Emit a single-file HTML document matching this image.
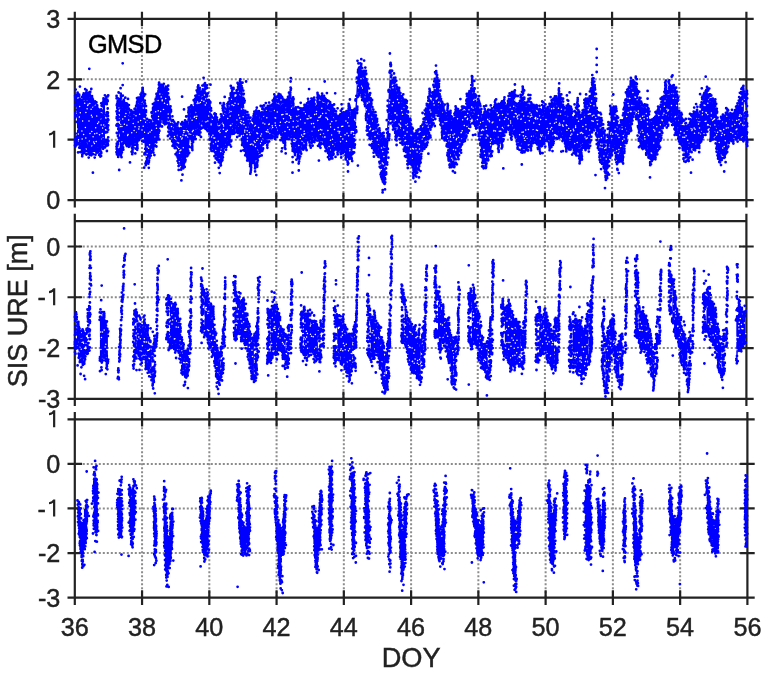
<!DOCTYPE html>
<html><head><meta charset="utf-8"><style>
html,body{margin:0;padding:0;background:#fff;width:768px;height:675px;overflow:hidden}
svg{display:block;font-family:"Liberation Sans",sans-serif;will-change:transform}
</style></head><body>
<svg width="768" height="675" viewBox="0 0 768 675">
<defs><clipPath id="pc"><rect x="73.60" y="17.75" width="674.00" height="183.55"/><rect x="73.60" y="219.90" width="674.00" height="180.10"/><rect x="73.60" y="418.10" width="675.00" height="180.70"/></clipPath></defs>
<rect width="768" height="675" fill="#fff"/>
<path d="M141.96 18.95V200.10M209.12 18.95V200.10M276.28 18.95V200.10M343.44 18.95V200.10M410.60 18.95V200.10M477.76 18.95V200.10M544.92 18.95V200.10M612.08 18.95V200.10M679.24 18.95V200.10M74.80 139.72H746.40M74.80 79.33H746.40M141.96 221.10V398.80M209.12 221.10V398.80M276.28 221.10V398.80M343.44 221.10V398.80M410.60 221.10V398.80M477.76 221.10V398.80M544.92 221.10V398.80M612.08 221.10V398.80M679.24 221.10V398.80M74.80 348.03H746.40M74.80 297.26H746.40M74.80 246.49H746.40M142.06 419.30V597.60M209.32 419.30V597.60M276.58 419.30V597.60M343.84 419.30V597.60M411.10 419.30V597.60M478.36 419.30V597.60M545.62 419.30V597.60M612.88 419.30V597.60M680.14 419.30V597.60M74.80 553.03H747.40M74.80 508.45H747.40M74.80 463.88H747.40" stroke="#8c8c8c" stroke-width="2" stroke-dasharray="2 2" fill="none"/>
<path d="M74.80 18.95H746.40V200.10H74.80ZM74.80 11.65V26.25M74.80 192.80V207.40M141.96 11.65V26.25M141.96 192.80V207.40M209.12 11.65V26.25M209.12 192.80V207.40M276.28 11.65V26.25M276.28 192.80V207.40M343.44 11.65V26.25M343.44 192.80V207.40M410.60 11.65V26.25M410.60 192.80V207.40M477.76 11.65V26.25M477.76 192.80V207.40M544.92 11.65V26.25M544.92 192.80V207.40M612.08 11.65V26.25M612.08 192.80V207.40M679.24 11.65V26.25M679.24 192.80V207.40M746.40 11.65V26.25M746.40 192.80V207.40M67.50 200.10H82.10M739.10 200.10H753.70M67.50 139.72H82.10M739.10 139.72H753.70M67.50 79.33H82.10M739.10 79.33H753.70M67.50 18.95H82.10M739.10 18.95H753.70M74.80 221.10H746.40V398.80H74.80ZM74.80 213.80V228.40M74.80 391.50V406.10M141.96 213.80V228.40M141.96 391.50V406.10M209.12 213.80V228.40M209.12 391.50V406.10M276.28 213.80V228.40M276.28 391.50V406.10M343.44 213.80V228.40M343.44 391.50V406.10M410.60 213.80V228.40M410.60 391.50V406.10M477.76 213.80V228.40M477.76 391.50V406.10M544.92 213.80V228.40M544.92 391.50V406.10M612.08 213.80V228.40M612.08 391.50V406.10M679.24 213.80V228.40M679.24 391.50V406.10M746.40 213.80V228.40M746.40 391.50V406.10M67.50 398.80H82.10M739.10 398.80H753.70M67.50 348.03H82.10M739.10 348.03H753.70M67.50 297.26H82.10M739.10 297.26H753.70M67.50 246.49H82.10M739.10 246.49H753.70M74.80 419.30H747.40V597.60H74.80ZM74.80 412.00V426.60M74.80 590.30V604.90M142.06 412.00V426.60M142.06 590.30V604.90M209.32 412.00V426.60M209.32 590.30V604.90M276.58 412.00V426.60M276.58 590.30V604.90M343.84 412.00V426.60M343.84 590.30V604.90M411.10 412.00V426.60M411.10 590.30V604.90M478.36 412.00V426.60M478.36 590.30V604.90M545.62 412.00V426.60M545.62 590.30V604.90M612.88 412.00V426.60M612.88 590.30V604.90M680.14 412.00V426.60M680.14 590.30V604.90M747.40 412.00V426.60M747.40 590.30V604.90M67.50 597.60H82.10M740.10 597.60H754.70M67.50 553.03H82.10M740.10 553.03H754.70M67.50 508.45H82.10M740.10 508.45H754.70M67.50 463.88H82.10M740.10 463.88H754.70M67.50 419.30H82.10M740.10 419.30H754.70" stroke="#222222" stroke-width="2.2" fill="none"/>
<g clip-path="url(#pc)"><path d="M77 98.9 78 99.8 79 100.7 80 101.8 81 104.9 82 104 83 101.5 84 97.7 85 97.7 86 98.1 87 98.4 88 99.8 89 97.4 90 97.2 91 98.1 92 101.1 93 103.5 94 104.8 95 106.9 96 106.9 97 112.7 98 115.1 99 117 100 116.8 101 113.1 102 115.2 103 107.1 104 106.7 105 104.4 105 142.7 104 140.2 103 139.8 102 142.7 101 151.6 100 150.5 99 151 98 147.5 97 148.5 96 148.1 95 145.9 94 146.8 93 147.5 92 148.1 91 150.7 90 150.1 89 151.7 88 147.3 87 141.9 86 143.3 85 144.9 84 147.5 83 145.9 82 143.8 81 147 80 143.8 79 144.3 78 138.7 77 138.1ZM119.9 103.9 120.9 107.3 121.9 108.2 122.9 105.1 123.9 103.7 124.9 105.2 125.9 109.4 126.9 108.2 127.9 111.1 128.9 109.7 129.9 114.3 130.9 114.7 131.9 117.8 132.9 116.6 133.9 116.6 134.9 113.3 135.9 111 136.9 104.3 137.9 104.2 138.9 102.5 139.9 105.2 140.9 100 141.9 97.6 142.9 94.1 143.9 96.1 144.9 104.8 145.9 114.1 146.9 123.2 147.9 128.2 148.9 127.7 149.9 126.9 150.9 122.5 151.9 117.5 152.9 111.2 153.9 109 154.9 106.2 155.9 102.2 156.9 96 157.9 92.5 158.9 88.7 159.9 90.6 160.9 89.7 161.9 90.3 162.9 90.8 163.9 91.4 164.9 92.5 165.9 89.3 166.9 91.9 167.9 92.9 168.9 100.2 169.9 107.4 170.9 114.9 171.9 120.8 172.9 125 173.9 129.5 174.9 129.1 175.9 129.4 176.9 129 177.9 132.3 178.9 132.9 179.9 132.1 180.9 128.2 181.9 127.1 182.9 127 183.9 124.6 184.9 124.8 185.9 124.7 186.9 129.1 187.9 126.4 188.9 121.3 189.9 116 190.9 111.7 191.9 110.1 192.9 111.4 193.9 111.3 194.9 108.3 195.9 100.8 196.9 98.1 197.9 97.5 198.9 98.9 199.9 98.1 200.9 93.9 201.9 92.5 202.9 88.5 203.9 90.6 204.9 87.8 205.9 92.2 206.9 98.9 207.9 103.8 208.9 107.7 209.9 106.2 210.9 113.8 211.9 120.5 212.9 123.7 213.9 120.7 214.9 117.7 215.9 118.5 216.9 121.8 217.9 126.7 218.9 127.3 219.9 126.7 220.9 120.4 221.9 118.1 222.9 108.8 223.9 107.8 224.9 111.1 225.9 115.3 226.9 114 227.9 115.8 228.9 108.2 229.9 102.8 230.9 97.4 231.9 92.7 232.9 94.2 233.9 91.8 234.9 99.2 235.9 96.8 236.9 94.7 237.9 87.8 238.9 87.5 239.9 90.7 240.9 92.9 241.9 92.7 242.9 97.8 243.9 101.9 244.9 114.9 245.9 117.7 246.9 120.6 247.9 119.5 248.9 121 249.9 125.8 250.9 127.5 251.9 129.1 252.9 124.7 253.9 120.5 254.9 118.9 255.9 116.6 256.9 115.2 257.9 114.5 258.9 114.9 259.9 118.7 260.9 116.9 261.9 113.9 262.9 113 263.9 113.7 264.9 113.7 265.9 112.5 266.9 112.9 267.9 109.7 268.9 107.7 269.9 107.1 270.9 112.5 271.9 109.4 272.9 104 273.9 98.8 274.9 100 275.9 101.3 276.9 104.3 277.9 100.2 278.9 101.5 279.9 101.8 280.9 106.2 281.9 108.7 282.9 103.5 283.9 104.2 284.9 104 285.9 108.7 286.9 103.7 287.9 103.8 288.9 99.8 289.9 95.7 290.9 89.5 291.9 101.6 292.9 109.5 293.9 111.6 294.9 115.5 295.9 116.2 296.9 118.4 297.9 117.2 298.9 117.1 299.9 112.1 300.9 111.8 301.9 112.8 302.9 112.9 303.9 112.8 304.9 110.6 305.9 108.1 306.9 108.3 307.9 108.5 308.9 108.5 309.9 107.9 310.9 107.7 311.9 106.3 312.9 103.7 313.9 104.7 314.9 106.6 315.9 106.6 316.9 107.9 317.9 106.5 318.9 105.9 319.9 102.5 320.9 100.8 321.9 98.4 322.9 98.2 323.9 99 324.9 103.1 325.9 105.7 326.9 105.7 327.9 110.5 328.9 106.8 329.9 112.6 330.9 111.5 331.9 115.7 332.9 111.9 333.9 113.5 334.9 118.5 335.9 123.2 336.9 121.7 337.9 119.1 338.9 115.7 339.9 118.7 340.9 117.3 341.9 117.4 342.9 118.2 343.9 117.3 344.9 116.7 345.9 116.6 346.9 116 347.9 114 348.9 111.1 349.9 111.7 350.9 116.4 351.9 117.3 352.9 116.1 353.9 114.9 354.9 113.4 355.9 100.8 356.9 82.5 357.9 72.7 358.9 69.5 359.9 67.8 360.9 66.5 361.9 71.9 362.9 73.9 363.9 75.2 364.9 75.5 365.9 78 366.9 85 367.9 88 368.9 96.7 369.9 98.4 370.9 103 371.9 111 372.9 114.1 373.9 121.8 374.9 120 375.9 119.7 376.9 123.8 377.9 129.1 378.9 135.2 379.9 135.7 380.9 140.3 381.9 137.6 382.9 140.9 383.9 140.7 384.9 144.5 385.9 141.2 386.9 132.2 387.9 109.9 388.9 90.1 389.9 70.7 390.9 69.9 391.9 75.2 392.9 80.6 393.9 81.9 394.9 84.7 395.9 89.2 396.9 93.3 397.9 94.9 398.9 92.1 399.9 96 400.9 98.2 401.9 103.2 402.9 101.7 403.9 105.2 404.9 105 405.9 104.5 406.9 107.6 407.9 116.5 408.9 123.1 409.9 127.1 410.9 128.8 411.9 130.4 412.9 132.6 413.9 137.6 414.9 139.8 415.9 139.1 416.9 136.5 417.9 137.7 418.9 133.6 419.9 134.6 420.9 132.1 421.9 132.2 422.9 128.4 423.9 122.9 424.9 117.3 425.9 112.2 426.9 108.7 427.9 105 428.9 100.8 429.9 99.3 430.9 101.2 431.9 98.3 432.9 94.7 433.9 86.2 434.9 80.9 435.9 76.7 436.9 79.8 437.9 82.4 438.9 88.5 439.9 95.5 440.9 100.5 441.9 106.5 442.9 105.5 443.9 113 444.9 113.2 445.9 118.7 446.9 115.9 447.9 117.4 448.9 114.9 449.9 115.4 450.9 115.4 451.9 120.9 452.9 125.9 453.9 122.8 454.9 119.2 455.9 113.7 456.9 114.8 457.9 115.7 458.9 114.9 459.9 116 460.9 114.9 461.9 111.2 462.9 111.4 463.9 111.4 464.9 114.1 465.9 107.7 466.9 100.1 467.9 99.4 468.9 97.4 469.9 94.5 470.9 88.2 471.9 89.8 472.9 93.7 473.9 90.5 474.9 93.9 475.9 95.9 476.9 105.2 477.9 103.5 478.9 106.2 479.9 108.7 480.9 114 481.9 120.2 482.9 116.2 483.9 116 484.9 114.4 485.9 117.1 486.9 115.9 487.9 116.7 488.9 118.2 489.9 118.3 490.9 115 491.9 113.8 492.9 111.7 493.9 110.5 494.9 107.6 495.9 107.3 496.9 107.7 497.9 107.8 498.9 108.3 499.9 107.7 500.9 110.2 501.9 110.3 502.9 109.7 503.9 104.7 504.9 105 505.9 108.2 506.9 111.6 507.9 109.8 508.9 103.1 509.9 101.4 510.9 98.5 511.9 102.6 512.9 95.3 513.9 95.6 514.9 96.4 515.9 108 516.9 111.3 517.9 109.6 518.9 105.9 519.9 105 520.9 101.1 521.9 98.2 522.9 98.6 523.9 102.7 524.9 105.2 525.9 108.1 526.9 107.1 527.9 106.3 528.9 103.3 529.9 107.6 530.9 108.5 531.9 110 532.9 109.3 533.9 109.2 534.9 110.2 535.9 109.7 536.9 112 537.9 112.9 538.9 114.5 539.9 112 540.9 112.7 541.9 109.6 542.9 113.7 543.9 110.1 544.9 112.7 545.9 110.4 546.9 113.8 547.9 111.9 548.9 111.9 549.9 106.7 550.9 107.7 551.9 104.8 552.9 107.2 553.9 101.8 554.9 100.5 555.9 99.6 556.9 102.4 557.9 104.3 558.9 102.1 559.9 98.2 560.9 98.6 561.9 100.9 562.9 105.6 563.9 110.5 564.9 116.1 565.9 115.5 566.9 110.7 567.9 105 568.9 107.8 569.9 106.7 570.9 111.2 571.9 112.7 572.9 120.8 573.9 121.9 574.9 118.6 575.9 112.6 576.9 110 577.9 111.7 578.9 115.9 579.9 119.9 580.9 119.6 581.9 119.9 582.9 116.2 583.9 112.4 584.9 107.1 585.9 101.8 586.9 103.3 587.9 104.8 588.9 106.1 589.9 99 590.9 91.8 591.9 85.9 592.9 89.8 593.9 85.1 594.9 91.6 595.9 99.4 596.9 112.8 597.9 116.6 598.9 121.4 599.9 121.4 600.9 121.7 601.9 129.3 602.9 130.9 603.9 143.5 604.9 144.3 605.9 154.9 606.9 143.5 607.9 138.9 608.9 128.8 609.9 124.7 610.9 118 611.9 116.7 612.9 115 613.9 109.9 614.9 111.4 615.9 111.4 616.9 115.6 617.9 122.2 618.9 127.5 619.9 129.7 620.9 124.9 621.9 123.3 622.9 119.4 623.9 112.6 624.9 104.7 625.9 98.1 626.9 94.6 627.9 94.7 628.9 91.2 629.9 89.9 630.9 85.2 631.9 85 632.9 85.3 633.9 86.9 634.9 88.2 635.9 86.7 636.9 88.9 637.9 93.5 638.9 101.7 639.9 101.8 640.9 106.4 641.9 108 642.9 113.2 643.9 113.1 644.9 110.3 645.9 110.2 646.9 108.4 647.9 111.3 648.9 116.2 649.9 123.4 650.9 124.8 651.9 124.3 652.9 123 653.9 122.4 654.9 121 655.9 118.3 656.9 116.5 657.9 114.2 658.9 113.8 659.9 111.7 660.9 109 661.9 102.8 662.9 100.7 663.9 96.7 664.9 94.6 665.9 94.3 666.9 96.2 667.9 98.9 668.9 94 669.9 92.5 670.9 90.7 671.9 90.1 672.9 90 673.9 89.1 674.9 94.5 675.9 94.7 676.9 98.3 677.9 101.4 678.9 115 679.9 121.2 680.9 127.6 681.9 123.2 682.9 129.9 683.9 127.8 684.9 127.1 685.9 126.8 686.9 128.5 687.9 129.3 688.9 129 689.9 122.9 690.9 123.3 691.9 118.8 692.9 122.1 693.9 116.3 694.9 116.9 695.9 112.7 696.9 115 697.9 116.1 698.9 119.8 699.9 115.6 700.9 109.8 701.9 102.5 702.9 101.2 703.9 99.5 704.9 93.7 705.9 94.5 706.9 91.3 707.9 95.2 708.9 95.5 709.9 99.3 710.9 99.6 711.9 99.8 712.9 103.3 713.9 105.3 714.9 106.6 715.9 108.1 716.9 115.4 717.9 122.3 718.9 126.7 719.9 125 720.9 122.4 721.9 123.6 722.9 121 723.9 120.3 724.9 116.6 725.9 113.2 726.9 110.9 727.9 113.6 728.9 116.6 729.9 116.8 730.9 118.3 731.9 118.9 732.9 121.1 733.9 117.7 734.9 115.1 735.9 114.3 736.9 111.7 737.9 106.9 738.9 102.9 739.9 99.8 740.9 97.7 741.9 91.7 742.9 90.4 743.9 91.7 743.9 127.7 742.9 129.9 741.9 131.4 740.9 134.1 739.9 133.7 738.9 135 737.9 137.2 736.9 138.4 735.9 135.1 734.9 131.7 733.9 136.3 732.9 138.6 731.9 137.3 730.9 134.6 729.9 135.7 728.9 140.4 727.9 142.5 726.9 148.2 725.9 149.7 724.9 156 723.9 154 722.9 153.7 721.9 153.1 720.9 154.2 719.9 156.1 718.9 157.3 717.9 153.1 716.9 144.3 715.9 138 714.9 129 713.9 131.6 712.9 125.8 711.9 127.2 710.9 127.3 709.9 121.7 708.9 118.3 707.9 118.1 706.9 125.7 705.9 127.2 704.9 125.6 703.9 126.6 702.9 131.4 701.9 134.2 700.9 137.7 699.9 139.3 698.9 143.2 697.9 141.4 696.9 141.3 695.9 142.1 694.9 146 693.9 146.8 692.9 145.9 691.9 146 690.9 144.5 689.9 146.5 688.9 150.5 687.9 156.2 686.9 154 685.9 152.4 684.9 150.2 683.9 153.5 682.9 148.2 681.9 142.3 680.9 136.9 679.9 139 678.9 137.4 677.9 130.9 676.9 128.8 675.9 128.3 674.9 127 673.9 120.2 672.9 116.3 671.9 115.7 670.9 115.4 669.9 112.2 668.9 114 667.9 119.7 666.9 121.7 665.9 117.9 664.9 117.3 663.9 118.9 662.9 125.1 661.9 127.4 660.9 135.5 659.9 137.7 658.9 141.6 657.9 145.8 656.9 148.3 655.9 150.3 654.9 152.1 653.9 154.6 652.9 155.4 651.9 156.7 650.9 158.2 649.9 159.6 648.9 152.7 647.9 149.7 646.9 142.8 645.9 145.3 644.9 146.2 643.9 145.5 642.9 142.1 641.9 139 640.9 141.9 639.9 136.7 638.9 130.4 637.9 123.4 636.9 118.5 635.9 113.8 634.9 108.7 633.9 110.1 632.9 115.6 631.9 120.4 630.9 123.4 629.9 123 628.9 126.6 627.9 124.8 626.9 129.3 625.9 130.9 624.9 141.3 623.9 149 622.9 153.1 621.9 152 620.9 152.9 619.9 156 618.9 160 617.9 160.2 616.9 159.5 615.9 157.9 614.9 148.3 613.9 144.7 612.9 141.1 611.9 144.5 610.9 145 609.9 152.2 608.9 161.7 607.9 167.7 606.9 173.6 605.9 173.5 604.9 167.5 603.9 163.9 602.9 159 601.9 159.5 600.9 158.1 599.9 156.1 598.9 150.8 597.9 143.2 596.9 137.1 595.9 130.3 594.9 126 593.9 125.3 592.9 126.3 591.9 126.5 590.9 136.2 589.9 141.4 588.9 143.4 587.9 142.2 586.9 144.6 585.9 145.2 584.9 143.2 583.9 142.2 582.9 141.9 581.9 145.9 580.9 147 579.9 149.8 578.9 146.8 577.9 146.1 576.9 147.1 575.9 148.9 574.9 147.7 573.9 145.9 572.9 142.9 571.9 142.4 570.9 144.2 569.9 143.9 568.9 144.8 567.9 142.8 566.9 141.6 565.9 139.4 564.9 138 563.9 137.3 562.9 137.5 561.9 133.5 560.9 134.2 559.9 127.9 558.9 130.8 557.9 131.5 556.9 133.2 555.9 132.8 554.9 131.5 553.9 134.5 552.9 138.9 551.9 141.6 550.9 142.2 549.9 139.8 548.9 138.2 547.9 135.2 546.9 136.6 545.9 132.6 544.9 136.7 543.9 135.8 542.9 139.3 541.9 140.2 540.9 144.4 539.9 149 538.9 146.8 537.9 144.6 536.9 142.4 535.9 140 534.9 136.7 533.9 131.4 532.9 137 531.9 140 530.9 141.5 529.9 135.7 528.9 137.9 527.9 141.6 526.9 145.9 525.9 144 524.9 144.1 523.9 146.6 522.9 147.6 521.9 146.6 520.9 141.4 519.9 140.4 518.9 140.8 517.9 143.7 516.9 140.7 515.9 134.1 514.9 129.9 513.9 128.1 512.9 128.9 511.9 127.1 510.9 127.6 509.9 127.7 508.9 124.3 507.9 123.4 506.9 122.4 505.9 125.1 504.9 125.3 503.9 131.2 502.9 135.3 501.9 134.8 500.9 134.3 499.9 135.9 498.9 141.5 497.9 139.4 496.9 138.7 495.9 137.1 494.9 137 493.9 134.8 492.9 140.4 491.9 147.1 490.9 151.5 489.9 148.7 488.9 148.6 487.9 155.2 486.9 158.8 485.9 164.1 484.9 164.2 483.9 161.8 482.9 158.8 481.9 155.5 480.9 149.6 479.9 140.3 478.9 132.3 477.9 123.9 476.9 123.1 475.9 122.6 474.9 122.2 473.9 117.9 472.9 113.5 471.9 111.8 470.9 111.6 469.9 119.6 468.9 123.3 467.9 129.6 466.9 130.9 465.9 134.1 464.9 133.9 463.9 134.3 462.9 137.9 461.9 141 460.9 148 459.9 148.1 458.9 152.2 457.9 152.4 456.9 153.6 455.9 154.8 454.9 159.7 453.9 164.3 452.9 164.8 451.9 164.6 450.9 161.9 449.9 164.3 448.9 156.5 447.9 151.5 446.9 141.2 445.9 136.4 444.9 133.5 443.9 134.7 442.9 131.1 441.9 127.3 440.9 121.2 439.9 117.4 438.9 111.1 437.9 107.3 436.9 108.5 435.9 108.9 434.9 111.7 433.9 113.3 432.9 116.8 431.9 120.9 430.9 123.4 429.9 125.7 428.9 132.4 427.9 133.6 426.9 140.9 425.9 139.2 424.9 143.5 423.9 139.4 422.9 143 421.9 146 420.9 155 419.9 158.9 418.9 161.8 417.9 164.1 416.9 168.5 415.9 169 414.9 170.5 413.9 164.4 412.9 165 411.9 160.7 410.9 159.9 409.9 154.7 408.9 158.9 407.9 160.8 406.9 157.2 405.9 149 404.9 145.8 403.9 144.6 402.9 140.3 401.9 136.8 400.9 134.5 399.9 132.4 398.9 129.5 397.9 130.1 396.9 133.3 395.9 132.3 394.9 130.8 393.9 125.8 392.9 122.6 391.9 115.1 390.9 113 389.9 115.1 388.9 136.1 387.9 148.8 386.9 161.9 385.9 169.6 384.9 176.7 383.9 179.7 382.9 177.9 381.9 176.7 380.9 172 379.9 162.3 378.9 152.4 377.9 147.2 376.9 147.8 375.9 147.7 374.9 146.1 373.9 148.9 372.9 143 371.9 141.8 370.9 135.1 369.9 136 368.9 134.5 367.9 130.6 366.9 128.1 365.9 114.4 364.9 100.6 363.9 94 362.9 94.8 361.9 93.1 360.9 91 359.9 88.6 358.9 89 357.9 92.2 356.9 105.4 355.9 128.6 354.9 141.7 353.9 145 352.9 147.8 351.9 153.9 350.9 154.6 349.9 154.6 348.9 154.8 347.9 159 346.9 154 345.9 154 344.9 146.5 343.9 145.4 342.9 144.4 341.9 148.4 340.9 150.1 339.9 147.1 338.9 144.7 337.9 144 336.9 143.7 335.9 144.3 334.9 145.6 333.9 148.4 332.9 151.5 331.9 153.6 330.9 154.1 329.9 152 328.9 150.4 327.9 149.5 326.9 145.2 325.9 144.1 324.9 142.5 323.9 141 322.9 136.2 321.9 135.3 320.9 138.4 319.9 139 318.9 138.4 317.9 138.2 316.9 135.8 315.9 132.2 314.9 128.4 313.9 131.7 312.9 134.4 311.9 138.8 310.9 139.1 309.9 138.2 308.9 134.6 307.9 132.2 306.9 138.1 305.9 138.2 304.9 143.6 303.9 141.4 302.9 145.2 301.9 144.9 300.9 148.3 299.9 150.9 298.9 157.4 297.9 153.8 296.9 153.4 295.9 146.7 294.9 149.4 293.9 149.3 292.9 148.5 291.9 141.9 290.9 133.3 289.9 133.1 288.9 134.8 287.9 131.2 286.9 133.1 285.9 135.3 284.9 136.9 283.9 138.4 282.9 135.7 281.9 135.3 280.9 132 279.9 128.9 278.9 128.1 277.9 128.8 276.9 132.8 275.9 133.9 274.9 135.4 273.9 131.2 272.9 134.5 271.9 133 270.9 133.6 269.9 131 268.9 135.3 267.9 137.9 266.9 140.4 265.9 136.9 264.9 138.7 263.9 141.3 262.9 144.6 261.9 151 260.9 148.1 259.9 148.4 258.9 145.2 257.9 145 256.9 153.2 255.9 157.5 254.9 164.2 253.9 160.5 252.9 158.5 251.9 157.9 250.9 160.1 249.9 162.2 248.9 157.9 247.9 155.2 246.9 149.6 245.9 148.5 244.9 147.2 243.9 145.3 242.9 144.4 241.9 135.5 240.9 132.1 239.9 127.7 238.9 126.1 237.9 126.5 236.9 126.8 235.9 123.8 234.9 120.4 233.9 121.7 232.9 126.8 231.9 132.4 230.9 138.2 229.9 140.7 228.9 139.6 227.9 140.1 226.9 141.3 225.9 143.8 224.9 142.2 223.9 144.3 222.9 151.2 221.9 156.4 220.9 159.7 219.9 157.3 218.9 158.7 217.9 154.6 216.9 155.6 215.9 153.6 214.9 153.1 213.9 149.3 212.9 147.2 211.9 146.3 210.9 143.7 209.9 137.3 208.9 130.6 207.9 128.9 206.9 125.8 205.9 124.7 204.9 121.1 203.9 122.6 202.9 122.8 201.9 122.6 200.9 125 199.9 127.3 198.9 130.7 197.9 127.3 196.9 126.3 195.9 129 194.9 132.7 193.9 135.1 192.9 136.1 191.9 136.5 190.9 137.4 189.9 137.9 188.9 148.1 187.9 151.2 186.9 154.6 185.9 155.5 184.9 159.3 183.9 163.2 182.9 163.6 181.9 159.3 180.9 158.3 179.9 157.3 178.9 161.5 177.9 157.1 176.9 151 175.9 143.9 174.9 142.4 173.9 141.3 172.9 141 171.9 137.4 170.9 132.8 169.9 132.4 168.9 127.9 167.9 125 166.9 116.1 165.9 115.2 164.9 112.3 163.9 112.4 162.9 113 161.9 115.7 160.9 119.4 159.9 125.1 158.9 130.5 157.9 134.6 156.9 135.5 155.9 139.1 154.9 142 153.9 142.6 152.9 144.9 151.9 147.5 150.9 151.7 149.9 152.4 148.9 157.2 147.9 158.8 146.9 160.5 145.9 160.7 144.9 149.6 143.9 137 142.9 131 141.9 132.9 140.9 133.4 139.9 133.6 138.9 135.2 137.9 133.7 136.9 136.2 135.9 138.5 134.9 140.7 133.9 138.9 132.9 140.6 131.9 140.3 130.9 140.3 129.9 138.8 128.9 140.8 127.9 141.5 126.9 142 125.9 139.8 124.9 138.3 123.9 138.7 122.9 142.8 121.9 145.8 120.9 148.4 119.9 150.5ZM77 320.8 78 326.2 79 333.3 80 338.1 81 339.6 82 339.2 83 334.5 84 335.1 85 337.9 85 357.8 84 359.4 83 357.7 82 356.6 81 358.1 80 357.5 79 354.2 78 347.4 77 342.6ZM99.9 318 100.9 317.3 101.9 319.2 102.9 322.7 103.9 325.7 104.9 323.8 105.9 327.4 106.9 331 107.9 336.3 107.9 360.9 106.9 357.8 105.9 356.4 104.9 352.5 103.9 355.4 102.9 353.5 101.9 359.6 100.9 356.2 99.9 357.4ZM136.6 321.3 137.6 324.5 138.6 325.7 139.6 323.8 140.6 331.5 141.6 330.1 142.6 329.9 143.6 323.1 144.6 325 145.6 328.9 146.6 331.3 147.6 338.9 148.6 341.9 149.6 344.8 150.6 345.2 151.6 352.6 151.6 372.5 150.6 366.7 149.6 367.3 148.6 364.9 147.6 366 146.6 355.1 145.6 355.4 144.6 349.4 143.6 351.9 142.6 351.4 141.6 355.5 140.6 355.6 139.6 355.2 138.6 350.9 137.6 348.9 136.6 348.6ZM169.9 304.2 170.9 304.2 171.9 310.2 172.9 310 173.9 312.9 174.9 310.2 175.9 311.7 176.9 315.4 177.9 322.6 178.9 325 179.9 327.3 180.9 331.4 181.9 340 182.9 346.4 183.9 355.3 184.9 360.2 185.9 361.3 185.9 372.5 184.9 372.4 183.9 373.1 182.9 369.1 181.9 366 180.9 356 179.9 351.6 178.9 346.5 177.9 347.4 176.9 345 175.9 345.7 174.9 346.5 173.9 343.6 172.9 343.9 171.9 344.2 170.9 344 169.9 341.3ZM204.4 297.1 205.4 298.5 206.4 298.1 207.4 300 208.4 306.3 209.4 311.3 210.4 318.3 211.4 317.3 212.4 322.9 213.4 320.2 214.4 329.4 215.4 334.7 216.4 344.6 217.4 350.7 218.4 353.5 219.4 360.8 220.4 355 220.4 376.2 219.4 380.5 218.4 377.9 217.4 376.2 216.4 375.9 215.4 366.5 214.4 362.1 213.4 352.4 212.4 350 211.4 346.4 210.4 346.2 209.4 345.8 208.4 340.4 207.4 337 206.4 334.8 205.4 330.9 204.4 328.6ZM236.9 303.1 237.9 300.4 238.9 300.2 239.9 300.9 240.9 306.5 241.9 308.4 242.9 308.5 243.9 308.8 244.9 314.1 245.9 318.6 246.9 318.9 247.9 325.7 248.9 329 249.9 335.4 250.9 336.9 251.9 343.3 252.9 342.9 253.9 343.5 253.9 374.7 252.9 374.5 251.9 374.1 250.9 368.3 249.9 363.5 248.9 356.3 247.9 350.8 246.9 341.7 245.9 339.4 244.9 337.4 243.9 337.1 242.9 336.4 241.9 336.7 240.9 336 239.9 330.6 238.9 327.7 237.9 328.3 236.9 329.9ZM270.7 315.5 271.7 313.9 272.7 309.7 273.7 306.3 274.7 306.5 275.7 309.3 276.7 311.5 277.7 313.4 278.7 315.5 279.7 321.5 280.7 328.9 281.7 333.8 282.7 335.4 283.7 336.2 284.7 339.8 285.7 339.1 285.7 359.5 284.7 356.5 283.7 353.3 282.7 350 281.7 349.1 280.7 349.6 279.7 344.6 278.7 343.7 277.7 345.5 276.7 349.8 275.7 350.4 274.7 348.5 273.7 348.7 272.7 349 271.7 353.6 270.7 355.5ZM303.9 312 304.9 315 305.9 318.5 306.9 320.1 307.9 315.7 308.9 318.4 309.9 319.2 310.9 328.7 311.9 324.4 312.9 325.8 313.9 324.7 314.9 326.7 315.9 330.7 316.9 328 317.9 333 317.9 351.7 316.9 350.8 315.9 356.7 314.9 355.9 313.9 354.9 312.9 347.8 311.9 348 310.9 346.4 309.9 347.4 308.9 351.5 307.9 351.5 306.9 353.6 305.9 350.9 304.9 351.1 303.9 350.9ZM337.2 323.7 338.2 326.1 339.2 323.9 340.2 324.5 341.2 323.7 342.2 325.2 343.2 320.1 344.2 326.9 345.2 330.3 346.2 337 347.2 338 348.2 339.1 349.2 340.7 350.2 339.2 351.2 340.2 352.2 334.4 352.2 363 351.2 366.4 350.2 369 349.2 367.9 348.2 367 347.2 365.8 346.2 365.5 345.2 361.6 344.2 355.7 343.2 356.3 342.2 358.2 341.2 359.8 340.2 356.1 339.2 355.1 338.2 351.4 337.2 353.5ZM370.7 319.6 371.7 324.5 372.7 323.8 373.7 322.9 374.7 323 375.7 325.4 376.7 329.3 377.7 331.3 378.7 328.4 379.7 330.6 380.7 339.4 381.7 344.6 382.7 347.5 383.7 351.4 384.7 360.6 385.7 361 385.7 379.8 384.7 384.5 383.7 379.9 382.7 378.8 381.7 371.5 380.7 362.6 379.7 354.9 378.7 351.4 377.7 350.1 376.7 349.3 375.7 351.2 374.7 353.6 373.7 353.7 372.7 354 371.7 352.1 370.7 355ZM404.7 303.6 405.7 311 406.7 320.4 407.7 322.2 408.7 325.7 409.7 326 410.7 325.8 411.7 328.7 412.7 329.7 413.7 330.5 414.7 327.6 415.7 334.5 416.7 338.7 417.7 344.3 418.7 339.3 419.7 347.1 420.7 349.4 420.7 377.3 419.7 375.2 418.7 373.4 417.7 370.9 416.7 370.9 415.7 369.6 414.7 369.9 413.7 371.5 412.7 372.2 411.7 369.4 410.7 364.5 409.7 358.5 408.7 357.7 407.7 350.4 406.7 347.4 405.7 343 404.7 342.6ZM438 295.2 439 295.7 440 301.1 441 306.6 442 315.8 443 318.3 444 322 445 324.3 446 324.4 447 326.9 448 323.8 449 327 450 332.5 451 339.5 452 344.8 453 345.9 453 376.6 452 372.4 451 367.3 450 361.5 449 356.4 448 351.9 447 349.1 446 348.6 445 341.7 444 338.5 443 335.3 442 340 441 345.5 440 344.6 439 342.6 438 334.3ZM471.8 300.6 472.8 298.5 473.8 298.1 474.8 306 475.8 310.3 476.8 313.4 477.8 316.1 478.8 318.7 479.8 327.1 480.8 330.3 481.8 340.5 482.8 342.6 483.8 349 484.8 349.9 485.8 349.4 486.8 345.6 487.8 346 487.8 372.8 486.8 367.9 485.8 368.7 484.8 368.9 483.8 363.9 482.8 364 481.8 359.4 480.8 363.4 479.8 356.7 478.8 351.5 477.8 343.9 476.8 342.7 475.8 339.8 474.8 335.5 473.8 335.5 472.8 338.6 471.8 344.5ZM504.8 313.4 505.8 317.2 506.8 310.7 507.8 309.9 508.8 306.1 509.8 308.4 510.8 310.8 511.8 315.6 512.8 320.5 513.8 323.9 514.8 324.9 515.8 325.9 516.8 329.8 517.8 330.9 518.8 329.4 519.8 329.5 520.8 335.2 520.8 363.6 519.8 361.6 518.8 362.3 517.8 361.7 516.8 360.2 515.8 359.5 514.8 363.3 513.8 361.7 512.8 363.1 511.8 360.9 510.8 364.3 509.8 359.6 508.8 358.2 507.8 355.1 506.8 352.4 505.8 353.4 504.8 350.9ZM539.1 314.4 540.1 316.2 541.1 319.8 542.1 326.4 543.1 321.2 544.1 316.9 545.1 312.8 546.1 315.9 547.1 322.8 548.1 323.1 549.1 327.7 550.1 329.2 551.1 335.2 552.1 336.9 553.1 335.7 554.1 332.1 554.1 361.4 553.1 361.8 552.1 364.1 551.1 360.5 550.1 358.1 549.1 357.4 548.1 356.8 547.1 356.5 546.1 347.4 545.1 344.9 544.1 344 543.1 348.9 542.1 347.5 541.1 350.9 540.1 351.3 539.1 355.2ZM572.6 328.9 573.6 325.8 574.6 325.8 575.6 323.4 576.6 323.5 577.6 324.3 578.6 324.6 579.6 325.4 580.6 324.3 581.6 331 582.6 330 583.6 335.4 584.6 330.2 585.6 329.3 586.6 322.3 587.6 319.5 588.6 319.1 588.6 359.5 587.6 359.8 586.6 365.1 585.6 368.5 584.6 369.5 583.6 368.6 582.6 372.5 581.6 375.8 580.6 371.6 579.6 367.6 578.6 368.8 577.6 369.5 576.6 366.7 575.6 362.6 574.6 362.1 573.6 364.4 572.6 361.8ZM605.3 343.1 606.3 345.3 607.3 343.2 608.3 336.5 609.3 333.8 610.3 325.9 611.3 324.6 612.3 323.4 613.3 319 614.3 325.1 615.3 338 616.3 351 617.3 349.1 618.3 348.6 619.3 346 619.3 377 618.3 376.1 617.3 370.3 616.3 372.6 615.3 362.7 614.3 355.2 613.3 345.1 612.3 350 611.3 353.2 610.3 357.3 609.3 365.8 608.3 375.9 607.3 385.5 606.3 389.2 605.3 385.9ZM638.5 302 639.5 313.7 640.5 316.4 641.5 316.9 642.5 315.6 643.5 318.8 644.5 321.2 645.5 325.4 646.5 325.9 647.5 328.7 648.5 330.5 649.5 335.5 650.5 337.6 651.5 343.8 652.5 351.7 653.5 360 654.5 357.8 654.5 373 653.5 376.8 652.5 374.4 651.5 370.1 650.5 364.3 649.5 360.6 648.5 358.5 647.5 359.3 646.5 354.5 645.5 349.4 644.5 344.4 643.5 342.7 642.5 344.8 641.5 346.9 640.5 344.5 639.5 338.8 638.5 334.6ZM672.3 283.6 673.3 285.2 674.3 291.8 675.3 297.4 676.3 300.4 677.3 311.3 678.3 317 679.3 323.1 680.3 324 681.3 328.8 682.3 333.4 683.3 336.2 684.3 335.4 685.3 341.4 686.3 344.6 687.3 346.7 687.3 378.3 686.3 371.7 685.3 364.1 684.3 365.4 683.3 360.2 682.3 357 681.3 348.9 680.3 349.4 679.3 342.8 678.3 339.8 677.3 335.7 676.3 335.6 675.3 329.5 674.3 327.6 673.3 318.6 672.3 317.1ZM706.4 303.4 707.4 296.9 708.4 292.8 709.4 293.5 710.4 299.2 711.4 303.9 712.4 306.3 713.4 307.6 714.4 310.3 715.4 312.4 716.4 319.2 717.4 326.9 718.4 334.5 719.4 341 720.4 343.4 721.4 348.2 721.4 372.3 720.4 370.7 719.4 366.2 718.4 355.5 717.4 351.4 716.4 344.8 715.4 344.9 714.4 341.4 713.4 339 712.4 339.1 711.4 336.5 710.4 333.6 709.4 331.6 708.4 327.8 707.4 326.6 706.4 326.3ZM736.3 318.8 737.3 316.6 738.3 313.3 739.3 313.4 740.3 312.2 741.3 315 742.3 316.4 743.3 319.5 744.3 314.7 745.3 314.3 745.3 337.5 744.3 337.3 743.3 340.5 742.3 342.6 741.3 347.4 740.3 343.2 739.3 346.6 738.3 347.5 737.3 357.8 736.3 360.1Z" fill="#0000ff"/><path d="M77.1 129h0m-0.4-13.7h0m1.7 18.7h0m0.1 5.7h0m0.9-22.7h0m0.4-10.5h0m0.5 6.3h0m0.9 32h0m0-2.2h0m0.7-11.5h0m0.2 7.9h0m0.7-35.6h0m-0.2 17.7h0m1 13.4h0m0.6-34.8h0m0.5 3.6h0m0.7 24.3h0m0.5-15.1h0m-0.1 25.4h0m1.5-38h0m-0.2 8.8h0m1-4.4h0m-0.4 1.3h0m1.5 35.3h0m-0.2-19.8h0m1 12.4h0m-0.2-30.1h0m1.4 45.9h0m-0.1-40h0m0.3 5.9h0m0.8 1.7h0m-0.3 29.1h0m-0.1-14.5h0m0.9-24.4h0m0.4 29.7h0m1.3 6.8h0m-0.7-1.6h0m1-8.2h0m0.8-25.6h0m0.2 19.6h0m0.5 13.6h0m0.7-8.2h0m-0.1-17.2h0m0.8 7.4h0m1.1-1.5h0m0.8 12.8h0m1.7-9.7h0m-0.4-6.3h0m1.5 14.7h0m-0.3 5.7h0m1.2-1h0m-0.6-10.1h0m1.1-2.9h0m1.4 1.6h0m-0.2-20.9h0m0.6 9.7h0m0.8 11.4h0m0.6-9.4h0m0.6 21.2h0m0.1-8.2h0m0.5-0.2h0m8.5-15.3h0m0.4 19.4h0m1.4-23.9h0m-0.5 10.4h0m1.3-13.9h0m0 9.9h0m1.1 9.6h0m-0.7-6.3h0m1.1-11.3h0m-0.2 15.5h0m1.4 2h0m0.1 15.4h0m0.7-22.7h0m0.5 12.6h0m1.2-7.5h0m0.3 12.3h0m0.3-20.1h0m0.9-2.8h0m1 11.6h0m0.7 10.3h0m0.4-1h0m1.2-19h0m-0.5 4.5h0m1.2-4.4h0m0.9 0.2h0m0.9 17h0m1.5-9.4h0m-0.2-4.9h0m1.1 12.1h0m0.6 7.4h0m0.3-11.3h0m1-11h0m0.6 16.9h0m1-27.1h0m0.6 16.5h0m0.6 7.1h0m0.3-2.4h0m0.5-12.4h0m1 6.2h0m-0.1-16.1h0m1.4-2.4h0m0.1 28.1h0m1.2-3.8h0m0.1-18.2h0m0.7 10.4h0m0.1-14.7h0m0.4 28.4h0m0.7-13.2h0m0.5 3.2h0m0.5 34h0m0.8-2.6h0m0.3-6.6h0m1-13.7h0m0.3 14.9h0m1-3.4h0m0.4-12.9h0m1.3-8.4h0m0.5-3.2h0m-0.2 9.9h0m1-8.6h0m0.8-9.2h0m1.7 24.6h0m0.6-25.2h0m0.4 13.4h0m0.6-27.7h0m-0.2 30.8h0m1.7-17.6h0m-0.1-10.1h0m0.5 15.8h0m-0.2 3h0m1.4-25.3h0m0.1 26.5h0m1.3-23.7h0m-0.4 14.5h0m1.4-11.4h0m0 0.7h0m0.4-7.1h0m0.9 15.8h0m1-6.2h0m1.2-4.8h0m1.7 6.2h0m0.7 13.2h0m0.1-3.9h0m0.3 8.1h0m1.4-0.9h0m0.9 1.1h0m0.7 4.4h0m1.6 4.5h0m1.3 5.5h0m0.5 2h0m0.8 1.2h0m1.4 2.7h0m0.2 4.8h0m0.2-11.9h0m0.2-0.4h0m1 13.5h0m-0.1-5.4h0m0.9 10.1h0m0.4-2.5h0m1-0.8h0m-0.3-13.2h0m1.1 2.4h0m0.5-1.2h0m0.8-2.8h0m0.3 12.7h0m0.5-15.2h0m-0.3-2h0m1.3 0.1h0m1.4 4.8h0m-0.8 0.1h0m1.9-4.8h0m0.6 6.3h0m0.4-5.4h0m0.8 2.4h0m0.8-16.2h0m0.9 16.6h0m1.3-14.3h0m0.3 11.5h0m0.8-1.3h0m-0.1 0.1h0m1.2-13.2h0m0.6-0.7h0m1.5 1.9h0m-0.8-5.9h0m1.5-9h0m-0.3 12.7h0m0.8-14.2h0m1.3 1.1h0m0.9 20.4h0m0.6-21.2h0m1.3-2.1h0m0-3.8h0m0.7 24.9h0m0 0h0m1.5-20.1h0m1.4 3.6h0m-0.8-9.9h0m1.6 26.7h0m-0.5-22.8h0m0.9 4h0m1.3 18h0m0.9-4.9h0m1-4.3h0m0.5-4h0m0.9 17h0m0.2-1.5h0m0.3 13.8h0m1.3-1.7h0m0.4 8.8h0m0.6-6.1h0m0.8 0h0m0.9 4h0m0 8.6h0m1 2.5h0m1.1-7.1h0m0.5-4.7h0m0.7-10h0m0.3-1.1h0m0.8 2.3h0m0.2-3.8h0m0.5 22.7h0m0.7-2.4h0m0.8-26h0m1.1 1.4h0m0.1 4.8h0m0.3-13.6h0m-0.1 10.4h0m1.5 10.7h0m-0.5-23.6h0m1.2 18.5h0m0.5-0.1h0m1-1.2h0m0.4-11.7h0m1.5-6.7h0m-0.1-1.7h0m1.2 15.2h0m-0.2-9.4h0m0.9-4.6h0m-0.2 14.2h0m1.3-20.8h0m-0.7-5.6h0m1.1 24.8h0m1.3-18.6h0m1.2-2.1h0m0.7-3.5h0m1.1 20.3h0m1.5-16h0m0-13h0m0.3 23.9h0m1.6-20.3h0m-0.5 23.2h0m1.4 2.9h0m-0.6 1.9h0m1.3 1h0m-0.3-14.8h0m1.7 7.8h0m0 18.5h0m0.3-13.8h0m0.5 3h0m0-15.9h0m0.7 23.5h0m0.1-1.8h0m1.1-2.9h0m1.3 3.4h0m-0.2 3.8h0m0.5 3.4h0m-0.1 3h0m1.5-13.7h0m0.4 5.3h0m0.7 2.3h0m-0.3 26.4h0m0.7-16.8h0m1.2-13h0m0.3 12.6h0m1.4 1.1h0m-0.6-15.2h0m1.5 11.4h0m-0.1-15h0m0.9 16.3h0m0.4-17.1h0m0.1 21.1h0m1.3-13.7h0m-0.1 7.6h0m1.3-2h0m-0.4-5h0m1-6h0m1.8 16h0m0.9-25.1h0m-0.6 17.6h0m1 5.3h0m-0.2-7.3h0m1.7 4.8h0m-0.2-15.7h0m0.6-7h0m1.2 7.8h0m1.5 7.7h0m0.5-13.9h0m0 14.1h0m1.4 0.2h0m-0.4-2.3h0m1.5-5.7h0m-0.5 0.6h0m1.3 4h0m-0.7-18h0m1.5 18.4h0m1.3-3.3h0m0.4 1.8h0m1.6-17.1h0m0.9 7.4h0m0.1 5.1h0m0.4-5h0m-0.1 7.7h0m1.5 1.8h0m0.3-15.5h0m0.2-9h0m1.3 0.3h0m0.4 1h0m0.4 21.6h0m0.8-3.5h0m1.3-7.6h0m0.6 18.2h0m0.6-18.3h0m0.6 4.2h0m1.8 3.7h0m-0.3 8.9h0m0.6-20.7h0m0.5 3.3h0m0.7 7.4h0m0.5-7.5h0m0.4 13.3h0m1.7 2.6h0m-0.3-7.5h0m0.4-6.7h0m0.3-15.9h0m1 18.5h0m-0.1-1.4h0m0.9-8.5h0m0.3-4.1h0m1.4 17.1h0m-0.2 5.6h0m0.6 14.4h0m0.4-2.5h0m0.3-8h0m0.5 10.7h0m0.9-1.6h0m0.6-12.9h0m0.4-6.7h0m1.2 5.8h0m-0.2-5.1h0m1 24.6h0m1.6-26.2h0m-0.1 19.2h0m0.5-9.6h0m0.5-15.5h0m0.3 21.5h0m0.5 6.3h0m0.8-4.7h0m1-2.6h0m0.3-2.7h0m0.5 2.5h0m0.3-10.9h0m0.4-9.2h0m1.7 5.1h0m1 0h0m0.9-2.9h0m1.1 2.1h0m1-0.2h0m0.4 6h0m0.7 7.4h0m0.8-26.3h0m1.2 22.1h0m-0.7-3.5h0m1.1-8.9h0m1.8-0.5h0m0.1-2.9h0m1.3 9.3h0m1.1-3h0m-0.3 13.1h0m1.8-1h0m-0.3-12.5h0m0.7-1.4h0m-0.3 18.7h0m1.3-26.2h0m0 21.9h0m1.3-28h0m-0.5 11.4h0m1.1-11.4h0m-0.2 31.8h0m1.2 3.2h0m0.3-0.1h0m1-23.8h0m0 4.3h0m1.2 1h0m-0.7-11.5h0m1.4 23.5h0m-0.2-11.1h0m1.4 27h0m-0.2-35.8h0m1.3 39.4h0m0.1-25.9h0m0.2 16.2h0m0.1-13.2h0m1.2-5.6h0m-0.2 13.6h0m0.9 4.2h0m0.4 5.3h0m1.1-27h0m0.5 11.9h0m1.9 13.2h0m-0.9 0h0m1.9-0.6h0m0.7-10.8h0m0-3.9h0m1.1 5.5h0m0.5-1.4h0m0.8 10.2h0m0.3-5.3h0m0.8-9.8h0m1.2-0.3h0m0 12.7h0m1.2 5.1h0m1-9.3h0m0.9-13.9h0m0.6 20.4h0m0.5-8.1h0m0.7-10.5h0m0.5-5.1h0m0.8 8.3h0m-0.4 9.8h0m1.3 13h0m-0.1 2.1h0m1.5-19.3h0m-0.2 1.5h0m0.7 18.7h0m1.6-20h0m-0.7-0.1h0m1.1 2.9h0m0.5 3.1h0m0.3-18.2h0m0.3 0.6h0m1.2 1.2h0m0.6-24.4h0m0.7-12.4h0m1.3 3.3h0m1.7-18.2h0m0.6 9.2h0m0.5 7.6h0m0.9 1.7h0m1.1-10.3h0m1.3 16.5h0m0 2.7h0m0.9 7.9h0m0.6 5h0m0.9-6.9h0m-0.2 16.2h0m0.5 5.5h0m0-21.4h0m1.6-1.2h0m-0.3 11.7h0m0.8 16h0m-0.1-4.3h0m1 3.4h0m0-0.6h0m1.3 12.3h0m0.1-23.4h0m0.7 4h0m-0.1 10.2h0m1.2-0.5h0m1.3 5.8h0m1.2-6.5h0m1.1 9.9h0m0.5-6.4h0m0.7 11.3h0m1 14.7h0m0.9-19.1h0m0.1 23.7h0m0.8 5.3h0m1-6.6h0m-0.8-15h0m1.8 16h0m-0.5-12.3h0m1.1 4.8h0m-0.2-9.6h0m1.3 20.5h0m-0.3-20.4h0m1.5 19h0m0.4-26.5h0m0.2-5.8h0m1.4-13.4h0m-0.4 9.7h0m1-3.7h0m0.6-23.1h0m-0.5 9.4h0m0.9-23.5h0m-0.1 11.1h0m1.2-25.1h0m-0.1 3.9h0m1.6 6.3h0m-0.2 20.6h0m1.1-3.2h0m-0.3-14.9h0m0.5-3.9h0m0.2 37.7h0m1.1-8.6h0m0.6 7.4h0m0.7 7.6h0m-0.6-15h0m1.4 2h0m-0.2 14.7h0m0.8-30.1h0m0.4 28.5h0m1.1-4h0m-0.2-21.3h0m1.5 25.6h0m-0.3-3h0m0.6-4.3h0m0.1 5.2h0m1-15.8h0m0.8 3.8h0m0.2 23.2h0m1.4-29.9h0m-0.5 22.4h0m1.5 5.7h0m-0.2 5.1h0m0.7-0.3h0m0.4-15.6h0m1.1 7.3h0m-0.1-18.9h0m-0.3 32.5h0m0.9-21.6h0m0 2.5h0m0.8 19.1h0m1.8 7.4h0m0.4-4.2h0m0.5-13.7h0m0.7 0.4h0m0.2 22.8h0m0.6-9.9h0m0.9 0.5h0m1.7 20.5h0m-0.4-26.9h0m1.2 6.2h0m1.1 3.2h0m0.7-8.3h0m0.3-3.7h0m1.3 4.5h0m0.9 9.1h0m-0.8-4.6h0m1.4 3.6h0m1.4-13.3h0m1-2.6h0m1.1-0.5h0m0.5-12.8h0m1.4-2.2h0m0.7 2.9h0m-0.4 15.4h0m1.7-12.2h0m0.3-25.1h0m0.8 23h0m0.6-15.2h0m0.8 2h0m0.6-11.4h0m0.8 16.7h0m1.2-15.3h0m0.7 2.9h0m1-16.5h0m1.1 10.6h0m0.9-1h0m1 7.8h0m0.5-3.5h0m1.7-0.6h0m0.5 1.5h0m1.1 22.9h0m0.9-13.5h0m0 11.3h0m1.3 7.7h0m1-10.2h0m0.5 9.6h0m1.1-9.8h0m0.7 17.3h0m0.7 10.6h0m0.3-14h0m0.2 6h0m1.5-6.4h0m0.3 2.3h0m0 18.1h0m0.4-13.5h0m0.6-11.5h0m0.4 28.2h0m0.9 1.7h0m0.3-24.9h0m0.6 2.5h0m-0.1 12h0m1.5 3.8h0m-0.5-19.4h0m1.2 16.1h0m0.6-10.3h0m0.4-1.4h0m0.8 8.1h0m0-27.8h0m1.7 27h0m-0.7-8.5h0m1.5 5.3h0m1.3-9.9h0m-0.2 0.1h0m0.8 6h0m0.3-7.9h0m0.4-11.1h0m1.7 5.9h0m0.6-8.8h0m0.9-0.3h0m0.3 16.4h0m0.9-6.3h0m0.3-7h0m0.3-1.1h0m0.1-5h0m1.3-3.8h0m1.3 5.2h0m0.4-24.8h0m1 16.8h0m1.3 1.3h0m0.7-8h0m0.1 11.9h0m1.3-12.8h0m-0.4 21.5h0m1.5-13.6h0m1.2 12.2h0m1-3.8h0m0.6 9.6h0m1 9.7h0m0.2 2.8h0m0.2-15.1h0m1.2 7.9h0m0.3 4.2h0m1-13.4h0m-0.5 8.1h0m1.2 0.7h0m0.3 19.5h0m0.6 3.7h0m0.8 4h0m0.8-19.3h0m-0.1-11.7h0m1 8.6h0m-0.6-5.7h0m0.9-11.4h0m0.6 18.1h0m-0.2-16.3h0m1.4 1.2h0m0.4 1h0m0.8 20.5h0m0.3 2.6h0m0.1-6.4h0m1.5-15.7h0m-0.5 17.6h0m1.2-18.4h0m1 8.4h0m-0.2 0.8h0m0.8-19.8h0m1 19.7h0m0.6-22.6h0m1.1 4.2h0m0.2 14.3h0m0.7-11.6h0m0.2 21.8h0m1-6h0m-0.7-16.4h0m1 5.3h0m1.2 11.1h0m-0.2 0.1h0m1.8-3.9h0m0.1-13h0m1 14.3h0m1-9.3h0m1.5-1.9h0m1-4.9h0m0.8 1.4h0m0.6 5.1h0m1.6-11.8h0m0.5 13.6h0m0.1 2.1h0m1.4-12.6h0m0.9 15.8h0m0.8-20h0m0.3 10.5h0m0.8-16.6h0m0.5 13.3h0m0.3-4h0m1.4 7.5h0m-0.6-2.9h0m1.3 4.7h0m-0.2-2.7h0m1.5-1h0m0.6 19.7h0m1.7-15.6h0m-0.5 0.1h0m1.4-7h0m-0.2 20h0m1.4 3.5h0m-0.1-3.7h0m0.3-16h0m0.7 22.3h0m0.9-15.9h0m-0.2 18.2h0m0.7-4.1h0m0-6.4h0m1.6 8.3h0m1.1-8.8h0m-0.4-13.4h0m1 20h0m0.3-15.5h0m0.6-8.2h0m0.4 4.6h0m0.9-2.9h0m0.1 22.1h0m0.4-20.1h0m1.4 13.5h0m0.6-6.7h0m1.3-4.7h0m-0.3 15.7h0m1-16.5h0m0.1 1.4h0m0.6 11.2h0m0 7.9h0m1.1-7.4h0m0.1-11.9h0m1.8 5.9h0m0.1-8.9h0m0.8 23.2h0m0.3-19.4h0m0 15.5h0m0.9 1.2h0m1.4-20.5h0m-0.5 19.1h0m1.9-0.2h0m-0.1-23.2h0m0.6 22.6h0m1.6-21.7h0m-0.4 7.1h0m1.2 9h0m-0.2 6.3h0m1.3-1.2h0m0.3-1.8h0m1.5-8.2h0m0.2-10.3h0m0.2 15.7h0m1.1-20.2h0m0.1 18.8h0m1.1 3.5h0m0.3 5.1h0m0.7-27.7h0m-0.3-1.7h0m1.2-4.7h0m-0.2 21.2h0m1.7-1h0m-0.1-2.9h0m0.8-13.7h0m1.2 8.3h0m0.9 11.2h0m-0.5-16.9h0m1 15h0m0.6 1.7h0m1.1 7h0m-0.7-17.9h0m1-4.7h0m1 15.8h0m0.6 1.1h0m0.6-5.3h0m1.6 15.6h0m1-11.5h0m0.6 5.2h0m-0.1-4.8h0m1.1-16.3h0m-0.4 7.5h0m1.2 12h0m-0.2-19.7h0m1.4 32.2h0m0-3.1h0m0.8-2.8h0m0-4.5h0m1.1 3.2h0m1.5-4.7h0m0.4 1.5h0m0.9 12.9h0m1-16.2h0m0-1.4h0m1.6 16.6h0m-0.2-24.3h0m0.6 16.2h0m0.4-18.9h0m0.5 5.7h0m1.9 11.6h0m0.6 12.4h0m0.6-12.9h0m1.2 1.2h0m0.1-7.1h0m1-12.8h0m1.2 23.4h0m-0.6-20.1h0m1.3 7.7h0m0.4 4.2h0m-0.1 9.8h0m1.3-33.2h0m-0.2 32.5h0m1.1-28.3h0m0 4.6h0m0.9 21.2h0m-0.1-27.8h0m0.6 22.2h0m-0.2-16.1h0m1.1-9.2h0m-0.1 9.1h0m1.1-12.8h0m0.3 19.9h0m0.5-4.9h0m0.8 5.3h0m0.8-15.4h0m-0.1 9.5h0m0.9-19.1h0m1 21.3h0m1.4 15.4h0m-0.1-12.5h0m0.4 3.7h0m0.2 16h0m1.2-1.6h0m0.4 7.9h0m0.7 0.6h0m0.3-18.9h0m0.9-4.8h0m-0.4 20.6h0m1.3 3.6h0m-0.7-9.8h0m1.1 6.7h0m0.7-0.1h0m0.7 11.6h0m0.9-7.3h0m1.4 10.4h0m1.1 13.5h0m0.2-17.1h0m1.3-1.3h0m0.6-6.8h0m0.4-2.3h0m0.8-11.1h0m0.5-1.5h0m1 7.7h0m-0.3-1.7h0m0.9-4.3h0m1.4-12.9h0m-0.4 0h0m1.4 8.1h0m-0.1-13.2h0m1 17.4h0m0.2-19.7h0m1.2 13h0m-0.9 23.7h0m1.7 3h0m-0.4-18.7h0m1.1 14.6h0m0.1-11.9h0m0.6 14.3h0m1.1-5.2h0m1.1-20.4h0m0.4 3.1h0m1.1 6.3h0m-0.7 5.2h0m1.5-1.9h0m0.2 7.8h0m1-12.8h0m0.6-5.8h0m0.8-11.7h0m0.3-18.2h0m1.1 14.2h0m0-9h0m1.2-5.1h0m-0.4 7.6h0m1.5 5.7h0m-0.6-13.1h0m1.3 12.9h0m-0.2 0.2h0m1-6h0m-0.4-17.6h0m1.4 4.6h0m1.2 13.5h0m0.9-9h0m0.5 0.2h0m0.8 15.2h0m1-12.7h0m1 11.1h0m0.1 2.5h0m1.7 5.2h0m0.2 13.3h0m0.9-11.6h0m-0.8-2.1h0m1.7 12.1h0m0.5-14.1h0m0.4 16.2h0m1.2-17h0m-0.1 3.3h0m0.5 17.8h0m0.3 2.4h0m1.3-25.3h0m-0.3 30.4h0m1.5-22.3h0m0-3.9h0m0.3 8.5h0m-0.3 7.6h0m1.1 1.7h0m1.7 22.8h0m1-5.4h0m0.1 3h0m0.8-2.5h0m1.1-28.2h0m0.6 4.1h0m-0.1 13.5h0m1.5 7.7h0m-0.4-19.7h0m0.8-11.3h0m0.5 17.5h0m0.7-10.4h0m1.6 17.5h0m0.4-28.6h0m0.5 16.6h0m1.1-7.5h0m0.1 7.2h0m1.4-12h0m1.2-4.6h0m-0.5 5.3h0m1.8-14.4h0m-0.5 7.1h0m1.1-12.3h0m1 13.7h0m1-5.5h0m0.3-11.1h0m0.3 13h0m0.9-1.2h0m0.9-14.7h0m1.4 17.8h0m0.7-7.5h0m0.2-12.6h0m1.6 5.4h0m1-5.7h0m-0.5 0.9h0m0.7 23.8h0m0.3 3.4h0m0.7-4.3h0m0.7-17.8h0m1.2 29.1h0m-0.8-22.3h0m1.7 10.5h0m0.6 4.7h0m0.7 14.3h0m1.1-3.3h0m1.4 5.7h0m1-0.1h0m1.1-4.1h0m0.5 4.2h0m1.4-1.6h0m1.1 15.1h0m-0.2-20.6h0m0.7 10.1h0m-0.1 11.6h0m1.8-5.3h0m0-3.4h0m1.4-14.8h0m1.1 2.2h0m0.2-1.3h0m0.8 13.2h0m1.3-14.6h0m0.3 5.3h0m0.6-3.9h0m1.1-14.4h0m0.3 3.1h0m1.8 2.9h0m0.5 12.1h0m-0.3-9.1h0m1.1-2.4h0m-0.1 6.6h0m1.3 5.9h0m-0.3-19.1h0m1.8-0.1h0m-0.7 16.2h0m0.9-19.3h0m1.5-6.6h0m1.2 16.5h0m-0.2-16.1h0m1.2 15.7h0m-0.2-8.6h0m0.5-19.2h0m0 19.5h0m1.3-9.6h0m-0.1 11.5h0m1.3-15.4h0m1.3 1.7h0m0.9 16.9h0m0.2-4.9h0m1.2 7.4h0m1-1.1h0m1-0.7h0m0.2 6.4h0m1.2 3.3h0m0.6 6.3h0m1-2.5h0m1.6 10.2h0m-0.7 10.4h0m1.5-22.4h0m1 0.5h0m1.2 2.4h0m-0.7 2.3h0m1.2 12.3h0m1-18.4h0m0.5 16.9h0m1.1-5.7h0m-0.8-5.9h0m1.8-6.9h0m0.1-5h0m0.2-10.9h0m0.3 4.2h0m1.2 11.6h0m0.6 11.1h0m1.3-19.6h0m0.9 13.1h0m1.3-6.4h0m0.7 7.4h0m1.5-0.6h0m0.4-8.4h0m1.3 5.3h0m0.8-0.6h0m-0.2-8.5h0m0.7 12.9h0m2-17.2h0m-0.5 3.4h0m1.1-4.9h0m-0.5 8.9h0m1.7-7.7h0m-0.5 6.3h0m1.5-16.4h0m-0.4 24.1h0m0.6-29.1h0m0.3 24.1h0m1.4-13h0m-0.2 14.2h0m1.1-7.8h0m0.7-7.7h0m-669.3 226h0m0.2-8.6h0m1.2 14h0m1.2 10.1h0m0.8-4.9h0m1.4 2h0m0.7-7h0m1.1-0.4h0m0.6 1.4h0m0.9 4.9h0m2 1.2h0m0-8.4h0m1.5-3.2h0m11.4 0h0m0.2 1.5h0m1.1-7.2h0m0.2 17.3h0m1.3-27.9h0m-0.7 15.9h0m1-5.4h0m1.7-2.1h0m0.9 17h0m0.7-2.6h0m1.2 5.1h0m1.1 0.3h0m0.2 5.7h0m25.1 2h0m0.3-16.9h0m0.5 5.2h0m0.8 9.2h0m0.6-36.3h0m0.4 22.6h0m1-1.4h0m0.9-6.1h0m0.9 3.3h0m1.2 13.8h0m-0.7-23.8h0m1.8 6.7h0m-0.8 5.1h0m1.4 12.2h0m0.7-5.3h0m1.6-3.9h0m0.4-3h0m0.4 3.2h0m0.4-11.1h0m-0.1 17h0m1.9-12.8h0m-0.4 7h0m1.3 15.8h0m-0.3-7.4h0m1-7.4h0m0.1 7.2h0m0.7 8.3h0m0.2-9.3h0m1.5-1.1h0m0.9 9.5h0m1 7.1h0m-0.7 7.9h0m1.5-22.1h0m0.6 6.1h0m0 7.6h0m12.6-48.9h0m-0.1-0.7h0m1.1-7.7h0m0.2 7h0m0.9-6.4h0m0.1 18.8h0m0.4 2h0m0.3-11.5h0m0.6 3.9h0m-0.1 15.8h0m1.6-12.6h0m-0.2-9.3h0m0.8 5.4h0m1.7 18.8h0m1-20.9h0m-0.4 20.8h0m1.3-11.9h0m0.1 17.2h0m0.3-23h0m1.7 6.2h0m0.8 17.6h0m1.1-4.1h0m1-7.4h0m0.1 12.6h0m0.5 4.8h0m1 2.2h0m0.9 9.6h0m1.4 0.1h0m1 5.5h0m1 0.1h0m1-6.6h0m0.9-19h0m12.6-40.2h0m-0.1 20.3h0m0.7-27.6h0m0.4 26.6h0m1.3-4.8h0m-0.9-9.3h0m1.1 10.4h0m0.6-8.7h0m0.5-0.4h0m0.5-1.6h0m0.4 2.8h0m0.3-2.6h0m1.1 22.1h0m0.3-16.1h0m0.4-2.3h0m0.5 19.1h0m0.8 13.7h0m0.1-1.9h0m0.9 2.5h0m-0.4-10.7h0m1.3-13.4h0m0.1 19.9h0m1.1 6h0m0.2-17.6h0m0.2 6.3h0m0.1-12.8h0m1.4 17.8h0m0.3 11.4h0m0.7-11.2h0m1.3 26.2h0m1 6.5h0m0.8-12.7h0m1 14.3h0m0.9-2.8h0m1.3-12.6h0m0.9 3.2h0m0.6-11h0m0.4-0.4h0m10-43.4h0m0.2 20.8h0m0.1-11.9h0m0.6-10.3h0m0.4 10.6h0m1-3.1h0m0 18.8h0m0.4-25.5h0m0.6 16.5h0m1-4.6h0m-0.5-5h0m0.9-5h0m1.5 19.9h0m1.1-9.8h0m0.8 4.2h0m-0.4-13.5h0m1.5 3.6h0m0.7 8.3h0m1.2 8.5h0m1 0.1h0m0.5-1.8h0m0.1 10.3h0m1.3 3.9h0m1.7 0.4h0m-0.9-12.4h0m0.9 16.5h0m0.5-4.8h0m0.8 23.4h0m0.2 0.6h0m0.6 4.2h0m0.5-20.4h0m0.5 6.4h0m1.9-7.3h0m0.5 2.5h0m1.4 13.6h0m-0.5-22.7h0m0.7 17h0m0.6-8.3h0m10.6-36h0m-0.1 5.6h0m0.7 3.3h0m0.5 16.2h0m1.1-5.1h0m-0.2-8.3h0m0.9 4.4h0m0 10.6h0m1 1.3h0m0.5-11.7h0m0.1-14.2h0m0 29.2h0m1.5-18.4h0m0.5-6.3h0m0.7 4.6h0m-0.2 1.7h0m1.2-14.7h0m-0.6 17h0m1.5 12.8h0m-0.2 3.7h0m1.3-10.4h0m0.2-0.1h0m0.3-2.9h0m0.4-4.7h0m1.3 8.9h0m-0.5-10.7h0m0.7 21.4h0m1.2-1.2h0m1-5h0m0.9 1.6h0m1.4 1.6h0m0.6 7.3h0m1.4 2.2h0m0.8 3.8h0m0.8-25.4h0m12.7-11.4h0m1.3 15.2h0m-0.7 5.7h0m1.3-1.8h0m1.3 4.5h0m-0.2-8.3h0m0.8-14.5h0m0.4 16.2h0m0.7 4.8h0m0.4-12.6h0m0.2 5.8h0m0.8-3.5h0m0.5 8.5h0m-0.3 6.2h0m0.9-28.7h0m1.8 6.3h0m0.2 8.4h0m1 1.9h0m1.7 0.6h0m1 11.8h0m1.1-14.1h0m1-1.4h0m-0.3 13.9h0m1.4-17.8h0m0.8 11.9h0m0.2-4h0m1.4 6.4h0m1-9.4h0m12.9 9.4h0m0.4 5.3h0m1.5-20h0m-0.2-12h0m1 20.4h0m-0.6 8.5h0m1.4-1.1h0m0.4 4.4h0m1-21.6h0m-0.1 1.2h0m0.6 25.2h0m0.2-26.5h0m1.4 23h0m0.4-13.2h0m0.1 11.7h0m1.2-13.5h0m-0.1-3.5h0m0.5 18.9h0m0.6-7.4h0m1 2.5h0m-0.3-15.9h0m1.1 3.6h0m0 16.2h0m1.1-5.4h0m0.8 17.8h0m1.4-11.4h0m1.1-1.9h0m0.4 11.8h0m1.3-7h0m0.8-15.7h0m1.3 14.5h0m-0.7 4h0m1.3-7.9h0m1.4 5.2h0m-0.2-14h0m12.7-18.2h0m0 17.7h0m0.4 6.4h0m-0.1-3.1h0m0.2-19.5h0m1.5-1.2h0m-0.5 22.7h0m1.1-11.5h0m1.6-0.3h0m1-2.3h0m1 4.5h0m0.5 14.2h0m-0.2-6.9h0m1.4 7.8h0m0.5-12h0m1.4 9.9h0m1.2-10.4h0m0.4 1.4h0m1.7 6.5h0m0.9 16.4h0m1 14.6h0m1.3-1h0m0.7-2.3h0m1.3-7.6h0m-0.3 0.6h0m0.3 1.8h0m1.5-4.2h0m-0.2-3.3h0m0.7-23.4h0m0.5 20.4h0m13.3-24.1h0m-0.7-19.8h0m0-5.7h0m1.2 9.9h0m0 13.3h0m0.9-23h0m0 8.9h0m1.7 17.8h0m-0.7 0.9h0m1.1-10.4h0m0.5 16h0m1.2-4.3h0m1 8.7h0m0.3 2.3h0m1.1-0.9h0m0.1-15.3h0m0.5 15.9h0m0.7-15h0m1.2 15.4h0m0.1 13.8h0m0.4-0.5h0m-0.2-27.3h0m1.5 19.2h0m0.3 10h0m0.9-4.2h0m-0.5-8.9h0m1.2-12.6h0m1.2 2.4h0m-0.3 0.3h0m0.6 23.1h0m0.3-2.7h0m0.8 11.4h0m0.4-7.6h0m0.8-5h0m1.2 3.9h0m0.2 8.3h0m0.8-1.6h0m1.4-16.8h0m0.8-6.4h0m-0.1-13.2h0m10.7-18.3h0m0.1 3.8h0m1.5-16.8h0m-0.5 16.5h0m1.2 6.7h0m-0.1-29.9h0m1.3 5.6h0m1.2 5h0m-0.8 30.5h0m1.3-31.5h0m0.1 32.2h0m1.4-23.1h0m-0.7 9.7h0m1.8 1h0m0.2 0.1h0m1 9.9h0m1.1-7.8h0m1.7 5.7h0m0.6 12.1h0m0.6-8.7h0m1.2-7.8h0m-0.2 20.8h0m1.8-9.7h0m0.6 2.9h0m1 3.9h0m1.4 1.5h0m-0.7 2.8h0m1.3 24h0m-0.1-11.4h0m0.8-6.9h0m0.3 14.8h0m1-6.7h0m0.2-5.4h0m13-35.3h0m-0.4-6.2h0m0.8-11.8h0m0.1 27.9h0m1.4-21h0m-0.4 3.2h0m0.9 23.4h0m0.2-29.2h0m1.4 7h0m-0.7 4.7h0m1.1-5h0m-0.1-3.4h0m1.2 14.3h0m0.7 10.6h0m1.6 0.5h0m-0.1-10.2h0m1.1 6.7h0m-0.1-12.9h0m1.2 21h0m-0.6 6.5h0m1.3-2.8h0m0.9 8.3h0m-0.3-17.1h0m1.3 11.1h0m1.3 10.6h0m0.2-12.7h0m0.3 14.1h0m1.2-2.1h0m0.9 1h0m1-11.5h0m1.1 7.8h0m0.5 13.4h0m0.9 1.4h0m-0.1-12h0m0.5-13.8h0m0.5-4.1h0m0.9 12.3h0m10.8-22.7h0m1.3 4.6h0m0.4-2.3h0m0.6-11.5h0m1.1 8.6h0m0 13.2h0m0.5 4.4h0m0.5-5.6h0m0.3-13.3h0m0.5-8.2h0m1.3 14h0m-0.1 7.5h0m0.6 6.7h0m-0.1-22.8h0m0.8-7.9h0m0.5 24h0m-0.1-24.2h0m1.2 28h0m-0.6 11.5h0m0.9-37.9h0m0.5 8.6h0m0.1 9.4h0m0.8 17.8h0m0-26.6h0m1.5 19.1h0m-0.9-7.9h0m1.1-5.5h0m0.5 20.5h0m0.4-27.6h0m0 15.3h0m1.7-2.7h0m-0.3 12.4h0m0.7 5.7h0m0.6-10.9h0m1.2 9.5h0m-0.1-0.4h0m1 0.8h0m0.1-2.6h0m0.9-18.2h0m0.8 21.6h0m0.1-13.6h0m0.8-7.3h0m0.8 12.7h0m0.6-8.8h0m11.9 14.4h0m0.3-11h0m0.6-22h0m-0.2 28.5h0m1.4-31.5h0m0 6.9h0m0.5 14.2h0m0.5-14h0m0.4-3.7h0m0.6 16.1h0m0.5 8.3h0m0.4-16.5h0m0.9-1.1h0m0.6 14h0m0.5-17.7h0m0.5 2.4h0m1.4 7.3h0m-0.4-21.7h0m1.2 19h0m0.4 8.2h0m1.2 2.6h0m-0.1 10h0m1-24.6h0m-0.4 8h0m0.8 19h0m0.4-14.5h0m1.4 14h0m1-15.5h0m0.5 4.5h0m0.6-2.5h0m1.9-6.9h0m-0.1 7.1h0m0.9-0.6h0m-0.5-10.7h0m1.1 1.2h0m1.4 14h0m-0.7-13.1h0m13 2.1h0m0.7 1.6h0m-0.2 23h0m1.2-5.5h0m0.2-20.8h0m1.6 19.3h0m0 8.5h0m0.4-33.3h0m1.3 28h0m-0.1-24.9h0m0.4 27.8h0m0.1-6.1h0m1.4 8.9h0m-0.2-4.7h0m0.8-4.4h0m0.1-0.4h0m1.3-25.4h0m0.4 15.8h0m0.6 14.9h0m0.4 3.4h0m1-4h0m-0.9 12.6h0m1.3-7.5h0m-0.2-3.8h0m1.1-21.2h0m0 9.7h0m1.2 4.6h0m1.4-4.8h0m-0.2 19.1h0m1.3-30.6h0m-0.5 26.3h0m0.9-3.7h0m0.2-1.7h0m0.6-27.1h0m-0.1 15.6h0m1.7 12.9h0m-0.1-20.7h0m1.2-5.2h0m-0.1-10.5h0m-0.2 14.6h0m0.7 6.8h0m0-33h0m1.7-8h0m-0.2 11h0m10.1 34.4h0m0 8.1h0m1.2-15.5h0m0.4-4.9h0m1.1 29h0m-0.2-7.7h0m0.9 4.3h0m-0.3 7.1h0m1.4-19.5h0m-0.1 12.7h0m-0.4 14.4h0m1.5-24.4h0m-0.3 18.2h0m1.5-8.4h0m-0.5-15.6h0m1.5-7.7h0m-0.2 2.6h0m1 5.8h0m1.3-19.1h0m-0.8 14.8h0m1.3 7h0m1.4-5.9h0m0.8-1.4h0m0.9 3.7h0m0.3-0.5h0m0.3 15.5h0m1.8-7.6h0m0.9 4.7h0m-0.8 3.7h0m1.7-11.7h0m0.2 11.5h0m0.9 0.3h0m-0.5-8.7h0m1.7 5.4h0m0.3-16.9h0m-0.1 20h0m13.8-46.4h0m0.2-43.2h0m-0.6 43.1h0m0.8-0.6h0m0.4 2.2h0m1.1 12.2h0m-0.2-29h0m1.5 19.4h0m-0.1-12.8h0m0.3 25.1h0m1-8.2h0m-0.1 8.3h0m1.1 11.3h0m0.4-16.2h0m0.5 5h0m1.1 9.2h0m1 2h0m0.4-17.2h0m1 18.6h0m0.1 4.8h0m0.8 3.4h0m-0.2-19.6h0m1.1-0.3h0m-0.3 23.5h0m1.1-12.1h0m1.8-3h0m0.3 16.5h0m1 8.5h0m-0.2-17.6h0m1.3 10.7h0m-0.3 13h0m1.4-8h0m0.7-0.5h0m1 1.6h0m0.8 3.6h0m1-9.1h0m0.9-24.5h0m-0.3 13.4h0m12.2-68.5h0m-0.3 22.9h0m1.2-11h0m0.1 5.2h0m0.5 6.2h0m0.2-17.5h0m1.2 11.8h0m0.5 7.5h0m0.9 15.4h0m-0.2-7.8h0m1.5 1.6h0m0.1-2.8h0m0.5-0.4h0m-0.1 6.2h0m1.8 10.3h0m0.2-0.3h0m1.1 11.4h0m1.6-2.7h0m-0.4-6.4h0m1.3 4.2h0m-0.6 2.7h0m1.4 1.4h0m0.5 4.6h0m1.1 0.8h0m1.7 19.9h0m0.9-1.6h0m0.4 7.8h0m0.8 4.6h0m0.5-7h0m0.3 16h0m1.2-31h0m0.2-1.9h0m13.7-25.4h0m0.3-11h0m1.4-8.1h0m-0.1 1.6h0m0.8 3.6h0m0.9-2.8h0m1.4 17.5h0m0.8-7.2h0m0.5-18.6h0m0.5 27.6h0m0 0.9h0m0.8-5.4h0m0.2 2.1h0m1.4 14.1h0m-0.6-13.3h0m1.2 10.6h0m1.3 2.9h0m1.1-19.9h0m0.1 15.5h0m0.9-7.8h0m0.7 18.5h0m0.1-9.1h0m0.9 19.1h0m0.8 8h0m1.3 1.3h0m0.8-3h0m1-0.9h0m1.6-12h0m0.8 4.7h0m-0.4 1.4h0m12-12.6h0m0.5-3.9h0m0.3 18.1h0m0-5.6h0m1.8-24.1h0m-0.6 11.7h0m1.2-15.2h0m-0.3 6.9h0m1.3-10.6h0m-0.3 15.9h0m1.4-9.9h0m0.5 3.9h0m1 0.3h0m1.6-5.8h0m1.2 10.8h0m-0.7 2.7h0" stroke="#fff" stroke-width="1.5" stroke-linecap="round" fill="none"/></g><path d="M75.2 97h0m0-1.3h0m-0.1 46.4h0m-0.1 3.4h0m1.2-47.7h0m-0.3-1.6h0m-0.1 2h0m0.2-3.3h0m-0.2 48.9h0m0.4-2h0m0.2-4.2h0m-0.3 1.1h0m-0.4-49.1h0m1.1 53.8h0m-0.3 1.6h0m0.3-48.9h0m-0.3-1.5h0m0.1 0.7h0m0.3 47.7h0m-0.1-0.9h0m-0.2-2.3h0m1.6-38.9h0m-0.3-0.4h0m0.3-5.6h0m-0.2 0.2h0m0.3 42.4h0m-0.2-0.4h0m-0.5 6.2h0m0-5.4h0m0.1 5.3h0m-0.1-47.4h0m0.2-1.6h0m-0.2-1.6h0m1.8 7.6h0m-0.7 0.7h0m0.6-5.1h0m0 51.9h0m-0.2-4.5h0m-0.3 0.8h0m0.7-0.1h0m-0.3-49.3h0m1 5.1h0m-0.6-1.2h0m0.2 2.2h0m-0.1 1.2h0m0.2 43.9h0m0.2 1.6h0m0-2h0m0.3 6.7h0m-0.5-65.5h0m0.6 17.2h0m0.8 1.6h0m-0.5-4.6h0m0 46.2h0m-0.1 0.7h0m0.5 0.1h0m0.7-43.9h0m0.3 0.9h0m-0.4-3.6h0m0.1 0.5h0m0 44.6h0m0.3-2.9h0m-0.1 3.7h0m-0.4-5.2h0m0.5-44.9h0m-0.1 52.6h0m-0.3-1.8h0m0.4 1.6h0m0.4-49.8h0m-0.1 2.2h0m0.2 1.5h0m0.3 44h0m0.3 0.7h0m0.1-1.9h0m-0.8-0.9h0m0.6-50h0m-1.2 54.7h0m0.3 1.6h0m0.5 1.6h0m-0.5 1.6h0m-0.1 1.6h0m1.5-62.9h0m0.5 4h0m-0.2-3.7h0m-0.2 57.8h0m0.6-5.6h0m0 6h0m-0.1-4.7h0m0.5 4.3h0m-0.6 1.6h0m0.7-53.9h0m-0.1-5h0m-0.1 0.8h0m0 51.2h0m0.4 0.6h0m-0.5-3.7h0m0 6.1h0m0.6-60h0m1.1 5.2h0m-0.1 2.8h0m0.1-1.2h0m0.2 2.1h0m-0.9 45h0m0 1.8h0m0.7 1.6h0m-0.2-2.3h0m0.2-51.7h0m0.8 4h0m-0.1-2.4h0m0 3.4h0m0 49.4h0m0.4-6.4h0m0 5h0m-0.1 0.1h0m-0.7-55.3h0m-0.1 60.8h0m1-51.7h0m0.1-1.5h0m0-0.4h0m0.2 51.1h0m0.4 1.2h0m-0.2 1.5h0m-0.1-5h0m0.5 5.5h0m0.4-55.5h0m0.3-2.2h0m-0.3-1.5h0m-0.2 2.5h0m0.1 57.5h0m-0.2 1.2h0m0.4-1.8h0m-0.1-58.9h0m-0.1 64.5h0m0.6-88.8h0m0.2 24.6h0m0.2 5.4h0m0.4-6.4h0m-0.3 2.7h0m0.1 56.9h0m-0.1-1.6h0m-0.2 3.2h0m0.6-61.8h0m-0.4 63h0m1.2-55h0m0.2-2.7h0m-0.3 0.8h0m0 53h0m0.4 4.4h0m-0.7-6.4h0m0.3 4.6h0m0.4-64.5h0m1 12.7h0m0.1 0.6h0m-0.9-4.6h0m0.6 0.1h0m0.1 53.6h0m0.2-0.4h0m0.1-1.7h0m-0.5-53.2h0m0.9 5.4h0m0-2.2h0m0.2 3.1h0m-0.5 2.9h0m0.2 42.6h0m0.5 1.1h0m-0.2 1.8h0m-0.1 3.4h0m-0.1 18.5h0m1.3-69.8h0m-0.7 1.6h0m0.9-1.1h0m-0.8 43.7h0m0.5 3.4h0m-0.3 0.2h0m0.9-42.5h0m0.8 0.5h0m-0.6-5.2h0m0.5 3.4h0m-0.2 43.9h0m0-1.2h0m0.2-2.7h0m0.1 7.8h0m-0.8-51.8h0m0.3-1.6h0m0.6 1.9h0m0.2 5.1h0m0.6-5.8h0m-0.8 46.1h0m0.9 3.7h0m-0.9-2.2h0m0.6-47.5h0m1 9.3h0m0-1.4h0m0 3h0m0 37.7h0m-0.6-2.4h0m0.4-0.2h0m-0.1-41.3h0m0.1 1.4h0m0.2-1.6h0m0-1.6h0m0.1 47h0m0.9-42.4h0m-0.2 0.2h0m0.4 1.2h0m-0.4-0.7h0m0.3 41.1h0m0-0.2h0m-0.8-0.6h0m0.9-42h0m0.8 5.6h0m-0.3 0.8h0m0.4 2.4h0m0-3.9h0m-0.7 35.8h0m0.6-0.2h0m0.1-0.6h0m-0.1 1.7h0m0 4.3h0m0.7-40.1h0m-0.1-1.4h0m0.6 3.9h0m-0.2 37.5h0m-0.3 0.5h0m-0.3-1h0m0.8-4.1h0m-0.6-39.6h0m0.5 45.8h0m0.5-46.1h0m0.3-1.1h0m-0.4 4.7h0m0.6-3.4h0m-0.2 45.5h0m0.2-3.4h0m-0.2-0.6h0m0.1 1.1h0m0-49.9h0m1.3 12.2h0m-0.1-4.8h0m0 5.9h0m-0.1-5.5h0m0.2 34.8h0m-0.5-2.8h0m0.4 1.8h0m-0.8-39.1h0m0 41.5h0m1.3-44.8h0m0.3 4h0m0.2-4.3h0m-0.5 3h0m-0.4 38.3h0m0-1.2h0m0.3-1.5h0m0.5-1.6h0m-0.2 9.6h0m-0.1-45.7h0m0.9-1.6h0m-0.4-1.6h0m0-1.6h0m0.1 7.3h0m0.8-2.1h0m-0.7 3.2h0m0.7 36.1h0m-0.8 1.1h0m0.2-1.8h0m1.7-42.6h0m-0.5 1.1h0m-0.2 1.6h0m0-1h0m0.2 46.2h0m-0.3-5.5h0m-0.2 5.2h0m0.8-0.5h0m-0.4-51.3h0m1.1 3.2h0m0.1 0.7h0m0.1 1.5h0m0-1h0m0 45.9h0m-0.5-5.6h0m0.7 5.1h0m-0.1 0.2h0m0.2-48.5h0m0.8 3.8h0m-0.1-1h0m0.2 1.8h0m-0.9 43.3h0m0.1 0.8h0m0.7-2.4h0m-0.4 7.9h0m1-55.2h0m-0.2 5.4h0m0.2-4.9h0m-0.2 47.4h0m0.2-3h0m0 4.6h0m-0.2-49.1h0m-32.2 1.7h0m-0.2 47.4h0m0-27.8h0m0.1 29h0m0-42h0m-0.1 34.2h0m0.2-22.4h0m-0.2-2.3h0m1.1 1.2h0m-0.4-11.3h0m0 2.6h0m0.4 30.2h0m-0.2-14.8h0m0-23.7h0m-0.3 39.3h0m0.4-27.9h0m-0.4-8.7h0m-0.4 40h0m0.2-7.3h0m0-17.1h0m0.3-13.4h0m-0.2-2.2h0m-0.3 11.3h0m0.8-7.3h0m29.6 18.1h0m-0.2-21.9h0m0.1 43.7h0m0.3-24.7h0m-0.3 12.4h0m-0.2-4.8h0m0.4-25.6h0m0 12.7h0m-0.5 5.2h0m0.2-16.1h0m0.5 20.9h0m-0.3 7.1h0m0.5-15.9h0m-0.4 24.7h0m-0.2-20.6h0m1.1 5.5h0m0.4 14.1h0m-0.4-26.6h0m0.4 19h0m-0.5-11.8h0m-0.1 3.7h0m0-20.5h0m0.1 0.7h0m0 10.9h0m0 27.2h0m0.5-30.2h0m0.1 10h0m-0.9-0.6h0m0.1-8.8h0m1.4 32.3h0m-0.1-32.3h0m-0.2-4.2h0m0.6 17h0m0.1-5.5h0m0 20.8h0m-0.8-11.5h0m0-15.6h0m0 13.8h0m0-26.9h0m0.6 29.2h0m0.1 11.4h0m-0.1-3.9h0m-0.4-18.4h0m0.2-3h0m8.8-10.7h0m-0.2-6.9h0m0.6 5.3h0m-0.5 45.5h0m0.3 3.2h0m0 2.1h0m0.3-3.4h0m-0.7-55h0m1.2 5h0m0-2.7h0m0.3 4.4h0m-0.4-1.2h0m0.5 48.1h0m-0.5 1.4h0m0.6 3.4h0m-0.1 2.5h0m0.3-52.1h0m0-6h0m-0.1 5.2h0m0.9-3.3h0m-0.6 50.2h0m0.3-1.2h0m0.2 3.3h0m0.1 1.4h0m-0.7-61.9h0m1.2 12.2h0m0.3 1.1h0m-0.7-3.8h0m0.6 0h0m0.3 50h0m-0.7-0.8h0m0.2-0.7h0m-0.3 3.8h0m1.3-49.3h0m-0.2 2.7h0m-0.2 0.6h0m0.2 40h0m0.2 2.2h0m0.4-0.8h0m-0.1-3h0m-0.3-43.4h0m0.2-1.6h0m-0.6-1.6h0m0.5-1.6h0m0.1-1.6h0m-0.1-1.6h0m-0.2-1.6h0m1.2 58.7h0m-0.8 1.6h0m-0.2 1.6h0m0.6 1.6h0m0.5-51.8h0m0.2 4.3h0m0.1 0.1h0m-0.5-3.4h0m-0.2 43.7h0m0.6-4.1h0m-0.8 1.5h0m0.2-43.9h0m0.2 46.4h0m1.2-48.5h0m0 2.7h0m0.1-0.9h0m-0.6-0.7h0m0.1 44.7h0m0.5 0.1h0m0.3-4.7h0m-0.7 1.6h0m0.1-48.6h0m0.5 54h0m0.4-47.4h0m-0.1 1.6h0m0.4-2.6h0m-0.3-1.3h0m0.3 40.6h0m0.3 1.8h0m-0.2-1.6h0m-0.5-1h0m1.6-33.9h0m0.1-2.4h0m0-0.2h0m-0.4 37.2h0m-0.5-2.6h0m0.9-1.4h0m0 6.3h0m0-45.1h0m1 13.2h0m0.1-6.2h0m-0.2 1.8h0m-0.6 1.3h0m0.7 31h0m-0.5 0.1h0m0.3 2.3h0m-0.2 2.9h0m1.4-35.6h0m0.1-3.5h0m-0.1-0.6h0m-0.9 37h0m0.2 4.1h0m0.3 0.6h0m-0.1-5.1h0m-0.2-37.7h0m1 3.3h0m0.6 2.6h0m-0.6-2.8h0m-0.2 2.7h0m0.9 35.7h0m-0.5-1.2h0m-0.4-2.9h0m0.6-41.8h0m0.9 10.4h0m-0.3-0.8h0m-0.1 0.7h0m0.5 0h0m0 32.1h0m-0.4 4.4h0m0.3-2h0m0 1.3h0m0-39.9h0m0 41.7h0m1.2-36.4h0m-0.3 4.9h0m0.3 0h0m-0.2 23.4h0m-0.2 1.8h0m0.6-1.8h0m-0.7 7.4h0m1.6-35.7h0m0 3.8h0m-0.6-3.2h0m0.5 2.7h0m0.1 28.4h0m0.1-1.4h0m-0.4 3.4h0m-0.2-0.4h0m1.6-26.4h0m0.1-3.4h0m-0.7 1.7h0m-0.1 28.7h0m0.3-3.1h0m-0.1 2h0m0.3-2.1h0m-0.4-28.5h0m-0.1 39.2h0m0.4-7.5h0m1-27.8h0m-0.6 1.1h0m0.6-5.7h0m0.1 28.1h0m0.1 2.9h0m-0.1 2h0m0.2-4.1h0m-0.2-28.3h0m0.2 34.9h0m-0.9-2.8h0m0.1 1.6h0m-0.5 1.6h0m0.6 1.6h0m-0.2 1.6h0m0.2 1.6h0m-0.4 1.6h0m1.4-37.9h0m0.8-3.1h0m-0.3-1.1h0m0 29.8h0m-0.6-2.3h0m0.5-0.9h0m1.1-30h0m-0.5 0.2h0m0.5 4.4h0m0-0.6h0m-0.2 29h0m-0.3 2.7h0m-0.1-3.7h0m0.7 4h0m0-35.5h0m0.1 44.2h0m0.2-43.5h0m0.6-3.9h0m-0.5 6.5h0m0.1 28.2h0m0.1-3.9h0m0.6 2.1h0m-0.5 0.1h0m-0.2 9.7h0m1.4-42.8h0m0.1-4.2h0m-0.3 3h0m0.1-1.6h0m-0.4 32.1h0m0 3.9h0m0.4-1.5h0m0-2.2h0m0-37.3h0m0.2 42.1h0m0.1 1.6h0m-0.5 1.6h0m0.6 1.6h0m-0.1 1.6h0m0.2 1.6h0m-0.3 1.6h0m0.5-50.3h0m0 2.7h0m0-0.3h0m-0.1 36h0m0.5 0.4h0m-0.1-5.3h0m-0.5 0.7h0m1-36.1h0m0.4 1.6h0m0.4-1.3h0m-0.4 2.8h0m-0.3 36.6h0m0.1-1.3h0m-0.1 3h0m0.3 1.2h0m0.9-34.2h0m-0.3 0.1h0m0.7-2.6h0m-0.1 28.3h0m-0.5 5.5h0m0.1-2.8h0m-0.2-33.3h0m-0.1-1.6h0m1.6-1.6h0m0.2-0.4h0m-0.6-0.4h0m0.3 3.8h0m-0.3 37.1h0m0.7-2.2h0m-0.4 1.6h0m0.5-41.5h0m-0.8-1.6h0m1-1.6h0m0.3 0.6h0m-0.1-0.7h0m0.5 5.9h0m-0.5 34h0m0.3 1.9h0m-0.1 2.4h0m0-2h0m0.2 6.3h0m0.5-52h0m0.1 2.3h0m-0.4-1.4h0m0.6 2.4h0m-0.2 41.5h0m0.3 0.4h0m-0.4-2h0m0-44.4h0m1.5 6.6h0m0.1-0.5h0m-0.7-0.3h0m0.4 2.3h0m0.4 39.9h0m-0.6 0.4h0m-0.2 4.6h0m0.7 0.6h0m-0.9-0.1h0m0.8 26.2h0m0.6-67h0m0.2 2.9h0m-0.4 2.3h0m-0.1-3.5h0m0.7 46.5h0m-0.7 4.4h0m0.3-0.5h0m0.3 0.8h0m0.1-59.3h0m-0.7 60.1h0m1.3-42.4h0m0.2-1.7h0m-0.5 5h0m0.5-3.2h0m-0.5 51.4h0m0.7-2h0m-0.4 3.7h0m0.2-59.2h0m1.2 18.9h0m0.2-2.9h0m-0.3-3.2h0m-0.6 44h0m0.9-1h0m-0.1-2h0m-0.2 3.1h0m-0.4-43.8h0m1.3 10.2h0m-0.1-0.4h0m-0.1-2.8h0m0.5 36.7h0m0-1.5h0m0 2.4h0m-0.6-41.3h0m1.5 5.9h0m-0.1 1.3h0m0-3.8h0m-0.2 36.2h0m0.1-1.4h0m0.1-5.2h0m0.2-35.3h0m-0.5 47.7h0m1.6-43h0m-0.6-0.8h0m-0.2 2.3h0m0-2.2h0m0.7 27.8h0m-0.7 4.9h0m0.5-3.8h0m-0.4-32.1h0m-0.2 37.1h0m1.3-37.1h0m0.4 2.5h0m0-2.4h0m0 3.4h0m-0.3 31.2h0m-0.3-2.5h0m0.3-0.2h0m1.3-36.8h0m-0.4-2.9h0m0.3 3.5h0m-0.6-4.2h0m0.5 38.3h0m0-5.1h0m0.1 2h0m0.9-39h0m0.1-1h0m-0.1 2.6h0m0.4 1.2h0m-0.5 35.2h0m-0.5-0.4h0m0.5-3h0m0-39.2h0m0.5 48.5h0m0.7-44.4h0m-0.4 0.5h0m0.2-1.5h0m-0.2 39.4h0m0.4-1.2h0m-0.3-2.6h0m0.5-37.8h0m-0.9 41.6h0m-0.1 1.6h0m0 1.6h0m1.1 5.3h0m0.9-51.4h0m-0.9 3.1h0m0.2-3.9h0m0.6 2.4h0m0 34.9h0m-0.2 5.3h0m0 0h0m0.6-45.8h0m0.4-1h0m-0.5 3.6h0m0.4-3.7h0m-0.5 43.3h0m0.9 0.4h0m-0.4-3.6h0m0.5 7.8h0m0.5-49.8h0m-0.4-2.7h0m0.3 2.4h0m0.5 0.3h0m0 42.1h0m-0.4 1h0m-0.4-4h0m0.7 2.3h0m0.6-44h0m-0.1-0.5h0m0.1-0.2h0m0.6-2.2h0m-0.7 43.3h0m0.5 3.3h0m0.1-2h0m0.1 3.5h0m0.8-51.9h0m0-3.3h0m-0.6 4.7h0m0.3-4.1h0m0.1 45.5h0m-0.3 2.7h0m0.7-2h0m-0.3-48.2h0m0.1 56.6h0m1.1-53.4h0m0 2.7h0m-0.6 1.1h0m0.7 1.9h0m-0.5 32.4h0m0.1 0.5h0m-0.5 1.9h0m0-0.7h0m1.5-37.2h0m0-3.5h0m-0.6 1.7h0m0.9-1.8h0m-0.7 32.5h0m0 4.7h0m-0.2-1.5h0m1.4-33.9h0m-0.4 1.6h0m0.6 2.4h0m-0.2 24h0m0.5 1.8h0m-0.4 2.4h0m0.1-5.2h0m0 12.8h0m0.9-34.3h0m0.4-2.3h0m-0.7 2.9h0m0.2-4.6h0m-0.1 23.1h0m0.1 2.5h0m0.5 2.2h0m-0.3 1.7h0m-0.1-32.3h0m-0.2 1.4h0m1.5 3.9h0m-0.5-0.7h0m0.6-1.4h0m-0.3 23.5h0m-0.4 2.6h0m0.4-0.2h0m-0.2-30.7h0m0 32.6h0m-0.4 1.6h0m-0.3 1.6h0m0.4 1.6h0m0 1.6h0m1.2-28.8h0m-0.1-1.6h0m0.1-3.4h0m0.3 26.6h0m-0.3 1.2h0m0.3-3.1h0m0 0.4h0m-0.5 2.2h0m0.1 1.6h0m-0.1 1.6h0m0.2 1.6h0m0.2 1.6h0m-0.1 1.6h0m0.9-37.1h0m0.5 2.2h0m-0.3 0.3h0m-0.1-3.1h0m0.5 31.9h0m-0.4-2.6h0m-0.1-0.6h0m0.1-2h0m-0.2 10.6h0m0-4.7h0m0.1 1.6h0m-0.1 1.6h0m1.1-29.8h0m-0.1-0.3h0m0.2-5.3h0m-0.1 3h0m-0.1 26.2h0m-0.1 3.3h0m-0.1 0.3h0m1.1-30.8h0m0.3 0.3h0m0.2 4.1h0m0-3.8h0m0.3 38h0m-0.6-4.4h0m0.4 4.3h0m0-41.8h0m-0.3 50.3h0m0.6-39.1h0m0.8 2.4h0m-0.6-1.5h0m0.1 28.6h0m0.1 2.1h0m-0.4 3.2h0m0.1-5.3h0m1.1-17.5h0m0.1-2.2h0m0 1.8h0m0.4 0.2h0m0 24.9h0m0.2 1h0m-0.8-0.4h0m0.6 4.4h0m0.4-26.3h0m0.4-0.9h0m0-1.3h0m-0.4 1.6h0m-0.2 22.5h0m0.6 1.2h0m0.3-1.8h0m-0.3-1.9h0m-0.5-25.4h0m1.7 14.2h0m-0.4 0.1h0m0.6-4.3h0m-0.7 20.3h0m0.5 4.6h0m-0.6-5.3h0m0.3 0.8h0m1-16.6h0m-0.2 4.5h0m0-4.3h0m-0.2 20.1h0m0.1 5.5h0m0.4-3.7h0m0.9-16.8h0m0.3 4.2h0m-0.1-3.7h0m-0.2-0.1h0m-0.5 19.2h0m1 0.1h0m-0.3-1.5h0m-0.1-21.9h0m1.1 7.8h0m-0.2-1.1h0m-0.5-3.6h0m0.4 15.8h0m-0.2 0.5h0m0.7 1.3h0m-0.7 3.6h0m0.1 2.1h0m0.3-23h0m0.1-1.6h0m0.4 1.9h0m0 3.8h0m-0.1-3.2h0m1 4.3h0m-0.9 14.3h0m0.1-0.9h0m0.3 4.4h0m0.1-24.1h0m-0.4 30.2h0m1.5-25.5h0m-0.1-1.2h0m0.4-2.7h0m-0.5 30.6h0m-0.1 0h0m0-2.7h0m0.3 2.8h0m0.3 0.2h0m0.6-23.1h0m-0.4-5.1h0m0.5 2.6h0m-0.5 26.3h0m0.4 1.5h0m0.4 1h0m-0.7-1.5h0m0.5-34.9h0m-0.6 38.6h0m1.4-27.3h0m-0.6-1.4h0m0.1 2.4h0m0.1 31.3h0m0.7-0.8h0m-0.9-5.6h0m0 3.4h0m0.3 6.8h0m0.8-41.3h0m0.5 0.5h0m-0.1 2.9h0m-0.3 24.9h0m0.5 2.7h0m0.3-1.9h0m-0.5-1.1h0m1.3-32.2h0m-0.6 3.8h0m0.4 1.1h0m-0.3 31.3h0m0.3 2.4h0m0.4-3.1h0m-0.3-36h0m0.6 0.7h0m0.6-2.4h0m-0.5 1.1h0m0.5 40.3h0m-0.4-2.3h0m0.1 1.1h0m-0.7 0.9h0m0.5 1.6h0m0.4 1.6h0m-0.6 1.6h0m-0.5 1.6h0m1-73h0m0.9 31.7h0m0-2.1h0m0 2.1h0m-0.5 34.7h0m0.8 5.2h0m-0.7-4.7h0m0.3-0.4h0m-0.3-40.8h0m-0.1 52.3h0m1.4-51h0m0.2 0.4h0m-0.1-0.2h0m0.1 42.5h0m-0.1-2.8h0m-0.2-0.5h0m-0.3 1.9h0m0.5-55.6h0m1.3 12.8h0m0 4.1h0m0.1-4.3h0m-0.2 2.5h0m0 37.1h0m-0.7-1.4h0m0.2 0.4h0m-0.1-2h0m0.5-38.3h0m-0.4 46.6h0m0.8-41.1h0m0.2-0.8h0m0.1-1.5h0m0.5 32.5h0m-0.8 4h0m0.7-4.3h0m-0.4 0.7h0m0.4-39.9h0m0.6 9.8h0m-0.3 0.5h0m0-2.6h0m0.7 31.2h0m0.1 0.7h0m-0.4-0.1h0m0.6-32h0m0.8 4.2h0m-0.6-2.4h0m-0.1-4.1h0m0.4 31.5h0m0.2 1.3h0m-0.6-4.8h0m0.6 1.2h0m0.4-31.4h0m0.2-1.9h0m0.4 1.8h0m0.1 27.5h0m0 5.9h0m-0.4-6.5h0m-0.4-30.3h0m0.6 1.3h0m-0.2-1.6h0m0-1.6h0m-0.5-1.6h0m0.2-1.6h0m0.5-1.6h0m-0.5-1.6h0m0.2 1.4h0m1.4 7h0m-0.3-5h0m-0.1 1.7h0m-0.3 1.9h0m0.9 23.3h0m-0.1-1h0m-0.3 1.4h0m-0.6-1.8h0m0.8-24.6h0m0.2-5h0m0.5 0.3h0m-0.2 4.7h0m0.4 25.2h0m0.3-1.3h0m-0.4 1h0m-0.2 0.6h0m0.6-32h0m-0.3 41.8h0m0.5-37h0m-0.2-3.2h0m0 2.7h0m0.5 26.8h0m-0.3 3.2h0m0-0.9h0m0.4 2h0m-0.5-35h0m0.4 34.6h0m1.2 1.6h0m-1.1 1.6h0m0.2 1.6h0m0.1 1.6h0m-0.1 1.6h0m0.2 1.6h0m0.6-42.6h0m0.3 5.6h0m-0.2-1.3h0m-0.5-2.8h0m0.2 30.7h0m0.1 0.4h0m0.5-0.1h0m-0.9 0.7h0m1.7-30.3h0m0.1 2.5h0m-0.8-2.3h0m0.3 22.6h0m0 4h0m-0.1 2.2h0m0-39.2h0m1.6 5.9h0m-0.5 3.3h0m-0.1-1.4h0m0.3 24.5h0m0 2.2h0m-0.1-2.5h0m0.3-33.3h0m-0.5 37.9h0m0.1-32.5h0m0.1-1.6h0m-0.5-1.6h0m0.4-1.6h0m1.3-2.3h0m-0.5 2.7h0m0.3-3.7h0m-0.5-0.4h0m0.8 36.9h0m-0.5 0.9h0m0.1-2.5h0m0.4-3.3h0m0.1-31.4h0m-0.6 42.4h0m0.7-42h0m0.4-1.3h0m0.4 3h0m0.1-0.7h0m0 29.4h0m-0.2-1.4h0m-0.6-1.5h0m0.2-33.9h0m0.4 43.9h0m0.3-4h0m0.2 1.6h0m-0.3 1.6h0m0.2-35.7h0m0.6-3.8h0m-0.3-0.1h0m0.1 4.6h0m0.3 31.3h0m-0.4-2.7h0m-0.3 3.1h0m-0.1-38.2h0m0.9 41.7h0m-0.6-40.2h0m0.5-1.6h0m0.1-1.6h0m-0.3-1.6h0m-0.2-1.6h0m0.5-1.6h0m1 15.1h0m-0.9-3.6h0m0.6 0.8h0m0 0.7h0m-0.6 35.2h0m1 1.3h0m0-4.3h0m-0.2 2.7h0m-0.3-40.2h0m0.2 41.7h0m0.7-37.5h0m-0.1-3.5h0m0.5-0.2h0m0.2 33.2h0m-0.9 0.8h0m0 4.5h0m0.1-42.6h0m0.8 42.8h0m-0.8-38.3h0m0.4-1.6h0m-0.8-1.6h0m0.5-3h0m1.2 4.3h0m0 3.5h0m-0.1-3.8h0m0.5 36.7h0m-0.2-0.1h0m-0.3 0.3h0m-0.2-5.8h0m0.4 13.9h0m0.8-44.7h0m-0.2-0.5h0m0.3 1.2h0m0.2 29.7h0m0.2 0.5h0m-0.3-0.2h0m0.8-33.4h0m-0.4-3.9h0m1 4h0m0 37.5h0m-0.3 0.5h0m-0.5-3.5h0m1.3-34h0m0 2h0m0.3-6.4h0m-0.5 40.4h0m0-3h0m0.7 1.4h0m-0.7-2.2h0m-0.1-37.5h0m1.3 41.8h0m0-42.4h0m-0.1 5.2h0m0.1-3h0m0 0h0m0.2 37.9h0m0.2 0.1h0m-0.2 0.6h0m-0.1-41.8h0m0.8 4.4h0m0.3 0.8h0m-0.7-0.8h0m0 5.4h0m0.4 35.6h0m0.4-3.9h0m-0.8 4h0m0.7 0.4h0m0.9-29h0m-0.4 0.5h0m0.3-6.3h0m0 2.1h0m0.4 27.6h0m-0.6 3.6h0m0.1-0.3h0m0.3-0.3h0m-0.1-39.1h0m-0.2 41.9h0m0.2-44.5h0m1 15.5h0m-0.4 3.9h0m0.4-2.6h0m-0.3 29.1h0m-0.1-0.4h0m0.7-1h0m-0.4 0h0m0.1-36.5h0m0.5 9.7h0m0.8 6h0m-0.2-2.7h0m0.2 27.6h0m-0.2-5h0m-0.4 2h0m0-30.9h0m1.2 3.4h0m0.4-1.3h0m0 0.6h0m-0.7 3.3h0m0 33.5h0m0.2 0.1h0m0-0.9h0m-0.3-37.6h0m1.7 9.5h0m-0.6 4h0m0.2-4.2h0m0.5 37.3h0m-0.3-2.2h0m0.1-1.5h0m-0.2-35.7h0m-0.2 41h0m0.1-39.5h0m0.2-1.6h0m-0.5-23.5h0m1.5 32.6h0m-0.3 4.9h0m0.6-0.8h0m-0.3 25.2h0m-0.5 4.3h0m0.7-4.8h0m-0.5-29.6h0m-0.6-1.6h0m2.2 9.6h0m-0.5-2.4h0m0.2 0.4h0m0.1 28.6h0m-0.1-5.5h0m-0.5 1.3h0m1.7-27h0m-0.2-1.1h0m0.3 2.3h0m-0.7-3h0m0 30.6h0m0.5 1.2h0m-0.4-0.3h0m0.6-1.3h0m0.1-34.2h0m0.3-0.6h0m0.5 3.1h0m0.1 2.3h0m-0.2 33.7h0m-0.6 3.6h0m0.8-3.6h0m-0.3 10.1h0m0.6-42.7h0m0-3.7h0m0-1.2h0m0.2-1h0m-0.2 38.6h0m0.3 2.2h0m-0.1 3.5h0m1.2-40.8h0m-0.4 2.3h0m0.5 0.2h0m-0.1 35.3h0m-0.4-1.3h0m0.6 5.7h0m0.3-37.9h0m0.1 5.9h0m0.1-0.5h0m-0.1 27.7h0m0.1-1.6h0m0 4.1h0m1.4-29.5h0m-0.1 0.5h0m-0.3-4.4h0m0.3 36.5h0m-0.3 1.4h0m0.4-2.1h0m-0.3 7.9h0m1-44.9h0m0.5 4.6h0m-0.9-5.5h0m0.1 1.4h0m0.4 32.8h0m-0.4 6.1h0m0.8-6.4h0m-0.5 0.8h0m0.2-36.8h0m-0.1 42.6h0m-0.2-39.8h0m0.6-19.5h0m-0.6 69.9h0m1-52.1h0m0.6 0.8h0m-0.5 0h0m0-2.8h0m0.2 40.5h0m0.3 0.4h0m0 1.6h0m-0.5 0.7h0m0.1-47.9h0m-0.2 51.2h0m-0.1-1.8h0m0.3 1.6h0m0.7-47h0m-0.1-1.8h0m0.4 2.2h0m0.1-0.4h0m-0.4 40.2h0m0.3 2.3h0m0.5-0.6h0m-0.2-3.9h0m0.4-48h0m-0.1-2.6h0m0.5 4.7h0m-0.4 39.1h0m0.6 1.5h0m-0.3 3.2h0m0 3.3h0m0.8-54.3h0m0.5 1.4h0m0 2.7h0m-0.4 37.4h0m0.3 1.2h0m0.2-0.7h0m-0.6 6.9h0m-0.1-3.8h0m1.8-35.9h0m-0.7-4.1h0m0 3.8h0m0.7 29.1h0m-1 1.8h0m0.1 0.5h0m1.1-27.9h0m0.2 1.3h0m0.3-4.3h0m-0.6 29.8h0m0.3 4.4h0m0.6 0.2h0m-0.5-1.1h0m0.1 3.8h0m0.4-37.1h0m0.1-1.3h0m0-1.9h0m0.7 3.4h0m-0.1 32.4h0m-0.7 0.6h0m0.8-2.2h0m-0.2 1.6h0m1.1-30.2h0m0-3.3h0m-0.4 3.1h0m0 23.6h0m-0.3 6.6h0m0.1-6.1h0m0.6 3.1h0m-0.1-31.1h0m0 0.9h0m-0.1-1.6h0m-0.4-1.6h0m0.2-1.6h0m-0.2-1.6h0m-0.1-1.6h0m1.3 5.4h0m0.7-5.5h0m-0.9-0.3h0m-0.1 41h0m0.3-1.5h0m0.3-0.3h0m-0.3-2.7h0m-0.3-37.6h0m1.3-2h0m0.5-2.3h0m-0.4 2.5h0m-0.1-1.6h0m0.3 45.8h0m0.3-3.4h0m-0.8-0.6h0m0.6 0.5h0m-0.5-43h0m1.5-2.4h0m-0.4-2.4h0m0 1.6h0m0.3-1.5h0m-0.4 46.9h0m0.5 0.9h0m0.1-0.3h0m-0.4-55.1h0m0.2 60.7h0m1.1-55.3h0m-0.3-3h0m0.3-0.3h0m-0.5 6.6h0m0.7 39.3h0m-0.5-2.4h0m0.5 0.3h0m-0.2 2h0m-0.6-45.6h0m1 1.6h0m0.3 3.7h0m-0.2 0.1h0m0.5 0.7h0m0.3 32.8h0m-0.4 4.3h0m0.2-1.3h0m-0.4 1.9h0m1.1-38.4h0m-0.3-4.7h0m-0.1-1h0m0 36.8h0m0.4-2.1h0m-0.1-0.7h0m0.4-1h0m-0.1 6.1h0m-0.2-1.3h0m-0.1 1.6h0m0.1 1.6h0m-0.1 1.6h0m-0.1 1.6h0m0.2 1.6h0m1.1-34.6h0m-0.3 1.2h0m0.7-2.1h0m-0.3 2h0m0.1 18.4h0m-0.3 6.1h0m0.1-1.1h0m-0.5-30.5h0m0.2 34.2h0m1.4-28.7h0m0.1-5.6h0m0 5.2h0m-0.6 0.1h0m0.6 23.7h0m0.1 6.2h0m-0.8 0h0m0.1 4.2h0m1-41.9h0m0.2 2.8h0m0.6 0h0m-0.3-3.1h0m-0.3 36.3h0m0.4 0.7h0m-0.6 3h0m0.6 6.8h0m1-52.7h0m-0.2 2.6h0m-0.4-4h0m0.3 6.4h0m0.4 40.3h0m-0.5 1.2h0m0.3-2.8h0m-0.1 5h0m1.1-43.7h0m-0.4-4.5h0m0.3-0.3h0m0.2 43.7h0m-0.6 0.9h0m0.7 0.8h0m-0.8 2h0m0.2-48.4h0m0.8 2.6h0m0.2 0.5h0m0.4 1.7h0m-0.1-1.8h0m0 39.3h0m-0.2 2h0m0.5 0.2h0m0 4.6h0m-0.7-47.3h0m0 50.4h0m-0.5-4h0m2.1-37.9h0m-0.1-2.5h0m-0.2-0.3h0m-0.4 0h0m0.5 41.8h0m-0.4-2.4h0m0.3 1.4h0m-0.5 2.2h0m0.3-45.1h0m-0.7-1.6h0m0.9-1.6h0m-0.4-1.6h0m0.3-1.6h0m-0.8-1.6h0m0.4-1.6h0m0.6 71.6h0m1.2-62.7h0m-0.5 1.5h0m0.5 4h0m-0.2 46.7h0m-0.2-1.5h0m0.5-0.2h0m-0.2-5.1h0m-0.5-47.6h0m0.5 59h0m0.5-45.6h0m0.5 0.4h0m0.2-5.4h0m0 3.5h0m-0.8 45.1h0m0.6 0.2h0m-0.4 0.5h0m-0.2 0.5h0m0.8-53.6h0m0.7 8.6h0m0.1 1.2h0m-0.3 2.4h0m0.5-0.2h0m-0.7 43h0m0.7 1.5h0m-0.8 3h0m0.3-56.3h0m1.5 22.3h0m-0.3-3.3h0m0.1 3h0m-0.6 30.2h0m0 4.1h0m-0.1 0.7h0m0.6-1.4h0m-0.3-48.6h0m0.5 54.5h0m0.1-44.4h0m0.3 6.7h0m0.1-1.6h0m0.5-1.2h0m-0.4 36.2h0m0.5 1.7h0m-0.9-4.8h0m0.4 6.5h0m1-36h0m0.3 2.6h0m-0.6 1.4h0m0-1.7h0m0.4 30.4h0m-0.1-0.7h0m0.5 4.1h0m0.1-42.4h0m-0.2 48.5h0m0.3-7h0m-0.5 1.6h0m0.1 1.6h0m0.5 1.6h0m0.7-40.8h0m0.1-1.7h0m-0.8 2.3h0m0.3 38.9h0m-0.3-2.4h0m0.1 4.2h0m0.6-5.5h0m0.1-38.4h0m0.4 6.1h0m0.5-2.5h0m-0.8-0.6h0m0.8 39.3h0m0.1-1.2h0m-0.1 3.9h0m0.4-38.4h0m-0.1 5.9h0m0.1-6h0m-0.1 4.4h0m0.7 37.3h0m-0.6-2.4h0m0.4 3.8h0m-0.4-3.2h0m-0.1-40.3h0m0.5 45.2h0m1-41.6h0m0.1 2h0m-0.6-2.5h0m0.8 5.1h0m-0.4 31.7h0m-0.3 2.8h0m-0.2-0.9h0m0-3.7h0m0-41.6h0m0.2 46.5h0m0.3 1.6h0m0.2 1.6h0m-0.2 1.6h0m-0.1 1.6h0m-0.2 1.6h0m-0.4 1.6h0m1.7-45.2h0m-0.2 1.6h0m-0.2-4.7h0m0.4 5.4h0m0.1 30.4h0m-0.3 0.8h0m0.2-2.4h0m-0.4-0.2h0m0.8-39.4h0m1 0.6h0m-0.7 0.3h0m0.1 5.1h0m0.5-5.4h0m-0.9 40.3h0m0.6 0.7h0m-0.1-4h0m-0.2 5.5h0m0.5-44.4h0m0.5-1.7h0m-0.2-0.9h0m0.8 6.2h0m-0.2-4.6h0m0.1 43.7h0m0.1 0.4h0m-0.4-2.2h0m0.2 1.9h0m-0.2-47.4h0m0.8 1.1h0m-0.2 1.1h0m0.6-2.2h0m-0.1 4.8h0m0.2 48h0m-0.1 1.5h0m-0.1-5.1h0m0 1.7h0m0.2-50.2h0m-0.1 56.6h0m-0.4-56.5h0m-0.2-1.6h0m-0.1-1.6h0m1.9 5.9h0m-0.8-1.4h0m0 1.9h0m0.3 39.8h0m-0.3 0.9h0m0.5-2.3h0m-0.5-0.7h0m0.8-45.3h0m0.7 3.3h0m-0.2-1.9h0m0.2 0.9h0m0.2 42.7h0m-0.2-3.8h0m-0.1 2.5h0m-0.1-46.5h0m0.2 51.3h0m-0.3-1.8h0m0.6 1.6h0m0.5 1.6h0m-0.5 1.6h0m-0.3 1.6h0m0.3 1.6h0m-0.1 1.6h0m0.8-54.3h0m-0.1 0.7h0m0-1.5h0m0 33.5h0m0 2.8h0m0.2-1.8h0m-0.2 7.6h0m1.3-39h0m-0.4-0.7h0m0.2-0.4h0m-0.1-2.5h0m0.3 35.8h0m-0.6-3.1h0m0.7 5.9h0m-0.5 7h0m0.7-41.3h0m0 5h0m0.2-6.1h0m0.1 38.3h0m-0.2-3.9h0m0 2.2h0m0-1h0m0.7-36.3h0m-0.2 42.2h0m1-43.3h0m-0.3 5.2h0m-0.2-1.1h0m0.3 32.3h0m-0.4 2.6h0m0.2-4.7h0m0-40.9h0m1.5 7.8h0m-0.4 1.7h0m0.2-3.2h0m-0.3 37.9h0m0.5 0.7h0m0.1-1.5h0m-0.1-43.2h0m-0.5 49.2h0m0.7-46.4h0m0.5-0.6h0m0.5 6.1h0m-0.8-6h0m0.7 35.3h0m-0.3 0.8h0m-0.2 4.9h0m0.3-1h0m0.6-34.7h0m0.3-1.3h0m-0.1-3h0m-0.4 32.4h0m0.3 1.5h0m0.4-2.3h0m-0.2-35.6h0m1.2 6.7h0m-0.4-0.7h0m-0.2-1.9h0m-0.1 28.8h0m0.2 3.7h0m0.5 0.6h0m0.9-28.9h0m-0.3-0.9h0m0.4 0.1h0m-0.4-5.2h0m0.2 32.5h0m-0.5 0.4h0m-0.1-2.8h0m0.4-34.8h0m0.8 5.5h0m0.7 4.9h0m-0.5-1.1h0m0.4 29.1h0m0.1 3.4h0m-0.2-3.2h0m0.1 3.5h0m-0.4-37.6h0m0.4 37.9h0m0.6-39.7h0m-0.2 5.8h0m0.7-1.7h0m-0.7-1h0m0.4 33.6h0m-0.5-4.6h0m0.4-0.8h0m-0.5 10.7h0m1.6-38.5h0m0-1.7h0m-0.1 0.1h0m-0.3 27.7h0m0.2 1.3h0m0.6 0.8h0m-0.2 0.5h0m-0.1-35.4h0m0.1 38.8h0m0.6-35.7h0m0.2 2.8h0m0.3-0.1h0m-0.6-0.2h0m-0.2 27.5h0m0.4-5.9h0m0.4-0.4h0m-0.1 2.3h0m-0.1 5.9h0m0.7-27.3h0m0 3.4h0m0.4-4.3h0m-0.7 25.5h0m0.7 0.3h0m-0.3-0.4h0m-0.4 3.5h0m1.6-31.7h0m0.3 3.5h0m-0.5-0.9h0m-0.2-4.2h0m0.5 32.7h0m-0.5-4.6h0m0.7 4.7h0m-0.3-5.6h0m0.6-31.6h0m0.1 3.3h0m0.6-2.3h0m-0.6 3.3h0m-0.3 30.4h0m0.2 1.5h0m0.6-0.2h0m1-38.3h0m-0.8 1.6h0m0.7-0.1h0m-0.2 33.1h0m0.4 0.9h0m-0.5-4.1h0m-0.3 1.4h0m0.7-36.7h0m0.6 2.3h0m-0.4 4.4h0m0.3 0.1h0m0.3-3.2h0m0.1 41.1h0m0-2.6h0m-0.2 2.4h0m0.7-39.7h0m-0.3-2.6h0m0.2 2.7h0m0.7-2.3h0m-0.5 38.6h0m-0.3 0.1h0m0.4-2.5h0m-0.3 1.9h0m1.8-30.1h0m-0.3-3.4h0m-0.4 4.5h0m0.7 26.3h0m-0.2 4.7h0m-0.7-2h0m1.6-35.3h0m-0.3 1.7h0m-0.3-0.3h0m0.9-5.6h0m-0.1 36.5h0m-0.1 1.1h0m0-6.1h0m-0.4 7.3h0m1-36.6h0m0.1-0.8h0m-0.1 4.2h0m0 30.6h0m0.6 0.1h0m-0.6-2.6h0m0.5 0.9h0m-0.6-36.3h0m0.8 4.9h0m0.9 3h0m-0.3 0.6h0m-0.5-4.2h0m0.6 33.2h0m-0.4-3.6h0m0.2 3.5h0m0.4-34.5h0m-0.1 1h0m0.4-1.6h0m-0.3-1.6h0m0.2 8.3h0m0.8-0.4h0m-0.9 1.5h0m0.7 26h0m-0.6 3.3h0m0.4 1.3h0m0-32.8h0m-0.4 38.4h0m1.3-33.8h0m-0.3 2h0m0.5 0.6h0m-0.1 0h0m-0.4 24.5h0m0.7 6.5h0m-0.5-5.7h0m0 3.3h0m0.2-40.6h0m0.1 51.3h0m1-46.7h0m-0.1-1.6h0m0.3 4.6h0m-0.3 32.3h0m0.3-1.4h0m-0.8-0.6h0m0.8 3.3h0m-0.8-39.7h0m0.6 43.2h0m0.7-36.8h0m0.6 0.8h0m-0.7-3.8h0m0.6-0.4h0m-0.6 35.3h0m-0.1 5.9h0m0.7-6.3h0m0.8-32.5h0m-0.2-3.6h0m-0.4-0.4h0m0.1 40h0m0.1-1h0m-0.1-3.9h0m0.2 2.1h0m-0.1 3.8h0m0.4 1.6h0m0 1.6h0m0 1.6h0m-0.3 1.6h0m0.6 1.6h0m0.9-42.7h0m-0.5-0.3h0m-0.1 4.2h0m0.3-5.6h0m-0.4 34.1h0m0 0.6h0m0.4-3.5h0m0.2 3.4h0m-0.3-35.4h0m0.1 1h0m-0.3 48.7h0m1.5-54h0m0.1 5.7h0m-0.8-3.1h0m0.5 2.6h0m-0.5 30h0m0.1-0.2h0m0.6 2.7h0m-0.4-3.9h0m1.2-32h0m-0.5 1.1h0m0.6 0.7h0m-0.5 32.9h0m0.8-4.4h0m-0.4 2.2h0m-0.3-2.5h0m0.3-34.2h0m-0.4 41.6h0m1.3-39.1h0m0.2 1.6h0m-0.6-2.6h0m0.6-1.2h0m0.2 41.9h0m-0.5-0.1h0m0.3-3.8h0m-0.1-42.6h0m0.6 3.5h0m0.4-1.1h0m0.2-2.6h0m-0.5 2.1h0m0.2 39.5h0m0.3 2.7h0m-0.5-1.8h0m0.5 0.9h0m0.8-47.1h0m-0.4-1.2h0m0.1 2.3h0m0.2 47.2h0m0.2-4.7h0m-0.3 0.9h0m0.2 0.8h0m-0.2-56h0m0.9 23.2h0m0.5 2.2h0m-0.3-4.7h0m0.3 45.7h0m-0.3-4h0m0.3 3.4h0m-0.5-0.3h0m0.7 2.8h0m0.9-37.5h0m0.1-0.3h0m-0.7-3.4h0m0.1 44.5h0m-0.1 1.2h0m0.2-2.7h0m-0.1 1.1h0m0.2-46.6h0m-0.4 54.4h0m0.7-51.6h0m0.1-1.6h0m-0.4-1.6h0m0.1-1.6h0m0.5-1.6h0m-0.5-1.6h0m-0.4 64.7h0m1.1-49.7h0m-0.1-1.6h0m0.4 1.9h0m-0.2-4.2h0m-0.5 39h0m0.1 1.7h0m0.8-0.3h0m0.6-36.3h0m-0.4 3.1h0m0.2-4.5h0m0.3 2.5h0m0.1 39h0m0.2-1.1h0m-0.2-0.7h0m-0.5 1.6h0m0.4 2.4h0m0.8-43.1h0m0.5 0.2h0m-0.8 1.2h0m0.9 32.3h0m-0.2 3.2h0m0-2.8h0m0.2 0.3h0m0.3-34.1h0m-1-1.6h0m0.2-1.6h0m-0.1-1.6h0m1.6 10.5h0m-0.6-4.1h0m-0.1 0.1h0m0.5 5.6h0m0.2 32.4h0m-0.5 0h0m0.2-0.5h0m-0.2-38.5h0m-0.5 46.8h0m0.3-45.3h0m0.2-1.6h0m-0.3-1.6h0m1.3 2.1h0m-0.3 1.2h0m0.1-1.5h0m0 43.6h0m-0.1 1.7h0m0.5-3.7h0m-0.1-47.4h0m0.6 5.1h0m0.5 0.5h0m-0.6 6.3h0m0.5-1.8h0m0.4 41.5h0m-0.4-2.3h0m0.2-0.3h0m0.1-44.8h0m-0.6 52.1h0m0.4-2.1h0m-0.3 9.1h0m1.1-57.6h0m0.4-4.5h0m-0.3 5.5h0m-0.1 37.7h0m-0.1 0.5h0m-0.2-1.7h0m0.1-42.3h0m0.5 48.3h0m0.6-45.5h0m0.6 1.1h0m-0.5 1.5h0m-0.3 38.3h0m-0.1 0.9h0m0.1 0.3h0m0.1-50.2h0m0.5 50.9h0m1-45.1h0m-0.3 0.1h0m-0.2 4.3h0m0.4-3.2h0m-0.5 33.5h0m0.7 6.1h0m0.1-4.8h0m-0.9 3.9h0m1.2-38.4h0m-0.1-0.8h0m0 4.8h0m0.7-1.3h0m0.1 36.7h0m-0.8-3.6h0m0.1 1.1h0m0.2 0.9h0m1.1-38.3h0m-0.3 5h0m-0.2 0.2h0m-0.1 25.3h0m0.8 1h0m-0.1-1.1h0m0.3 5.6h0m-0.2-37.7h0m0.4-0.8h0m0.1 2.4h0m0.3-1.4h0m0.3 0.1h0m-0.6 37.5h0m0.5 1.7h0m-0.2-5.5h0m0.3 5.5h0m-0.8-42.5h0m1 4h0m0.9-2.2h0m-0.1-1.5h0m-0.5 35h0m0 2.9h0m0.5-6.7h0m-0.2 8.5h0m-0.2-2.7h0m0.2 1.6h0m-0.1 1.6h0m-0.3 1.6h0m0.2 1.6h0m0.7 1.6h0m0.4-46.8h0m0.4 6.8h0m-0.9-2.7h0m0.9 28.7h0m-0.6 1.3h0m0.2 2.8h0m0.5-33h0m0.7-1.3h0m0.1 2h0m-0.8 26h0m0.3 3h0m0.5-0.8h0m-0.3-37.4h0m0.2 37.4h0m0.1 1.6h0m0.4-31.1h0m0.7-2.8h0m-1 5.3h0m0 28.3h0m0-3.7h0m0.1 4.7h0m-0.1-37.2h0m0.3 37.3h0m0.2 1.6h0m0.9-36.4h0m0.4 3.3h0m-0.8-1.8h0m0.8 32.5h0m-0.5 1.2h0m-0.2 3.5h0m0.2-5.5h0m0.3-33.6h0m-0.1 42.1h0m1.4-36.3h0m0-3.8h0m-0.1 1.9h0m0 1.3h0m0.1 29.3h0m-0.9-0.3h0m0.3 1.4h0m0.1-36.9h0m0 45.6h0m0.3-46.6h0m0.3 4.7h0m0.1-2.8h0m0.2 4h0m0.3-0.8h0m-0.2 35.3h0m-0.4-3.4h0m0.2 5h0m0.4-3.9h0m-0.6-40.6h0m0.3 3.7h0m1.1-2.8h0m0 3.5h0m0.3 1h0m-0.2-2.8h0m0.4 34.3h0m-0.6-1.5h0m-0.1 3.8h0m0-38.6h0m0 46.5h0m0.3-4.2h0m0.6-35.2h0m0.2-4.4h0m-0.2-1.7h0m0 3.4h0m0.6 32.5h0m-0.6-3.6h0m0.2-2.5h0m0 6.4h0m0.5-38.7h0m0.7 9.1h0m-0.4 1.7h0m0.1-4.5h0m0.3 28.4h0m0-2.4h0m0.1 0.8h0m0.3-1.6h0m-0.8-29.1h0m0.4 32.3h0m0 1.6h0m-0.5 1.6h0m0.4 1.6h0m0.3 1.6h0m-0.6 1.6h0m-0.1 1.6h0m0.9-2.8h0m0.4-31.7h0m0.1-0.6h0m-0.4 0.6h0m0.7 26.4h0m-0.2-0.3h0m-0.3-1.7h0m1.5-25.3h0m0-0.1h0m0.3 3.2h0m-0.1 26.5h0m-0.1-1.3h0m-0.3 1.6h0m0.2 4.1h0m1.1-36.9h0m-0.2 2.1h0m-0.3-0.6h0m0.2 0.7h0m0 32h0m0-0.3h0m0 0.2h0m0.1-39.3h0m0 47.3h0m-0.4-43.3h0m-0.2-1.6h0m0.4-1.6h0m-0.4-1.6h0m0.4-1.6h0m-0.1-1.6h0m-0.2-1.6h0m1.4 9.3h0m0.2 2.1h0m0.2 0.5h0m-0.9 1.5h0m0.7 31.4h0m0.2 2.2h0m-0.3 0.6h0m0.1 0.1h0m-0.1-45h0m-0.1 65h0m0.6-63h0m0.6 0h0m0.1 4.3h0m-0.1 1.5h0m-0.2 36.3h0m-0.2-0.6h0m0.6-0.6h0m-0.9 5.7h0m0.5-1.2h0m0.5 1.6h0m-0.8 1.6h0m0.9 1.6h0m0.2-48.9h0m-0.1 3.8h0m0.5-4.2h0m0-1.5h0m-0.1 41.4h0m-0.3 0.8h0m0.7 4h0m-0.2-3h0m0.1 3.9h0m0.8-50.5h0m-0.6 4.1h0m0.5 1.8h0m-0.4 36.3h0m0.8 4h0m-0.9-1.7h0m0.5 2.1h0m0.9-43h0m-0.4-1.4h0m0.6 0.2h0m0.3 3.6h0m-0.8 35.5h0m0 4.9h0m-0.2-1.3h0m1.5-37.9h0m-0.1-2.7h0m0.2-2.3h0m-0.5 48h0m0.6-4.1h0m0.2 3h0m-0.2-1.2h0m1.2-36.6h0m-0.9-6.3h0m0-0.3h0m0.8 47.6h0m-0.2-0.4h0m0.3 1.1h0m-0.8-1.6h0m0.2-47.1h0m0 1.2h0m1.5 6.3h0m0.2-2.5h0m-1-1.7h0m0.1 46.3h0m0.9 1h0m-1-5.1h0m0.2-44.6h0m-0.1 52.3h0m1.1-43.5h0m0.2-0.1h0m0.5-6.7h0m-0.1 49.1h0m-0.2-6h0m-0.2 2h0m0.5-45.3h0m-0.4 1.1h0m-0.1-1.6h0m0.1-7h0m0.6 14.2h0m0.3 0.2h0m0.3 4.4h0m0.1-4.8h0m0.1 45.6h0m-0.2 0.3h0m-0.6-2.6h0m0.4 2.2h0m0.1 4.6h0m1.4-49.1h0m0-0.3h0m-0.3-3h0m-0.2 1h0m0.1 44.4h0m0.1 3.1h0m0.2 1.6h0m-0.8-53.9h0m0.8 58.4h0m1-50.1h0m0 4.4h0m-0.6-5.2h0m-0.2-0.5h0m0.2 47.5h0m0.4-1.9h0m-0.2 1.3h0m0.4-2.5h0m-0.2-47.2h0m-0.3 3.4h0m0.3-1.6h0m0-1.6h0m0-1.6h0m0-1.6h0m1.3 7.2h0m-0.5-2.8h0m0.1 5.4h0m-0.3 42.5h0m0.2 2.5h0m0.2-2h0m0-50h0m-0.1 53.3h0m1.3-43.8h0m-0.2-2.1h0m-0.2 1.6h0m0.3-3.3h0m0.1 44.5h0m-0.6 3.2h0m0.6 0h0m-0.7-1.7h0m-0.1 1.6h0m1-47.4h0m-0.1-3.2h0m0.6 5.9h0m0.1 38.5h0m-0.2 0.5h0m0.2 2.3h0m0.1-3.2h0m-0.7-46.2h0m1 8h0m0.7-4.3h0m0.2 1.7h0m-0.8-0.6h0m0 38.3h0m0.1-0.7h0m0.6 2h0m-0.2-45.4h0m-0.5 49.4h0m1.6-36.9h0m-0.5-1.3h0m0.4-0.1h0m0.1 0.8h0m-0.4 32.6h0m0.5-0.6h0m-0.6-4.3h0m0.2 0h0m0.4-29.8h0m0.7 4.6h0m0 4.1h0m-0.1 2.2h0m-0.4-0.7h0m0 19.7h0m0.9-0.8h0m-0.2 3.3h0m-0.5-27.7h0m-0.2 37.9h0m0.8-37.7h0m0-1.6h0m0.4-1.6h0m-0.7-1.6h0m0-2.9h0m0.8 7.7h0m0.1 4.1h0m0.5-1h0m-0.3-5.5h0m0.1 25.7h0m-0.3 2.8h0m-0.4 2.8h0m0.2 1.4h0m0.8-29.9h0m0.3-1.6h0m0.5-1.7h0m-0.8 28.9h0m0.3 2.4h0m-0.2-4.1h0m0 4.5h0m0.1 1.6h0m0.3 1.6h0m-0.5 1.6h0m0.2 1.6h0m-0.1-46.1h0m1.7 9h0m-0.2-1h0m-0.1 1h0m-0.3 31.7h0m0.1-3.8h0m-0.2 1.4h0m-0.1-2.4h0m-0.1 5.5h0m1.9-35.3h0m-0.9 1.3h0m0.1 4.4h0m0.2 29.5h0m0.1-3.7h0m-0.2 2h0m0.1-2.8h0m1-27.9h0m0 1h0m0.7 0.1h0m-0.7-2.1h0m-0.2 36.3h0m0.2-3.6h0m0.2 5.3h0m-0.1-43.5h0m0.4 46.8h0m0.7-42.6h0m0.5-0.8h0m-1 4.6h0m0.6-5.8h0m-0.1 33.5h0m-0.4 5.1h0m0.3 1.4h0m0.3-44h0m-0.5-4.6h0m1.3 14.1h0m0.4 0.9h0m-0.7-0.3h0m-0.1-2.9h0m0.6 26.4h0m-0.5 5.5h0m0.7-3.1h0m-0.7 0h0m0.5 4.4h0m0-0.9h0m-0.3 1.6h0m0.4 1.6h0m-0.2 1.6h0m1.2-40.5h0m-0.5 3h0m0.1-3.2h0m-0.1 31.4h0m0.2 2h0m0.4 0.9h0m-0.5 0.9h0m1.5-32.4h0m-0.6 1.9h0m-0.2-2h0m0.1 34.3h0m0.4-1.3h0m0.3-2.2h0m-0.6 0.3h0m0.1 5.4h0m1.5-33.2h0m-0.8-5.7h0m-0.1-0.4h0m0.8 44.7h0m-0.5 1.1h0m-0.2-3h0m0.6-0.6h0m-0.3 4.8h0m1.5-45h0m-0.1-0.8h0m-0.3 0.6h0m-0.1 3.5h0m-0.3 34.9h0m-0.1 0.6h0m0.2 0.4h0m0.5 2.3h0m-0.6-44.7h0m1.4 3.6h0m-0.2 1h0m0.1-2.3h0m0.3-2.2h0m-0.5 50.1h0m0.1 1.1h0m0.6 0.8h0m-0.5 1.3h0m0.8-55.5h0m0.3 1.4h0m0.5-0.6h0m-0.8 47.7h0m-0.1-1.8h0m0.7 3.1h0m-0.4-1.6h0m-0.1-51.3h0m0.1 1.1h0m0.5-1.6h0m-0.6-1.6h0m1.2 5.4h0m-0.4 0.4h0m0.3-2.2h0m0.5 49.5h0m-0.8-3.2h0m0.7 0.3h0m-0.3-54.6h0m1.3 17.6h0m-0.7 0.6h0m0.9-5h0m0 44.9h0m-0.3-4.1h0m-0.5 3.3h0m0.8-42.6h0m0.2-1.7h0m0 3.3h0m0.4 1h0m-0.4 37.7h0m0.2-2.1h0m-0.4 1.1h0m0.2-43h0m0.1 48.4h0m0.5 2.2h0m0.8-47.8h0m0.2 0.6h0m-0.6 1.3h0m0.2 32h0m0.4 0h0m-0.6 5h0m-0.1 1.7h0m1.4-42.3h0m0.3-0.7h0m-0.5 5.1h0m0-0.1h0m0.4 31h0m0-0.6h0m-0.3 1.3h0m-0.1-37.5h0m0.4 42.4h0m0.6-43.6h0m0 5.6h0m0-1.9h0m0.2 31.9h0m-0.2 1h0m0-0.5h0m-0.1-4.7h0m-0.1 7.4h0m1.1-48.3h0m-0.1 0.5h0m0 0.6h0m0.9 31.3h0m-0.6-4.8h0m-0.2 5.5h0m0.6-2h0m0.2-34.6h0m1-12.6h0m-0.6-1.2h0m0.1-4.4h0m0.3 0.5h0m0 29.5h0m-0.1 2.5h0m0.2-1h0m0-2.5h0m-0.2 6.3h0m0.9-41.1h0m0.1-1.8h0m-0.1 2.3h0m0.3 23.9h0m-0.1-0.4h0m-0.6 1.2h0m-0.1-36.3h0m1.6 6.9h0m0.3 2.3h0m-1-0.6h0m0.2 0.1h0m0 20.8h0m0.2 3.5h0m0.2-3.2h0m0.1 0.9h0m-0.6-28.1h0m0.5 31.7h0m0.9-25.9h0m-0.4 0h0m0.8-5.9h0m-0.1 24.2h0m-0.4 2.8h0m0.6-1h0m0.8-23.4h0m-0.8 1h0m0.9-3h0m-0.7 25.1h0m0.3 4h0m0.5-1.9h0m-0.1-31.9h0m0.4 12.5h0m-0.1-0.5h0m0.6-3.1h0m-0.2 5.5h0m0.1 21.5h0m-0.4 0.7h0m0 1.2h0m0.5 3h0m0.9-27.5h0m0.1 2h0m0.1-2.3h0m-0.6 21.5h0m0.6 4.7h0m-0.9-4.9h0m0.7 3.6h0m1.3-20.1h0m-0.6-4.5h0m0.3-1.6h0m0 24.4h0m-0.3-3.2h0m0.5 0.1h0m-0.1 3h0m-0.1-34.6h0m0 40.8h0m0.3-29.5h0m0 3.6h0m0.2 1.7h0m0.7-5.2h0m-0.8 26.9h0m0.1 3.4h0m0-0.5h0m0.7-34.2h0m-0.6 37h0m0.5 1.6h0m1-32.5h0m-0.1 0.5h0m0.3 4.9h0m-1-4.7h0m0.6 41.2h0m0.2-1.6h0m-0.2 2.3h0m-0.2-45.5h0m0.3 48.1h0m-0.1-0.5h0m0.2 1.6h0m1.2-34h0m-0.9-5.2h0m0.6 3.1h0m0.1-1.1h0m-0.5 47.8h0m0.5-4.1h0m-0.1 1.2h0m0.4-42h0m0.3 0.3h0m0 0.7h0m0.4-2.4h0m-0.4 46.2h0m-0.2 4.1h0m0-5h0m-0.1 5.2h0m1.9-40h0m-0.3 0.4h0m-0.6 3.2h0m0.3-1.6h0m0.2 37h0m-0.1 1.7h0m0.4 0.3h0m-0.3-47.4h0m0.5 50.1h0m0.7-38.8h0m-0.5-4.6h0m-0.1-1.3h0m0.7 4.3h0m0 39.5h0m0-0.1h0m-0.3-1.9h0m0.3 3.7h0m-0.1-46.1h0m-0.6 51.6h0m1.8-41.3h0m-0.1 1.5h0m-0.1-3.2h0m-0.7 32.2h0m0.1 4.7h0m0.6-3.1h0m-0.3-2.4h0m-0.2-34.7h0m0.3 46.3h0m1.4-37.7h0m-0.7 5.7h0m-0.1-0.7h0m-0.1 34h0m0.5-0.6h0m0.3-1.7h0m-0.2-43.8h0m0.1 48.1h0m0.2-33.4h0m0.6-2.5h0m0.3-2.5h0m-0.6 6h0m0.7 31.6h0m-0.8-1.6h0m0.3-0.1h0m0 0.8h0m1.2-29.5h0m0 3.4h0m-0.3 2.2h0m0.5 0h0m-0.1 25.8h0m-0.6 4.4h0m0.4-2.7h0m-0.1-35.3h0m0 42h0m0.1-38.9h0m-0.3-1.6h0m0-1.6h0m1.7 2.2h0m-0.9 2.1h0m0.7-1.4h0m-0.4 3h0m-0.2 26.2h0m0.1-0.4h0m0.6-0.9h0m-0.3 5.4h0m0.4-38.6h0m0.1 4.3h0m0.4-1h0m-0.4 1.2h0m0.3 29.9h0m-0.4-0.3h0m0.8 4.4h0m-0.5-1.7h0m0.6 4h0m1.1-27.5h0m-0.3-4.2h0m0-2.3h0m-0.3 3h0m0.3 24h0m-0.3 0.8h0m0.1 5.9h0m0.4-3.8h0m-0.6 6h0m1.2-24.6h0m-0.3-0.2h0m0.5-5.2h0m-0.3 26h0m0.1 0h0m0-4.7h0m-0.5 3.6h0m0.1 5.5h0m1-24.8h0m0.9 1.4h0m0 1.4h0m-0.1-2.1h0m-0.8 25.7h0m0.7-3.9h0m-0.2 0h0m-0.4 2.5h0m0.8-27.2h0m0.8 7.9h0m-0.6-3.1h0m0 3.7h0m0.4-3.6h0m-0.6 28.7h0m0.3 4.9h0m0.1-3.4h0m-0.2-33h0m0.8 37.3h0m0.3-27.2h0m-0.2-4.1h0m0.5 5.1h0m-0.4 33.1h0m0.7-1.9h0m-0.3 0.4h0m-0.2-38.1h0m0.4 41.8h0m0.4-41.9h0m0.7 4.1h0m-0.8-0.1h0m0.6 40.5h0m0-2.3h0m0.1-1.1h0m-0.6 1.7h0m0.7-44.1h0m0.4 5.4h0m0.2-1.7h0m0.1 0h0m-0.1 44.4h0m0.3-5.2h0m-0.8 1.4h0m0.3 12.2h0m0.9-47.5h0m0.1-6.7h0m0.6 6.7h0m-0.5-1.4h0m0.2 42.1h0m0.1-4.1h0m-0.4 1h0m0.5 1h0m-0.6-48.3h0m1.1 8.7h0m-0.2 2.2h0m0.5-4.3h0m-0.3 6.4h0m0.2 32.2h0m0.3 1.2h0m-0.8-3.8h0m0.8-0.6h0m-0.6-36.2h0m0.4 50.7h0m-0.9-8.7h0m1.2 1.6h0m-0.7 1.6h0m1-44.6h0m0.6 3.2h0m-0.5-2.9h0m-0.2 1.7h0m0.6 31.1h0m0.1 1.7h0m-0.2-5.7h0m0.5-39h0m0.6 3.5h0m-0.3-3.5h0m0.4 35.2h0m0-2.3h0m-0.7 1.5h0m0.3-43.6h0m0.9-9.9h0m0-4h0m-0.1-0.3h0m0.4 5.7h0m-0.4 40.7h0m0.3-3.3h0m-0.1-0.4h0m0-48h0m0.6 57h0m0.1-67.3h0m0.4-0.4h0m-0.2 1.7h0m0.6 44.2h0m0.1-1.6h0m-0.4 5.8h0m0.2-1.6h0m1.2-66.3h0m-0.6-0.8h0m0.5-0.8h0m-0.7 2h0m-0.1 43.7h0m0.6 2.6h0m-0.5-3.8h0m0.1 1.9h0m0.6 6.2h0m0.5-57.2h0m-0.1-0.4h0m0.3-0.6h0m0.3 6h0m-0.4 41.9h0m0.3 3.2h0m-0.6-2.2h0m0.2-49.6h0m-0.2 59.1h0m0-57.5h0m-0.3-1.6h0m1.8 6.5h0m-0.6 4.5h0m0.3-4.7h0m0.5 48.6h0m-0.7-3h0m0.1-0.1h0m0.7 1.9h0m1-35.6h0m-0.3-1h0m0.1-1.3h0m-0.6 41.9h0m0.3 3.3h0m0.4 1.4h0m-0.3 2.9h0m1.3-48.2h0m-0.5-3.6h0m0 4.4h0m0.4 0.7h0m-0.5 42h0m0.1 4h0m0.1-3.4h0m-0.3-0.8h0m0.4-51.2h0m1.1 6.9h0m-0.3 0.1h0m-0.1 1.2h0m0.3 0.4h0m0.4 47h0m-0.2 2.5h0m0 1.5h0m0.1-55.4h0m1 8.3h0m0.1-1.1h0m-0.8 0.7h0m0.7 49.7h0m-0.6 1.6h0m-0.1-0.2h0m0.7-55.9h0m-0.8 58.6h0m1.4-3.1h0m-0.6 1.6h0m0.2-49.1h0m0.7 4.4h0m-0.5 0.2h0m0.7 42.4h0m-0.7-2.9h0m-0.2 3.5h0m0.5-1h0m-0.5-48.3h0m0.1 53.3h0m0 4.6h0m0.8-53.1h0m0.2-1.5h0m0.1 0.2h0m0.5 40.2h0m-0.4 1.7h0m0.2 2.4h0m-0.5-46.3h0m0.4 2.3h0m0.3-1.6h0m-0.4-1.6h0m1.4 3.8h0m0-3.6h0m-0.2 2.2h0m-0.1 39.7h0m-0.5 3.6h0m0.9-5.3h0m-0.6 3.8h0m0.8-39.1h0m-0.1-0.5h0m0.1 4.8h0m0.1-2.3h0m0.1 41h0m-0.1-0.4h0m-0.1-2.5h0m0 6.3h0m1-42.1h0m0 0.7h0m0-0.2h0m0.2-0.7h0m0.5 41.4h0m0.1-2.3h0m-0.4-2.3h0m0.3-0.6h0m-0.8-40h0m0 49.7h0m1.1-41.7h0m0.5 3.9h0m0.4-6h0m-0.7 38.6h0m0-1.4h0m0.1-0.2h0m-0.2 3.2h0m0.4-43.4h0m0.1 46.9h0m0.9-42.8h0m-0.3 1.8h0m-0.2-3.9h0m0.4 2.5h0m-0.3 40.6h0m-0.1 3.7h0m0.6-4.9h0m-0.6 1.9h0m0.8-47.3h0m-0.6 50h0m1.3-43.5h0m0.3 3.9h0m-0.6-2.8h0m0.4 2.2h0m-0.2 39.8h0m-0.1 5.4h0m0-4.9h0m-0.2-44.9h0m0.4 51.4h0m0.5-46.4h0m0.1-1.6h0m0.6-0.9h0m-0.7 4.2h0m0.2 41.3h0m0.5 0.9h0m-0.1-0.9h0m0.3-0.4h0m-0.1-46.5h0m-0.3 55.6h0m0.6-56.4h0m0.5 6.4h0m-0.3-6h0m-0.2-0.2h0m0.1 47.7h0m0.4 4.3h0m0.2-0.9h0m-0.5-0.8h0m0 6.5h0m0.7-48.4h0m0.4-1.3h0m0.1 0.4h0m-0.4-4.6h0m0.2 52.7h0m-0.1 1.5h0m0.5-0.8h0m-0.3-55.3h0m1 17.2h0m-0.2-6.1h0m0.2-0.6h0m-0.1 4.7h0m-0.4 48h0m0.8-2.8h0m-0.7-0.5h0m0.3 3.7h0m0.3-52.3h0m-0.3 55.7h0m0.9-43h0m0.4-2.1h0m-0.5-2.5h0m0.4 39.8h0m0.4 3.4h0m-0.7 0.3h0m-0.1-5.5h0m1.5-29.9h0m0.1-2.8h0m0.2 0.7h0m-0.1-3.1h0m-0.7 31.5h0m-0.1 1.4h0m0.3 1h0m0-1.6h0m0.4-36.9h0m0.9 5.8h0m-0.6 4.3h0m0 1.4h0m0.3 31.7h0m-0.2-3.7h0m0.3 5.6h0m0.3-0.1h0m-0.7-43.3h0m1 10.2h0m0.1 0.4h0m0.5-3.4h0m0 3.7h0m-0.5 33.7h0m0.1-4.6h0m0.2 1h0m0.1 2.7h0m0.8-30.6h0m0-4.8h0m-0.2 5.8h0m0.3-0.5h0m-0.1 32.8h0m-0.1 0.4h0m0.3-2.9h0m0.4 1.3h0m0.1-28.2h0m0.3 0.5h0m-0.1-3.8h0m-0.1 29.2h0m0 0.8h0m0.3 5h0m-0.2 1.3h0m0.6-36.8h0m-0.8 34.8h0m0 1.6h0m0.2 1.6h0m-0.7 1.6h0m0.4 1.6h0m0.1 1.6h0m-0.1 1.6h0m1.1-42h0m0.8 5.2h0m-0.3-6.3h0m0.1 39.7h0m0.2-2.8h0m-0.3-1.1h0m1.4-33.9h0m-0.6 1.1h0m-0.3-0.8h0m0.3-1.7h0m-0.1 31.8h0m-0.2 0.9h0m0.1 3h0m0.8 0.7h0m-0.1 4.7h0m0.1-43.9h0m0.9-0.9h0m-0.7 0.2h0m0.7 40.4h0m0.1-3h0m-0.6 3.6h0m-0.3-42.3h0m1.9 7h0m-0.7 1.6h0m0.1-5.1h0m0.2 28.2h0m0.4 5.6h0m-0.2-4h0m-1.3-30.2h0m1.6-4.4h0m-0.1 1h0m0 3.5h0m0.9 28.3h0m-0.1 4.1h0m-0.5-1.2h0m0.4-2.3h0m-0.4 6.8h0m1.3-35.4h0m-0.4 1.8h0m0.3-1.7h0m0.4 0.8h0m-0.6 24.9h0m0.5 1.1h0m-0.3 2.4h0m0.8-35.2h0m0.5 1.7h0m-0.5-0.8h0m0-0.9h0m0.4 30.3h0m0.1-1.9h0m0.1-2.6h0m-0.7 8.6h0m0.5-34.5h0m-0.2-1.6h0m-0.4 44.6h0m1.7-40.1h0m0.1 0.4h0m-0.9 1.5h0m0.7 16.3h0m-0.6-2.4h0m0-0.5h0m0.8 4.5h0m1-22.1h0m-0.6 0.7h0m-0.2-4.8h0m0.5 18.2h0m-0.6 2.4h0m0.2-3.2h0m0 1.4h0m0-30.4h0m0.2 34.3h0m0.8-22.9h0m-0.1-2.5h0m0.5 1.8h0m0.1-4.7h0m-0.6 24.9h0m0.8-4.3h0m-0.7 0.8h0m0-21.5h0m0.8 25.8h0m-0.7-25.8h0m1-0.8h0m0.5-3.7h0m0-0.3h0m-0.3 29.7h0m0.2 2.7h0m-0.1-1.3h0m-0.2 2.1h0m0-37h0m-0.4 38.5h0m1.6-40.1h0m0 4.1h0m0.2-0.8h0m0.2 27.4h0m-0.3-0.2h0m-0.1 4.8h0m-0.1 2.9h0m-0.3-1.5h0m1.4-35.1h0m-0.1-4.8h0m-0.1-1.6h0m0 5.1h0m-0.2 30.5h0m0.4 5.7h0m0-2.3h0m1.3-42.1h0m-0.3 5.4h0m-0.4 0.1h0m0.4 30.9h0m-0.2-5.1h0m-0.4 1.3h0m0.3-1h0m-0.1 10.1h0m0.8-45.6h0m0.1 3.4h0m0.5-0.8h0m-0.4 0.8h0m-0.2-2.4h0m0.9 36.7h0m-0.4-1.9h0m0.4 3.8h0m-0.9 2.5h0m0 14.7h0m1.1-57.8h0m0 4.5h0m0.3 0.4h0m0.3 27.1h0m0-2h0m0.3 3.8h0m-0.8-38h0m0.7 44h0m-0.5-40.4h0m-0.2-1.6h0m0.3-1.6h0m-0.1-1.6h0m-0.3-1.6h0m1.9 12.7h0m-0.3 1.3h0m-0.3-1.1h0m0.6 25.2h0m0-0.4h0m-0.3-5h0m0 5.1h0m-0.6 10.7h0m1.1-41.5h0m0.1 0.5h0m-0.1 0.3h0m0.8 27.8h0m-0.7-1.5h0m0.2 2.5h0m0.1-5.7h0m0.4-26.9h0m0.1-0.5h0m0.5 2.8h0m-0.5-2.4h0m0.5-0.4h0m0.4 24.7h0m-0.5 3.1h0m0.3-3.4h0m-0.1-1.7h0m0.8-28.3h0m-0.5-1.8h0m0.9-3.6h0m-0.5 32.4h0m0.2 2.8h0m0-3.9h0m-0.4 10.7h0m1.1-44.4h0m0.1 2.3h0m-0.1-1.6h0m-0.3 33.8h0m0.1 2.2h0m0.1-6h0m0.4 0.7h0m0.1-38.2h0m-0.3 53.8h0m0.5-7h0m0.3-46.8h0m0.3 1.8h0m-0.2-0.3h0m0.2 39h0m-0.4-2.2h0m-0.1-2.6h0m0.9-35.2h0m-0.1-1.6h0m1.1 10.5h0m-0.4-4.5h0m-0.2 4.7h0m0.4-6.9h0m0 32.5h0m-0.1 5.4h0m-0.5-4.3h0m0.3 2.2h0m0.4 1.9h0m0.8-31h0m-0.5-2.1h0m0.5 4.8h0m-0.2 22.1h0m0 4h0m0-2.5h0m0.2-0.2h0m-0.6-29.6h0m0.1 37.4h0m1.5-31.7h0m-0.1 2.4h0m-0.1 1h0m0.1 25.2h0m0.3 1.3h0m-0.7-1.1h0m0-0.8h0m0.7-30.9h0m-0.7 34.8h0m1.1-21.5h0m0.7-3.6h0m-0.3 6h0m0.2-0.1h0m-0.3 22.1h0m0-2.5h0m0 4.4h0m0.5 4.1h0m0.4-24.5h0m0 0.5h0m0.2-1.8h0m0.2 2.1h0m-0.2 18.7h0m0 2.5h0m-0.3-2.9h0m0.6 6.4h0m0.2-20.4h0m0 2.7h0m0.7-1.9h0m-0.4-3.2h0m0.3 28.7h0m-0.1-3.1h0m0.3 0.2h0m0.1-2h0m-0.3-24.7h0m-0.2 30.8h0m0.7-29.1h0m0.1 3.7h0m-0.2-4h0m0.5 27.2h0m-0.5 2.6h0m0.4-2.9h0m0.5-0.9h0m-1.3 5.8h0m0.2 1.6h0m-0.1 1.6h0m1.2-29.9h0m0.3 5.1h0m0.4-3h0m-0.7-2.1h0m0.6 25.2h0m0.1 4.9h0m0.2-0.5h0m-0.8-31.2h0m1 4.7h0m0.6 2.6h0m0 0.7h0m-0.1-0.6h0m-0.4 19.6h0m-0.1-2.2h0m0.7 5.6h0m-0.4-32.6h0m-0.1 35.8h0m1.4-20.9h0m-0.1-2.6h0m0.2 0.9h0m-0.4 2h0m0.1 16.6h0m-0.2 1.7h0m0.2 0.1h0m-0.3 1.8h0m1.2-26.9h0m0.4 0.1h0m0.2 2.9h0m-0.1 25.1h0m-0.2-1h0m-0.5 5.9h0m0.3-1.8h0m0.3 2.2h0m0.7-31.2h0m0-1.1h0m-0.3-0.8h0m0 39.6h0m-0.2 2.2h0m1-4.7h0m-0.4 5.4h0m-0.3-42.5h0m0.2-1.6h0m-0.5-1.6h0m0.2-1.6h0m0.1-1.6h0m0.2-1.6h0m-0.4-1.6h0m1.2 9.4h0m0.4 1.2h0m-0.2-0.3h0m-0.3 0.1h0m-0.1 43.8h0m0.1 1.4h0m0.3-4.7h0m0.1 1.7h0m-0.3 4.1h0m1.5-48.7h0m0.2 0.3h0m-0.5 4.2h0m-0.4 0.1h0m0.4 48.2h0m-0.4 0.4h0m0.4-0.6h0m-0.1 2.9h0m1-51h0m-0.3-3.3h0m0.3 2.8h0m-0.3-5h0m0.8 50.7h0m-0.1 4.6h0m-0.5 0.6h0m-0.2-6.2h0m0.8 6.7h0m0.4-48.4h0m0-2.2h0m0.5 6.3h0m0.2 42.4h0m-1-0.8h0m0.4 0.8h0m1.2-43.5h0m0 0.9h0m-0.2 2.4h0m0.4-3.6h0m-0.8 41.8h0m0.7 1.9h0m0.1 1.2h0m0.2-46.7h0m-0.5 51.5h0m0.8-46.4h0m0.4-5.3h0m-0.4-0.8h0m0.1 0.7h0m0.1 45h0m0.5 1.8h0m-0.2 1h0m-0.5-3.9h0m1.3-45.2h0m0.4-2.8h0m-0.8 3.4h0m-0.2 2.3h0m0.3 42.5h0m0 0.3h0m0.4-1h0m-0.3-4.3h0m-0.4-44.8h0m0.3 1.5h0m0.5-1.6h0m0.6-2.3h0m0.4-1.5h0m-0.4 2.6h0m-0.4-0.2h0m0.7 41h0m-0.2 6.1h0m-0.2-6.4h0m0.2 10.1h0m-0.3-53.3h0m0.5-1.6h0m-0.5-1.6h0m1.4 8.3h0m0.1-1.9h0m-0.2-3.1h0m0.5 44.1h0m-0.5 1.1h0m0.5-1.8h0m-0.5 11.1h0m1.1-50.8h0m0-2.1h0m-0.5 0.6h0m0.2 0.8h0m0.1 41.3h0m0.2 2.9h0m0-0.9h0m0.2-4.4h0m-0.2-42.6h0m0.4 6.3h0m0-4.4h0m1 5.1h0m-0.4-3h0m0.1 42.1h0m-0.6-4.7h0m-0.1 0.9h0m0.1 7.8h0m1.3-47h0m0.2 1.1h0m0.2 2.5h0m-0.6-1.7h0m0.1 32.3h0m0.2 1.2h0m-0.1 3.2h0m0.8-39.9h0m-0.1 4.3h0m0.7-4.9h0m-0.7 3.8h0m0.4 35.9h0m0.2 2.7h0m-0.5-5.9h0m-0.2-47.7h0m1.6 14h0m0-6.4h0m0.1 2.6h0m-0.1 34.9h0m-0.5-2.5h0m0.1 3.2h0m1.3-37.9h0m0.1-0.4h0m0.3 5.5h0m-0.4 27.7h0m0.1-3.8h0m0.4 3h0m-0.3 2.9h0m0.7-34.5h0m0.4-0.6h0m-0.2 1h0m-0.3 30.7h0m0.3 0h0m0.3 0.1h0m0-3.4h0m0.3-21.6h0m-0.1-2h0m-0.1 0.8h0m0.9-0.6h0m-0.4 20.8h0m-0.1-0.6h0m0 3.7h0m0 4.5h0m0.6-2.3h0m-0.4 1.6h0m-0.1 1.6h0m1.5-37.5h0m-0.9 4h0m0.7 1.1h0m-0.1 28.7h0m-0.3-5.1h0m0.5 3.5h0m-0.1-0.4h0m0.2-35.1h0m0.2-0.4h0m0.4-3.7h0m-0.5 4.7h0m0.5-1.5h0m0 31.3h0m-0.5 1.2h0m0 4h0m0.3-41.9h0m0.8 5.1h0m-0.1 0h0m0.5 1.6h0m0.2 29.8h0m0 0.2h0m-0.5 2.2h0m0.9-33.9h0m0.6-3.5h0m-0.1 1.3h0m-0.1-3.9h0m-0.1 29.3h0m0.3 1.5h0m-0.1 2.7h0m-0.1 4.3h0m1.4-39.6h0m-0.5 2.4h0m-0.4-2.3h0m0.1 4.4h0m0.5 23.4h0m-0.7 2.8h0m0.8 2.7h0m0 2.4h0m1.2-38.5h0m-0.1-3.3h0m0.1 4.8h0m-0.1 24h0m-0.8-0.6h0m0.7 2.4h0m-0.4-1.1h0m1.3-29.6h0m-0.6 5.2h0m0.3 0.1h0m0.4 25.5h0m0.1-5.9h0m0 3.1h0m0 4.4h0m0.1-31.6h0m0-1.6h0m-0.3-1.6h0m0.1-1.6h0m0-1.6h0m-0.1-1.6h0m-0.2-1.6h0m1.2 14.1h0m-0.5 0.6h0m0.8 0h0m-0.1 25.3h0m-0.6 0.9h0m0-0.3h0m-0.1-4.4h0m-0.2 10.8h0m0.6 11.9h0m0.5-46.4h0m0.3 2.4h0m-0.1 0.3h0m-0.1 26.9h0m0.2 0.6h0m0.2 1.7h0m0.2-2.1h0m0.1-37.6h0m-0.3 41h0m-0.4 1.6h0m1.1-29.3h0m0.2 0.4h0m-0.4-5.7h0m0.9 5.8h0m-0.3 30.9h0m0.3 0.5h0m-0.2-1.5h0m-0.6-36.2h0m0.7 46.3h0m0.3-38h0m0.5-1.1h0m-0.5 1.7h0m0.3 26.6h0m-0.3-1.2h0m0.6 2.8h0m0 1.3h0m-0.1 1.8h0m0.6-21.7h0m0-3.6h0m0 2.4h0m0.5-3h0m0.1 25h0m-0.3-3.9h0m-0.2 0.1h0m0.2 3.5h0m1-23.1h0m-0.6 0.5h0m0.4-0.6h0m-0.2 20.3h0m0.6 0.1h0m0.2-2.1h0m-0.2 1.7h0m0.7-22.8h0m-0.5 3.5h0m1-2.2h0m-0.3 30.6h0m-0.4 0.8h0m0.4 2.3h0m0-40.3h0m0.1 43.3h0m-1-37.2h0m0.6-1.6h0m-0.6-1.6h0m1.8 5.2h0m0.4 1.9h0m-0.1 4.4h0m-0.4 29.5h0m0.4 3.3h0m0.1 1.7h0m0.3-30.9h0m0.7-5h0m-0.5 2.8h0m0.3 38.3h0m-0.1 1.3h0m-0.5 3.1h0m0 2.2h0m0.9-37h0m0.7-1.3h0m-0.2 1.4h0m-0.2 36.9h0m0.5-1h0m-0.3-1.7h0m-0.3 3h0m0.6 5.6h0m-0.2 3.9h0m0.4-50.4h0m0.8 0h0m-0.8-0.8h0m0.6 43.3h0m-0.1 2h0m-0.2-2h0m0.4 1.8h0m-0.5 5.4h0m1.1-51.5h0m-0.2 3.1h0m0.4-2.7h0m-0.4 47.8h0m0.7-2.7h0m-0.4 1.4h0m0.1-55h0m-0.4 62h0m0.9-55.7h0m0.6 3.3h0m0.3-5h0m-0.8 0.9h0m0.8 51.2h0m-0.2-0.7h0m-0.3 5.3h0m-0.2-58.7h0m1.2 9.5h0m-0.5 0.4h0m0.5-2.5h0m0.3 48.4h0m-0.7 1.1h0m0.3 2.2h0m0.3-1.1h0m0-61.2h0m1.2 10.2h0m-0.6-3.2h0m-0.2 1.7h0m0.8-1.7h0m-0.1 47.5h0m-0.7 3.3h0m0.8-3.6h0m0.8-42.9h0m-0.5-5.2h0m0.7 1h0m-0.1-0.1h0m0.1 47.4h0m-0.8-5.8h0m0.4 4.6h0m0.3-49.1h0m-0.2 50.6h0m0.7-46.5h0m-0.3 1.2h0m0.2 0.1h0m0.7 34.5h0m-0.8-2.7h0m0.6 4.5h0m-0.6-41.9h0m-0.1 46.7h0m0-42.1h0m1.1 2.6h0m0-2h0m0.7 2h0m-0.6 32.4h0m0.4 0.6h0m-0.3 1h0m-0.2-0.7h0m1.9-36.9h0m-0.4 0.1h0m-0.5-2.8h0m0 44.6h0m0.6-1.3h0m-0.2 1.6h0m-0.1-50h0m-0.1 50.9h0m1.3-40.9h0m-0.4-4h0m0.4 3.1h0m0.3 37h0m-0.6 0h0m-0.1 0.2h0m0.2-43.4h0m-0.1 47.6h0m1.2-44.3h0m0.4 0.6h0m-0.6-1.2h0m0 28.5h0m0.4 1.7h0m-0.4 2.2h0m0.1 0.4h0m1.4-32.7h0m0-3.9h0m-0.3 5.1h0m-0.3-2h0m0.4 26.2h0m-0.4-3.6h0m-0.2 1.3h0m0.5 2.7h0m-0.3 5.7h0m1.4-35.9h0m-0.5 1.2h0m0.3-2.7h0m0.3 32.1h0m0.2 0.8h0m-0.6-0.7h0m-0.2-1.1h0m0.5 6.7h0m0.4-39.4h0m-0.5-1.6h0m0.4-1.6h0m-0.8 40.6h0m1-35.7h0m0.7 2.2h0m0.1-1.7h0m-0.7 32.4h0m-0.2 3h0m0.8-2h0m-0.3 1.4h0m0.2-41.1h0m0.2 43.1h0m0.2-38h0m0.3 0.9h0m-0.2 2.5h0m0.3 31.4h0m-0.2 0.4h0m0.3-0.3h0m0.7-33.9h0m0.3 2.5h0m-0.4-3.2h0m0 0.7h0m0.2 33.4h0m0.5 0.2h0m-0.6 2.9h0m0.5 1.4h0m-0.5 0.8h0m1.5-37h0m-0.2-2h0m-0.5-1.3h0m-0.1 4.7h0m0.6 32.2h0m-0.3-1h0m0.2 3h0m0-38.7h0m0 41.3h0m-0.3 1.6h0m-0.5 1.6h0m0.6 1.6h0m0 1.6h0m1.5-46.1h0m0 2.2h0m-0.2-1.4h0m-0.2-0.9h0m0.3 31.6h0m0 3.3h0m0-4.5h0m0.2 0h0m-0.1 3.8h0m-0.3 1.6h0m1.2-29.3h0m0-4.8h0m-0.5 0.4h0m0.5-0.7h0m-0.1 31.7h0m0.4-3.3h0m0-0.1h0m-0.8 3.9h0m1.4-33.1h0m-0.6-1.6h0m-0.2-1.6h0m0.5 3.5h0m-0.1 0.7h0m0.5 1h0m-0.1-0.9h0m0.2 32.2h0m-0.6-0.9h0m0.2-2.6h0m0.5-33.6h0m0 3.9h0m0.8-1.6h0m-0.8-1.6h0m-0.3-1.6h0m0.3 37.3h0m-0.2 1.6h0m0 1.6h0m-0.5 1.6h0m0.7 1.6h0m0 1.6h0m-0.7 1.6h0m1.3-37.6h0m0-2.9h0m-0.2-0.8h0m-0.2 32.4h0m0.3-5.3h0m0.4 5.3h0m0.1-5.6h0m-0.2 7h0m0.7-37.8h0m0 1h0m0.4-0.2h0m-0.5-2.7h0m0.2 34.6h0m-0.5-2.7h0m0.1-1.6h0m0.9 3.9h0m-0.2-35.8h0m-0.6 39.7h0m1.1-32.5h0m0-3.8h0m0 3.5h0m-0.1 23.4h0m0.1-2.3h0m0 2.2h0m0.1-5.6h0m-0.3-26.9h0m0.7 34.8h0m-0.4-2.8h0m1.2-23.3h0m-0.5 1.3h0m0.6 1.7h0m0.3 1h0m-0.2 19.5h0m-0.3-1.5h0m0.3-1.7h0m-0.5-0.7h0m0.3 6.4h0m1.3-19.9h0m-0.3-0.4h0m0-2.5h0m0.3 11.3h0m-0.8 0.6h0m0.9 2.4h0m-0.4-16.9h0m1.3-1.6h0m0 2h0m0-1.2h0m-0.7 21.9h0m0.5-5.3h0m-0.6 1.5h0m0.1-18.1h0m0.2-1.6h0m0.6-1.6h0m-0.4-1.6h0m0.9-1.8h0m0 3.8h0m0.5-1.1h0m-0.1 27.4h0m-0.6-6.9h0m0 6.8h0m-0.1-33.2h0m0 33.8h0m1.6-30.1h0m-0.4 0.7h0m0.3 2.2h0m-0.5-3.1h0m0 28h0m0.4 5h0m-0.3-3.2h0m-0.1 0h0m0-35.8h0m0.5 41h0m0.6-38.7h0m0.2 3.9h0m0.5-4.3h0m-0.9 33.9h0m0.9-0.4h0m-0.7-1.7h0m0.2-0.6h0m0.4 5h0m0 1.6h0m-0.5 1.6h0m0.9 1.6h0m-0.6 1.6h0m0.4 1.6h0m0-38.7h0m-0.1 3.5h0m0.1-4.5h0m0.3 29.5h0m-0.2 0.3h0m0.6-1.1h0m-0.3 1.6h0m-0.5-31.6h0m0.3 34.3h0m0.6-34.3h0m-0.1-1.6h0m-0.2-1.6h0m-0.2-1.6h0m0.1-1.6h0m0 38.9h0m-0.5 1.6h0m1.2-35.7h0m0.2-0.8h0m0.4-2.6h0m-0.5 0.4h0m0.1 34.5h0m-0.1-0.9h0m0.1 0.5h0m0.6 5.6h0m0.4-42h0m0.5 1.5h0m-0.1 1.7h0m0.1-0.7h0m0 37.4h0m-0.1-0.2h0m-0.7-3.7h0m0.6-1.5h0m0.2 6.2h0m-0.4-40.8h0m1.5 3.4h0m0 1.4h0m-0.4-1.5h0m-0.6-2.5h0m0.9 41.3h0m-0.3-2.6h0m0-0.3h0m-0.1-40.3h0m-0.1 45h0m1.5-29.9h0m-0.8-2.5h0m0.8 0.5h0m0 5.8h0m-0.7 28.2h0m0.6-4.4h0m-0.6 2.8h0m1.6-27.5h0m0.2-0.3h0m-0.2 2.5h0m-0.5 30.8h0m0.5-1.4h0m-0.1 4.2h0m0.7-37.4h0m-0.1 2.7h0m0.3-1.4h0m-0.3 36.2h0m-0.1 3.2h0m0.3-1.9h0m-0.4-1.4h0m0.4-48.3h0m-0.3 52.7h0m1.6-43.6h0m0 2.6h0m-0.8-4h0m1 35.3h0m-0.4 6.3h0m0.3-1.4h0m0.9-40.3h0m-0.2-2.7h0m-0.1 2.2h0m-0.3 0h0m-0.2 38.3h0m0.5-2.2h0m-0.4 5h0m0.8-1.4h0m-0.9 7h0m1.8-52.2h0m-0.3-1.2h0m-0.2 1h0m0.4 48.3h0m-0.3-3.8h0m0.4-0.1h0m-0.2-1.6h0m-0.4-45.2h0m0.2 50.5h0m1.2-47.5h0m0.2-0.1h0m-0.1 2.1h0m-0.4-0.6h0m0.5 51.6h0m0.1 0.1h0m-0.2-2.7h0m-0.1-56.6h0m-0.6 60.5h0m0.2-1.7h0m0.2 13.9h0m1.3-64.6h0m0-2h0m-0.5 1.1h0m0.5-0.2h0m-0.1 47.2h0m0.4 2.2h0m-0.7-0.2h0m0-61.3h0m-0.2 65.8h0m0.1-57.9h0m0.6-1.6h0m-0.4-1.6h0m0.1-1.6h0m0-1.6h0m1.4 9.5h0m-0.3 6h0m0.2-4.8h0m0.1 46.3h0m-0.4 2.5h0m-0.3-1.2h0m0.6-56h0m-0.7 61h0m1.3-46h0m0.3-1.1h0m-0.6-1.9h0m0.8 0.6h0m-0.9 39.3h0m0.9 5h0m-0.6-1.1h0m-0.2 5.9h0m1.8-44h0m-0.9-0.1h0m0.5-3.2h0m0 43.8h0m0.5-4.8h0m-0.4 4.8h0m0.4-4.4h0m-0.7 6h0m0.8-45.1h0m0-2.5h0m0.2 2.6h0m-0.2 40.1h0m0.9 2.1h0m-1-0.3h0m1.5-45.7h0m0.3 5.8h0m-0.5-5.5h0m0.3 39.7h0m0.2-1.3h0m0.1 2.8h0m-0.3 7.5h0m-0.1 0h0m1-49.1h0m-0.4-2.5h0m0.7 0.8h0m-0.7 5.3h0m0 31h0m0.3 2.2h0m0.2 1.6h0m0.3-3.1h0m-0.8-41.8h0m0 52.1h0m1.5-38.1h0m0.4-2.8h0m-1 0.1h0m0.3 28.8h0m0.5-0.2h0m-0.6 2.1h0m0.1 1.5h0m0.5-39.9h0m-0.7 44h0m0.9-47.4h0m0.5 14.6h0m0.5-5.2h0m-0.1 3.9h0m-0.5 33.8h0m0.2 1.3h0m0.4 1.8h0m-0.5-3.6h0m0.1-39.3h0m0.4 43.9h0m-0.9-0.8h0m0.3 1.6h0m0 1.6h0m0.2 1.6h0m0.9-38.6h0m0.1-5.7h0m-0.4 2.8h0m0.1-0.9h0m0.5 34.8h0m0.1-3.7h0m-0.1 2.2h0m-0.7-37.9h0m1.3 7.4h0m-0.4-4.7h0m0.6 1.6h0m0 30.4h0m-0.3 3h0m0.5-1.4h0m-0.1 3.5h0m1.2-33h0m0 0.2h0m0.1-2.5h0m-0.1 26.1h0m-0.7-2.6h0m-0.1 2.7h0m0.1-29.2h0m1.2 1.2h0m-0.3 2.2h0m0 1h0m0.4 28.9h0m0.4 2.2h0m0-4.6h0m-0.4 0h0m0.1 6.9h0m1.4-35.9h0m0-1.5h0m-0.3 0.6h0m0.1 2h0m-0.6 30.4h0m0.5 1.8h0m-0.7 2.7h0m0.2-1.1h0m0.9-33h0m0.1-1.6h0m0.4 1h0m0 36.3h0m-0.5-2.4h0m0.7 0.9h0m-0.3-37.1h0m1.1 7.7h0m0.3 0.3h0m-0.1 1h0m0.1-5.2h0m-0.3 39.5h0m-0.2-1.2h0m0.5 0.2h0m-0.5-5.3h0m0.9-30.3h0m0.1-2.4h0m0.3 0.5h0m-0.1 3.2h0m-0.2 33.7h0m-0.1 0.2h0m0.1-2.1h0m0.3 2h0m0.6-37.8h0m0.2-0.5h0m-0.3 0.3h0m0.3 0h0m0.4 44.1h0m-0.7-4.5h0m0.3 2.2h0m0.4 1.5h0m-0.8-46.8h0m1.7 6.8h0m-0.5-2.7h0m0.4 0.7h0m-0.5 1.5h0m0.8 34h0m-0.4-0.2h0m-0.3-1.2h0m1.5-39.8h0m-0.4 6.2h0m0-1.1h0m0.4 32.4h0m-0.3-0.2h0m0.2-0.5h0m0-0.9h0m0.1-39.5h0m0.5 42.7h0m-0.5 1.6h0m0.4-30.7h0m0.1-3.5h0m0.6 0.2h0m-0.4-2.4h0m-0.1 34h0m0.3-1h0m-0.5 1.9h0m-0.2-3.4h0m0.9-33.4h0m-0.7 45.6h0m1.7-46.9h0m0 0.4h0m-0.6 4.4h0m0 22.8h0m-0.3 6.1h0m0.6-0.7h0m-0.1-1.3h0m-0.4-35.5h0m0.5 41.4h0m0.6-35.8h0m0.3 3h0m-0.5-2.8h0m0.4 6.1h0m-0.1 27.3h0m0.1-0.5h0m0.3-0.8h0m-0.3-5h0m0.1 5.7h0m0.4 5.6h0m1-37.9h0m-0.1 3.2h0m-0.2-3.1h0m0.1 25.4h0m-0.7-1.8h0m0.3 1.1h0m-0.2-29.1h0m0 35.8h0m1.5-31.3h0m-0.5 3.9h0m0.5 0.5h0m-0.5 2.2h0m0.7 22.1h0m-0.2-2.1h0m-0.3 2.2h0m0.7 3.5h0m0.1-31.7h0m0.2-2.3h0m0.7 5.8h0m-1-0.6h0m0.4 26.4h0m0.6-0.6h0m-0.5-0.6h0m-0.3-30h0m1 1.5h0m0 2.2h0m0.2-0.8h0m0.3 3.2h0m-0.2 23.6h0m-0.2 1.4h0m0.5 4.2h0m0 1h0m0.4-37.9h0m-0.1-2.1h0m0.9 2.9h0m-0.1 36.2h0m-0.5-4.7h0m0 4.2h0m0.6-2.5h0m-0.5 3.8h0m-0.5 1.6h0m0.1 1.6h0m0.2 1.6h0m-0.1 1.6h0m0.9-44.6h0m0.9-1.6h0m-0.4 2.6h0m0.3-2h0m0.1 42.4h0m-0.1-5.9h0m0-0.6h0m-0.7-43.4h0m1.3 9h0m0.3-6.1h0m-0.6 4.2h0m0.3-1.2h0m-0.1 42.2h0m-0.1-1.4h0m0.4 0.9h0m-0.2-5h0m-0.3-39.2h0m1.6 4.6h0m-0.5 0.8h0m0.6 0.1h0m-0.1 35.8h0m-0.6-1.1h0m0-0.8h0m0.7-1.4h0m-0.8 12.6h0m0.6-8.2h0m0.7-42.5h0m-0.1-1.9h0m0.1 4.8h0m-0.2 33.7h0m-0.1-0.1h0m0.1 2h0m0.2-1.7h0m-0.1 1.3h0m-0.7 1.6h0m0.7 1.6h0m-0.2 1.6h0m-0.7 1.6h0m2.6-45.6h0m-0.5 2.3h0m0.4-1.1h0m-0.3 31.3h0m-0.1 1h0m0.2-3.2h0m-0.6 1.6h0m0.4-34.7h0m1.2-0.2h0m0 4.8h0m-0.6-2.8h0m0.5-0.4h0m0 32.9h0m0.4 1.8h0m-0.8 0.2h0m0.5-1.2h0m0 6.6h0m0.7-37.3h0m-0.4 3.5h0m0.1-3.3h0m0.9 30.3h0m-0.6 1.5h0m0.5 1.2h0m-0.8 3.9h0m0.8 0.8h0m-0.7-40.4h0m1.2 4.3h0m-0.3 1.3h0m0.5-0.8h0m0.3 1.8h0m0 25.2h0m-0.6-0.2h0m0 2.9h0m1.2-31.2h0m-0.5-1.8h0m0.2 2.9h0m0.2 31.4h0m0.3-0.7h0m-0.2-4h0m0.1-32.9h0m0.1 39.3h0m-0.4-37.8h0m0.2-1.6h0m0.1-1.6h0m-0.2-1.6h0m0.3-1.6h0m-0.3-1.6h0m0.2-1.6h0m0.2 46.3h0m0.3 1.6h0m-0.5 1.6h0m1-41.8h0m-0.4 3.6h0m-0.1-1.4h0m0.8 33.2h0m-0.2-3h0m-0.5 0.9h0m0.6 6.1h0m-0.8-41.4h0m1.4 3.7h0m-0.1 0.1h0m-0.2 0.8h0m0.4 0.3h0m0.3 36.4h0m-0.3-1.5h0m-0.1 1h0m0.5-40.6h0m0 57.2h0m0.6-52.5h0m-0.1-0.7h0m0.6 0.8h0m-0.5 34.7h0m-0.4-0.4h0m0.1 3.5h0m1.4-32h0m-0.2 1.5h0m0.3-4.9h0m-0.6 39.5h0m0.6-1.6h0m0.3-2.5h0m-0.3-38.3h0m-0.1 52.4h0m0.9-44.2h0m-0.4 3.1h0m0.5-2h0m-0.4 29.7h0m0.8 0.7h0m0-1.9h0m-0.9 1h0m1.9-19.4h0m-0.6-5.3h0m-0.3 0.1h0m0.3 1h0m0.5 22.4h0m-0.2 4.2h0m-0.6-0.6h0m0.7 2.3h0m-0.2 1.3h0m0.4-31.4h0m1 4.8h0m-0.1-3.5h0m-0.5 0.7h0m-0.3-1.4h0m0.3 31.6h0m0.3-4.2h0m-0.2 4h0m0.4-35.9h0m-0.2 35.2h0m-0.3 1.6h0m-0.2 1.6h0m0.7 1.6h0m0.1 1.6h0m-0.1 1.6h0m0.7-42.2h0m-0.5 1.8h0m0-1.9h0m0.2-3.2h0m-0.2 35.3h0m0.1 1.5h0m0.6 1.8h0m-0.6 1.1h0m0.3-50.2h0m1.3 9h0m0 0.3h0m-0.7-4.6h0m0.7 0.7h0m0.2 40.9h0m-0.7 4.1h0m0.6-3.9h0m-0.7 1.9h0m-0.1 3.9h0m1.4-38.2h0m0.3-2.3h0m-0.7-1.2h0m0 2.6h0m0.9 35.2h0m-0.2 5.7h0m-0.6-6.1h0m1.5-35.4h0m0-0.1h0m-0.3-1.5h0m0.4 39.6h0m-0.1-3.8h0m0 5.8h0m-0.3 0.3h0m-0.2-55.9h0m0.1 56.6h0m0-1.1h0m1.2-40.8h0m0.3 1.5h0m-0.5 1.3h0m0.3 37.1h0m-0.4-3h0m0.2 1.4h0m0.5-0.2h0m-0.6-38.5h0m-0.1 42.8h0m1-40.1h0m0.1 3.8h0m0.6-1.5h0m-0.5 35.4h0m-0.3-3.9h0m0.1 0h0m0.5 11.4h0m1-31.8h0m0.1-2.8h0m-0.5-2.7h0m0.2 4h0m0.1 23.6h0m-0.3-2.4h0m0.6-0.5h0m-0.5 1.4h0m0.3 4.2h0m0.9-29.2h0m-0.3 1.7h0m0 2.4h0m0.2 27.5h0m0.4-3.6h0m0.1 1.6h0m-0.9 0.3h0m0.1 4.3h0m1.7-32.5h0m-0.3-1.3h0m0.2-2.8h0m-0.1 1.2h0m0.2 34.2h0m-0.3-1h0m-0.4-0.9h0m-0.2-1.5h0m0.3-36.8h0m0.7 42.7h0m-0.8-49.5h0m1.4 3.2h0m-0.5 4.7h0m0.9 1.9h0m-1 33h0m0.6 3.8h0m0.1 2.4h0m0.1-4.4h0m0.2 6.4h0m0.3-46.7h0m0.1-0.9h0m0.5-2.2h0m-0.1 45.4h0m-0.6-1.6h0m0.7 0h0m0.1-2.3h0m0.7-33.7h0m0.3-2.9h0m-0.9-3.7h0m0.1 42.5h0m0.5-3.8h0m0.3 1.6h0m-0.6-42.8h0m-0.5 3.4h0m0.6-1.6h0m-0.4-1.6h0m-0.2-1.6h0m0.3-1.6h0m0.1-1.6h0m0-1.6h0m1.1 15.4h0m0 2.8h0m-0.3-0.8h0m0.1 36h0m0.7-4.9h0m-0.8-1.8h0m0.8 0.6h0m-0.6-39.5h0m0 49.9h0m0.6-43.9h0m0.5 6.5h0m-0.1-1.3h0m0.6-1.9h0m0 38.5h0m-0.3 0.6h0m-0.3-4.3h0m0.2 3.8h0m-0.4 1.6h0m0 1.6h0m-0.2 1.6h0m0.7 1.6h0m-0.2 1.6h0m-0.2 1.6h0m1-47.9h0m0.6 0h0m-0.7 1.6h0m0.3-2.2h0m0.2 37h0m0.2-2.5h0m0 0.4h0m-0.1 6.5h0m1.1-39.6h0m-0.5-1.7h0m-0.2 6.8h0m0.5 26.4h0m0.1-2.6h0m-0.4 3.4h0m-0.1 1.1h0m0-0.2h0m-0.7 1.6h0m0.5 1.6h0m0.1 1.6h0m0.4 1.6h0m-0.2 1.6h0m0.3 1.6h0m0.5-44.8h0m0.5 2.1h0m-0.5-4h0m0.7 28.4h0m0.2 3.8h0m-0.7-4.2h0m-0.1 0.8h0m0.1-31.2h0m0.2 37.3h0m0.7-34.2h0m0.1-3.5h0m0.1 2.4h0m0.4-0.3h0m-0.2 35.1h0m-0.4-1.4h0m0.3-3.2h0m1.4-36.5h0m-0.4-1h0m0 1.6h0m0.4 0.6h0m0.1 34.9h0m-0.7 5.4h0m0-3.6h0m0.6 1.8h0m-0.9-42.9h0m0.7 45.6h0m0.1-45.4h0m0.3-1.6h0m-1.1-1.6h0m1.5 2.9h0m0-4.1h0m0 0.2h0m-0.4 51.1h0m0.8-5.9h0m-0.4 4.1h0m-0.3 1h0m0.5-54.8h0m1.2 7.4h0m-0.3-2.4h0m0 4.5h0m-0.5 40.6h0m0.3-1.2h0m0.5 4.6h0m-0.2-3.7h0m1-40.8h0m-0.1 0.8h0m0.1 0h0m-0.4 41.5h0m0 1.1h0m0.4-1.8h0m-0.3-46.3h0m0.1 47.7h0m1.2-40.6h0m-0.3 0.4h0m0.5-4.8h0m-0.5 47h0m-0.1-2.8h0m0.2-3.3h0m0.1 5.9h0m0-48.7h0m-0.2 52.1h0m0.9-55.2h0m0.1 2.4h0m-0.3 0.6h0m0.7-2.9h0m-0.2 49.6h0m0.2-0.3h0m-0.2-3.2h0m-0.1-51.2h0m0.9-2.2h0m0.6 2.2h0m0-3.2h0m-0.2 1.2h0m0.1 47.3h0m-0.4 3.8h0m-0.5-4.2h0m1.9-54h0m-0.1 2.5h0m-0.2-2.2h0m0.3 48.2h0m-0.5-0.6h0m0 0.4h0m-0.2-2.8h0m0.7-52.7h0m-0.3 57.3h0m0.4-50.5h0m0-1.6h0m0.1-1.6h0m0.3 11.6h0m0.2-4h0m0.2 2.8h0m0.1 36.6h0m-0.7 3.6h0m0.6-2h0m0.1 0.7h0m-0.4-44.2h0m1 2.5h0m0.4-4.7h0m-0.9 4.2h0m0 44.4h0m0.1-6.3h0m0.7 6.4h0m0-4.5h0m-0.6-47.4h0m1.2 9.1h0m0.3 2h0m0.3 4.1h0m-0.6 31.5h0m0.4-1.1h0m0.1 3.6h0m-0.6-42.4h0m1.2 15.7h0m-0.2 0h0m-0.1-1.5h0m0.6-0.7h0m-0.2 35.3h0m0.3 0.7h0m-0.1-1.5h0m-0.3-39.3h0m0.1 40.5h0m0.7-26.2h0m0.2 5h0m-0.1-2.1h0m-0.3 24.5h0m0.5 0.9h0m-0.1 3.7h0m0.3-3.9h0m-0.7-28.2h0m0.3 36.1h0m1.2-26h0m0.2-5.7h0m-0.1 5.2h0m0.2 0.3h0m-0.4 30h0m0.3-5.1h0m-0.6 0.7h0m0.8 2.6h0m0.1-27.8h0m0.7 4.1h0m0.1-4.8h0m0 35.6h0m-0.2-3.9h0m-0.1 0.5h0m1.1-28.1h0m-0.4-2.5h0m0.2 1.4h0m0 1.3h0m-0.4 35.2h0m0.3 2.7h0m-0.1-3.8h0m0.5-1.1h0m0.1-42h0m1 9.7h0m0.1-4.6h0m-0.9 1.4h0m0.6 40.4h0m0.2 0.9h0m-0.2 1.9h0m-0.1-48.4h0m-0.7 47.8h0m0.8 7h0m0.6-44.3h0m0.2 4h0m-0.5-3.8h0m0.1 36.3h0m0 0.8h0m0.9-2.4h0m-0.5-39.3h0m0.3 43.5h0m0.9-35.7h0m-0.2 3.9h0m-0.3-2.5h0m0.7 33.3h0m-0.2-3.1h0m0.3 0.1h0m-0.6 4h0m0.4-39.5h0m0.6 17.6h0m-0.1 2.9h0m-0.2-3.2h0m0.1 25.3h0m0.5 1.3h0m0.2-2.7h0m0.4-25.2h0m-0.1 4.9h0m0.5-2.9h0m0.3 3.2h0m-0.6 22.4h0m0.6 3.9h0m-0.5-3h0m-0.1 2.6h0m-0.3-33h0m0.9 34.1h0m-1.2-32.3h0m-0.2-1.6h0m0.6-1.6h0m0.3-1.6h0m-0.5-1.6h0m-0.3-1.6h0m0.7-1.6h0m0.6 22.6h0m0.8 2.4h0m0-5.7h0m0.2 2.9h0m-0.8 20.3h0m0-1.4h0m-0.1 4.3h0m0.4 3.8h0m-0.3-2.4h0m1.1-35.1h0m0.7-1.9h0m-0.4 0.5h0m0.4 1.5h0m-0.8 30h0m0.6 5.7h0m-0.1-2.4h0m0-2.6h0m0.3-38.2h0m0.2 1.8h0m0.6-0.4h0m-0.4 4.4h0m-0.4 27h0m0.7-2h0m-0.4 6.8h0m0.1-43.7h0m0 44.2h0m0.7-48.2h0m0.7 3.6h0m-0.2-4h0m0.1 36.9h0m-0.5 0.4h0m0.5 4.2h0m-0.7-43.8h0m0.7 52.3h0m1-51.5h0m-0.1 2.2h0m-0.5-0.2h0m0.4 29h0m-0.5 0.5h0m0-3.2h0m1 4.9h0m-0.1 1.6h0m0.8-44.4h0m0 0.7h0m0.2 0.3h0m-0.4 32.4h0m-0.2-1.5h0m0.4 2.4h0m-0.4-2.2h0m0.5-32.2h0m-0.3 35.8h0m-0.8-35.1h0m0.8-1.6h0m-0.2-1.6h0m0.1-1.6h0m0.1-1.6h0m-0.7-1.6h0m1.7 9.5h0m-0.3 1.9h0m0.3-5.6h0m0.5 4.2h0m-1 26.8h0m0.8 0.6h0m-0.6 2.6h0m-0.1 0.9h0m0.3-37.4h0m-0.6 39h0m0.8 1.6h0m-0.3 1.6h0m-0.3 1.6h0m0.6 1.6h0m0.6-44.4h0m0.6 3.1h0m-0.1 3h0m-0.3 23.2h0m0.1 1h0m-0.3 4.2h0m-0.1-4.1h0m-0.1-32.9h0m1.8 1.6h0m-0.5-3h0m0.5 3.1h0m-0.7 33.4h0m0.6 3.7h0m-0.2 0.4h0m-0.1-3.3h0m-0.1 6.5h0m1.3-42.8h0m-0.1-0.4h0m-0.4 1.7h0m-0.1 2.8h0m0.1 38.1h0m0.7 3.2h0m-0.5-4.1h0m0.6 0.5h0m0.9-40.8h0m-0.1 2.6h0m0.1-2.1h0m-0.8 0h0m0.6 46.8h0m-0.5 3.6h0m0.5-2.6h0m-0.1-50.2h0m0.5 55.6h0m0.8-45.9h0m-0.6-5.3h0m0.3 6.3h0m-0.1 45.1h0m-0.3-4.3h0m0.5 6h0m0.3 4.7h0m0.5-51h0m-0.3 3.7h0m0.6-4h0m-0.3 41h0m0.1 4h0m-0.1-4h0m0.4 2.5h0m-0.6 8.8h0m1-43.4h0m0.5-0.7h0m-0.1-0.4h0m-0.5 33.9h0m0.1 2.7h0m0.1-3.8h0m-0.2 2.7h0m0.3 12.2h0m0.8-45.7h0m0.5-1.4h0m-0.4-0.9h0m0 33.7h0m-0.2-1.4h0m0.2 3.3h0m0.4 0.7h0m1.2-40.3h0m-0.2 1.5h0m-0.4-2.3h0m0 33.2h0m-0.2-1.9h0m0.3 4.6h0m0.6 0.8h0m-0.2 2.3h0m0-2.4h0m0.3 1.6h0m0.3-34.2h0m0.3-0.1h0m-0.2 0.9h0m0.2-4.7h0m-0.4 34.8h0m0.2-2.3h0m0.3-0.7h0m-0.4 3.7h0m0.2 4.3h0m0.9-44.9h0m-0.3 6h0m0.3-0.6h0m-0.2 34.6h0m-0.1 1.7h0m0.2-0.2h0m-0.4-2.6h0m0.8 2.9h0m-0.4 1.6h0m-0.1 1.6h0m-0.2 1.6h0m0.6 1.6h0m0.5-54.1h0m-0.1 3.8h0m0.6-5h0m0.3 6h0m0 37h0m-0.1 1.7h0m0.1-4.1h0m0.9-43.3h0m-0.7-2.7h0m0.1 3.9h0m0.3-1.9h0m-0.3 36.8h0m-0.2 1.4h0m-0.1 3.1h0m1-45.9h0m0.9-0.9h0m-0.8 0.7h0m0.9-0.2h0m-0.7-0.1h0m0.2 34.6h0m-0.4-2h0m0.6-3h0m-0.2-36.8h0m0.7 0.3h0m0.4 1.9h0m0.4 1.1h0m0-3.9h0m-0.5 42.3h0m-0.2-1.6h0m-0.2 0.2h0m0.8-5.1h0m-0.1-37.9h0m0.2 43.8h0m-1-0.3h0m-0.5 1.6h0m0.5 1.6h0m-0.4 1.6h0m0.3 1.6h0m0.5 1.6h0m-0.4 1.6h0m1.4-47.3h0m0.3-3.2h0m-0.3-0.8h0m-0.2 0.8h0m0.2 37.3h0m-0.1-4.1h0m0.3 2.9h0m-0.3-0.2h0m0.1-39h0m0.2 43.1h0m1.4-44.6h0m-0.5-0.9h0m0 6.1h0m0.2-5.9h0m0.2 39.2h0m-0.1 1.2h0m-0.5 0.1h0m0 5.9h0m1.3-42.5h0m0.1-4.2h0m0.3 1.2h0m-0.4-1.1h0m-0.1 40.6h0m0.2-2.4h0m-0.3 1.6h0m0.1-0.9h0m0.4 5.4h0m-0.3-0.8h0m0.8-49.4h0m-0.1 1.1h0m-0.1 2.1h0m0 37.4h0m0 2.1h0m0.6 0.7h0m-0.3-46.4h0m-0.3 49.4h0m0.2 1.6h0m0.4 1.6h0m0.4-48.8h0m-0.2 2.5h0m0.9 1.2h0m0.1 0.8h0m-0.6 37h0m0 0.6h0m-0.1-5h0m0.7-35h0m0.4-1.2h0m0-1.4h0m0.4 3h0m0.2 29.5h0m-0.4 3.3h0m-0.3-1.8h0m-0.2 5.3h0m0.7-40.2h0m0.7 2.8h0m0.3 3.4h0m0-3.1h0m0.1 1.8h0m0 28.9h0m-0.3-1.4h0m0-3.3h0m0.2 3.2h0m0.1-31.1h0m0.5 6.6h0m-0.1-4.5h0m0 3h0m0.1 20.3h0m-0.4-0.1h0m0.9 2.4h0m0-25.4h0m0.8-0.7h0m0.2 3.6h0m-0.2 0.5h0m-0.1-3.7h0m-0.2 33.4h0m0.3-0.9h0m-0.4 1h0m0.6-1.3h0m-0.6-38.1h0m0.6 41.5h0m0.3-30.1h0m0.3-5.1h0m0.1 6.7h0m-0.4 27.1h0m0-0.4h0m0.4 0.4h0m-0.1 1.3h0m0-39.9h0m1.4 12h0m-0.7 0.2h0m0.1 2.6h0m0.4 33.3h0m-0.2-1.2h0m0.2 0.5h0m-0.5 9h0m0.8-32.1h0m1-4h0m-0.6 0.9h0m0.4-0.1h0m0 31.7h0m-0.2 0.5h0m0-2.8h0m-0.2-0.9h0m0.4-37h0m-0.5 47.1h0m0.3 8.3h0m0.8-49.3h0m0.2 5h0m-0.5-5.3h0m0.3 0.7h0m-0.2 41.5h0m0.4-2.7h0m0 3h0m0 5.9h0m-1.2-5.3h0m2.3-39h0m-0.3 6.6h0m-0.3-0.6h0m0.6-2h0m-0.6 35.3h0m0.5-0.3h0m-0.4 2h0m-0.2-44.8h0m1.3 5.4h0m0.4 1.9h0m-0.5 3h0m0.4 35.2h0m-0.2-5.9h0m-0.3-0.4h0m0.1 5.9h0m-0.2 1.6h0m0.6 1.6h0m-0.1 1.6h0m0.6-36.6h0m0.1 2.1h0m0.6-0.7h0m-0.6 29.4h0m-0.1 2.9h0m0.4-0.1h0m-0.2-0.9h0m-0.2-35.1h0m0.2 40.3h0m1.2-40h0m0.2 5.2h0m-0.2-2.5h0m-0.3-1.7h0m-0.1 35.2h0m0.8 1.7h0m0.1 1.2h0m-0.2-4.6h0m-0.7-37.4h0m1.2 1.8h0m0.1 4h0m-0.3 0h0m0.7-1.1h0m-0.7 37.2h0m0.5-0.3h0m0.2-2.1h0m-0.6-41.3h0m1.1 5.3h0m0.2 0.2h0m0.3 0.7h0m-0.2-5.1h0m0.1 41.4h0m0.1-0.8h0m-0.1-2h0m-0.5 1.1h0m0.6-40.4h0m0.9 1.1h0m-0.2 4h0m0.4-4.8h0m-0.3 0.7h0m-0.4 36.7h0m0 4h0m0.2-4.9h0m0 8.1h0m0-2.9h0m-0.4 1.6h0m0.1 1.6h0m0.6 1.6h0m-0.9 1.6h0m0 1.6h0m1.5-46.9h0m0.2 0.4h0m0.4 0.1h0m-0.5 0.5h0m0.3 42.9h0m-0.5-1.4h0m0.2 2.6h0m-0.2-54.3h0m1.1 15.9h0m0.7-3.1h0m-0.4 2.9h0m-0.2 0.1h0m-0.3 41.8h0m0.5-2.2h0m-0.4-2.8h0m0.1 2.5h0m-0.2 3.8h0m0-45.4h0m-0.3-1.6h0m0.4-1.6h0m1.2 15.8h0m-0.2-4.6h0m0 0.3h0m0.6 41.7h0m-0.3-4h0m0.3 5h0m0 2h0m0.9-38.4h0m-0.4-1.4h0m0.1-2.8h0m-0.4 3.6h0m0.3 30.2h0m0.3 2.5h0m-0.1-1.8h0m-0.4-37h0m0.5 44.2h0m0.5-38.9h0m0.7-0.8h0m-0.7-4.7h0m0.4-0.3h0m0.3 36.2h0m-0.4 5.3h0m0.1-1.5h0m-0.2-3.2h0m1.3-34.3h0m0.4-2.9h0m-0.1 3.5h0m-0.5 1.3h0m0 33.5h0m-0.2 2.2h0m0.8-1h0m-0.5-1.2h0m1-35.6h0m-0.1-3h0m0.1 1.6h0m-0.4 2.5h0m0 30.1h0m0.8 0.2h0m-0.5-0.3h0m0.5 1.9h0m-0.3-36.7h0m1 1.7h0m-0.5 0.4h0m0.1 1.6h0m0.8-4.9h0m-0.9 39.3h0m0.1-4.8h0m0.5 0.8h0m0 3.8h0m0.4 1.6h0m-0.1 1.6h0m0.1-41.9h0m0.6 2.1h0m-0.2-2.4h0m-0.1-0.8h0m0.1 33.9h0m-0.1-1.4h0m0.5 3.9h0m-0.2 1.8h0m-0.6-42.3h0m1.6-0.3h0m-0.4 3.6h0m0-3.8h0m-0.3 1.9h0m0.9 32.8h0m-0.5 0.7h0m-0.1 3.8h0m0.3 0.6h0m0.3 2.8h0m0.7-41.8h0m-0.2-2.3h0m-0.4 2.2h0m0.1 31.6h0m0 6.5h0m0.3-0.1h0m0.3-40.8h0m1 0.3h0m-0.2 2.1h0m0.5 1.1h0m-0.5-3h0m-0.3 35.6h0m0.7-5.3h0m-0.7 2.6h0m-0.1-33.2h0m0.1-1.6h0m-0.5-1.6h0m1.1 39h0m-0.5 1.6h0m0.5 1.6h0m0.9-36.2h0m-0.7-0.5h0m0.4-0.2h0m-0.1-0.5h0m0.2 24.4h0m0.2 5h0m-0.7-4.3h0m0.7 10.8h0m1.1-40.5h0m-0.5-0.4h0m0 0.7h0m0.1-2.3h0m-0.2 35.2h0m0.7-4.6h0m0 2.7h0m-0.2 0.2h0m-0.5-39.6h0m1-0.8h0m0.2 3.6h0m-0.3 0.7h0m0.1 29.3h0m0.4-3.4h0m-0.5 3.3h0m0.7-32.7h0m0.1 34.2h0m0.8-33.2h0m-0.7-2.4h0m0-0.1h0m0.3 30.8h0m-0.2-3.6h0m0.7 1.5h0m1-27.2h0m-0.8-1.6h0m0.1-0.2h0m0.9-0.9h0m-0.6 21.1h0m0.5 1.4h0m0.1 0.9h0m-0.4 2.1h0m0.4-29.7h0m0.3 0.7h0m0.4-1.3h0m-0.5 26.4h0m-0.1 4.6h0m0.6-6.6h0m-0.6 0.7h0m0.4 9h0m0.6-34.7h0m-0.3-1.6h0m0.4-1.6h0m-0.3-1.6h0m0.1-1.6h0m-0.3-1.6h0m-0.9 38.7h0m0.7 1.6h0m1.4-31h0m0 1.7h0m0 1.3h0m-0.2 24h0m-0.1 0.7h0m-0.4-1.2h0m0.7 5.3h0m-0.4-33.4h0m-0.2-1.6h0m0.2-1.6h0m0.3-1.6h0m-0.6-1.6h0m-0.2-1.6h0m0.6-1.6h0m1.1 10.5h0m-0.4 4.6h0m-0.3-4.2h0m0.2 4.9h0m0.6 25.5h0m0-1.1h0m-0.7-0.1h0m0.2-29.1h0m0.1 35.8h0m0-35.3h0m1.3 4.3h0m0 4.3h0m-0.1-2.7h0m0.3 21.6h0m-0.1 4.9h0m0.1-6.4h0m-0.4-25.1h0m0.2 32.6h0m0.4-34.7h0m0.6 4.8h0m-0.1-4.7h0m0.3 0.6h0m-0.7 25.8h0m0.5-3h0m-0.6-0.7h0m0.9 6.5h0m0.4-30.3h0m-0.9-1.6h0m0.4-1.6h0m0.6-1.6h0m-0.8-1.6h0m-0.5-1.6h0m0.7-1.6h0m0.4 9.2h0m0.2-1.1h0m0 3.7h0m0.4 19.8h0m-0.6 4.8h0m0.5 0.3h0m-0.1-4.1h0m0-24.5h0m0.1 29h0m-0.4-29h0m0.5-1.6h0m0.6 0.7h0m0.5 2.4h0m0 0.6h0m0 27.7h0m-0.2-4.5h0m-0.7 1.9h0m0.9 6h0m-0.7-2.3h0m0.7-31.9h0m0.4 3.5h0m0.2-3.8h0m-0.4 4.7h0m0.5 23.6h0m0.2-0.5h0m-0.3 3.5h0m0.2 6.5h0m-0.5-48.3h0m0.8 13.7h0m0.1-2.6h0m0-0.6h0m0.4 33.3h0m-0.6-0.8h0m0.7-2.8h0m-0.6-31h0m0.8 37.4h0m0.2-32.3h0m0.3-5.8h0m-0.2 0.6h0m0.7 2.1h0m-0.3 36.9h0m0.4-2.1h0m-0.9-4h0m0.6 2.3h0m0 3.6h0m0.8-34.9h0m0.2 5.6h0m-0.6-2.7h0m-0.1-0.1h0m0.3 37.1h0m-0.2-0.6h0m0.8-2h0m-0.2-39.4h0m-0.4 47.3h0m1-43.3h0m0 0.3h0m0.7 0.4h0m-0.6 2.9h0m0.3 36h0m-0.5-1.9h0m0.5 3.6h0m0.1-45.2h0m-0.6 45.2h0m1.6-37.7h0m-0.6-0.9h0m0.4 1.5h0m0.4 3.9h0m-0.8 29.4h0m-0.2 4h0m0.1-5.5h0m0.5 3.9h0m-0.2-39.8h0m0.4 43.2h0m0.8-36.8h0m-0.3 3h0m0.6-3.8h0m-0.9 0.4h0m0 35.7h0m0.7 1.5h0m0-1.3h0m0.2 4.9h0m0.9-27.7h0m-0.4 5.3h0m-0.2-4h0m0 27.3h0m0-2.4h0m-0.1 0.9h0m0.6 3.7h0m0.5-22.7h0m0.2-0.8h0m0-1.3h0m-0.1 4.3h0m0.6 22.8h0m-0.7-4.1h0m0.3 0.6h0m0.3-0.8h0m-0.7-26.1h0m0 34.6h0m1.1-22.2h0m0.2 2.1h0m0-1.1h0m0.2-3.8h0m-0.5 18.2h0m0.5-3.9h0m-0.1 1.3h0m0.2-18.1h0m0.7 2.1h0m-0.2-2.6h0m0.2 0.2h0m0.5 1.1h0m-0.4 24.1h0m-0.3-2.8h0m0.5-1.6h0m-0.2-22.6h0m-0.1 0.7h0m-0.6-1.6h0m-0.1-1.6h0m0.7-1.6h0m-0.6-1.6h0m1.7 13.7h0m0.3 2.1h0m0.1-0.6h0m-0.4 19.5h0m0 2.6h0m-0.3-1.8h0m0.3-1.4h0m0.1-27.3h0m0.7 8.6h0m0 0.9h0m-0.1-0.1h0m-0.1 25.9h0m0.1-0.2h0m0.6 0.2h0m-0.6 3.4h0m0.5-37.8h0m-0.6 38.6h0m0.8 2.2h0m1.1-38h0m-0.3 3.6h0m0 1.4h0m0.2-0.3h0m0 26.4h0m-0.8-5.7h0m0.2 0.5h0m1.3-26h0m0.1 4.4h0m-0.6-1.6h0m0.3 27.4h0m0 4h0m-0.2-6.5h0m0 3.9h0m0.2-35.8h0m-0.1 42.8h0m1.1-32.6h0m-0.2-2.8h0m-0.2 0.7h0m0.9-0.5h0m-0.2 27.4h0m0 2.8h0m-0.1-1.7h0m-0.2 5.5h0m0.8-32.6h0m0.6-2.6h0m-0.2 0.7h0m-0.6 29.6h0m0.9 2h0m0.1 1.8h0m0.1-32.7h0m0.7 1.6h0m-0.6-2.3h0m0.7 0.7h0m-0.1 24.9h0m-0.7 2.7h0m0.3-2.9h0m0-32.7h0m0 39.2h0m-0.1 3.1h0m1.1-37.6h0m0.5-0.9h0m0-3.3h0m0 4h0m-0.2 26.9h0m-0.4-1.3h0m0.6-3.2h0m-0.2 1.5h0m-0.1-33.3h0m0.3 43.3h0m0.2-34.1h0m0.9-2.2h0m-0.8 1.8h0m0.1-1.2h0m-0.2 25.7h0m0-4.2h0m0.1 4.4h0m0.6-2.4h0m0.1-29.6h0m0.6-0.9h0m0 1.8h0m-0.4 3.5h0m0.2-4.4h0m0.7 29.6h0m-1 2.1h0m0.2-2.8h0m0 7.9h0m1.5-32.8h0m0-2.1h0m-0.5 4.3h0m0.8 22.8h0m-0.1 0.1h0m-0.5-0.4h0m0.1 2.9h0m-0.3 12.7h0m1.1-48.1h0m0.1 5.8h0m0-2.5h0m0.4-1.9h0m-0.7 36.7h0m0.3-3.2h0m0.4 2.3h0m-0.5-2.7h0m0.5-38.5h0m0.2 8.9h0m0.1-2.2h0m0.7 2h0m0.2 1.1h0m-0.3 32.9h0m-0.2-0.9h0m-0.2-2.1h0m1.4-34.8h0m-0.3-0.4h0m-0.2 1.1h0m0.3-0.5h0m0.4 27.6h0m-0.6 2.1h0m-0.3 3.3h0m0.7-41.6h0m1 5.9h0m-0.3 5.5h0m0.4-3.1h0m0 29.1h0m0 3.9h0m-0.6-5.3h0m0.4 7.7h0m0.6-34.6h0m0.2 3.5h0m-0.4-2.7h0m0.2 2.3h0m0.5 25.7h0m0.3-2.2h0m-0.8 3.5h0m0.7-1.5h0m-0.9-35h0m1.7 13.4h0m-0.6-5.2h0m0.8 2h0m0 31.1h0m0-2.2h0m-0.2-2.2h0m0.1 8.5h0m0.8-40.6h0m0.4 0.6h0m-0.2 2.5h0m-0.1 28h0m-0.1-2.5h0m0.1-1.4h0m-0.6 0.2h0m0.6-44.8h0m0.4 12.8h0m0.3-0.5h0m-0.1-1.4h0m0.5 31.4h0m0 5.1h0m-0.7-3.2h0m1.5-34.1h0m0.3-5h0m-0.2-1.5h0m-0.5 4.6h0m0.3 30.8h0m-0.5 6h0m0.8-2.6h0m-0.2-1h0m-0.2-47.3h0m0.5 51h0m1-36.4h0m-0.2-5.6h0m-0.1 5.8h0m-0.5-6.8h0m0.6 35.9h0m-0.7-2.1h0m0.3 5h0m0.4 0.3h0m-0.4 1.6h0m1.4-40.4h0m-0.6 0.6h0m0.3 2.2h0m-0.1-4.8h0m0.4 34.5h0m-0.2 2.3h0m-0.5-3.2h0m0.6 3h0m1-38.2h0m-0.6-0.1h0m0.9 2.2h0m-0.5-0.7h0m0.5 34h0m-0.6-4.8h0m-0.3 2.1h0m1.4-31.8h0m0.4 1.7h0m-0.5-4.4h0m0.7 3h0m-0.3 35h0m-0.5-1.6h0m0.1 2.1h0m-0.3 2.5h0m1-42.4h0m-0.9 45.1h0m1.6-45.3h0m-0.6 3.1h0m0.6-2h0m-0.1-3.8h0m0.4 40.8h0m-0.9-0.2h0m0.7 0.6h0m-0.3-1.3h0m0.4 4.8h0m0.3-35.5h0m0.5-5.6h0m-0.1 6.4h0m0.4-2.3h0m-0.4 28.1h0m-0.1-1.6h0m0.1-0.3h0m0.1-2.3h0m-0.6-30.5h0m1.3 7.7h0m0.5-1h0m0.1-0.2h0m-0.8 2.1h0m0.4 25.9h0m-0.5-6.1h0m0.8 6.6h0m0-34.4h0m-0.4 38.3h0m1-31.7h0m0.2 4.9h0m0.1 0.5h0m-0.2-6.2h0m-0.6 27.2h0m0.1 0h0m0.5-1.9h0m0 4.3h0m0.4-29.4h0m0.9 0.9h0m-0.3 3.7h0m-0.5-3.5h0m0.9 32.9h0m-0.9 1.6h0m0.5-2h0m0 3.1h0m-0.2 1.6h0m0 1.6h0m0 1.6h0m0 1.6h0m-0.4 1.6h0m0 1.6h0m1.1-40.7h0m0.2-0.2h0m0.6 1.5h0m-0.5 29.7h0m-0.4-3.3h0m0.3 3.2h0m0.4 0.9h0m-0.7 8h0m1.4-41.4h0m0.5 0.9h0m-0.8 1.4h0m0.3 4.1h0m0.6 21.8h0m-0.4 0.7h0m-0.3 0.2h0m-0.1 2.1h0m0.2 1.6h0m0.2 1.6h0m-0.1 1.6h0m-0.1 1.6h0m-0.2 1.6h0m0.9 1.6h0m0.7-37.4h0m-0.2 2.2h0m-0.2 0.7h0m0.3-3.3h0m-0.1 31.3h0m0.4-2.9h0m-0.4 4.8h0m1.2-28.9h0m0-3.8h0m-0.5 3.8h0m-0.2 24.1h0m0.9-0.4h0m-0.6 4.2h0m0-4.6h0m-0.1 6.1h0m0.4-32.7h0m-0.4-1.6h0m0.6-1.6h0m0.7 9.5h0m0.2-5.1h0m0.2 4.9h0m-0.6 29.4h0m0 1.1h0m0.1 0.2h0m-0.2 4h0m1.3-30.7h0m-0.4-2.1h0m0.5 1.2h0m-0.3 1.2h0m0.1 36.1h0m0.2-4.4h0m-0.7 3.8h0m0.5-1.7h0m-0.1-38h0m-0.2 42.9h0m1.3-29.4h0m-0.3 1h0m0.8-2.4h0m-0.3 33.7h0m-0.6 0.8h0m0.4-2.6h0m0.3 2h0m-0.7-37.1h0m0.8 39.4h0m-0.2 1.6h0m0.9-31.7h0m0-0.1h0m-0.5 0.2h0m0.8 34.9h0m-0.6-4.2h0m-0.3 0.8h0m1-33.9h0m0.3-0.6h0m0 2.2h0m0.2-4.1h0m-0.5 33.2h0m0.3 4.4h0m0.5-3.4h0m-0.2 5.9h0m0.9-41.2h0m-0.4 2.9h0m0.5-0.5h0m0.2-5.7h0m-0.5 39.8h0m0.7-4.5h0m-0.8 4.9h0m0.4-41h0m0 48.1h0m1.2-41h0m-0.2-0.5h0m-0.1 0.8h0m0-5h0m-0.1 32.4h0m-0.1 6h0m0-6.6h0m0 8.8h0m1.4-40.1h0m-0.5-2.9h0m0.6-0.6h0m-0.1 37.1h0m0.3-1.2h0m-0.7 2.3h0m0.2-39.9h0m-0.4 43.6h0m1.1-38.1h0m0.3-1.5h0m-0.1-0.5h0m-0.4 36.6h0m0.8 2.9h0m-0.1-3.5h0m0.2 3.6h0m0.3-41.8h0m0.4-0.4h0m-0.2 0h0m0 39.2h0m0 2.4h0m0.2-2.4h0m1-41.6h0m-0.1-0.3h0m0.3-4.7h0m-0.4 45.4h0m0.5-1.6h0m-0.3 0.1h0m-0.2-0.7h0m-0.2 10.8h0m0.9-53.8h0m0.4 0.8h0m-0.1 3.6h0m0.4-3.6h0m-0.5 39.8h0m0.5-0.7h0m0 3.7h0m-0.6-4.2h0m0.1 4.7h0m0.9-41.4h0m-0.1 1.9h0m0.6-2.8h0m-0.1 4.2h0m0.1 32.7h0m-0.1-5.8h0m-0.5 6.1h0m0.7-6.2h0m0.1 5.3h0m0.2-28.5h0m0.3-1.9h0m0.1 0h0m0 22.8h0m-0.2 0.3h0m0.2 3.6h0m-0.1 0.4h0m0.8-25.4h0m0.5-2.7h0m-0.6 0.7h0m0.5 21.5h0m0-0.8h0m0 2.6h0m0.2-4.8h0m-0.1 6h0m1.1-22h0m-0.1-3.9h0m0.1 4.5h0m-0.4 0.4h0m0.2 19.2h0m0-2.2h0m0.2-0.7h0m-0.5 0.9h0m-0.3-23.4h0m0.5 27.1h0m0.9-1.6h0m0.6-24.6h0m-0.7 1.9h0m-0.2 2.8h0m0.2 22.3h0m-0.1-4.8h0m-0.1 1.3h0m0.5-27.7h0m0.9 12.9h0m0.2-6.1h0m-0.7 6.2h0m0.5-6.6h0m-0.4 25.1h0m0.7-1.5h0m-0.1 0.8h0m0.3-27h0m0 29.9h0m-0.8-26.4h0m1.3-3.8h0m-0.1 5.6h0m0.3-2.5h0m0.1 20.7h0m0.1-2.5h0m-0.9 6.4h0m1.3-28.6h0m-0.1 2.6h0m0.5-4.8h0m0.3 1.4h0m-0.1 22.3h0m-0.7-1.6h0m0.2 1.9h0m1.6-22.3h0m-0.3 0.3h0m-0.4 0.3h0m0.4 1.2h0m-0.6 19.4h0m0.7 0.6h0m-0.2 3.7h0m0.1-30.7h0m-0.2 32.6h0m0.1-29h0m0.6 28.8h0m0.4-26.7h0m-0.5-2.9h0m0.2 0.4h0m-0.3 2.5h0m0.3 25.7h0m-0.1-0.4h0m0.3 0.4h0m0.1 0.6h0m0.5-35.3h0m0.5 3.2h0m0.1 1.7h0m-0.7-2.4h0m0.9 29.7h0m0 1.5h0m0.1-1.2h0m-0.8 5.6h0m1.2-40.9h0m0.4 0.5h0m0.1 1.9h0m-0.3 30.6h0m-0.2 0.3h0m0.2-0.3h0m0.2-36.4h0m0.5 3.6h0m0.6-1.8h0m-0.2-1.1h0m-0.4 39.9h0m0-3.7h0m0.3 1.8h0m-0.1-43.1h0m-0.2 45.8h0m1.1-39.6h0m0.5 0.4h0m-0.4-0.5h0m-0.1 35.5h0m0.5 0h0m-0.1 0.9h0m0.1-41.6h0m-0.2-1.6h0m1.1-4.2h0m-0.1 0.1h0m-0.7 0.9h0m0.7 46.1h0m-0.3-4.8h0m-0.3 1.6h0m0.4 7.6h0m0.7-51.1h0m0.7 0h0m-0.8-0.1h0m0.9-2.2h0m-0.4 48.7h0m-0.4-2h0m0.7-3.8h0m-0.6 9.4h0m1.3-46.7h0m-0.3 0.5h0m-0.3-2.1h0m0.7 37.4h0m-0.7 2.9h0m0.8-0.3h0m-0.2 1.7h0m-0.1 1.6h0m0.2 1.6h0m0 1.6h0m-0.2 1.6h0m0.3 1.6h0m-0.8 1.6h0m1.1-43.7h0m-0.1-3.6h0m0.4 2.1h0m0.5 1.1h0m0.1 32.2h0m-0.2-2.5h0m-0.1 3.5h0m0.3-0.8h0m-0.5 3.4h0m0.8-39.1h0m0.6 1.3h0m-0.2-0.8h0m-0.4 3.3h0m0.1 29.9h0m0.1 2.1h0m-0.3-1.6h0m0 2.4h0m-0.1 4.4h0m1.2-41.6h0m0.5 0.8h0m-0.3-3.3h0m-0.1 47.8h0m0.3-6.1h0m-0.5 4.5h0m0.1-2.8h0m0.6 6.9h0m-0.1 1.6h0m-0.3 1.6h0m0.4 1.6h0m-630.6-27.7h0m0.6-11h0m-0.6 17.6h0m0.5 21.7h0m-0.7 5.7h0m0.3-26.6h0m0.1 18.9h0m0.3-30.6h0m-0.7 11.6h0m0.9-21h0m-0.8 7h0m0.2 5.4h0m-0.3 29.8h0m0.8-22.5h0m-0.5 19.4h0m0-10.6h0m0.1 20.7h0m1.1-10.7h0m0 1.3h0m-0.2-20.3h0m0.5-18.1h0m-0.1 19.9h0m-0.2-13.4h0m-0.3 29.5h0m0.3-25.9h0m0.2 1.2h0m-0.3 18.8h0m0.4-7h0m-0.8-8.9h0m0.4 24.3h0m0.4-31.8h0m-0.9-4.3h0m0.5 1.3h0m0.4 16.8h0m0.4 24.1h0m0.7-9.8h0m-0.4-38h0m-0.2 14.4h0m0.4 15.1h0m-0.4-30.1h0m0.5 23.2h0m-0.4 4.8h0m0.1-1.7h0m-0.5 5.2h0m0.8-20.7h0m0.1-7.7h0m0 48.4h0m-0.6-23.9h0m-0.1 8.3h0m0.2-18.2h0m0.4 18h0m625.3-22.5h0m0.2-14.2h0m0 21.2h0m-0.4-26h0m0.2 19.6h0m0.6-3h0m-0.4-16.4h0m-0.2 27h0m0-28.3h0m0.1 37.2h0m0.1-13.7h0m0.5 8.2h0m0.7-14.9h0m-0.3 8.6h0m-0.3 6.6h0m0.5 2.6h0m-0.3-33.5h0m0.3 27.1h0m0.2-10h0m-0.4 17.3h0m0.7-17.5h0m-0.7-12.6h0m0.5-1.5h0m-0.2 4.4h0m1.2-5.2h0m-0.3-6.3h0m0 32.3h0m-0.4-25.7h0m0.7 27.7h0m-0.3-2h0m0.3-8.4h0m-0.4-24.1h0m0.4 23.1h0m-0.2-8.9h0m-0.6 20.6h0m0.7-3.1h0m-0.4-29.6h0m0.2 18.1h0m-0.4 14.7h0m-623.8-63.4h0m-3.5 106.7h0m10.8-7.6h0m51.4 18h0m-73.2-85h0m95.4-17.6h0m-117.2 76.7h0m8.3 3.1h0m-16.6-5.2h0m44.6-67.3h0m-2.1 3.1h0m135.7 86.9h0m36.2-2.4h0m16.6-83.6h0m26.1 4.2h0m12.8 78.2h0m9.9-5.9h0m24.7 26.8h0m7.3-138.9h0m0.7 9.5h0m-100 18.5h0m34.1 0h0m-78.6 0h0m-3.6 1.2h0m-17.8 14.2h0m56.9 54.5h0m154.4-85.8h0m67.3 102.8h0m-48.3 4.3h0m-39.6 9h0m143.8-98.3h0m-44.3 1.1h0m65.2 9.5h0m-107.8-17.3h0m-36.8-3.5h0m-16.5 104.2h0m177.7-128.4h0m0 8.8h0m0 7.1h0m0 7.1h0m8.3 116.1h0m45-10.7h0m41-4.7h0m14.7-96h0m-33.2-1.2h0m-24.9 15.4h0m-11.8-14.2h0m-22.5 17.8h0m110.9 77h0m-128.7 3.6h0m-520.6 141.9h0m0.4 22.7h0m-0.4 4.5h0m0.4 1.6h0m-0.4 1.6h0m0.7 1.6h0m-0.6 3.2h0m0.5 1.6h0m0.4-35.7h0m-0.2-4.3h0m0.2-0.2h0m0 31.2h0m-0.3-2.1h0m0.2 2.2h0m0.6-4.1h0m-0.5-28.3h0m-0.3 1.6h0m0.4-1.6h0m0.8 4.6h0m-0.1 2.2h0m0.6 3.1h0m-0.4 20.6h0m-0.1-1.1h0m0.3-0.1h0m-0.2 2.5h0m-0.2 2.8h0m1.6-22.7h0m-0.8-0.3h0m0.9-2.2h0m-0.2 1.3h0m0.2 24.3h0m-0.4 0h0m-0.4 0.3h0m0.5-0.2h0m-0.5 17.8h0m1.1-33.9h0m0.5-1.3h0m-0.2-1.9h0m0.2 3.8h0m-0.5 25.7h0m0.4-0.9h0m-0.5-3.2h0m0.6 1h0m-0.4-28.1h0m1.6 8.9h0m-0.5 1.5h0m-0.3-0.3h0m0.3-3.2h0m0.2 27.2h0m0.4-5h0m0 3.9h0m-0.3 1.9h0m-0.4 0.6h0m-0.3-33.6h0m1.8 11.6h0m-0.2 0.9h0m-0.3-3.7h0m0.1 24.1h0m0.5-1.3h0m0.1-0.3h0m-0.1-28.9h0m0 36.4h0m0.7-30.7h0m-0.1-0.9h0m-0.3-1.1h0m0.2 2.1h0m0.3 22.5h0m0.2-2.2h0m-0.2 4.3h0m-0.5-26.6h0m0.6 27.9h0m0.9-31.7h0m-0.6-1.4h0m-0.1 0.3h0m0.6 3.6h0m0.3 28.7h0m-0.8-4.2h0m0.5-0.6h0m0.3 4.4h0m0.2 1.6h0m-0.8 1.6h0m1.4-28.4h0m-0.7-4.2h0m0.1 0.3h0m0 29.2h0m0.7 2h0m0-2h0m-0.2 14h0m0.6-39.7h0m0.2-2.6h0m-0.2 0.9h0m0.7 22h0m-0.3 3.1h0m0.1-3.1h0m-0.6 2h0m0.5 20.8h0m0.4-39.3h0m0.5-0.7h0m-0.3-1h0m-0.1 1.3h0m0.1 11.5h0m0 2h0m0.6-2.5h0m-0.3 3.1h0m0.5-19.8h0m0.1-4.8h0m0.3 0.9h0m0.5 20.5h0m-0.5 1.3h0m0.5-0.7h0m-0.3 0.8h0m-0.6-21.9h0m0.9 23.9h0m0.5-40.6h0m0.3 1.4h0m-0.4 1.4h0m0.7 31.8h0m-0.9 1.9h0m0.6 1.2h0m-0.4 2.5h0m-0.3-43.9h0m-12.1 22.5h0m-0.5 10.1h0m0.4 1.7h0m-0.1-23.1h0m0.3 10h0m-0.3 10.5h0m-0.2-6.1h0m1-5.6h0m-0.4 2.5h0m0.1-5.9h0m0.7 6.6h0m-0.8 1.2h0m0.1 8.5h0m-0.2-15.7h0m0.2 12.8h0m0.7-25h0m-0.5 20h0m10 7.7h0m0.2 0h0m-0.4-0.6h0m0.3-0.1h0m-0.3-0.3h0m0.1 4h0m1.6 5.2h0m0-18.3h0m-0.3-1.3h0m-0.4 8.9h0m0 0.1h0m0.5-7.8h0m0.2-0.9h0m0.7 12.2h0m-0.3-26.3h0m-0.3 29h0m0.3 1.3h0m-0.2-18.9h0m0.3-7.1h0m0.6 9.8h0m-0.5-12.3h0m0.1-1.1h0m0.2 7.7h0m0.2 17.7h0m-0.4-21.6h0m12.1-4.7h0m-0.6 3h0m0.4-2.7h0m0 40h0m-0.1 3.3h0m0.4 0.4h0m-0.4-2.1h0m-0.1-46.3h0m0.2 58.8h0m1.3-52.7h0m-0.2-5.5h0m-0.7 3.6h0m0.1 42h0m0-0.7h0m0-0.6h0m0.5 2.7h0m-0.5-50.6h0m1 8.1h0m0.5 3.6h0m0.3-1.1h0m-0.5 42.6h0m-0.1-2.6h0m0 1.5h0m0.1-1.8h0m0.3-47.6h0m-0.7 55.4h0m1.7-48h0m0.1 3.8h0m-0.3-3.6h0m-0.4 31.9h0m0.2 4.8h0m0.4-3.6h0m-0.3-35.1h0m0 42.7h0m0.7-2.9h0m0.6-32h0m-0.3 0.5h0m0.1-1.5h0m-0.4 30h0m0.4 1.3h0m0.3-0.5h0m0.1 0.9h0m-0.8-41.2h0m0.4 6.7h0m0.2-1.6h0m-0.1-1.6h0m0.3-1.6h0m0-1.6h0m0-1.6h0m-0.3-1.6h0m0.7 12.9h0m-0.1-2.1h0m0.4-2h0m-0.5 34.3h0m0.2 0.8h0m-0.2 1.4h0m0.7-2.1h0m0.9-27.5h0m-0.1-2.4h0m0.2-2.9h0m-0.8 38h0m0.3-5.9h0m-0.1 4.4h0m0.3 0.4h0m-0.1 14.7h0m1.5-45.2h0m0 1.8h0m-0.7 0.1h0m0.6 30h0m-0.3 2h0m0.4-3.5h0m-0.5-3.3h0m0.1-34.5h0m-0.2 40.3h0m0.2 1.6h0m-0.1 1.6h0m0.1 1.6h0m-0.5 1.6h0m1.9-36.9h0m-0.4 4.7h0m0-0.1h0m-0.1-3.3h0m0.2 29.2h0m0.2-2.2h0m-0.5 3.6h0m-0.3 6.1h0m25.9-50.2h0m0.3 0.4h0m0.1-0.6h0m0.4 45.4h0m-1 0.8h0m0.6-3.9h0m-0.3 4.9h0m0.2 2.4h0m0.8-54.5h0m0.6-3.7h0m-0.6 0.5h0m0.2 1.4h0m-0.2 48.8h0m-0.2-3.6h0m0.1-1.6h0m0.7-52.3h0m-0.8 57.4h0m1-45.4h0m0.4-3.4h0m0.2 2.8h0m-0.3-0.7h0m0.3 38.3h0m0.3-1.2h0m-0.4 1.3h0m-0.2 4.1h0m0.5-47h0m-0.6 48.3h0m1.1-38.7h0m0.4-2.9h0m0.1 0h0m-0.3 4.6h0m0.2 26.8h0m-0.4 5.3h0m0-5.4h0m0.1 4.3h0m-0.1 6.4h0m-0.2-41.1h0m0.3-1.6h0m0.1-1.6h0m0.1-1.6h0m0.4 8.7h0m0.9 3.2h0m-0.2 0.3h0m0.2 25.7h0m-0.3 2.3h0m-0.4-1.8h0m0.6 2.6h0m0.3-27.4h0m0.6-2.5h0m0.1 1.5h0m-0.1 29.4h0m-0.2 0h0m-0.2-2.2h0m0.6-36.6h0m-0.4 40h0m1.3-31.5h0m-0.6-0.3h0m0.7 0.2h0m-0.7 34.5h0m0.2 0.1h0m0.5-3.8h0m-0.6 3.7h0m0.5-41.1h0m-0.5 52.4h0m0.7-36.6h0m0.2-1.3h0m0.4-2.1h0m0.2-2.7h0m0.1 31.2h0m-0.5 1.4h0m0.3 0.3h0m-0.7-3.3h0m0.4-37.2h0m0 44.7h0m1.5-35.8h0m-0.4-3h0m-0.3 1.9h0m0.1 27h0m0.1 5.4h0m-0.2-1.3h0m0-4.9h0m0.4 9.3h0m0.5-32.2h0m0.1 0.3h0m0.7 0.7h0m0 21.7h0m-0.7-4h0m0 3.6h0m0.4 6.1h0m1.3-37.5h0m0 3h0m0-1.9h0m-0.8 27.8h0m0.2 6.3h0m0.3-6.6h0m-0.2-33.3h0m0.9 6.7h0m0.6 1.1h0m-0.4-1.6h0m-0.2 29h0m0.2 1h0m0.1-5.4h0m0.1 4.7h0m-0.4-36.8h0m-0.1 38.1h0m-0.1-32.7h0m0.3-1.6h0m1.1 6.1h0m-0.1 5.3h0m0.2-2h0m0-3.6h0m0 33.6h0m-0.6 0.5h0m0.6-2.7h0m-0.5 0.5h0m0.8 2.3h0m0.1 1.6h0m-0.4 1.6h0m0.4 1.6h0m-0.3 1.6h0m0.2 1.6h0m-0.5 1.6h0m1-41h0m-0.3 2.2h0m0.2-0.7h0m0.1 29h0m0.2 1.5h0m0.1-1.8h0m0 10.5h0m0.7-30.8h0m0.2 0.4h0m0-3.1h0m-0.3 29.7h0m0.6 4.5h0m-0.6-0.9h0m0-36.7h0m0.2 41h0m-0.4-37.9h0m0.2-1.6h0m0-1.6h0m0.2-1.6h0m0.2-1.6h0m-0.5-1.6h0m0.7-1.6h0m0.4 14h0m-0.2 0.5h0m0.4-1.7h0m0.3-0.3h0m-0.9 25.8h0m0.6 0.8h0m-0.4 2.4h0m-0.1-2.2h0m0.4-26.7h0m0.6 8.7h0m0.2-6.7h0m0.4 0.7h0m-0.5 26.9h0m-0.1 4.2h0m0.7 0.6h0m-0.4-0.1h0m-0.3 4.1h0m1.7-29.1h0m-0.5-5.3h0m0.6 5.1h0m-0.6-6.1h0m0.4 29.1h0m0.3 1.2h0m-0.3-0.3h0m0-0.2h0m-0.2-42.4h0m0.5 25.3h0m1-3h0m-0.7 3.4h0m0.5 20.5h0m0.2 0.2h0m-0.4-2.9h0m-0.4 5.4h0m0.2 3h0m0.2 0.1h0m0.8-26.3h0m0.6 0.3h0m-0.3-3.2h0m0.1 27.9h0m-0.1 1.7h0m0 2.8h0m-0.1 0.9h0m-0.4-37.4h0m0.3 38.5h0m0.2-53.7h0m1.2 14.8h0m-0.6 2.7h0m0.3-5.2h0m-0.6 4.1h0m0.4 31.4h0m0.3-2.1h0m0.1 4.4h0m-0.2-1.3h0m-0.1 0.6h0m1-42.3h0m0.4 1.5h0m-0.4-0.3h0m0.3 35.9h0m0.2-4.7h0m-0.1 0.9h0m-0.3 1.2h0m0.1 19.9h0m-21.6-51.4h0m0.8 3.7h0m0.1 6.2h0m-0.4-18.3h0m-0.2-3.4h0m-0.2-7.1h0m0.8 37.6h0m-0.7-4.1h0m0.3-21.2h0m0.2 21.7h0m0.1-18.4h0m-0.2-15h0m-0.5 12.7h0m0.8-15.9h0m-0.8 4h0m0.1-2h0m1.1 32.5h0m-0.1-3.3h0m0.6-39.1h0m-0.5 46.4h0m0.2-37h0m0.4 15.8h0m-0.4 8.7h0m0-8.5h0m-0.2 12.5h0m0.2-19.4h0m-0.2-10.3h0m-0.3 14h0m-0.1 8.8h0m0.7 13.8h0m-0.3-42.6h0m1.3 35.3h0m-0.4-23h0m0.4-11.2h0m-0.5-2.2h0m0.8 19.7h0m-0.7 4.2h0m-0.2 7.9h0m0.5-16.3h0m0.3 11.6h0m-0.7-2.3h0m0.3 4.9h0m-0.2 0.7h0m0.1 7.1h0m16.9 16.8h0m-0.2 11.9h0m0.4-9.6h0m-0.1-12.6h0m0.5 13h0m-0.8-12h0m0.2 2.7h0m0.6 13.7h0m-0.7-17.6h0m0.4-5.9h0m1 24.2h0m-0.2-26h0m0-0.5h0m0.5 27.1h0m-0.3-0.9h0m-0.2 2h0m-0.3-7.3h0m0.2-2.9h0m0.4 3.4h0m-0.6-10.3h0m0.7-12.2h0m0.6 2.8h0m0.2-5.5h0m-0.4 28.8h0m-0.2-3.6h0m0.2-34.6h0m0.6 19.8h0m-0.7 13.1h0m0.1-26.5h0m0.8 22.2h0m-0.6-16.1h0m-0.1 17.8h0m0.4-4.2h0m-0.2 10.7h0m11.9-73.6h0m-0.1 0.1h0m0.2 4.4h0m-0.2 34.4h0m0.6-1.7h0m0.1 0.4h0m-0.2-38.6h0m1.2-2.8h0m-0.7 2.7h0m0.1 0.5h0m0.4 36.9h0m0 3.9h0m0.1-2.7h0m0.3 3.3h0m0.6-40h0m-0.4 1.6h0m0.6-0.4h0m-0.4 37.6h0m-0.3 3.1h0m0.4-2.4h0m0.5-43.4h0m0.8 8.1h0m-0.4-0.6h0m0.1 1.8h0m0.5-2.8h0m-0.3 40.7h0m0.1-1.8h0m0 4.6h0m0.1-0.8h0m-0.1 0h0m-0.4 1.6h0m-0.2 1.6h0m-0.9 1.6h0m2.1-47.7h0m0.4 0.9h0m0.2-0.9h0m-0.8 42.6h0m0.4 3h0m-0.5-1.6h0m0.8 1.4h0m-0.3-49h0m0.7 12.2h0m0.2-2.9h0m0.1 2.5h0m0.1 1.1h0m-0.6 35.9h0m0.3-4.3h0m0.1-0.6h0m1.3-34.5h0m-0.1 1.9h0m0-1.1h0m-0.1-1.8h0m0.3 36.1h0m-0.4 2.5h0m0.2 1.8h0m1-39.4h0m0 0.3h0m-0.5 0.1h0m0.1 4.2h0m-0.2 33.3h0m0.6-1.6h0m-0.4 3.2h0m0.3-0.7h0m0.3 2h0m-0.7-40.1h0m-0.3-1.6h0m0.2-1.6h0m-0.1-1.6h0m1.9 4.3h0m-0.5 1.4h0m-0.1-3.2h0m0.4 42.7h0m0.3-4h0m-0.2 4.3h0m0.2-45.4h0m-0.1 48.3h0m-0.3-46.3h0m0.1-1.6h0m0.2-1.6h0m0.8 8.3h0m0.2 2.2h0m-0.2-1.8h0m0.1 37.1h0m-0.1-1h0m0 2.7h0m-0.2-45.9h0m-0.2 45.4h0m0.5 8h0m0.9-40.9h0m0.3-3.9h0m-0.3 0h0m0.2 32.4h0m-0.8 2.3h0m0.2-3.6h0m-0.1-34.9h0m-0.2 2h0m1.2 7.1h0m0.7 2.4h0m-0.4-3.1h0m0.4 27.9h0m0.1 5.4h0m0-5.6h0m-0.4-31.8h0m0.1 4.9h0m-0.4-1.6h0m-0.2-1.6h0m0.4-1.6h0m0-1.6h0m-0.2-1.6h0m0.1-1.6h0m1.1 14.8h0m0.1-3.5h0m0.3 0.7h0m-0.7 25.5h0m0.2 2h0m0-2.4h0m0 1.8h0m0.3-28.1h0m-0.4 32.8h0m1.8-24.1h0m-0.1-1.6h0m-0.6-1.6h0m0.6-1.2h0m-0.2 27.3h0m-0.4 0.2h0m0.4 4.1h0m0-1h0m-0.7 3.9h0m0.8-39.6h0m0.3 11.4h0m0.1-2.2h0m-0.1 3.6h0m0.4 28.1h0m-0.1-0.1h0m0.1-4.8h0m-0.3 7.4h0m1.1-24.9h0m0.4 2.3h0m-0.4 1.8h0m-0.2 28.9h0m0.6-1.3h0m0.1-3.1h0m0.1 1.1h0m-0.8 5.9h0m1.5-24.8h0m0.3-2.2h0m0-2.6h0m-0.6 2.9h0m0.6 27h0m0-1.3h0m-0.4 2h0m-0.5-5.5h0m0.3 5.9h0m1.5-23.7h0m-0.2 5.5h0m0-2.5h0m-0.4-1.4h0m0.5 21.2h0m0.1 0.4h0m-0.5-1.4h0m0-28h0m0.2 40.9h0m1.2-28.5h0m-0.5-1.6h0m0.1 2.1h0m0.5 14.6h0m0 4.6h0m0.1-4.9h0m-0.7 2.1h0m0.5 8.1h0m1-24.4h0m-0.7 3.4h0m0.1-1.4h0m0.4 0.8h0m0.3 17.1h0m-0.4-6.9h0m0 4.2h0m0.3 2.1h0m-0.2 0.4h0m1-21.5h0m0.2-3.3h0m-0.6-0.3h0m-0.1 1.5h0m0.6 15h0m-0.5 5.5h0m0.9-1h0m-0.1 1.9h0m-1.5-22.6h0m0.1-1.6h0m1.5 2.1h0m0.4-3.8h0m-0.1 2.1h0m0.4 2.1h0m-0.6 22.5h0m0.2-0.4h0m0.6-5.8h0m-0.4 1h0m0 17.4h0m0.6-56.2h0m0.1-0.7h0m0.3 1h0m-0.4 33.5h0m0.7 0.2h0m-0.1-3.6h0m-0.2 2.4h0m0.3-39.2h0m-0.5 44.4h0m-21.7-47.4h0m0.3-17.3h0m-0.9 34h0m0.4-16.3h0m-0.2-11.3h0m0.6-3.6h0m-0.8-3h0m0.8 29.4h0m-0.7-8.5h0m0.6-17.3h0m-0.1 26h0m0.1-7.5h0m-0.2-23.2h0m1.1 16.4h0m-0.2 0.7h0m0.5-17.4h0m-0.4 11.3h0m0.2 7.6h0m-0.5 3.8h0m0.3 5.9h0m0.2-27.7h0m-0.3 22.4h0m0.2-22.7h0m-0.3-0.9h0m0.2 1h0m-0.1 9.8h0m1.1-16.7h0m0.4 4h0m-0.3 22.4h0m-0.5-25.5h0m0.2 34.5h0m-0.3-24.5h0m0.1 3.2h0m0.9 8.1h0m-0.1 16.5h0m-0.8-38.3h0m0.2 7h0m0.3-6.6h0m0.2 25.7h0m-0.2-19.4h0m17.6 68.2h0m0.1-5.3h0m0.6-8.9h0m-0.5 5.8h0m0.4-3.8h0m-0.8 7.2h0m0.5 2.5h0m0.7-3.7h0m0.8 4.3h0m-1-13.7h0m0 11.7h0m0.6 2.8h0m-0.6-2.1h0m0.6-18.1h0m-0.3 5.9h0m0.8-11.7h0m0.5-13.3h0m-0.4 21.4h0m0.6 8.1h0m0-2.4h0m-0.2-5.7h0m0.3-19.9h0m0 2.8h0m-0.2 29.4h0m-0.7 1.1h0m0.4-5.2h0m12.3-77.8h0m0.7-3.3h0m-0.1 4h0m-0.6 1.4h0m0.6 43.9h0m-0.4-2.3h0m0.3-0.8h0m-0.6 3.9h0m0.4-0.9h0m0.6-49.2h0m-0.6-1.6h0m-0.3-1.6h0m0.5 65.3h0m0.6-57.3h0m0.7 5.5h0m-0.1-3.1h0m-0.4-0.5h0m-0.4 42.4h0m0.5 0.7h0m0 1.3h0m-0.5-4.8h0m0.1 5.3h0m1.3-38.7h0m-0.1 0.4h0m-0.3-1.9h0m0.8-2.3h0m-0.4 39h0m0.3-2.4h0m-0.6 1.3h0m0.7-1.3h0m0-36.7h0m0.2 2.5h0m0.4 3.6h0m0.2-3h0m0.2 0.9h0m-0.6 34.6h0m0-0.8h0m0.6 1.3h0m0 4h0m-0.7 4.3h0m1.2-40.1h0m-0.4-0.1h0m0.4 0.4h0m0.4 35.3h0m-0.1 2.5h0m-0.1-2.9h0m-0.9 2.6h0m2.2-38.5h0m-0.4 2.5h0m0.2 0.2h0m0.3-5.6h0m-0.3 41.8h0m0-1.1h0m0.1 0.7h0m-0.6 0.4h0m0.5-46h0m1.1 11.9h0m-0.5-5.1h0m-0.2 0.5h0m0.7-1.4h0m-0.7 39.9h0m0.9 4.2h0m-0.5-2.5h0m0.3 2.9h0m0-47.4h0m0.7 14.6h0m-0.4-5.4h0m0.1 3.1h0m0.5-2.9h0m0.3 41.2h0m-0.9-0.3h0m0.7-3.2h0m-0.3 4.1h0m0.2-44.7h0m-0.1 49.8h0m1.1-39.5h0m-0.5-1.3h0m0.3-0.6h0m0 1.5h0m0.2 37.2h0m0.3-1.9h0m0 1.6h0m0.1-26.4h0m0.1-1.4h0m0.6-0.9h0m0 27.9h0m-0.3 2.7h0m-0.4-2.5h0m0.7-30.7h0m-0.2-1.6h0m0.3-1.6h0m0.2-1.6h0m-0.3-1.6h0m0.5-1.6h0m-0.1-1.6h0m0.1 11.6h0m0.5-3.3h0m0-0.1h0m-0.3 31.9h0m-0.2 0.7h0m0.4 4.8h0m0.2 6.5h0m-0.5-43.5h0m-0.2-1.6h0m0.2-1.6h0m-0.4-1.6h0m-0.5-1.6h0m0.3-1.6h0m0-1.6h0m2.1 20.6h0m-0.7-1.8h0m0.1 0.5h0m-0.1-2.5h0m0.7 31.2h0m0-2.1h0m-0.6 2.4h0m0.3-1.6h0m0.7 3.6h0m-0.5 1.6h0m1.2-36.7h0m-0.4-0.3h0m-0.2-1.9h0m0.3 0.1h0m0.1 37.5h0m-0.1-0.8h0m-0.1-1.4h0m-0.4-35.9h0m0.3-1.6h0m-0.1-1.6h0m0-1.6h0m-0.1-1.6h0m0-1.6h0m0.3-1.6h0m1 18.2h0m-0.5 6.3h0m0.3-1.9h0m0 32.3h0m0.3 1.4h0m-0.1-1.9h0m0.3 5h0m0.8-30.9h0m-0.4-3.5h0m0 1.7h0m0.7 38h0m-0.1-3.2h0m-0.2-3h0m1.1-19.7h0m-0.7 0.8h0m0.8-5.4h0m-0.1 34.5h0m-0.2 1.5h0m-0.3-2.6h0m-0.1 1.9h0m0.1-42.8h0m0.5 53.3h0m0.1-3.8h0m0.2-34.3h0m0.3 1.7h0m0.3 0.2h0m-0.2-2.5h0m-0.1 26.6h0m0.3 4.3h0m-0.2-1.8h0m1.2-24.7h0m0.1 2.8h0m-0.1-2.2h0m-0.3 2.3h0m-0.2 23h0m0.5-0.9h0m-0.5 4.9h0m-0.1 6.8h0m1.4-28.4h0m-0.2-4.2h0m0.2 1h0m-0.3 22.7h0m0.2-0.6h0m-0.1 3.7h0m0.5-3h0m0 4.7h0m-0.3-0.4h0m0.9-30.3h0m0.5-2.4h0m-0.7 2h0m0.7 22.2h0m-0.3-1h0m0.4 5h0m-0.5-2.2h0m1.5-30h0m-0.9-0.9h0m0.7 5.6h0m-0.1 0.7h0m-0.4 17.5h0m0.7 3.1h0m-0.6 3.1h0m0.3-30.3h0m0.5-3.6h0m0.6-3.4h0m0.1 4.3h0m0 25.2h0m-0.6 0.5h0m0.3 0h0m0.3-33.3h0m-0.7 44.2h0m0.9-49.5h0m0.8-3.5h0m-0.5 5.6h0m0.2 32.6h0m-0.1-0.4h0m0.2-1.9h0m-0.5 5.4h0m0.4 0.5h0m-21.9-56.3h0m0-20.1h0m-0.3 14.2h0m0.4-6.5h0m-0.1 22.4h0m-0.5-15.5h0m0.5-18.2h0m0.3 12.4h0m-0.1 8.5h0m-0.3 9.4h0m-0.5-22.9h0m0.7 3.9h0m-0.2 7.1h0m0.3-8.9h0m-0.1 13h0m0.2-6.9h0m0.3-10.1h0m-0.1 20h0m0.2 17.3h0m0.1-40.8h0m0.2 35.1h0m-0.5-21.7h0m0.6-14.2h0m-0.6 21.4h0m0.8-12h0m-0.5 12.1h0m-0.4-6.2h0m0-12.9h0m0.2 31.6h0m0.3-14h0m1.2-19.4h0m-0.6 18.2h0m0.3 2.9h0m-0.1 9.1h0m0.2-10.7h0m0.1-7.6h0m-0.5-1.3h0m0.1 12h0m-0.1 11.4h0m0.4-22.4h0m0.3 1.2h0m18 60.6h0m-0.1 0.4h0m0.2-4.2h0m-0.9 5.9h0m0.2 6.1h0m0-16.7h0m0.4-0.5h0m-0.6-3.7h0m0-2.7h0m1.9 23.9h0m-0.9-2.5h0m0-7.4h0m0.8 0h0m-0.1-24.4h0m-0.7 9.5h0m0.9 19.4h0m-0.6-20.7h0m0 1.3h0m0.5 21.8h0m0.2-40.7h0m0.9 8.2h0m-0.3-3.5h0m-0.2 5.4h0m0.3-10.5h0m-0.6 8.5h0m0.5 1.9h0m-0.6-9.7h0m0.6 6.1h0m-0.4 31.5h0m0.1-8.5h0m0.6-29.3h0m9.7-46.2h0m-0.2-0.8h0m0.9 0.6h0m-0.1 52.1h0m-0.3-2.4h0m0.4 1.5h0m-0.1-58h0m1 12.4h0m-0.3-2.5h0m0.3 4.3h0m-0.7-0.6h0m0.6 49.4h0m-0.3-4.2h0m-0.2 4.2h0m0.7-57.8h0m1 13.9h0m-0.6-1.2h0m0.5-1.9h0m-0.6 48.1h0m0.2-5.5h0m0.1-0.4h0m0 1h0m1.4-37.2h0m-0.4 4h0m0 0.8h0m0.1 30.8h0m-0.1-2.1h0m0.2 2.6h0m-0.7-4.4h0m0.3-33.8h0m0 43h0m1-39.4h0m0.6 0.7h0m-0.5-1.3h0m-0.4 33.6h0m0.3-0.1h0m0.3-0.9h0m0.1-4h0m1-30.5h0m-0.7 4h0m0.3-3.6h0m0.5 2.7h0m-0.7 29.6h0m0.1-2.8h0m0.2-0.5h0m0 2.4h0m0.2-36.6h0m0.4 4.3h0m0.9 6h0m-0.3-0.6h0m0 28h0m-0.6 3.7h0m1-1.1h0m0-39.3h0m0.9 13.6h0m-0.1-5.3h0m-0.6 5.4h0m0.5 30.4h0m0.2-3.3h0m0 5.4h0m-0.1 1.6h0m0.4-36.4h0m0.2 1.5h0m0 3.8h0m0.5 28h0m-0.2-2.8h0m-0.7 2.1h0m0.9-37.2h0m-0.6 48.5h0m1.2-44.3h0m0.1 4.4h0m-0.2-1.1h0m-0.2 28.3h0m0.1-1.3h0m0.3 5.2h0m-0.6-4.7h0m0.4 5.6h0m0.8-34.5h0m0.2-0.3h0m-0.1 1h0m0.3 28.9h0m-0.5 0.4h0m0.4-1h0m0.2 0.9h0m-0.6-33h0m0.4 1.6h0m-0.2-1.6h0m-0.2-1.6h0m0.5-1.6h0m-0.6-1.6h0m1.5 11.2h0m0.2-0.5h0m-0.5 4.6h0m0.3 27.1h0m0.4-3.3h0m-0.4 2.5h0m-0.1 2h0m0.1-34.2h0m-0.4 35.7h0m0.6 1.4h0m0.7-28.9h0m-0.3-2.3h0m0.7 0h0m0 1.5h0m-0.6 26.5h0m0.7 1.7h0m-0.3-0.9h0m-0.1-38.7h0m-0.1 44.5h0m1-29.1h0m0-0.3h0m0.1 1.2h0m0.5-4.9h0m-0.5 29.3h0m-0.3-2.3h0m0.5 0.7h0m0-2.7h0m0.2-26.3h0m0.9 9.4h0m-0.8 3.9h0m0-3h0m0.6 25.2h0m-0.5 1.7h0m0.7 3.4h0m-0.3-5.4h0m-0.2 7.7h0m0-35.1h0m1.4 9h0m0.1-4h0m-0.6 0.9h0m-0.1 1.4h0m-0.1 25.7h0m0.2 4.8h0m0.7-5.1h0m-0.1-30.3h0m-0.2 36.2h0m0.7-27.2h0m0.1-1.5h0m-0.1 4.3h0m0.4 28.1h0m-0.2-1.5h0m-0.1 1.5h0m-0.1-37.7h0m-0.1 41.7h0m1.5-33.9h0m0.1 4.1h0m0.1-0.3h0m-0.4-3.4h0m0.5 37.7h0m-0.2-5.6h0m-0.1 4.3h0m0-3h0m1.1-29h0m-0.3 4.4h0m0.3 0h0m0.1-4h0m-0.1 34.1h0m-0.6 2.7h0m0.2 1.8h0m-0.2-4.7h0m0 5.6h0m1.4-40.8h0m-0.1 0h0m0.3 3.4h0m0.2-0.3h0m-0.7 37.6h0m-0.2-0.3h0m0.8-1.4h0m0-1.1h0m-0.2 3.1h0m0.1-40.1h0m0.4 5.5h0m0.4-4.1h0m0.2 0.8h0m-0.3 3.9h0m0.3 31.4h0m-0.2 2.6h0m0-3.7h0m0.4-39.9h0m-0.4 46.5h0m0.7-40.3h0m0.5-1.1h0m-0.6-0.8h0m0.1-1.7h0m-0.1 38.3h0m0.4-5.6h0m0 0h0m-0.4-36.8h0m-0.1 44.5h0m1.3-39.9h0m0.6-0.3h0m-0.2-0.8h0m-0.3-1.1h0m0.1 36.8h0m-0.6 2.8h0m0.9-3h0m-0.5-40h0m0.3 45h0m1-52.5h0m0.3 4.9h0m0-2.3h0m-0.9 39.4h0m0-1.4h0m0.3 4h0m-0.1-1.6h0m0.6-45.2h0m0.1 51.1h0m-23.2-46.2h0m-0.5-34.9h0m0.5 15.4h0m-0.4-23.5h0m0.4 4.8h0m-0.3 11.2h0m-0.3 20.3h0m0.3-7.1h0m-0.2 0.3h0m0-5.6h0m0.1 6.6h0m0.5-15.9h0m-0.1 22.4h0m-0.8-14h0m0.4 14.2h0m0.5-21.7h0m0 35.9h0m0.7-23.4h0m-0.3-20.5h0m0.7 15.2h0m-1 20.8h0m0.9-16h0m-0.8-3.8h0m0.4 18.8h0m-0.4-5.9h0m0.3-34.2h0m0.4 11.4h0m-0.6 33.5h0m0.4 1.6h0m0.2-46.9h0m-0.7 46.4h0m0.7-38h0m-0.4 32.9h0m1.2-12.8h0m0.4-4.4h0m-0.4-16.9h0m-0.4 39.4h0m0.4 2.8h0m0.3-35.4h0m-0.3 7.6h0m-0.1 16.5h0m0.3-8h0m-0.5 2.6h0m-0.1-2.1h0m0.6 19.9h0m0.2-25.3h0m-1 18.7h0m0.3-9.6h0m19.3 46.3h0m0-0.3h0m0.1-22h0m0.3 21.1h0m-1-1.3h0m0.2-26.2h0m0.5 16.5h0m0.2 3.6h0m0-21.2h0m-0.3 25.9h0m-0.4-14.2h0m0.2 21.6h0m1-6.1h0m0.6-0.7h0m-0.9-5.3h0m0-14.3h0m0.1 19.2h0m0.3-2.4h0m-0.2-19.2h0m0.1 16.1h0m-0.1 7.6h0m0.2-11.6h0m0 18.8h0m-0.2-3.5h0m1.6-35h0m-0.7 23.1h0m-0.2-25.9h0m0.8 22.5h0m0.1-27h0m-0.9-1.1h0m0.2 9.4h0m0.6 19.7h0m0.1-10.7h0m-0.2-6.6h0m-0.3 10.7h0m-0.3-3h0m0.5-18.9h0m0 33.1h0m11-51h0m-0.3 3.7h0m-0.1-3.7h0m0.4 51.9h0m-0.5 0.9h0m-0.1-2.1h0m0.1-3.2h0m0-56.1h0m-0.3 63h0m1.3-48.6h0m0-2.1h0m0.7 0.4h0m-0.4 1.7h0m0.1 38.8h0m-0.3 1h0m-0.3-1.7h0m0.1 4h0m0.3 3.4h0m-0.2-1.6h0m0 1.6h0m-0.1 1.6h0m1.2-50.7h0m0.2 3.8h0m-0.6-2.1h0m0.4 47.2h0m-0.3-3.9h0m0.9 0.2h0m-0.8 4.5h0m0.9-46h0m0.7 1.3h0m-0.6-5.5h0m0.5 49.1h0m-0.4-1.4h0m0.1-4.8h0m-0.1 0.4h0m-0.1-43.8h0m0.6 52.6h0m0.4-51.4h0m-0.7-1.6h0m1-0.4h0m-0.5 4h0m0.3 0h0m0.6 41.3h0m-0.6-2.1h0m0.5 4.3h0m-0.4 1.5h0m0.4-52.3h0m-0.2-14.5h0m1.2 14.4h0m-0.1 1.3h0m0.2 1.2h0m0 39h0m-0.6 1.7h0m-0.2 3.6h0m0.4-51.1h0m-0.5 54.4h0m0.2-3.2h0m0.2 1.6h0m-0.2 1.6h0m0 1.6h0m1.6-52.1h0m-0.8 0.7h0m0.6-0.6h0m-0.1 2.3h0m0.1 39.7h0m0 5.8h0m-0.3-6.5h0m0.4-47.2h0m1.1 5h0m-0.2 2.8h0m-0.5 0.4h0m0.2-0.7h0m0.6 45.1h0m-0.7-4h0m-0.1 0.7h0m0.3-51.9h0m0.1 57h0m-0.3-61.6h0m1.2 14.2h0m0.3-0.8h0m0 0.2h0m0.3 1.5h0m-0.2 43.8h0m-0.6-2.3h0m0.6 4.8h0m-0.2 0.7h0m0.8-42.4h0m0.2-5.3h0m0.3 4.9h0m-0.5 1.1h0m0.5 40.4h0m-0.2-0.7h0m-0.1-0.5h0m-0.1-47.6h0m0.1 54.7h0m0.8-50.5h0m0.3 4.2h0m-0.7 0.8h0m0.7 29.8h0m0.2 5.6h0m-0.5-1.5h0m0.5-2.2h0m-0.3-36.5h0m0.2 45.1h0m1-38.7h0m0 0.4h0m0.1-2.6h0m-0.3 34h0m-0.5 1.3h0m0.7-2.5h0m-0.7 3.9h0m1.7-29.9h0m0-3h0m-0.7 2.5h0m0.7-1.7h0m-0.1 26.5h0m-0.1-1.3h0m-0.1 5.5h0m0.1-2.5h0m1.3-15.5h0m-0.6-2.3h0m0-1.8h0m0.1 3.5h0m0.5 17.7h0m-0.7 2.7h0m0.7 0.4h0m-0.6-1h0m1.3-19.9h0m-0.3 0.5h0m0-1.5h0m0.5 2.9h0m0 16.1h0m0.1 3.9h0m0-1.4h0m-0.1-1.9h0m-0.3-19.7h0m1.3 3.5h0m-0.3-0.1h0m0.4 0.4h0m0 1.5h0m-0.9 14.7h0m0.5 2.7h0m0.5-1.9h0m-0.5 16.3h0m0.2-11.9h0m-0.3 1.6h0m0.2 1.6h0m0.1 1.6h0m1.2-25.4h0m-0.6-0.9h0m0.2 3.3h0m0 17.6h0m0.4-0.7h0m-0.3 4.2h0m0.2 1.2h0m-0.4-28.4h0m0.2 36.3h0m1.3-29.8h0m0 0.5h0m-0.3-1.2h0m-0.4 5.4h0m-0.1 16.4h0m0-0.5h0m0.6 2.5h0m0-4.3h0m0.2 13.8h0m1-32.8h0m-0.5-1.5h0m0.3 1.1h0m-0.2 23.5h0m0.2 3h0m-0.4 1.7h0m-0.1 4.1h0m1.4-32.2h0m-0.2 3.7h0m0.5 0.3h0m-0.5-2.3h0m-0.3 24.4h0m0.6 2h0m0-3.8h0m-0.8 4.5h0m1.8-20.1h0m0 0.2h0m-0.3-1.5h0m-0.3-4.7h0m0.5 28.7h0m0 0.6h0m-0.3-0.1h0m0.3-40h0m0.9 0.2h0m0 3.1h0m0-1.7h0m-0.5-2.9h0m0.3 32.9h0m0.2 0.7h0m-0.5-2.2h0m0.8-32.6h0m-0.2 38.4h0m-21.3-2.1h0m-0.3-17.4h0m0.8-1.4h0m-0.2 4.1h0m-0.2-26.9h0m0.3 38.7h0m-0.7-2.8h0m0.4-10.7h0m-0.1-20.8h0m0.4 15.5h0m-0.1 20h0m-0.3-11h0m0.4-2.9h0m-0.2-35h0m0.4 48.2h0m-0.8-20.3h0m1-20.9h0m0.8 36.8h0m-0.8-41.2h0m0.4 39.3h0m0.3-12.1h0m-0.6-3.5h0m0.3-11.3h0m-0.4 1.9h0m0.4-10.5h0m0.3 36.1h0m-0.8 2.3h0m0.9-11.2h0m0-29.6h0m-0.2-3.1h0m0.2 20.3h0m0.8-13.7h0m-0.5-2.5h0m-0.1 19.6h0m0.2-14h0m0.1 2.6h0m-0.4 25.6h0m0.6-16.3h0m0.1-9.7h0m-0.6 21.1h0m0.8-2.9h0m0-14.6h0m-0.6 10.9h0m0 0.3h0m0.4-23.8h0m-0.5 38h0m17.2 6.4h0m0.1-3.1h0m0.1-18.2h0m-0.6 13.8h0m0.7-2.6h0m-0.6 2.8h0m0.2 6.1h0m0 0.2h0m0.3-1h0m0.4 3.2h0m0.6-21h0m-0.3 18.2h0m0.1-10.8h0m-0.2 17.9h0m0.2-8.5h0m0.2 5.9h0m0.2-13.1h0m-0.7-4.6h0m1.3-9.4h0m0.4 15h0m-0.2-12.2h0m-0.4 15.9h0m0.6-12.8h0m-0.6 5.4h0m0.3 12.7h0m-0.4-13.9h0m0.4-3.4h0m0 1.1h0m-0.4-13.9h0m12.3-14.3h0m0.3-0.2h0m0.4-1.9h0m-0.5 35.2h0m0.1-1.5h0m-0.2-2.5h0m0.4-38.1h0m-0.1 44.9h0m0.6-36.5h0m0.7-1.9h0m-0.3 0h0m0.1 40.2h0m-0.6-0.3h0m0-3.2h0m0.8-1.5h0m0.6-35h0m0.2 2.3h0m-0.1 0.3h0m-0.1 36.4h0m-0.2 0.6h0m0.7-1.3h0m-0.2 0.3h0m-0.2 10.4h0m1-53.4h0m0.3-0.7h0m-0.3 2.6h0m0.2 1.5h0m-0.7 42.6h0m0.2 0.9h0m-0.2-2.8h0m0-0.9h0m0.9-42.9h0m-0.2 46.9h0m0.9-40h0m0-0.9h0m-0.4-3.9h0m0.4 42h0m0.1 3.3h0m-0.2-2.7h0m0.3 0.5h0m-0.3 4.9h0m0.7-43h0m-0.2 4h0m0.3-2.6h0m0.1 33.6h0m0.2 4.7h0m0-0.7h0m0.2-1.4h0m-0.8-38.9h0m0.6 51h0m0.6-45.2h0m0 0.1h0m0.2-4.5h0m0.2 3.1h0m-0.6 35.3h0m0.4-0.4h0m-0.1 4.9h0m0.2 2.4h0m1.1-45.1h0m-0.5-2.1h0m0.4 3.2h0m-0.1-5.7h0m0.3 40.7h0m-0.7 1.7h0m0.5 0.1h0m0.1-1.4h0m1-31.5h0m-0.3-6.8h0m-0.3 6.3h0m0.6 30.6h0m0.1 5h0m0-4.7h0m0.2 4.5h0m-0.8 1h0m1.7-41.7h0m-0.2 0.8h0m-0.2 4.4h0m-0.2 1.2h0m0.2 24.7h0m0.5 5.5h0m-0.9-1.5h0m0.5 1.9h0m0-41.7h0m0.4 41.7h0m0.3-23.3h0m0.7 1.4h0m-0.2-1.7h0m-0.2 21.1h0m-0.5 1.9h0m0.5-3.1h0m0 7h0m0.7-32.1h0m0.1-1.9h0m0.5 5h0m-0.6 23.7h0m0.4-1.9h0m0.1-0.8h0m-0.3-34.2h0m1.4 8.7h0m-0.5 3.5h0m0.6-3.4h0m-0.8 5.6h0m0.5 24.1h0m-0.5 0.1h0m-0.1 0.5h0m0.3-2.8h0m0.6-27.8h0m0.9 0.7h0m-0.8 4.7h0m0.8-5.6h0m-0.1 3.9h0m0 29.4h0m-0.6-0.6h0m0 5.4h0m0.5-43.6h0m0.3 46.8h0m1-33.8h0m-0.6 0.2h0m0.3-4.9h0m0.1-0.7h0m-0.1 37.6h0m-0.2-6.1h0m-0.1 1.8h0m-0.3-35h0m1.9 11.2h0m-0.4-1.4h0m-0.3-4.6h0m-0.2 3.9h0m0.8 27.3h0m0.1 0.1h0m-0.5 3.3h0m0.4-5.1h0m-0.3-34.6h0m1.1 5.5h0m-0.4-2.7h0m-0.2 0.4h0m0.3 0.4h0m-0.1 25.1h0m-0.2 1.6h0m0-1.4h0m0.2 2.3h0m0.2 6.4h0m0.8-25.1h0m0-5.3h0m-0.1 3.2h0m0.4 23.6h0m-0.4-3.1h0m0.6 1.6h0m-0.7 5.4h0m1.9-27.4h0m-0.1 1.1h0m-0.5-1.1h0m0.1 0.7h0m0.3 20.7h0m-0.5 1.1h0m0.3 0.6h0m0.4 0.2h0m-0.2 3.9h0m0.9-27.4h0m-0.6 3.8h0m0.3-6.1h0m0.3 32.1h0m-0.5 0.3h0m0.6-2.9h0m-0.1-29.4h0m0.1 32.6h0m0.8-37.5h0m0.2 0.2h0m-0.1 4.9h0m-0.4 25.2h0m0.3 0.2h0m-0.2-0.3h0m-0.3-1.4h0m0.1-32.9h0m0.8 5.1h0m-0.1-1.6h0m-0.8-1.6h0m-19.5 1.5h0m0.3 19.8h0m0-3.8h0m-0.1-21.7h0m-0.2 1.7h0m-0.2 7.3h0m-0.3 17.2h0m0.7-21.8h0m-0.2 15h0m-0.4 1.8h0m0.8 5.6h0m0.4-5h0m0.4-26.1h0m-0.1 16.8h0m-0.3 17.5h0m0.2-24.1h0m-0.4-8.3h0m0.6 22.2h0m0.1-20.4h0m-0.3 24.5h0m0.4-0.4h0m-0.1-23.5h0m-0.6 7.4h0m1 5h0m0.2-6.7h0m-0.4 17.5h0m0.4-26.3h0m-0.4 12.3h0m0.7 19.4h0m-0.1-29.3h0m0.1 17.8h0m-0.3-3.6h0m-0.1-13.7h0m0.5 13.5h0m-0.1 3.9h0m-0.4-8.4h0m16.2 5.6h0m-0.5 5.7h0m0.4-10.6h0m0.3 21.7h0m-0.3-12.2h0m0.1 15.8h0m0.4-11.9h0m-0.9 14.7h0m0.7-23.3h0m0.5 20h0m-0.2 5.8h0m0.8-1.7h0m-0.8-19.5h0m0.3 21.6h0m0.5-1.8h0m-0.2-10.5h0m-0.3-14.3h0m-0.1 26.1h0m1.7-13.3h0m-0.4 1.3h0m-0.1-18h0m0 27.5h0m0-5.2h0m-0.2-5.8h0m0.3-19h0m-0.1 5.4h0m-0.2 7.5h0m0.7 18.6h0m12.8-47h0m-0.3-2.2h0m0.1 0h0m0.6 48.5h0m-0.6 1.4h0m-0.3-0.5h0m0.3-1.8h0m0.1-54.9h0m0.1 62.5h0m0.6-54.3h0m0.8 2.5h0m-0.6 4.1h0m0.4-5.8h0m0 48.5h0m-0.4 5h0m0-3.1h0m-0.2-51.2h0m0.8 57.3h0m-0.5-56.5h0m-0.6-1.6h0m0.7-1.6h0m0.9 16h0m-0.3-2.1h0m0-2h0m0.3 33.7h0m-0.3 1.6h0m0.2-0.5h0m0.6 1.4h0m-0.1 5.1h0m0.5-34.5h0m0.1 0.2h0m0.5 0.1h0m-0.1-5.1h0m-0.2 34h0m-0.4-1.5h0m0.1 2.1h0m-0.2-40.7h0m0.3 5.3h0m0.3-1.6h0m-0.1-1.6h0m-0.3-1.6h0m1.3 6.2h0m-0.1 3.2h0m-0.4 0.6h0m0.4-3.6h0m0.2 28.6h0m0 4.2h0m0-4.1h0m0 3.9h0m-0.3 4.8h0m-0.3-53.1h0m1.2 17.4h0m0.4-0.8h0m-0.3-0.6h0m0-1.8h0m-0.4 40.3h0m0.3-4.5h0m0 2.4h0m-0.1 0h0m0.2-42.5h0m0.9 8.7h0m0.5-0.6h0m-0.6 0.6h0m-0.1 30.6h0m0.8 5.8h0m-0.6-5.4h0m0.3-39h0m0.6 4.1h0m0.2 2.6h0m-0.2 1.2h0m0.2-0.2h0m0.5 38.5h0m-0.7 1.3h0m-0.2-1.6h0m0.8-42.5h0m-0.1 50.7h0m1-44.5h0m-0.5 1.3h0m0.3-1.3h0m-0.3 35h0m-0.1-1.9h0m0.6-1.7h0m0 5.6h0m-0.5 1.7h0m0.9-47.8h0m0.3 5.1h0m0.3-2.2h0m-0.3-0.8h0m0.1 39.8h0m0.4 0.8h0m-0.8 1h0m0.7-45.8h0m0.8 10h0m-0.5 3.5h0m0.8-2.4h0m-0.7 1.2h0m0.6 28h0m-0.3 0.8h0m0.3 3.2h0m-0.7 1.4h0m0.1 1.9h0m1.7-35h0m-0.1 2.1h0m-0.5 1.8h0m0.4-1.1h0m-0.3 32.1h0m0.4 3h0m-0.5-3.6h0m0-36.4h0m0.3 40.5h0m-0.6 1.6h0m0.2 1.6h0m1.8-33.8h0m-0.6-2.6h0m-0.3 5.8h0m-0.1-1.1h0m0.4 26.8h0m-0.3-0.4h0m0.6 3.2h0m-0.3 1.4h0m-0.3-35.8h0m0.6 39.7h0m0.5-35.1h0m0.6-2.2h0m0 4.9h0m-0.1 28.8h0m-0.4 1h0m0-5.1h0m-0.2 6h0m-0.1-41.3h0m0.4 43.6h0m0.1-43.3h0m-0.4 46.8h0m1.4-36.8h0m0.2 0.8h0m0.1-2.8h0m0.1-2.3h0m-0.3 35.7h0m0.2 1.3h0m-0.3-4.4h0m-0.2 5.3h0m1.2-34.5h0m-0.3 4h0m-0.1-3.1h0m0-0.9h0m0.2 31.7h0m-0.3-0.2h0m0.2-1.3h0m0.3-34.7h0m0.1 2.8h0m0.2 35.2h0m-0.2 1.6h0m0.4 1.6h0m-0.4 1.6h0m0.3 1.6h0m0.1 1.6h0m-0.8 1.6h0m1.2-44h0m0.1 3h0m0.2-6.1h0m-0.5 5.1h0m0.4 31.2h0m0.4 0.9h0m-0.9 0.5h0m0.8 3.3h0m0.3-36.4h0m0.4 1.7h0m0 0.6h0m-0.5 28.7h0m0.9 1.2h0m-0.3-0.8h0m0-36.6h0m-0.6 41.3h0m1.1-39.8h0m0.5-1.5h0m-0.2 1.7h0m-0.1 30.6h0m0 1.3h0m-0.2 0.1h0m1-31.3h0m0.7 2.3h0m-0.8-3.5h0m0.8 0.2h0m-0.2 31.2h0m-0.6-5.8h0m0.7 4.3h0m-0.4 1.2h0m0.2-36.6h0m-0.1 36.5h0m1.4-36.7h0m-0.4-1h0m-0.4 5.1h0m0.4-4.5h0m-0.4 34.6h0m0.9 2.9h0m-0.9-6.3h0m0.2-0.3h0m0-33.1h0m0.8-1.7h0m0.5 4.4h0m-0.2-3.6h0m0 1.6h0m0.4 36.3h0m-0.1 1.1h0m-0.6 0.4h0m0.3-43.1h0m0.5 48.7h0m-0.3-45h0m0.2-1.6h0m0-2.1h0m-21.2 17.8h0m0.1-3.8h0m0.1 11h0m0.1 0.9h0m-0.3-14.1h0m-0.3 17.1h0m-0.1 2.7h0m0.1 2.5h0m0.6-47h0m-0.5 38.6h0m0.3-10.4h0m-0.3-22.2h0m-0.2 31.3h0m0.6 4.3h0m-0.6-17h0m-0.1 7h0m1.3-5.6h0m-0.4 14.6h0m0.9 4.7h0m-0.1-44.5h0m-0.3 8h0m0.1-6.4h0m0.2 15.5h0m0.1 34.4h0m-0.8-7.9h0m0.1-17.9h0m-0.2-14.3h0m0.1 2.7h0m0.5 0.1h0m0.2 22h0m-0.8-11.5h0m0.1 14.4h0m1.7-26.3h0m-0.5 12.3h0m0.6 0.3h0m-0.3 12.1h0m0-28.4h0m-0.3 15.4h0m-0.3-0.4h0m0.6 13.5h0m0.3 10.2h0m-0.4-19.4h0m-0.5-17.4h0m0.2 2.6h0m17.7 11.5h0m-0.4 20.3h0m-0.3-8.8h0m-0.1 18.7h0m0.3-24.7h0m0.5-0.1h0m-0.6-4.7h0m-0.3 13.9h0m0.6 13.9h0m-0.4 0.6h0m1.7-24.9h0m-0.4 18.3h0m0.2 1.1h0m-0.7-1.8h0m0.5-8.2h0m-0.2-5.1h0m0.4 20.6h0m0.2-32.6h0m0 31.4h0m-0.7-31.9h0m0.7 15.3h0m0.4 12h0m-0.2-27.6h0m0.8 16.4h0m-0.1-7.9h0m-0.2 8.3h0m0.3 18.8h0m-0.2-19.6h0m0.2 20.9h0m-0.7-22.8h0m-0.1-10h0m0.6 7.2h0m0.1-12.6h0m-0.3 11.1h0m0.4 0.2h0m12.1-46.5h0m0.1-0.2h0m0.1 5.8h0m-0.4-6.1h0m0.5 59.4h0m-0.8-3.5h0m0.4 3.5h0m0.7-53.7h0m0.8 6.3h0m-0.9-3.8h0m0.3-0.7h0m-0.2 48.7h0m0.2 0.5h0m-0.2 4.5h0m0.8 1.4h0m-0.7-60.3h0m1.6 13h0m-0.7 0.5h0m0.1 5.3h0m0.1-5.3h0m-0.1 44h0m-0.1-3.5h0m0.1 5.5h0m-0.1-47.7h0m0.6 49.8h0m0.6-40.3h0m-0.1-0.9h0m0.4 4.2h0m0.4 34h0m-0.7-0.4h0m0.6 1.5h0m-0.8-41.2h0m0.4 45.4h0m0.6-37.3h0m0.1 1.3h0m0.1 2h0m0-2.9h0m-0.3 30.7h0m0.5-3.7h0m0.3 6.2h0m-0.3-36.5h0m-0.3 42.1h0m1.5-37.9h0m-0.6-1.1h0m0.7-0.2h0m-0.6-2.7h0m0.3 34.9h0m0.3-2.2h0m-0.2 6.1h0m-0.2-42h0m-0.4 49.3h0m1.2-45.7h0m0 3h0m0.4 1.2h0m-0.2-6.2h0m0.4 39.2h0m-0.1-2.1h0m0.1 0.4h0m0.1 2.8h0m0.3-34.3h0m0.7-3.1h0m-0.2-3.1h0m-0.4 40.1h0m0.3-3.6h0m0.1-0.1h0m-0.4-35.6h0m0.5-1.6h0m-0.1-1.6h0m-0.4-1.6h0m0.1-1.6h0m-0.6-1.6h0m1.5 14.3h0m0.6-4.3h0m-0.2 3.3h0m0.1 25.1h0m-0.1 1.3h0m-0.1 0.8h0m0 21h0m0.5-45.9h0m0.6 0.5h0m-0.4-0.7h0m0.3 22.8h0m0 1.6h0m-0.4-1.8h0m0.5 6.1h0m0.7-27.9h0m-0.2 3.2h0m0.7-2.5h0m-0.5 22h0m0.2 1.8h0m-0.4 0.8h0m0.6-4.2h0m-0.5-24.9h0m0.1 38.8h0m1-32.1h0m-0.1-3.6h0m0.4-0.9h0m0.3 30.7h0m-0.7-0.3h0m0.5-6.2h0m-0.1 0.8h0m0 7.6h0m0.7-27.5h0m0.5-3.7h0m-0.6 1.1h0m0.6-1.3h0m-0.4 27.2h0m-0.3 0.6h0m0.1 4.3h0m0.5 0.1h0m0.1-0.1h0m-0.1 1.6h0m-0.3 1.6h0m0.3 1.6h0m-0.3 1.6h0m0.3 1.6h0m0 1.6h0m0.3-28.4h0m0.7-2h0m-0.7-1h0m0.2 29h0m0.1-3.1h0m-0.1 1.8h0m0.5-37.3h0m0.7 15.1h0m-0.4-0.1h0m-0.1-2.3h0m0.9 0.4h0m-0.4 34.8h0m0.4-5.3h0m-0.5 4.7h0m0.2-37.3h0m0.1 41.2h0m0.4-32.4h0m0.6 0.9h0m-0.2-1.9h0m-0.5 1h0m0.6 31h0m-0.3 5.9h0m0.3-4.7h0m-0.4-37.8h0m0.1 51.2h0m0.9-39.3h0m0.5-4.4h0m-0.6 3.9h0m0.1 28.1h0m0.4 3.7h0m-0.4-2.4h0m0.5-35.1h0m-0.4 39.2h0m0.1-38.2h0m0-1.6h0m-0.6-1.6h0m0.3-1.6h0m1.5 19.3h0m0-3.2h0m-0.5-1.2h0m0.8 4.1h0m-0.8 26.4h0m0.6-0.4h0m-0.2-2.5h0m0.2 1.4h0m0.2-33.9h0m0.8 7.9h0m-0.1-4.1h0m-0.5 1.8h0m0.6 19.7h0m-0.1 5.2h0m0.1-2h0m0.2-25.1h0m-0.7 27.8h0m-0.2 1.6h0m-0.8 1.6h0m0.9 1.6h0m0.1 1.6h0m-0.1 1.6h0m-0.7 1.6h0m2.1-34.8h0m0.1-0.9h0m0-3.6h0m-0.3-0.1h0m0.5 28.3h0m0-2.7h0m0 1.2h0m-0.3-28.1h0m0.3 31.7h0m0.4-38.6h0m-0.2-2h0m0.4 0.7h0m-0.3 32.3h0m0.1 1.7h0m0.4 3.3h0m0.3-40.3h0m-1.1 40.1h0m0.1 1.6h0m0 1.6h0m0.3 1.6h0m-0.1 1.6h0m0.5 1.6h0m1-59.6h0m0.3 3.8h0m-0.9-0.2h0m0.3-4.3h0m0 42.1h0m0.7 4.5h0m-0.5-1.8h0m0 3.8h0m-21.4-63h0m-0.1-20h0m1 34.2h0m-1-23.3h0m0.6 17.3h0m0.4 26.9h0m-0.3-47.4h0m-0.3 29.5h0m0-7.6h0m0.3-12.6h0m-0.6-10.6h0m0 36.6h0m0.4-2.1h0m0.4 6.3h0m0-19.3h0m0 8.7h0m-0.8 9.6h0m0.2-9.5h0m0.8-22.2h0m0.4 21.3h0m-0.1 21.1h0m0.3-6.1h0m-0.1 8.2h0m0.2-39.6h0m-0.1 40.3h0m-0.1-28h0m-0.2-8.5h0m0.5 1h0m-0.7 17.8h0m-0.1-29.1h0m0.7-0.2h0m-0.8 12.8h0m0.8-5.5h0m-0.5-0.3h0m0.4 0.1h0m0.9 26.2h0m-0.5 11.6h0m0.9-11h0m-0.7 13.3h0m0.4-20.9h0m0-23.6h0m-0.6 45.1h0m0-6.4h0m0.1 6.4h0m0.1-3.6h0m-0.2-33.6h0m0.8-1.4h0m0-2.1h0m-0.2 23.5h0m17 44.6h0m-0.4-20.9h0m0.1-1h0m0.5 6.5h0m-0.5-6h0m0.5-0.5h0m-0.2 8.9h0m-0.5 5.5h0m0.3-19.6h0m1.5-7.6h0m-0.6 14h0m0.3-11.2h0m-0.6 30.6h0m0.4-19.3h0m0.3-20.1h0m-0.3 3.9h0m-0.4-1.8h0m0 17.3h0m0.7 0h0m0.1 11.6h0m-0.9-24h0m1.3 26h0m0-39.5h0m-0.1 37.3h0m0.8-31.4h0m-0.5 2.5h0m-0.4 14.5h0m0.2-20.2h0m0.5 35h0m0-36.9h0m-0.1 19.4h0m-0.3 12h0m-0.1 6h0m0.5-41.9h0m-0.6 10h0m0.3-3.1h0m12.9-54.1h0m-0.2 4.1h0m0.5 1.7h0m-0.3 46.2h0m0.5 2.3h0m0-4.5h0m-0.6 6.8h0m0.9-2.2h0m0 1.6h0m-0.5 1.6h0m1.3-52.4h0m-0.2 5h0m0.1 0.5h0m-0.7 41.7h0m0.3-2.2h0m-0.5 5.6h0m0.7-2h0m-0.6 4.3h0m1.3-45h0m0.4 1.3h0m-0.7-1.1h0m0.5 1.9h0m0.2 39.5h0m-0.4 3.2h0m-0.1-4.4h0m0-43.7h0m0-1.6h0m1 9.4h0m0.4-3h0m-0.4 4.8h0m0.2 0.3h0m0.5 39.9h0m-0.6-3.3h0m0.6 3.5h0m-0.8-47h0m1.7 12.8h0m-0.4-0.6h0m0-2.9h0m0.5 34.8h0m-0.3 4.5h0m-0.1 0.2h0m0.4 0.9h0m-0.5-46.8h0m1 15.5h0m0.3 4h0m-0.1-4.4h0m0.1 33.3h0m-0.2-2.3h0m0.3 5.5h0m0-39.7h0m0 39.4h0m0.9-33.6h0m-0.7 2h0m0.2-1.1h0m0.6 30.5h0m-0.3 3.3h0m-0.2-3.9h0m-0.4-0.1h0m0.7 10.5h0m0.7-38h0m0.4 6.1h0m-0.7-3h0m0.2 1.6h0m0.4 32.4h0m-0.7-2.6h0m0.3 5.9h0m0.2-40.1h0m0.8 0.6h0m0.2 3.9h0m0-4.5h0m0.4 0.1h0m-0.1 40.8h0m-0.8-0.6h0m0 0.5h0m0.2-42.8h0m0 44.9h0m1.8-38.7h0m-0.4 1.6h0m-0.1-0.3h0m0.5 40.2h0m-0.1-4.4h0m-0.3 0.9h0m0 4.9h0m0.7-38.6h0m0.3-5.7h0m-0.4-0.3h0m0.5 0.1h0m0.3 47.8h0m-0.2 0.4h0m-0.6-2.4h0m0.9-38.8h0m0.3-2.5h0m0.1 0.2h0m-0.4 0.3h0m0.9 41.8h0m-0.2 0.2h0m-0.2-0.6h0m0.9-41.8h0m-0.1-0.3h0m-0.3 4h0m0.4-5.3h0m-0.1 45.9h0m0.4-2.8h0m-0.6 0.2h0m0.1 2h0m1.4-46h0m-0.5 1.4h0m0.8-1.3h0m-0.5 2.7h0m0.3 43.6h0m0-1h0m0.1-3.7h0m0.1-32.4h0m0.7-3.1h0m-0.4 1h0m0.4 34.8h0m-0.2 5.1h0m0.5-5.5h0m-0.4-0.4h0m-0.2-42.2h0m1.4 14.5h0m0.1 0.3h0m0.1 0.2h0m-0.9-5.7h0m0.8 39.8h0m0-4.6h0m-0.1 1.5h0m-0.7-37.5h0m0.9 40.9h0m0 1.6h0m-0.3 1.6h0m0.6-32.5h0m0.5-3.8h0m0.1-0.3h0m-0.2 27.9h0m-0.3 2.2h0m0-1.2h0m0.6 1.4h0m-0.3 3.2h0m0.2-0.1h0m-0.2 1.6h0m-0.2 1.6h0m1.2-38.2h0m0-5.4h0m-0.1 6.6h0m-0.4-3h0m0.4 38.7h0m0.4-5.3h0m-0.5 5.5h0m0.1-4.1h0m0.3 5.6h0m-0.2-43.2h0m0.2-1.6h0m-0.3-1.6h0m0-1.6h0m0.6-1.6h0m0.2 14.2h0m0 5.2h0m0.2 0.8h0m-0.2-5.7h0m0.5 33.1h0m-0.4 0.7h0m-0.4 2.6h0m0.2 0.1h0m0.2-39.3h0m0.3 44.2h0m-0.4-59.9h0m1.1 22.6h0m0.3 1.9h0m-0.4-3.2h0m0.1 1.9h0m0.3 34h0m-0.4-4.6h0m0.2 2h0m0.4-39.8h0m-0.5 5.7h0m-0.2-1.6h0m0.5-1.6h0m0.7 4.7h0m0.3 3.7h0m0.2-1.2h0m-0.4-3h0m-0.3 32h0m0-5.9h0m0.2 5.1h0m-0.2-5.5h0m-0.3-30.5h0m1.1-5.2h0m0.2-1.8h0m-0.2 0.5h0m0.9-1.4h0m-0.5 30h0m-0.2 4.3h0m-0.2-4.1h0m0.2-36.2h0m1.5 2.7h0m-0.7-3.2h0m0.4 2.3h0m0.3-3.5h0m-0.1 33.5h0m0.2 2.3h0m-0.3-1h0m0 3.7h0m-0.2-43h0m0.6 45.1h0m-22.2-46.5h0m0.1-10.3h0m0.1-8.2h0m-0.4 31.5h0m-0.4-35.6h0m0.4 31.4h0m0.4-43.2h0m-0.4 30.6h0m-0.2-18.6h0m0-5.3h0m0.4-6.4h0m0 21.3h0m0.2 17.5h0m-0.4-3.5h0m-0.4 14.2h0m0.6-44.7h0m0.1 2.6h0m0.8 1.7h0m-0.6-2.6h0m0.3 42.8h0m-0.1-2h0m0.1-13.5h0m0.2-26.1h0m0.1 4.3h0m-0.3 4h0m-0.4 23.6h0m0.4-10h0m0.4 13.4h0m-0.7-30.5h0m0.6 28.1h0m-0.5-34.3h0m0 8.9h0m-0.2-2.3h0m1.7 42.8h0m0.2-12.8h0m-0.3-27.9h0m-0.2 31.7h0m0.6-13.9h0m-0.3 3.3h0m0.2 7h0m-0.7-31.4h0m0.1 41.1h0m0.2-16.8h0m-0.4 8h0m0.1-10.4h0m0.8-15.2h0m0-0.4h0m0 32.3h0m18 15.8h0m-0.4 15.6h0m-0.4-20.6h0m0.5 11.8h0m-0.4 0.6h0m0 13h0m0.7-16.7h0m-0.6 0.5h0m0.6-7.9h0m-0.9 2.3h0m1.5 4.9h0m0.4-14h0m-0.7 18.1h0m0.7 7.4h0m-0.5-6.2h0m-0.2-23.2h0m0.3 20.7h0m-0.3 1.9h0m0-22.1h0m0.2 21.8h0m0.4-24.1h0m0.1 9.1h0m0.8-18.2h0m-0.2 7.8h0m-0.1 2.9h0m-0.3 15.9h0m0.2 7.7h0m0.2-1.8h0m0.2-15.1h0m0 16.3h0m-0.4-24.1h0m0.1-6.8h0m0.1 3.6h0m11.2-55.5h0m0.5 0.3h0m-0.3-1.7h0m0.1 3.5h0m-0.4 51.5h0m-0.2 3h0m0.1-3.5h0m0.5 6.9h0m-0.8-69.5h0m1.6 17.4h0m-0.2-0.5h0m-0.3 1.3h0m-0.1-3.2h0m0.7 50.2h0m-0.2-0.6h0m0.3-1h0m-0.2-1.9h0m0.6-38.2h0m0.7-0.6h0m-0.7 1h0m-0.2 0.2h0m0.5 44.3h0m-0.1-3.2h0m0 0.4h0m-0.2 3.2h0m1-42.6h0m0.5-2.4h0m-0.2 3.1h0m-0.2-0.1h0m0.3 39.4h0m0.1 1.4h0m-0.5 1.4h0m0.2-4.6h0m0.7-40.1h0m0.6-0.8h0m-0.4 5h0m-0.1 46.8h0m0.1 1h0m0.5-1.2h0m-0.2 3.4h0m0.4-59.7h0m-0.6 62.1h0m0.9-52.4h0m0.5 3.2h0m-0.6-0.5h0m0.2 43.9h0m0.4 3.2h0m-0.5 0.6h0m0.2 5.3h0m0.4 5.2h0m0.6-52.5h0m-0.2 0.9h0m-0.1-3.4h0m0.3 45h0m-0.4-2.5h0m0.2 2.7h0m-0.2 2.6h0m0.2 8.1h0m1-44.2h0m0-1.7h0m0.1 0.3h0m0.5 27.8h0m0.1 1.1h0m0 0.9h0m-1-31.4h0m0.3 37.3h0m1.2-30.7h0m-0.1-4.5h0m0 5.5h0m-0.2-2.2h0m0 17.5h0m0.6 5.1h0m-0.6-3.7h0m0.5-24.4h0m0 28.2h0m0.3-25.1h0m-0.4-1.6h0m0.2-1.6h0m-0.3-1.6h0m0.3-1.6h0m0-1.6h0m-0.2-1.6h0m0.8 14.2h0m0.3-0.1h0m-0.4 2.1h0m-0.1 0.3h0m0 21.4h0m0-1h0m0.7-1.8h0m-0.5-25.5h0m0.2 31.4h0m0.6-21h0m0.2 0.3h0m0.4 0.9h0m0.2-6.5h0m-0.9 26.7h0m0.3-5.9h0m0.1 0h0m0.4-0.1h0m-0.3-20.5h0m-0.5 26.5h0m1.8-25.5h0m0 2.2h0m-0.9 2.7h0m0.8-5h0m-0.4 27.1h0m0.1-0.8h0m0.1 0.3h0m-0.3 4.2h0m0.9-26h0m0.7 1.5h0m-0.1 1.8h0m0 20.4h0m-0.6 1.6h0m0.6-1.7h0m-0.7 1.9h0m0.6 5.9h0m0.5-33.6h0m0.4 1.4h0m-0.2 0.9h0m0.4-5.3h0m-0.3 35.5h0m0-3.9h0m-0.1-1.4h0m0.2 3.9h0m0.1-35.7h0m0.2 38.3h0m-0.1-0.9h0m0 1.6h0m0.1 1.6h0m0.8-36h0m-0.3 5.2h0m0.3-3.4h0m-0.5 33.5h0m0.7-2h0m-0.5 2.5h0m-0.3 1.9h0m0.4-43.1h0m0 45.2h0m0.8-28.5h0m0.2-1.5h0m-0.2-2.6h0m-0.1 30h0m0-0.6h0m0.4 2.5h0m0.7-25.7h0m0.6 0.6h0m-0.7 3.7h0m0.1-1.6h0m0.1 31.4h0m-0.2-2.9h0m0.1 0.3h0m0.1 0.8h0m0.1-33.7h0m1.3 6.3h0m-0.3 2.2h0m-0.2 2h0m0.5 30.5h0m0 0.3h0m0.1-0.1h0m-0.4-2.8h0m-0.4-34.1h0m-0.1 37h0m0.1 1.6h0m0.4 1.6h0m-0.4 1.6h0m0 1.6h0m0.5 1.6h0m0.7-38.1h0m0.4-2.9h0m-0.5 1.7h0m0.4 2.7h0m0.2 28.8h0m0.1 4.1h0m0-0.1h0m0.6-39.6h0m-0.4 4.8h0m0.8-1.8h0m0.1 39.9h0m-0.9-2.9h0m0.6 2.3h0m-0.3-3h0m0-42.6h0m-0.2 49.8h0m1.7-48.7h0m-0.7 1.4h0m-0.1 1.3h0m0.2-1.7h0m0.3 41h0m0 0.9h0m-0.2 2.7h0m-0.4 4.1h0m1.5-46h0m0.4-1.4h0m-0.2 1.4h0m0.1 32h0m-0.3 0.5h0m0.2 0.6h0m0-1.6h0m-0.2-37h0m-0.3 43.2h0m0.4 9.4h0m-21.3-53.1h0m-0.2-53.7h0m0.8 3.8h0m-0.7 18.8h0m-0.1-18.1h0m0.1 33.8h0m0.7-37.7h0m-0.1 9.5h0m-0.4 14.7h0m0.5-26.1h0m-0.2 20.5h0m-0.3-21.2h0m0 6.4h0m0.4 24.5h0m-0.6 20.5h0m-0.1-48h0m0.7 18.3h0m-0.3 5h0m1.2-20h0m-0.1 25.8h0m0.2 6.5h0m-0.2-34.6h0m-0.2 12.3h0m-0.3 0.3h0m0.1 7.5h0m0.5-13.2h0m-0.1 5.8h0m-0.6 21.1h0m0.3-20.3h0m0.4-11.3h0m-0.7 46.2h0m0.4-43h0m0.4 16.8h0m-0.4 21.9h0m0.8-13h0m0.3-9.9h0m0 29h0m-0.2-4.1h0m0.1-37.1h0m-0.1-1.1h0m0.1 26.5h0m0.1-22.3h0m0.2 24.5h0m-0.7-26.8h0m0.2 4.6h0m0.2 12.7h0m-0.1 6.8h0m-0.1 11.4h0m17.6 36h0m-0.4 14.4h0m0-1.4h0m-0.2-30.7h0m0.1 10.8h0m0.5 3.6h0m-0.8 5.1h0m0.8 15.4h0m-0.4-16.3h0m0.3-15.3h0m-0.2 24h0m-0.3-16h0m0.5-5.2h0m0.5 17.3h0m0.4-34.7h0m-0.1 42.8h0m-0.3-30.2h0m0.6-10.1h0m0.1 1.6h0m-0.5 21.1h0m0.3 6.6h0m-0.1-29h0m-0.6 29.6h0m0.3-1.6h0m0 6.3h0m0.4-7.3h0m-0.3-9.8h0m0.2 8.1h0m1-5.4h0m-0.2-18.9h0m-0.3 26.3h0m0.3-11.3h0m-0.2-15.3h0m0.4 0.1h0m-0.1 12.7h0m0.2 7h0m-0.2-12h0m0.3 24.3h0m-0.6 1.8h0m-0.1-3.4h0m0.8-32.1h0m12.6-45.9h0m-0.4 2.7h0m-0.2-2.6h0m0.7 41h0m-0.4 1h0m0.4 2.5h0m-0.4 1.7h0m0.5-46.3h0m-0.5 47.7h0m1.3-42.5h0m0.2-0.6h0m-0.9 2.3h0m0.6 2.9h0m-0.2 33.2h0m-0.3 5.8h0m0.3-1.7h0m1-42.9h0m0.4 0.1h0m-0.6 5.4h0m0.5 42.8h0m-0.3-1.4h0m0-1.4h0m0.1 1.8h0m-0.4-47.9h0m0.7 52.1h0m-0.4-50.9h0m0-1.6h0m0.2-1.6h0m-0.6-1.6h0m0.5-1.6h0m0.1-1.6h0m-0.2-1.6h0m1.4 9.2h0m-0.1-1.9h0m-0.5 3.8h0m-0.1 0.3h0m0.4 44.2h0m0 2.2h0m0.5 2.3h0m0.7-53.1h0m0 3.5h0m-0.4-2.8h0m-0.1-1h0m0.6 41.7h0m-0.8 4.6h0m0.3-1.2h0m0.5 3.4h0m-0.1-59.1h0m1 10.1h0m0.1 2.2h0m0 0.2h0m0 1.9h0m-0.8 40h0m0.5-4.6h0m0.2 0.7h0m-0.1-41.2h0m-0.1-1.6h0m-0.2-1.6h0m0.5-1.6h0m-0.4-1.6h0m1.5 16.1h0m-0.2 1h0m-0.4 0.9h0m0.5 32.2h0m-0.4-2.5h0m-0.4 3.1h0m0.2-0.5h0m0.3-39.8h0m0.7 41.3h0m-0.5 1.6h0m0 1.6h0m0.7 1.6h0m-0.7-49.4h0m0.8 10.8h0m-0.3 4.3h0m-0.2-0.4h0m0.2 29.1h0m0.4 3.4h0m-0.2-3.3h0m-0.3 2.9h0m-0.1-46.3h0m1.2 13.4h0m0.1 5.1h0m-0.1 0.9h0m0.3 28.1h0m-0.5-1.3h0m0.5 3.7h0m0.2-43h0m0.7 14.1h0m0.4-2.4h0m-0.6-2.4h0m-0.1 36.1h0m0.7-3.8h0m-0.4 1.2h0m0.2-33.6h0m0.1 46.7h0m0.4-38.7h0m0.8-1.7h0m-0.7-0.6h0m0 35.9h0m0.5-3.5h0m-0.4 3.6h0m-0.3-0.3h0m0.8-38.9h0m-0.5 45h0m-0.3-3.5h0m0.4 1.6h0m-0.3 1.6h0m0.5 1.6h0m0.8-33h0m0.6-0.1h0m-0.1 0.5h0m-0.6-1.6h0m0.5 29.7h0m-0.5 0h0m0.2 0.8h0m0.1-0.4h0m-0.3-39.8h0m1.2 8.9h0m0.1 1.2h0m0.3-0.6h0m-0.2 41.9h0m-0.5-5h0m0.2 0.4h0m0-41.4h0m1.6 17.7h0m-0.3 0.5h0m-0.3-4.2h0m0.4 2.6h0m-0.7 22.8h0m0.7-2h0m-0.6 4.4h0m0.6-3.2h0m-0.4 6.4h0m1.4-29.2h0m-0.2 6.8h0m-0.4-4.3h0m0.1 24.5h0m-0.3 3.8h0m0.3-5.3h0m-0.2-24.7h0m1.8 10.4h0m-0.8-0.4h0m0.1-1.3h0m0.7 21.1h0m-0.7-2.7h0m0.2 3.3h0m0.2 0.8h0m0.4-20.4h0m0.4 0.3h0m0.1-3.5h0m-0.1 22h0m0.4 1.8h0m-0.7 0h0m0.9-2.2h0m-0.7-23.5h0m1.6 6.8h0m-0.6 0.2h0m-0.2-3.9h0m0.7 20.7h0m-0.7 4.1h0m0.8 0.1h0m-0.2 5.1h0m0.9-35h0m0 0.7h0m0.4-1.5h0m-1 4.6h0m0.3 26.9h0m0.6-6.4h0m-0.5-0.5h0m0.1 5.7h0m-0.4 3.8h0m0.5 19.9h0m0.8-49h0m-0.2-0.6h0m0.7 0.7h0m-0.5-3.4h0m-0.1 28.4h0m-0.3 0.2h0m0-0.1h0m0.6 5.2h0m-0.8 1.6h0m2.2-34.3h0m-0.5 0h0m-0.5-6h0m0.1 35.8h0m0.3 5.3h0m-0.4-2.6h0m0.2 0.7h0m0.4-46.9h0m0.9 4.3h0m0.2-0.5h0m-0.3-2.9h0m-0.2 39.9h0m0.7-1.1h0m-0.6 2.4h0m0.2 7.3h0m1.4-50.1h0m-0.9 2.1h0m0-4h0m0.2 34.5h0m0.4-0.5h0m-0.1-1.5h0m-0.1 2.9h0m-0.6-36.2h0m0.3-1.6h0m-0.2-1.6h0m0.2-1.6h0m0.1-1.6h0m0-1.6h0m0.2-1.6h0m0.2 48.8h0m-0.7 1.6h0m0.6 8.3h0m-22.2-62.5h0m0.2 3.8h0m0.4-8.1h0m-0.4 0.6h0m-0.5 2.7h0m0.2-14.3h0m-0.2 38h0m0.4-15.4h0m-0.1 6.7h0m0.1-28.2h0m-0.1 33.7h0m0.2-36.1h0m-0.5 29.4h0m0.9 7.5h0m-0.1-29.7h0m0.7 26h0m-0.1-27.9h0m-0.2 7.3h0m0.5-3.5h0m-0.4-1.1h0m-0.1 26.1h0m0.4-18.8h0m0.3-6.4h0m-0.8 35.1h0m0.7-12.1h0m-0.7-26.8h0m0.4 31h0m0.3-5.3h0m-0.3 1.6h0m0.7-21.5h0m0 3.5h0m0.5 33.3h0m0.1-35.2h0m-0.4 33.6h0m-0.2-24.8h0m0.4 14h0m-0.6-21.3h0m0.4 32.7h0m0.4-4.4h0m-0.7 2.6h0m0.9-14.6h0m-0.6-21.6h0m0-3.9h0m-0.1 36.8h0m18.4 3.1h0m-0.4 30.7h0m0.6 4.9h0m0-29.2h0m0 19.7h0m-0.3 1h0m0.1-7.1h0m-0.5-17.6h0m0.1 1.1h0m0.6 23.2h0m-0.8 5.4h0m0.8-21.7h0m0.3 4.5h0m0.7-9.5h0m-0.3 6.6h0m-0.4-4.9h0m0.6-12.9h0m0.2 14.1h0m-1 6.1h0m0.1-21.3h0m0.3 35.5h0m0-5.5h0m0.1-25.2h0m0.1 1h0m-0.3 20.3h0m1.4 0.1h0m-0.2-9.5h0m-0.2-7.2h0m0.6 4.9h0m-0.4-20.2h0m0 32.8h0m-0.4 0.2h0m0.8-16.8h0m-0.4 15.2h0m-0.3-25.4h0m0.7 7.2h0m-0.9 3.3h0m11-37.9h0m0.3 0.7h0m-0.2-2.1h0m0-1.4h0m0.6 35.3h0m-0.5 5.1h0m0.7-5h0m0.9-35.7h0m-0.1 1.8h0m-0.3 1.5h0m-0.3 37.3h0m0-0.5h0m0.7 3.2h0m-0.1-46.8h0m-0.1 47.5h0m-0.4-43.3h0m0.2-1.6h0m0-1.6h0m0-1.6h0m0.1-1.6h0m0.5 10.2h0m0.3 3.1h0m0.2 1h0m0.4 0.1h0m-0.8 39.6h0m0.1-1h0m0.1 1.4h0m0.6 3h0m-0.4-48.6h0m-0.2 52h0m1.6-44.5h0m-0.3-6.2h0m0.2 1.8h0m-0.6 44.6h0m0.5-0.8h0m-0.4-4.4h0m0.2 3.2h0m1.1-34.4h0m0.1-4.8h0m-0.5 1.3h0m0.4 3.2h0m0.2 34.1h0m0.1 5h0m-0.5-4.1h0m0.4-46.1h0m1-0.9h0m-0.5 3.7h0m0.4 1.3h0m0-5.6h0m-0.2 48.8h0m-0.1-0.3h0m-0.3-3.6h0m0.2 0.7h0m0.8-40.1h0m0.1-5.5h0m0.3 3.5h0m0.3-0.8h0m0 50.5h0m-0.7-3.9h0m0.7 0.1h0m-0.4-49.8h0m0.2 54.6h0m0.6-58.9h0m-0.1 6.8h0m0.7-4.1h0m-0.4 3.6h0m-0.1 54.3h0m0-0.3h0m0.2-3.9h0m-0.4 4.6h0m0.3-62.3h0m0.3 62.9h0m0.8-59h0m0.4 2h0m-0.7-1.4h0m0.6 4.7h0m0 51.1h0m-0.1 4h0m-0.5-1.2h0m-0.3-58.7h0m1.4 7.9h0m0.6-1h0m-0.9-0.9h0m0.1-4.6h0m0.4 61h0m0.1 1.8h0m-0.6-0.2h0m0.8-0.8h0m-0.8 3.8h0m1.9-60.1h0m-0.5 1.8h0m-0.2 4.1h0m0.2 44.9h0m-0.2 1h0m0.4 2.4h0m-0.2 0.1h0m-0.2 4.1h0m1.2-48.4h0m0.1 1h0m0.3-2.9h0m-0.4-1.9h0m0.3 45.5h0m-0.5-1.3h0m0.4 1.6h0m-0.2-1.5h0m0.4-46.6h0m0.2 5.9h0m0.7-1.5h0m0.3 2.7h0m-0.6 2.6h0m-0.2 37.9h0m0.7 3.4h0m-0.2-0.6h0m-0.6-46.6h0m1.6 1.4h0m-0.5-0.3h0m0.2 5.5h0m0.2-3.1h0m0 39.8h0m0 5.4h0m-0.1-5.5h0m0.4 0.4h0m-0.6 7.6h0m1.4-45.8h0m-0.5 0.4h0m0-3.9h0m-0.1 43.4h0m0.7-5.9h0m-0.1 4.1h0m0-43.3h0m1.1 8.5h0m-0.6-2.3h0m0.3 6.3h0m-0.1-6.4h0m-0.2 34h0m0.3 3.7h0m-0.4-1.3h0m0.6-1.4h0m-0.6-38.9h0m0.2 4.4h0m0.2-1.6h0m-0.3-1.6h0m1.4 9.9h0m-0.6-4.6h0m0.8 1.7h0m-0.3 33.3h0m0-2.2h0m0.4-0.8h0m-0.4-37.4h0m1.3 8.1h0m-0.1-2.8h0m-0.4-0.4h0m0.5-0.7h0m-0.5 37.2h0m-0.3-3h0m0.8 4.4h0m0 1.1h0m-0.7-41h0m-0.4-1.6h0m0.3-1.6h0m1 7.5h0m0.2-2h0m0.6-1h0m-0.6 38.3h0m0.3-5.3h0m-0.5 0.5h0m0.1-38h0m1.3 13.4h0m-0.1-3.4h0m-0.2 1.4h0m0.7-3.3h0m-0.7 34h0m-0.1 1.3h0m0.3-1.7h0m1.6-26h0m-0.1 2.4h0m-0.7-2.4h0m-0.1-2.8h0m0.7 28.5h0m0 1.8h0m0-1.7h0m-0.4-1h0m-0.2-29.3h0m0.5 40.4h0m1.3-42.8h0m-0.4 5.3h0m-0.5-4.9h0m0.5 0.9h0m-0.2 35.6h0m-0.2-1h0m0.6 2h0m1-47.6h0m0.2 1.4h0m-0.1 1.3h0m-0.7-1.6h0m0.8 38h0m-0.8-3.4h0m0.7 5.6h0m-0.8 6.1h0m0.7-6.6h0m-0.8 1.6h0m-21.4-37.1h0m-0.2-7.8h0m-0.3-11.3h0m0.5 7h0m-0.3 26.5h0m0-6.2h0m0.2-27h0m0 34.3h0m0.1-21.6h0m0.1 5.7h0m-0.6 7h0m0.3-12.1h0m1.3-8h0m0.1 32.3h0m-0.7-11.6h0m0.1 2.7h0m-0.1 7h0m0-17.9h0m0.6-1.7h0m-0.2 18.1h0m-0.1 3.4h0m0-31.5h0m-0.3 8.9h0m0.3-4.8h0m-0.1 16.8h0m1.7 16.9h0m-0.6-33.7h0m0.4 2h0m-0.5 12.8h0m0.4-12h0m0.2-8.4h0m-0.4 8h0m0.1 24.3h0m-0.1 9h0m0.4-4.5h0m-0.2-3.2h0m-0.4-21.4h0m0.2 21.8h0m0.3-14.1h0m17.4 10.3h0m-0.1 7.3h0m0.8-8.1h0m-0.1-2.4h0m0 27.6h0m-0.5-17.7h0m0.6 12.3h0m-0.1-21.6h0m-0.7 26.4h0m0.9-2.4h0m-0.2-18.9h0m0.8 4.6h0m-0.5 8h0m0.9-10.8h0m-0.7-4.7h0m0.2-5.4h0m0-0.1h0m-0.1 16.9h0m0.1-12h0m0.3 2.9h0m-0.3-6.9h0m0.4 7.1h0m-0.7 5h0m1.1 3.3h0m0.5-30.1h0m-0.1 8.3h0m-0.1 2.2h0m0.3 22.7h0m-0.5-16h0m0.5 18.4h0m-0.4-19.9h0m0.1 20.9h0m-0.3-31.7h0m-0.2 15.2h0m0.3-18.9h0m12.5-6.6h0m0.4 1h0m0 2.9h0m-0.5 39.7h0m0-3.9h0m-0.4 3.7h0m0.9 9.1h0m0.7-50.3h0m0.1-2.9h0m0 1.7h0m0.2 43.2h0m-0.9-1.9h0m0.8-3.8h0m0.2-37.4h0m0.4-4.1h0m0.4 3.5h0m-0.6-0.1h0m0.4 35.7h0m-0.1 6.3h0m-0.1-0.8h0m0.4-51.6h0m-0.2 54.9h0m0.9-47.9h0m-0.5 0.5h0m0.9-0.5h0m-0.2-0.3h0m-0.1 46h0m-0.3-6h0m0 1.1h0m1-44.9h0m-0.1-1.6h0m0-1.6h0m0.1 8.9h0m0.1-4.5h0m0.1 3h0m0.1 2.5h0m0.3 38.6h0m-0.3-1.8h0m0.2-2.3h0m-0.6 3h0m0.1-42.9h0m-0.2 0.5h0m-0.1-1.6h0m0.1-1.6h0m0.6 46.3h0m0.5-39.9h0m0.5 4.5h0m-0.2-3h0m-0.3-1.8h0m0.5 38.4h0m-0.5-1.7h0m0.1 0.8h0m0 2.3h0m1.6-31.2h0m-0.6 2.1h0m-0.1 0.4h0m0.4 22.4h0m-0.6-0.5h0m0.4 2h0m0.3 2h0m0.4-35.3h0m-0.1 0.7h0m0.7 5.2h0m-0.4-1.7h0m-0.2 30h0m0.3-1.5h0m-0.2-1.6h0m0.7 6h0m-0.8-1h0m1.8-38.4h0m-0.7 0.3h0m0.1-0.7h0m0.6 31.3h0m-0.4-2.8h0m0 3.8h0m0.2-1.1h0m0.2-35.4h0m-0.4 38.1h0m0.6-38.3h0m0.3 2.6h0m-0.1-3.7h0m-0.2 34.5h0m0.2 6.7h0m0-2.9h0m-0.2-3.4h0m0.5-34.9h0m1.2 8.9h0m-0.1-4.6h0m0.1 1.9h0m0.1 32.7h0m-0.6 2.2h0m0.1-3.9h0m-0.4 6.9h0m1.6-31.7h0m-0.6-1.3h0m0.7 3.9h0m-0.3 35.5h0m-0.2-3.8h0m-0.1 1.5h0m0.6-40.1h0m0.4 3.6h0m-0.1 4h0m0.2-3.8h0m0.6 34.8h0m-0.4 2.9h0m0-2.8h0m0.2 2.5h0m-0.2 2.9h0m-0.2 1.6h0m1.2-35h0m0.5-1.8h0m-0.6 3.8h0m0 28.8h0m-0.2-0.6h0m0.1 0.1h0m0-34.3h0m1.4 0.9h0m-0.3 1.4h0m-0.1-0.9h0m-0.1 4.9h0m0.3 33.4h0m0.2-4.1h0m0 0.3h0m-0.2 3.1h0m0.4-37.2h0m0.3 8.6h0m0.2 2h0m0.3 0.7h0m-0.2-5.8h0m-0.3 34.3h0m0.8-5.1h0m-0.8-0.1h0m0.2 2.7h0m0.2-33.2h0m-0.3 35.2h0m0.5 1.6h0m0.6-31.9h0m0.1-0.4h0m0.5 0.9h0m-0.7 0.5h0m0.3 32.2h0m-0.2 0.8h0m0.6-3.3h0m-0.3-2.1h0m-0.2 6.4h0m0.2-1.1h0m1-33.7h0m0.3-3.5h0m-0.3 5.7h0m-0.3 26.6h0m0.3 3.4h0m0.3-4.1h0m-0.1 10.8h0m1-39.3h0m-0.4-6.8h0m0.4 5.7h0m-0.5 29.2h0m0.1-0.6h0m0.4-0.3h0m0.1 5.8h0m0.4-41.4h0m0 0.2h0m0.4-2.9h0m-0.1 3.4h0m0.2 31.2h0m-0.8 2.9h0m0.9-2.4h0m-0.5 7.7h0m0.4-43h0m-0.4-1.6h0m-0.2-1.6h0m0.9-1.6h0m-0.5 43h0m0.4 1.6h0m0.1 1.6h0m-0.5 1.6h0m0.6 1.6h0m-0.3 1.6h0m-0.1 1.6h0m0.8-47.1h0m0.3 4.4h0m-0.2-2h0m-0.7 34.1h0m0.3 1.3h0m0.4 1.7h0m-0.4-3.5h0m1-39.3h0m0.6-1.1h0m-0.7 1.7h0m0.6-2.1h0m-0.2 39.7h0m0.1 1.5h0m-0.1-3.8h0m0.3 4.2h0m-0.2-41.3h0m0 43.8h0m-21.3-19.2h0m0.3-18.9h0m-0.6-4.4h0m0.5 34.6h0m0.3-9.7h0m-0.2-13.9h0m-0.2-9.7h0m0.2-2.9h0m-0.6-1.1h0m0.4 11.8h0m0.3 31.9h0m-0.1 0.7h0m-0.3-37.6h0m0.1 10.2h0m0.8 14.9h0m0.5 12.1h0m-0.7-17.1h0m0-29.2h0m0.1 16.2h0m-0.2 0.6h0m0.9 16.7h0m-0.4-23.1h0m-0.4 35.4h0m0-3.6h0m-0.1-17.8h0m0.7-22.4h0m0.1 41.1h0m-0.3-43.1h0m1.4 27.7h0m-0.6 15.8h0m0.6-13.7h0m-0.7-13.6h0m0.7 13.1h0m0-26.4h0m-0.6 2.7h0m0.6 17.7h0m-0.9-1.5h0m0.3 18.6h0m0.5-31.1h0m0 13.2h0m-0.3 10.5h0m-0.2-11.6h0m17.2-9.9h0m-0.3 29.1h0m0.1 0.3h0m0.4-8.8h0m-0.2 5.5h0m-0.4-12.9h0m0.8-16.7h0m-0.7 14.4h0m0.4-6.8h0m0.3-7.1h0m-0.3 22.9h0m0 5.7h0m0.5-0.1h0m0.5-23.6h0m-0.5 12h0m0.6 11.3h0m-0.2-21.1h0m0 22.7h0m-0.2 4.8h0m0.6-3.2h0m-0.7-6.5h0m0.5 2h0m0-13.2h0m-0.3-1.8h0m1.2-9h0m0.2-6.4h0m-0.2 34.2h0m0.3-15.2h0m-0.8-17h0m-0.1 26.2h0m0.3 11.4h0m-0.3-37.2h0m0 0.4h0m0.6 35h0m-0.2-8.9h0m0.3 3.6h0m-0.5-21.7h0m13-9.8h0m-0.6 5.5h0m0.8-5.9h0m-0.1 4.3h0m0.2 42.8h0m-0.8-6.7h0m0 5h0m0.3-49.1h0m0.4 54.5h0m0.4-49.3h0m0.4 1.4h0m-0.3 3.1h0m0.1 39.6h0m-0.1-4.2h0m0.3 0.9h0m-0.6-43.6h0m0.5 45.9h0m0.5-38.6h0m0.2-1.5h0m0.5 0.6h0m0.1 1.6h0m0.1 38.1h0m-0.1 1.2h0m-0.5-4.5h0m1.4-37h0m-0.6 1.9h0m-0.2-1.2h0m0.2 0h0m0.3 35h0m-0.3-0.9h0m0.7-0.2h0m-0.1-45.9h0m-0.7 53.4h0m1.5-45.3h0m-0.4 0.1h0m-0.2-0.7h0m0.3 41.6h0m0 4.5h0m0.1-1.4h0m0 1.7h0m0-55.4h0m-0.2 59.9h0m1.2-49.8h0m0.2 3.2h0m-0.2 0.5h0m0.3 34h0m-0.4 0.3h0m-0.2 2.7h0m0.2 3h0m0.1-45.4h0m1.1-1.9h0m0 4.5h0m0.2-0.8h0m-0.7-2.6h0m0.3 46.2h0m0.6-4.4h0m-0.8 1.5h0m0.1-47.7h0m0.6 51.6h0m0.2-47.8h0m0.4 0.5h0m-0.1-0.4h0m-0.2 52h0m0.7-0.2h0m-0.5-4.8h0m0.3 3.7h0m0.4-47.4h0m0.5-0.4h0m0 3.5h0m0-0.6h0m-0.1 45.9h0m-0.3-2h0m0.7 1.4h0m0.1-0.1h0m-0.8 3.1h0m1.3-52.4h0m-0.1-0.3h0m0.2 5.6h0m-0.2-1.8h0m0.1 43.6h0m-0.1 1h0m0.1-1h0m0.4-0.5h0m-0.4 7.2h0m1.6-53.6h0m-0.4 5.4h0m-0.5-6h0m-0.1 47.4h0m0.7 3h0m-0.5-4.4h0m0-46.6h0m0.1-13.3h0m1 16.5h0m0.5-2.1h0m0.2-0.8h0m-1 4.9h0m0.8 50h0m-0.4-3.8h0m0.4 3.4h0m-0.5-3.3h0m1.5-39.8h0m-0.4-1.9h0m-0.1-3.5h0m-0.3 0.2h0m0.8 52.8h0m-0.8-4.1h0m0.1 0.6h0m0.3 2.4h0m0 5.2h0m0.8-55.4h0m-0.2 3.5h0m0.2-1.8h0m0 0.9h0m0.5 41.9h0m0-1.2h0m-0.1 2.1h0m-0.6-56.3h0m0.4 61.5h0m1.2-43.6h0m-0.5 1.8h0m0.7-3.8h0m-0.6 37h0m0 3h0m0.4-0.3h0m0-1.9h0m0.2 7.5h0m0.9-47.7h0m0.2-2.1h0m-0.4 3.4h0m-0.5 36.9h0m0.1 4h0m0-5.2h0m1.2-39.8h0m-0.1-2.1h0m-0.1 3h0m0.5 44.4h0m0.2-4h0m0-1.4h0m-0.7 0.7h0m0.3 6.4h0m1.3-53.7h0m0.3-2.6h0m-1 0.1h0m0 50.1h0m0.6 0.2h0m0-3.7h0m-0.2-1h0m0.4-50.3h0m0.2 2.1h0m0.5 3h0m-0.1 1.9h0m0.3 43.1h0m-0.6-0.4h0m0.6-5h0m-0.3-55.4h0m0.4 1.6h0m0.7 12h0m-0.2-1.9h0m0-0.1h0m0.6 47.6h0m-0.3-2.6h0m-0.6 3.5h0m0.2-52.2h0m0.6 53.1h0m0.4-54.1h0m0.7 4.9h0m0-3.3h0m-0.8 46h0m-0.1-1.8h0m0.9 5.3h0m-0.6-56.1h0m1.2-1.9h0m-0.3-2.2h0m0.2 4.3h0m0.1-3.7h0m-0.1 48.5h0m-0.2-1.6h0m-0.1 4.1h0m0.8-1.7h0m-0.9 5.3h0m1.3-66.8h0m0.6-1h0m-0.4-3.2h0m-0.4 51.6h0m0.8 2.4h0m-0.7-0.4h0m0.6-1.4h0m-0.6 2.2h0m0.5 1.6h0m0.2 1.6h0m-0.2 1.6h0m-0.4 1.6h0m0.2 1.6h0m-0.2 1.6h0m-0.2 1.9h0m-21.2-5.8h0m-0.9 9h0m0.7-33.1h0m-0.7 26h0m0.5-20h0m0.3 20.6h0m-0.3-6.2h0m-0.5 18.1h0m0.1-5.2h0m0.5-25.4h0m-0.2-1.2h0m-0.1 21.1h0m0.4-7.8h0m-0.2 8.6h0m1.3 10.9h0m0-13.7h0m0 8.7h0m-0.2 4.4h0m0-37h0m-0.4 19.2h0m0.6-6.3h0m-0.4 15.5h0m0.3 12.7h0m-0.6-2.5h0m0.5-25.9h0m0.1 1.3h0m0.1-7.2h0m0.4-0.2h0m0.7 24h0m-0.3-12.5h0m-0.2-13.8h0m0.4 33h0m-0.4-19.8h0m0.3 9.3h0m-0.7 16.3h0m0.4-13.2h0m0.3-8h0m-0.3 7.2h0m0-5.9h0m-0.2-12.4h0m18.5-9.6h0m-0.5 35.4h0m0.6-19.4h0m-0.1 14.7h0m0-10.2h0m0.2-35.1h0m-0.9 27.9h0m0.8-9.9h0m-0.6 27.2h0m0.6-0.6h0m-0.5-23.4h0m0.2 28.9h0m-0.1-35.9h0m-0.4 1.9h0m0.6-9.3h0m0.4 28.7h0m0.1 1.3h0m0.4 2.5h0m0.1-10h0m-0.2-34.5h0m-0.1 14.4h0m0 25.1h0m0.4-33.4h0m-0.1 30.9h0m-0.3 0h0m-0.2-26.6h0m-0.1 36.1h0m0.8-17.3h0m-0.7 6.6h0m0.8-17.9h0m-0.8-16.4h0m1.7-16.6h0m-0.5 38.1h0m0.2-37.8h0m-0.4 45.7h0m0.6-39.2h0m-0.6 8.1h0m0.4-1h0m0.3 28.4h0m-0.1 5.5h0m-0.5-37.3h0m0.4-12.5h0m-0.1 21.6h0m0.1 8.2h0m-0.4-27.3h0m0.5 38.3h0m-0.4-31.9h0m0.2 30.6h0m11 0.6h0m-0.4-3.7h0m0.3-1.2h0m0.2 41.6h0m-0.8 1.9h0m0.2 0.7h0m0.3 1.9h0m0.2 1.6h0m0.8-44h0m0.2 2h0m-0.7 1.4h0m0.6 45.5h0m0-3.1h0m-0.1-1.4h0m-0.3 7.8h0m1.6-41.7h0m-0.6 3.4h0m0.2-2.4h0m0.1-0.8h0m0 47.5h0m-0.2-2.5h0m-0.2-1.2h0m0.1 1.4h0m0.5-46h0m-0.6 49.3h0m0.9-46h0m0.8 4.8h0m-0.9-4.1h0m0.1 49.4h0m0.5-3.3h0m-0.4-1.6h0m0 6.2h0m0-52.1h0m0.7 50.8h0m-0.3 1.6h0m-0.3 1.6h0m1.7-50.9h0m-0.8 3.7h0m0.5-2.7h0m0.3-1.3h0m-0.9 51h0m0.3-5.6h0m-0.2 2.3h0m1.6-48.3h0m-0.6 2.3h0m0.4 0.1h0m-0.4-4.2h0m0.7 48.3h0m-0.8-2.4h0m0.2-0.4h0m-0.2 6h0m0.5-51.8h0m0.4-1.6h0m-0.2-1.6h0m0.7-1.6h0m-1.1-1.6h0m0.5-1.6h0m1.1 7.2h0m-0.1-5.7h0m-0.5 3.4h0m0.5-3.5h0m-0.5 43.3h0m0.2 3.8h0m0.2-2.5h0m-0.7-49.3h0m0.9 53h0m-0.7 12h0m1.3-60.6h0m0.3-1.9h0m-0.3 2.8h0m0.2 1.1h0m-0.3 31.9h0m0 3.4h0m0.4-0.1h0m-0.1-5.1h0m-0.2-38.1h0m0.3 45.1h0m0.7-46.9h0m0.2-1h0m-0.2-2.2h0m0 1.4h0m0.3 34.9h0m-0.7 4.6h0m0.3-3.5h0m1.2-38.8h0m-0.7 0.7h0m0.4 5.9h0m0 24.8h0m0 1.5h0m0.2-1.6h0m0.2 8.7h0m0.7-35.8h0m0.3-1h0m-0.4-2.3h0m-0.2 29.9h0m0.6 1.1h0m-0.7-0.8h0m1.1-36.4h0m-0.1 4.4h0m0.8 0.9h0m-0.7 29.1h0m0.7 0.5h0m-0.1-2.2h0m0 1.9h0m0.5-25.2h0m-0.1-2.9h0m0 2.6h0m0.2 32.2h0m-0.3-1h0m0.2-0.6h0m0.6 5.4h0m-0.9-44h0m0.7 53.4h0m-1.2-48h0m0.3-1.6h0m2.1 13.8h0m-0.6 2.8h0m0.3 3.3h0m-0.2 21.6h0m-0.3 2.1h0m0.4 3.9h0m-0.2-35.1h0m-0.2 35.3h0m1.9-19.7h0m-0.6 3.1h0m0.4-3.3h0m-0.8 25h0m1 4.6h0m-1-6.1h0m0.9 1h0m0.6-21.8h0m0.1-2.6h0m0.2-0.1h0m-0.5 22h0m-0.1 5h0m0 0.1h0m0.4-3.1h0m0.3-26.3h0m-0.4 31.7h0m-0.1-2.4h0m-0.4 1.6h0m0.6 1.6h0m1.1-27.6h0m0.1-4.2h0m0-0.9h0m-0.6 5.2h0m0 30.8h0m0.4-4.5h0m-0.5-1.9h0m0.1 6.2h0m0.9-39.3h0m0.7 4.3h0m-0.2-1.6h0m0.4-0.3h0m-0.8 37.9h0m-0.1-4.6h0m0.7 3.1h0m0.2 1.1h0m-0.2-45.3h0m-0.6 51.3h0m1.5-44.2h0m0.2 6.1h0m0-2h0m-0.7 0.7h0m0 32.5h0m0.8 0.5h0m-0.8 2.5h0m0.5-2.6h0m0.1 8.3h0m0.7-45.4h0m-0.8-1.6h0m0.3-1.6h0m0 2.8h0m0.6-4.2h0m-0.5 1h0m0.3-1.5h0m0 37.3h0m-0.4 1.4h0m0.3 4.5h0m0.3-47.1h0m0.2 50.5h0m0.5-4.3h0m-0.7 1.6h0m0.5 1.6h0m0.2-50.1h0m-0.3 2.8h0m0.3 1.1h0m0.7 36.9h0m-0.6 3.2h0m-0.3-2.9h0m0.2 1.2h0m0.1 3h0m-19.4-18.4h0m-0.9-0.5h0m0.2-11.5h0m0.4 12.6h0m-0.4-15.7h0m0.6-9.6h0m-0.3 22.7h0m0-33.6h0m0.3 27.7h0m-0.7-26.5h0m-0.1 23.7h0m0.1 16.7h0m0-24.9h0m0.1 20h0m1.1-2.2h0m-0.2-2.8h0m0 5.6h0m0.7-28.6h0m-0.2 21.6h0m-0.4 14h0m0-10.6h0m-0.1-13.1h0m0.5-16.8h0m-0.4 20.5h0m0-16.9h0m-0.1 3.5h0m0.5 10.3h0m-0.2-13.1h0m-0.1 25.4h0m-0.1 14.7h0m1.5 0.1h0m-0.7 3.4h0m-0.1-16.8h0m0.4-13.8h0m0.3-1.8h0m-0.4-6.2h0m0.6 22.2h0m-0.3-3.1h0m0.2 25.5h0m0 0.4h0m0.1-17.2h0m0.1-13.4h0m-0.6 20.5h0m0-17.8h0m0.5-16.4h0m15.5 21.5h0m0.1-15.3h0m-0.1 4.8h0m0.4 25.8h0m-0.6-18.2h0m-0.1 26.9h0m0.9-8.4h0m-0.9-28h0m0.2 6h0m-0.2 26.1h0m0.5-16.9h0m-0.6-2.3h0m0.6-0.6h0m1.1-15h0m-0.5 13.1h0m0.1 0.5h0m0.7 21.2h0m-0.3-16.9h0m0.1 5.5h0m-0.8-3.1h0m0.5-21.9h0m0.2 20.4h0m0-16.4h0m0.1 13.2h0m0-2.8h0m-0.6-14.8h0m1.7 4h0m-0.6 8.3h0m0.4 7.2h0m-0.5 4.8h0m0.5-31.2h0m0.1 2.4h0m-0.1 12.9h0m0.3 1.9h0m-0.5-15.5h0m0 26.6h0m0.3-14.1h0m-0.5 5.2h0m-0.2 4.2h0m13.8-99.8h0m0.2 5.5h0m-0.7 0.4h0m0.8-5h0m-0.9 70.9h0m0.9-2.1h0m-0.9 2.4h0m0.3-1.7h0m-0.2-71.7h0m-0.2 76.8h0m1.9-58.8h0m-0.1-0.6h0m-0.4-4h0m0.1 1.1h0m0.1 61.4h0m0 2h0m-0.4-3.6h0m0.7 1.9h0m-0.4-65h0m1.5 17.4h0m0-2.3h0m-0.6-3.5h0m-0.2 1.9h0m0.8 51.1h0m-0.6-0.8h0m-0.3 3.7h0m0.9-5.5h0m-0.9-58.6h0m1.4 9h0m-0.8-1.6h0m0.1-1.6h0m0.1-1.6h0m-0.4-1.6h0m-0.2-1.6h0m0.7-1.6h0m0.3 28.1h0m-0.2 1.8h0m0.4-4.7h0m0.1 4.4h0m-0.2 33.3h0m-0.1-1.5h0m0 0.8h0m0.8-24.8h0m0.1 1.6h0m0.8 0.4h0m-0.7-0.7h0m-0.3 30.8h0m0.2-1.3h0m-0.1-2.4h0m0.4 4.3h0m-0.1-33.4h0m0.1-1.6h0m-0.3-1.6h0m1.1 10.1h0m0.3-4.9h0m0.2 1h0m0.2 2.4h0m-0.4 32h0m-0.2-0.9h0m0.2-1.2h0m0 7.7h0m1.3-38h0m-0.5 4h0m0-3.5h0m0.3 30.6h0m-0.2 5.4h0m-0.2-2.2h0m0.3-2.2h0m1.4-35.7h0m-0.7 6.4h0m0.1-1.8h0m0.6-2.3h0m-0.6 32.1h0m0-1.5h0m-0.3 2.2h0m0 2.6h0m1-28.6h0m0.3 0.1h0m-0.2-2.4h0m0.8-3.4h0m-0.4 26.2h0m0 2.4h0m-0.3-0.8h0m-0.1-35h0m0.7 39.4h0m0.6-24.8h0m0.1-5.3h0m-0.1 5.8h0m0.1 25.8h0m0.2-2.2h0m-0.6-0.9h0m0 3.7h0m0.2 3h0m0.8-28.1h0m0.4-1.6h0m-0.5-0.7h0m0 2.9h0m0.7 23.3h0m0 1.7h0m-0.3-0.7h0m0.2-0.7h0m0.3 7.8h0m-0.4-34.3h0m-0.5-1.6h0m0.6-1.6h0m0.6 4.1h0m0.5-0.4h0m-0.2 2.4h0m0.2 35.1h0m-0.6-4.4h0m0.6-0.2h0m-0.6-38.9h0m1.8 10.8h0m-0.2-2.8h0m0.2 1.8h0m-0.6 2.5h0m0.5 32.7h0m-0.6 1.8h0m0.2 0.5h0m-0.3-42.7h0m1.6 8.2h0m-0.6-0.8h0m0.5 3.7h0m-0.1 29h0m0-1.1h0m0.2-0.4h0m-0.5 1.1h0m0.4 11.8h0m1.1-36.9h0m-0.3-2.8h0m-0.1 4.4h0m0.5-5.8h0m0.1 31.3h0m-0.5-1.9h0m0-1.1h0m0.2-29.8h0m1 6.4h0m-0.6-0.1h0m0.5 2.6h0m0-4.3h0m-0.1 30.3h0m0.2 3.6h0m-0.1-5h0m0.2 6.6h0m1-25h0m-0.2-3.1h0m-0.2 2.7h0m0.2 0.5h0m-0.4 26h0m0 3.9h0m0.2-3.9h0m0.4 2.3h0m-0.5-34.5h0m0.3 37.6h0m1.1-22.5h0m0.3-6h0m-0.4 4.1h0m0.4 2h0m-0.4 20.3h0m0.3 2.9h0m-0.7-1.7h0m0.3-27.9h0m1 14.4h0m-0.3-4.3h0m0.4-0.9h0m0.2 2h0m-0.1 20.6h0m-0.3-2.9h0m0.5 3.1h0m-0.7-1.9h0m1 3.5h0m-0.4 1.6h0m0 1.6h0m0.1 1.6h0m-0.4 1.6h0m0.1 1.6h0m-0.4 1.6h0m1.4-37.3h0m-0.3 0.8h0m0.1 3.8h0m0.6 18.4h0m-0.5-4.1h0m-0.3 0.1h0m0-19.1h0m0.1 27.2h0m0.9-31.3h0m0.3-2.5h0m-0.3-1.9h0m0.5 1.2h0m-0.5 23.5h0m0.5 1.6h0m0.1 0.1h0m-0.5-0.7h0m0.9-35.8h0m0.4-0.3h0m-0.3 4.3h0m0.7 28.6h0m-0.2 1.4h0m-0.3 0.3h0m0-4.7h0m-0.2-37.4h0m0 47.1h0m1.3-53.9h0m0.4-1.1h0m0 2.7h0m-0.3 38.7h0m-0.3 1.6h0m-0.3-1.4h0m0.2 0.9h0m0.1-44.4h0m0.4-7.4h0m-22.3-38.2h0m0.3 23.1h0m-0.4-2.6h0m0.6-13.3h0m-0.9-5.2h0m0.9 41.4h0m-0.1-37.4h0m0 2.4h0m-0.6 53h0m0.6-41.4h0m-0.5-18.8h0m0 12.2h0m-0.3 6.6h0m0.4-15.2h0m-0.4 20.1h0m0.3 26.6h0m0.2-48.7h0m0.4 50.2h0m0-10.9h0m-0.5 5.5h0m0.4-7.7h0m-0.3-5.4h0m0.1-9.4h0m0.9 22.1h0m-0.5-34.5h0m0.9 24.7h0m-0.3 13.2h0m0.2-46h0m-0.7 51.1h0m0.3-10.9h0m-0.4-32.4h0m0.2-8.3h0m-0.2 12h0m0.9 39.2h0m-0.6-5.8h0m0.4-35.6h0m-0.7 21.4h0m0.1-22.1h0m0.7 26.9h0m-0.5 15.8h0m0-50.7h0m-0.2 6.5h0m0.3 29h0m1.4 19.3h0m-0.4-27.2h0m-0.1 20.3h0m0.4-33.1h0m-0.6 46.2h0m0.3-43.6h0m-0.2 36.9h0m0.3-1.9h0m-0.5-28.9h0m0.4 20.7h0m0.2-16.2h0m-0.6-17.8h0m0.8 49.9h0m-0.8-38.3h0m0.4 11.3h0m-0.3 4.1h0m0.3 24.2h0m17.9 9.1h0m0.6 21.7h0m-0.9-4.7h0m0.2-19.3h0m-0.1 27.8h0m0-25.9h0m0.8 25.9h0m-0.8-2.9h0m0.7-25.2h0m-0.2 13.2h0m1.2 7.8h0m-0.8-16.1h0m0.3 18.8h0m0.3-19.8h0m0.1 4.7h0m-0.5-6.5h0m0.5 6h0m-0.3-16.7h0m-0.3 10.8h0m0.3-2.3h0m0.3 22.4h0m0.3-43.9h0m0.2 17.2h0m-0.2 1.9h0m0.7-4.3h0m-0.2 6.6h0m-0.5-4.4h0m0.3-18.5h0m-0.1 2.2h0m-0.1 34.4h0m0.3-18.4h0m0-16.7h0m-0.3 20.2h0m0.8-8h0m11.7-70.5h0m0.1 1.4h0m-0.9-0.5h0m0.2 40.2h0m0.1 0.4h0m0.5 1.9h0m-0.1 2.9h0m0-1h0m1-31.1h0m-0.2-0.3h0m0-1.7h0m0.3 33.2h0m0.1 2.4h0m-0.2-0.8h0m-0.6-39.7h0m0.2 42.5h0m0.7-39.5h0m0.5 0.8h0m-0.3 1.3h0m0.2 33.6h0m-0.2-0.1h0m-0.2 1.2h0m1.4-28h0m0.1-4.4h0m-0.2 6h0m0.1 33.4h0m-0.1 2.4h0m0 0.8h0m-0.1-1.6h0m1.4-36.3h0m0.1-2.7h0m0.1 2.5h0m-0.5 39.6h0m0.6-1.1h0m-0.6-2.4h0m1.5-27.3h0m0-0.4h0m-0.1 1.2h0m-0.7-6.3h0m0 44.7h0m0.5-1.3h0m-0.1-0.8h0m0.3 1h0m-0.1 1.6h0m-0.3-52.5h0m1.1 17.2h0m0.1-0.7h0m-0.4-1.2h0m0.6 39h0m-0.1-3.3h0m-0.4-2.9h0m-0.1-35.4h0m0.5 43.8h0m0-2.6h0m0.1 1.6h0m-0.6-44h0m1.1 7.8h0m-0.2 0.8h0m0.2-2.1h0m0.3 38.2h0m0-1.1h0m-0.1 3.5h0m0.7-29.4h0m0 0.9h0m0.1 2.4h0m-0.1-1.3h0m-0.2 26.4h0m0.9-0.6h0m-0.3 1.6h0m1.2-24.1h0m-0.7 1.3h0m0.7 1.5h0m-0.3-1.2h0m0.5 24h0m-0.1 4h0m-0.4-1.8h0m0.2-0.1h0m0.4-20.5h0m0-2.9h0m0.7 4.4h0m-0.6 22.4h0m0.1 1.3h0m0.3-2.5h0m0.3-2.5h0m-0.1 13.1h0m1.2-34.6h0m-0.7 3.1h0m0 2.3h0m0.7 0.3h0m-0.1 27h0m-0.6-5.2h0m-0.1 5.6h0m0.4 3.7h0m0.2-36.8h0m0.3-1.6h0m0.9 11h0m-0.9-2.2h0m0.6-0.7h0m-0.3 2.5h0m0.2 22.4h0m0 1.6h0m0-0.5h0m-0.6-3.9h0m0.3-31.4h0m0 39.3h0m-0.2-3.6h0m-0.5 1.6h0m0.6 1.6h0m0.5 1.6h0m-0.6 1.6h0m-0.2 1.6h0m0.4 1.6h0m1.3-27.6h0m-0.2-0.4h0m-0.2 0h0m0.1 0.8h0m-0.2 25.2h0m0.7-0.7h0m-0.4 1.8h0m0.1-2.1h0m-0.3 5.4h0m1.2-30.5h0m0.1-2.7h0m0.2 4.5h0m-0.2 1.2h0m0.5 26.6h0m0-3.8h0m-0.1 1.2h0m0 5.4h0m0.3-32.8h0m0.1 0.2h0m0.2 2.4h0m-0.3 32.8h0m0.4-1.3h0m-0.2 1.2h0m0.3-1.9h0m0.2-42.2h0m-0.7 47.6h0m-0.1-51.2h0m1 17.5h0m0.5 2.9h0m-0.3-0.7h0m0.4-2.8h0m0.3 24.1h0m-0.8-0.3h0m0 2.8h0m-0.1-30.4h0m0.4 34.3h0m1.4-22.9h0m-0.2-1.4h0m-0.5 0.2h0m0.4 29.6h0m-0.3 0.3h0m-0.2-0.7h0m0.3-0.5h0m0.8-30.7h0m0.1-0.3h0m0.3 5.2h0m-0.5 33.5h0m0.8-2.4h0m-0.6 1.2h0m0.1 4.3h0m1.5-40.4h0m-0.7-0.7h0m0.8 4.1h0m-0.2 1.6h0m-0.1 34.2h0m0.2 0.1h0m0.1 1.6h0m-0.6 5.1h0m-0.3-49.5h0m0 51.5h0m1.5-51.4h0m-0.4 0.4h0m-0.1-2.9h0m0.1 6.4h0m0.4 31.6h0m0.1 3h0m-0.3 0.7h0m0.4-47.6h0m-0.6 50h0m1.3-42.9h0m-0.1-2h0m0.3 1.5h0m0.1 26.6h0m-0.3-0.3h0m0.1-0.5h0m0.2-0.6h0m-0.3 4.9h0m-21.3-89.6h0m0-8.6h0m0 15.6h0m-0.1 15.4h0m0.3-28.3h0m0.1 0.7h0m0.2 16.5h0m-0.4 1.9h0m-0.2-11.3h0m0.8 19.8h0m-0.5-37.8h0m0.5 33.6h0m-0.6-15h0m0.1-6.1h0m1.5 33.5h0m-0.6-2.3h0m0.3-27.3h0m-0.2 27.3h0m0.6-11.1h0m-1 6.5h0m0.9-19.7h0m0.1 25.1h0m-0.4 2.9h0m-0.3-28.8h0m0.5-3.5h0m0.2 8.4h0m-0.4 14h0m0.4 0h0m0.9-19.8h0m-0.7 19h0m0.1-24.9h0m0.5 14.1h0m-0.7 9.5h0m0.2-5.5h0m0.3 20h0m0-23.1h0m0.2 22.1h0m-0.7-33h0m0 20.1h0m17.2 66.2h0m0.1 3.3h0m-0.1 12.2h0m0.1-0.8h0m0-0.5h0m-0.3-32.3h0m0.4 4.5h0m-0.2 35h0m0.2-16.3h0m-0.4 11.5h0m0.3-8.8h0m0.4-22h0m0 36.8h0m0.1-42h0m0 32.4h0m0.6-5.6h0m0.1-10.2h0m0.2 2.7h0m0.2-7.8h0m-0.6 12.4h0m-0.3-6.9h0m0.9 10h0m-0.6-26.1h0m-0.1 28.4h0m0.3 3.8h0m0.1-15h0m0.3-3h0m0.4-10.9h0m0.5-14.7h0m-0.2 18.1h0m-0.3-16.2h0m0.1 15h0m-0.1-3.3h0m0.4-7.7h0m-0.1 10.3h0m-0.2-11.6h0m-0.2-2.8h0m13.1-41h0m0.1 1.3h0m0.2-1.5h0m-0.6 36.6h0m0.5-1.5h0m-0.1 1h0m0.8-35.2h0m-0.2 0.5h0m0.8-4.4h0m-0.1 35.4h0m-0.6-0.5h0m0.2-1.4h0m-0.3 0.1h0m0.2-43.2h0m0.5 56h0m0.5-37.1h0m0.3 1h0m-0.1-2.2h0m-0.4 2.2h0m0.8 25.6h0m-0.7-2.7h0m0.3 1.2h0m0.5 4h0m-0.1-34.6h0m-0.2 39.2h0m0.3-55.3h0m0.9 20.5h0m-0.5-0.8h0m0.1-1.8h0m-0.2 5.8h0m0.6 21.4h0m-0.3 3.7h0m-0.3-1.8h0m-0.1 0.7h0m0.5-35.9h0m-0.3 43.9h0m1.5-42.4h0m-0.3-2.1h0m0.2-0.1h0m-0.2 6.4h0m0.4 32.2h0m-0.9-4.9h0m0.8 2.2h0m-0.2 0.2h0m-0.4-38.2h0m-0.1 3.1h0m0.7-1.6h0m0.6 2.5h0m0-5.7h0m0.5 5.8h0m-0.4 0.9h0m0 33.8h0m0.1 3.7h0m-0.4 0.3h0m0.2-45h0m0.1 44.7h0m-0.7-43.5h0m1-14.2h0m1.1 13.9h0m0 4.7h0m-0.4 0.8h0m-0.4 41h0m0.6-2.3h0m-0.2 3.7h0m0.3-49.3h0m0.1 60.7h0m0.9-52.7h0m-0.3 3.2h0m0.2 2.8h0m-0.4 31.5h0m0.1 4.3h0m0.5-3.4h0m-0.7 3.4h0m-0.1 2.9h0m1.3-36.1h0m0.2-1.5h0m0.3 0.6h0m0 38.6h0m-0.9-1h0m0.5-2h0m-0.2 2.7h0m1.6-36.2h0m-0.4 2.9h0m0.4-0.4h0m-0.5-5.6h0m0.1 39.2h0m-0.1-0.6h0m0.4-3.1h0m-0.2 17.5h0m1.4-50.9h0m-0.9 2.2h0m-0.1 2.5h0m0.6 34.8h0m0.1-3h0m-0.3 1.6h0m-0.2-3.7h0m0 6.5h0m1.7-33h0m-0.4-3h0m0.3 3.2h0m0.2-3.2h0m-0.3 33.8h0m0.1 0.6h0m0.1-1.4h0m-0.1 5.9h0m1-37.6h0m-0.8 1.6h0m0-2.5h0m0.3 0.5h0m0.4 35.3h0m-0.7-0.2h0m0.2 3h0m0.4-39.9h0m-0.4 44.6h0m0.8-37.7h0m0.2 2.2h0m-0.2-1.2h0m0 33.5h0m0.4-1.8h0m-0.2-1.4h0m0-32.3h0m-0.2 43.8h0m1.8-33.6h0m0 4.1h0m-0.3-1.3h0m-0.2 0.3h0m0 26.8h0m-0.2 2.2h0m-0.1-6h0m0.8 0.4h0m-0.2 4.9h0m0.8-21.7h0m-0.4 0.6h0m0.6-4.5h0m0.3 1.7h0m-0.6 25.6h0m0.1 3.1h0m-0.1 0.2h0m0.1-6.1h0m0.1-25.1h0m0.2 31.5h0m-0.6-1.2h0m0.3 1.6h0m0 1.6h0m-0.1 1.6h0m-0.4 1.6h0m0.2 1.6h0m1.3-31.4h0m0.4 2.5h0m-0.6-1.7h0m0.2 1.4h0m-0.4 30.7h0m0-4.8h0m0.1 3.6h0m0.1 2.5h0m-0.2-34.1h0m0.5 35.9h0m0.6-26.9h0m0.8-6.1h0m-0.6 6.2h0m0 27.3h0m0.1-1h0m0.4-2.6h0m-0.2 4.3h0m-0.2-36.5h0m1.3 6.6h0m-0.3 0.2h0m-0.1 3.7h0m-0.1 0.6h0m0.6 29.2h0m0.1-4.4h0m-0.3 4.5h0m-0.2-1.7h0m0.5 1.4h0m1-29.7h0m-0.9 2.5h0m0.4-2.4h0m0.2 26.8h0m-0.2 5.7h0m-0.4-6.2h0m1.2-33.1h0m0.7-4.5h0m-0.8 0.7h0m0.4 33.4h0m0.1-1.8h0m-0.5 2.3h0m0.5 3.7h0m-0.4-44h0m0.5 43.5h0m1-37.5h0m-0.6-2.5h0m0.7 3.9h0m-0.5 0.5h0m-0.1 31.1h0m0.4 1.8h0m-0.4 0.6h0m0.6-2.9h0m-0.1-38.9h0m-21.4-1.7h0m0.6-3h0m-0.4-30.7h0m0.2 0.7h0m-0.3 4.3h0m-0.3 22.6h0m0 5.1h0m0.1-29.6h0m0.6 13.9h0m-0.3 17.6h0m-0.5-25.9h0m0.4 14.1h0m1-15.1h0m-0.4-6.9h0m0.7 21.6h0m-0.2 6.4h0m-0.3-15.3h0m0.7-8.2h0m-0.6 4.8h0m0.5 4.7h0m-0.2-13.2h0m-0.3 3.5h0m-0.2-5.8h0m0.2 21.5h0m1.4 16.2h0m-0.3-24.7h0m0.2 17.2h0m-0.4-22.2h0m0.5 22.6h0m-0.4-2.1h0m-0.1-3h0m0.1-12.9h0m0.2-3.9h0m0.3 1h0m-0.1 3.1h0m16.6 51.3h0m0.6-2.3h0m-0.4 16.8h0m0.1-2h0m-0.1-11.5h0m0.1-3.8h0m0.2 20.1h0m-0.2-13.3h0m-0.1-10.6h0m0.1-0.3h0m0.4-2.4h0m0.2-9.8h0m0.4-1.9h0m-0.5 28.8h0m0.3 3.2h0m-0.1-24.7h0m0.3-6.6h0m0 21.6h0m0.3 14h0m-0.9-9.4h0m0.8-7h0m1-1.5h0m0 7.4h0m-0.7-21.9h0m0.8 22.3h0m0-9.1h0m-0.3 16.5h0m0-23.9h0m-0.5 0.9h0m-0.1 17.8h0m0.6-26.2h0m-0.4 11.2h0m0.1 12.7h0m12.1-42.4h0m0-1.2h0m-0.4 0.9h0m0.5 38.5h0m0 1.4h0m0.4 3.1h0m-0.2-53.1h0m0.7 8.2h0m-0.3-0.4h0m0.2-1.7h0m0.1 45.3h0m-0.3-5.6h0m0.7 5.2h0m-0.5 0.3h0m0.1-52.9h0m0.7 2.2h0m0.6-2.4h0m0.1 2.3h0m-0.2 37.5h0m-0.6-1.2h0m0.6 1.2h0m-0.4-40h0m1.5 4.1h0m0.2-2h0m-0.3 0.6h0m0.2 34.1h0m-0.4 3.2h0m0 1.4h0m-0.3 1.2h0m0.1-45.3h0m-0.1 3.9h0m0.4-1.6h0m-0.5-1.6h0m0.6-1.6h0m-0.6-1.6h0m0.2-1.6h0m-0.2-1.6h0m1.5 10.1h0m-0.2 1.8h0m0.3 1.5h0m-0.3 0h0m0.6 31.9h0m-0.7-1.6h0m-0.2 0.6h0m0.8 2.7h0m-0.8-39.8h0m0-5.9h0m1.5 10.6h0m0-0.2h0m-0.6 3.2h0m0.2 35.4h0m0.5-3.6h0m-0.2 4.8h0m0.5-41.8h0m0.3 6.1h0m0.3-3.3h0m-0.1-0.4h0m0 6.2h0m0.1 25.9h0m-0.3 0.3h0m0.2 2h0m-0.4-38.4h0m0.9 38.7h0m1-25.9h0m-0.6-4.7h0m0.1 1.5h0m-0.4 0.1h0m0.6 23.8h0m0.2-2.4h0m-0.4 5.4h0m0.4-1.4h0m-0.6 3.1h0m0.8-32.8h0m0.5 3.4h0m-0.5-4.7h0m0.2 29.6h0m0.2-2h0m-0.1-1.1h0m0.4-0.2h0m0.1-32.5h0m0 37.8h0m0.4-30.8h0m0.6-1.6h0m-0.4 4.5h0m-0.3 21.2h0m0.7 5.3h0m-0.5-6.5h0m-655-60.2h0m0.2 0.3h0m-0.9 21.3h0m-0.3 9.1h0m0.9-29.1h0m-0.2 30h0m0.1-28.5h0m0.1-25.8h0m0.1 39.1h0m-0.3 15.2h0m-0.8 22.1h0m0.5 2.2h0m0.3-65.8h0m0.5 49h0m-1.1 0.6h0m1.4-31.1h0m0.4 1.3h0m-1-19.6h0m-0.2 64.2h0m-1.1 19.8h0m0.9-29.5h0m0.2-17.8h0m-0.6 4.9h0m-0.1 28.5h0m0.9-62.7h0m0.6-13.4h0m-0.7 61.8h0m-0.3-27.6h0m-0.2-26.1h0m-0.1 67.1h0m0.4-51.2h0m0.6-4.5h0m-0.7 15.3h0m-0.3 26h0m0.1-3.9h0m0.4-63.5h0m0.7 23.3h0m-0.9 71h0m0.5-88.8h0m0.3-2h0m-1 72.9h0m1.4-61.8h0m-1.2 46.2h0m0.1 2.5h0m0.1-61.9h0m-0.1 0.1h0m0 68.3h0m-0.2-13.8h0m-0.5 1.1h0m0.8-1.5h0m1-28.8h0m-0.9 33.2h0m-0.5 21.5h0m0.8-81.3h0m-0.8 82.4h0m0.5 3.3h0m0.1-47h0m-0.9 38.7h0m0.8-70.9h0m-0.4 79.3h0m-0.1-50.5h0m-0.6 59.4h0m0.6 2.5h0m1-94.1h0m28.8 98.3h0m1.2-20.7h0m-1.7 43.6h0m0.6-16.5h0m3.6-74.5h0m1.8-30h0m-2.3 43.3h0m-1.1 11.9h0m2.5-41.1h0m-1.9 35.4h0m1.2-18.3h0m-1.9 20.2h0m3.3-47.7h0m-5 94.9h0m0.8-21.9h0m1.6-33.6h0m1.3-9.5h0m-2.9 52.8h0m-0.7 7.2h0m-1.4 18h0m1.7-39.4h0m0.3 17.3h0m3.1-51.4h0m-5.3 75.7h0m1.4-23.1h0m-1.8 31h0m4.7-76.6h0m2.3-42.1h0m-2.6 37.6h0m-0.3-4.7h0m3-36.9h0m-0.5 2.4h0m-4.1 81.2h0m0.6-8.2h0m3.1-57h0m-3.9 71.5h0m0-8.4h0m0.8-2.7h0m3.4-69.4h0m-3.9 65.9h0m1.6-17.1h0m-0.8 11.4h0m1.9-29.8h0m0.7-23.1h0m-4.4 85.9h0m1-25.1h0m2.3-33.8h0m-2 48.3h0m2.6-81h0m-1.8 43.7h0m-1.7 49.7h0m4.1-94.3h0m-2.1 35.4h0m-1.4 34.7h0m2.6-46.4h0m-3.4 62.4h0m0.7 2.5h0m-0.9 7.1h0m0.7-7.1h0m-0.9-7.2h0m0.8-3h0m3.6-60.3h0m-2.2 36.1h0m-2.9 57.9h0m1.6-21.5h0m3.8-78.9h0m0.4-16.9h0m-2.3 49.9h0m1.9-33.3h0m-4.5 81h0m0.9-12.7h0m0.1-15.5h0m3.7-58.9h0m-2.9 58.8h0m2.2-34.8h0m0.1-9.2h0m-0.8 12.1h0m-4.2 74.3h0m5.8-97.6h0m-3.2 45.4h0m-1 24.1h0m0.4-15.4h0m0.3 11.3h0m-0.8 4.7h0m-1.8 32.1h0m7.4-122.9h0m-3.7 63.2h0m0.4-16.6h0m1.5-25.7h0m-5 95.6h0m-0.5 7.5h0m1.4-24.5h0m2.2-56.7h0m-1.5 43.9h0m0.1 0.2h0m2.8-54.4h0m35.6-20.6h0m-2.4 56.1h0m1.7-52.1h0m-0.3 27.8h0m-0.1-10.8h0m0 13.8h0m-0.5-7.4h0m0.3-15.6h0m-0.2 31h0m-0.2-3.4h0m-0.4 24.2h0m-0.4 17.1h0m0.8-36.3h0m0.5-30.2h0m0.3 22.3h0m-1 34.6h0m0.4-21.6h0m-0.3-0.2h0m1.4-42.8h0m-1.5 65.4h0m0.5-53h0m-0.2 18.2h0m-0.2-5.9h0m0.3-0.3h0m1.5 2.8h0m-1.5-0.6h0m-1.2 43.6h0m-0.2 0.7h0m1.4-10h0m-0.6-14.2h0m-0.3 20.4h0m0.8-47.2h0m-0.5 17.6h0m0.4 24h0m-0.2-30.7h0m1.1-29.8h0m-0.7 23.5h0m0.2-28.6h0m0.2 20.8h0m0.9-18.2h0m-0.8 2.6h0m-0.1 22.9h0m-0.7 23.7h0m0.2-18.2h0m0.2-16.1h0m0.3 4h0m-0.5 36.2h0m0.4-40.9h0m0.1-5.4h0m-1.3 64.5h0m0.3-9.2h0m0.8-24.1h0m-0.5 24.7h0m-0.1 5.2h0m0.9-70.4h0m-0.5 13.4h0m34.2-9.2h0m-1.5 69.5h0m0.4-21.4h0m0.6-25.9h0m-0.7 39.6h0m-0.2 16.8h0m0.8-37.1h0m-0.3-25.4h0m-0.1 27.1h0m0.6-40.4h0m-0.2 43.9h0m-1.1-10.7h0m0.2 36.9h0m0.3-2.5h0m-0.2-3.6h0m0.8-41.9h0m-0.4 44.3h0m-0.1-32.5h0m1.1-28.3h0m-0.1 33h0m-0.9 28h0m0.1-2.6h0m1-68.8h0m-1 6.3h0m0.6 8.2h0m-0.8 43.3h0m-0.2-6.3h0m1-37.8h0m0.1-11.6h0m0.5 24h0m-1.6 42h0m-0.4-13.9h0m0.4 0.2h0m0.5 22.2h0m-0.2-49.9h0m-0.6 38.8h0m0.8-51.7h0m0.5-12.1h0m-0.7 65.8h0m0.5-27.3h0m-0.1-16.1h0m-0.5 25.4h0m0.5 5.8h0m-0.1-17h0m0.9-25.5h0m-0.6 17.2h0m-0.4 6.8h0m0.3-37.1h0m-0.8 38.9h0m0.5 13.4h0m0.4-56.6h0m-0.6 71.8h0m-0.7-16.1h0m0.7-21.6h0m0.7-17h0m-0.3-4.4h0m32.9 60.6h0m0.5-1.3h0m0-2.5h0m1-50.4h0m-0.5 33.5h0m-0.5-9h0m0.8-14.1h0m-0.2-3.5h0m0.2-8.4h0m-0.4 60.7h0m0.5-65.1h0m0.2 38.3h0m-0.8-2.7h0m0.5-34.6h0m-0.7 44.1h0m0.7-7.7h0m-0.6-10.9h0m0.4-13.5h0m0.1 14.6h0m-0.3 12.9h0m-0.6 6.1h0m0-12.8h0m1-26.7h0m-0.3 35.5h0m-0.2 13.4h0m-0.2 0.3h0m0.2-12.3h0m0.2-19.1h0m0 23.4h0m0.3-30.4h0m-0.1 37.8h0m-0.2 8.5h0m-0.5-20.7h0m0.6-27.9h0m-0.7 1.3h0m0.2 15.1h0m1-28.8h0m-0.4 4.6h0m0.1 22.6h0m-0.8 31.2h0m11-59.1h0m0.2-6.6h0m-0.4 4.5h0m0.1 2.4h0m-111.1-55.6h0m-33.7 22.9h0m11.3 34.3h0m33-1.3h0m33-25h0m34.8 9.2h0m22.7 9.2h0m10.3-1.3h0m0 87.1h0m-82.3 25h0m65.4 5.3h0m-138-19.8h0m38.3 5.3h0m-17.2-9.2h0m34.8 0h0m48.3 14.5h0m-83.6-84.4h0m156.3 51.4h0m0.1-7.6h0m0.6-15h0m0.6-43.7h0m-1 36h0m0.5-41h0m-0.6 32.4h0m0.8-19.1h0m0 24.4h0m-0.2-0.7h0m-0.6 0.5h0m0.9-15.7h0m-0.7 8.7h0m1.7-28.7h0m-1 16.9h0m0.1-18h0m-0.3 9.3h0m-0.2 60.5h0m0.2-61.3h0m-1.2 51.2h0m0.8-14.3h0m0.7-31.1h0m-0.5 26.4h0m0.9-31.4h0m-0.9 47.9h0m-0.5-6.8h0m0.3-53.3h0m-0.2 59h0m0.2-50h0m-0.4 69.8h0m0.5-37.1h0m0.2-6.9h0m-0.6 21h0m0 17.3h0m1 0.5h0m-1.2-15.4h0m0.5-3.9h0m0 24.5h0m0.5-22.2h0m-0.7 21.5h0m-0.4-27.4h0m1.3-35.9h0m0.6-7.8h0m-1.5 3.2h0m-0.2 69.5h0m0.7-71h0m0.2 8.4h0m-0.5 36.1h0m0-23h0m-1 19.3h0m0.9 9.2h0m0-23.1h0m0.4 31.1h0m0.1-60.2h0m1.4-7.5h0m-2.1 58.7h0m33.4 5.5h0m-0.1 6.3h0m0.8-64.9h0m-1 31.3h0m0.5-29.8h0m-0.1 20h0m0.8 6.6h0m-0.8-29h0m1.1 28.1h0m-1.2-10.5h0m-0.2 49.1h0m-0.2-13.2h0m0.7-19.9h0m-0.7 28.8h0m0.6-47h0m-1 18.6h0m1 9.4h0m0.5 5h0m-0.1-4h0m0 0.7h0m-0.1-24.3h0m-0.4 30.8h0m-0.2 4.6h0m0.8-57h0m-0.6 37.6h0m0.6-7.3h0m0.2-6.9h0m0.1-12.9h0m-1.1 61.7h0m0.5-20.5h0m0.2-53.1h0m0 10h0m-0.1 1.9h0m-0.5 2.5h0m0.8 19.5h0m-1 6.4h0m1.5-35.7h0m-0.6 1.8h0m-0.7 17.2h0m-0.1 1.4h0m1.1-22.1h0m0.2 13.9h0m-1 3.1h0m0.2 10.7h0m0.1-17.2h0m-1.5 54.4h0m0.9-21.2h0m0.7-35.8h0m32.4 26.1h0m-0.8 2.9h0m0.2-1h0m1.2-25.9h0m-0.5 2.7h0m-0.4 35.4h0m-1.3 13.6h0m1.3-5.7h0m-0.2-11.8h0m0.4-21.1h0m0.6-5.4h0m-0.9 8h0m0.3-10.7h0m-0.2 0.1h0m1.2-36.3h0m-0.3 12.8h0m0.6-10.3h0m-1.1 45.5h0m-0.2-2.3h0m-0.8 19.8h0m0.2-1.7h0m1.1-37.4h0m-0.9 59h0m-0.3-16.7h0m0.2-8.3h0m0.9-42.5h0m0.6-15.6h0m-0.8 56.3h0m0 14.9h0m-0.7-10.8h0m1.5-37.7h0m-1.4 2.3h0m0.6 6.8h0m-0.5 4.4h0m0.9-32.4h0m-1.6 70h0m0.1 2.5h0m1.8-76.9h0m-1.6 72.7h0m0.9-50.4h0m0.4-8.2h0m-0.3 11.8h0m-0.2 9.6h0m0.4-8.7h0m0.7-8.3h0m-1.6 61.9h0m0.3-26.7h0m0.5-49h0m-0.5 53.9h0m-0.3-9h0m1.4-39.2h0m-1.3 46.1h0m1.4-27.9h0m0.4-25.4h0m-1.2 32.8h0m-0.2-13h0m-1.1 45.6h0m0.7 14.6h0m0.3-65h0m0.5-13.6h0m0.3 9.8h0m-1.5 53h0m1-46h0m-0.4 18.2h0m33.6-28h0m0.8-7.6h0m-0.5 22.2h0m-0.9 0.3h0m-0.2 21.6h0m1.1-42.9h0m-0.5 22.2h0m0.2-10.5h0m0.8-37.8h0m-1.6 57.9h0m0.4-17.4h0m-0.9 64.7h0m2.7-96.5h0m-0.8-1.1h0m-2 87.1h0m0.3-16.5h0m-0.2-4.7h0m1.9-56.1h0m-0.9 17.6h0m-1.5 61.1h0m0.5-24.6h0m2-53.4h0m0.2-21.6h0m-2.1 92.9h0m0.4-23.1h0m-0.5 5.3h0m1.4-45.8h0m0.9-21.1h0m-1.7 58.4h0m1.6-63h0m-0.6 9.5h0m0.2 3h0m-1.6 60h0m1.4-54.7h0m-0.7 35h0m-0.6 5.7h0m1.3-19.7h0m-1.3 43.7h0m1.3-68.2h0m-2.3 82.3h0m1.9-70.9h0m-0.2 12.4h0m-0.7 37h0m0.1 13.9h0m1.6-76.2h0m-1.7 69.9h0m1.3-86.6h0m-0.8 48.1h0m-0.8 55.8h0m1.8-70.7h0m-0.3-19.4h0m-1.3 67.5h0m-0.4 24.9h0m0.8-31.1h0m0.9-37h0m-1.3 41.3h0m1.6-47.5h0m-1.3 44.4h0m-0.4 17.7h0m1.4-50.6h0m0.1-39.9h0m-0.8 54.9h0m0.7-27.4h0m0.8-13.7h0m-1.9 56.2h0m1-27.4h0m-1.5 61h0m1.3-59.9h0m-1.7 40.7h0m1.5-50.4h0m-0.4 27h0m-0.1 23.5h0m-0.4-5.6h0m-0.5 9.8h0m1.3-56.7h0m1.8-37.4h0m-2.2 70.8h0m-0.9 34.8h0m2-87.3h0m-0.4 24.9h0m33.8-6.2h0m-0.3 33h0m-1 35.6h0m1.5-104.9h0m-0.1 39.5h0m-2 74.6h0m0.7-16.9h0m0.9-56h0m-1.1 61.4h0m0.9-24.1h0m0.5-45h0m-1.3 61.8h0m-0.1 2.6h0m1.2-61h0m-1.1 50h0m0.1 22.6h0m1.5-97.4h0m-0.1-11.1h0m-1.1 54.8h0m-0.1 37h0m-0.6 3.2h0m1.9-51.8h0m-1.3 41.8h0m0.6-69.1h0m0.1 37.1h0m-1.1 53.5h0m1.5-86.9h0m-1.8 90h0m0.2-0.6h0m1.9-75.4h0m-1.6 54.8h0m0.7-18.6h0m-1.2 21.3h0m0-15.6h0m0.2 19.5h0m0.2-28.2h0m2.1-68.9h0m-2.4 89.7h0m0.9-40.3h0m1.9-38.3h0m-2.3 83.6h0m0.9-79.1h0m0.7 2.8h0m-2 69.6h0m1.2-24.8h0m-0.5-5.6h0m1.1-36.2h0m0.1 33h0m-1.7 53.3h0m2-99.3h0m-1.9 66h0m1.2-36.8h0m-1.3 72h0m1-62.3h0m0.9-25h0m-1.8 61.8h0m1.2-51.5h0m0.1-0.8h0m-1.1 61.8h0m1.1-58.2h0m-1.3 54.5h0m1.4-47.4h0m-1.4 54.5h0m-0.4-13.2h0m0.6 5.6h0m0.4-47.6h0m-0.3 54.6h0m0.8-37.4h0m-0.8 37.9h0m1.8-92.2h0m-2.5 97.6h0m0.2-15.7h0m1.9-64h0m0 5.4h0m-1 3h0m-0.6 63.9h0m1.1-55.2h0m0.7-36.7h0m-1 68.3h0m0.9-64.6h0m-90.1 29.8h0m34.3 7.9h0m33-22.5h0m0 17.2h0m-100.8 100.3h0m19 1.3h0m64.7 6.6h0m-32.5-11.9h0m-63.8 9.2h0m80.4-96.3h0m90.7-4.7h0m-1.4 8h0m0.4 42.6h0m0.1-28.3h0m-1 45.8h0m0.3-57.4h0m-0.1 38.3h0m0.9-41.1h0m-0.7 31.5h0m-0.2 3.2h0m1.3-42.3h0m-1.5 25h0m-0.2 23h0m0.6 2.3h0m0.3-14.1h0m0.3-8.9h0m-0.1-12.2h0m1.3-19.1h0m-2.1 69.4h0m1.6-77h0m-1.7 49.5h0m-0.3 36.2h0m1.8-48.3h0m0.1-3.1h0m-0.3-13.2h0m-1.1 17.7h0m0.3 26.2h0m-0.7-6h0m0.5 2.1h0m1.3-53.8h0m-1 48.9h0m0.3-13.7h0m0.7-30.2h0m0.4-14.8h0m-1.8 43.7h0m-0.8 35.8h0m2.1-43.1h0m-1.2 1.3h0m-1 30.1h0m0.3 4h0m2.5-71.9h0m-0.9 32.4h0m0.8-31h0m-0.2 6.7h0m-1.5 52.5h0m0.5-14.9h0m0.2 1.3h0m-1.2 30.5h0m1.6-71.1h0m-1.1 64.1h0m0.3 13.3h0m0.8-37.5h0m0.3-21.9h0m-0.8-11h0m-0.3 53.5h0m-0.4 14h0m-0.1 0.7h0m0.1-2.8h0m0.5-5.1h0m0.5-51.1h0m-1.3 46.1h0m-0.2 16.5h0m-0.1-10.3h0m2-71.6h0m9 2h0m0.3-0.2h0m-0.2-1.2h0m0.3-1.6h0m-0.2 3.6h0m0.5-5.6h0m-0.5-0.1h0m0.5 6.1h0m-0.5 0.6h0m22.4 75.5h0m0-32.3h0m0-3h0m-0.4 41.2h0m1.7-49.3h0m0.4-14.8h0m-1.4 35h0m-0.1 6.6h0m-0.3-17.9h0m0.2-1.4h0m0.2-3.4h0m0.5-20.8h0m-0.6 62.3h0m-0.7 1.6h0m2.1-57.8h0m-1.1 45.9h0m-0.8 6.7h0m0.9-49.7h0m-0.2 23h0m0.4-33h0m-1.5 58.7h0m1.3-23.7h0m0.2-33.4h0m-1.1 57.3h0m1.2-26.3h0m0.1-19.5h0m-0.3 36.6h0m-0.3-54.3h0m0.2 50.3h0m-0.5-19.2h0m0 36.5h0m0.6-52.2h0m-0.4 18.2h0m0.3-8.4h0m-0.6 35.4h0m0.6-10h0m-0.2-15.1h0m-0.8 15.1h0m0.6-21.9h0m0.5-3.2h0m-0.3 42.1h0m0.2-11.1h0m-0.2 8.4h0m0.1-19.5h0m-0.6-13.8h0m0.5 15.5h0m0.1-40.1h0m0.2 10.2h0m33.9-36h0m-0.2 42.6h0m0.3-20.7h0m0.2-8.3h0m-0.6 17.4h0m1.3-18.6h0m-0.4-11h0m-0.9 33.5h0m0.1 9.1h0m0.7-13.9h0m-0.3-27.4h0m-0.1 3.4h0m0.2 22.9h0m-0.4-2.8h0m0.1 2.9h0m-0.5-20h0m1.5-5.7h0m-1.2 32.5h0m-0.3 42.4h0m0.3-30.2h0m0-17.3h0m-0.1 12.9h0m0.6-22.2h0m-1.2 53.9h0m0.7-23.9h0m0.6-40.8h0m0.1 9.9h0m0-12.6h0m-1.6 81.7h0m0.8-71.6h0m0.5 34.7h0m0.1-53.8h0m-0.1 22.8h0m0.9-21.4h0m-1.3 37.2h0m0.3 46.9h0m-0.2-60.4h0m-0.4 66.2h0m0.9-86.3h0m-1.1 78.1h0m0.9-35.1h0m-0.6 42.3h0m0.2-54.7h0m-0.3 56.1h0m0.2-58.7h0m0.8-18.3h0m-1.1 52.7h0m1.4-66.9h0m-0.5 76.8h0m-0.7-22.3h0m-0.2 0.8h0m0.3-22.9h0m0.2-22.6h0m0.3 39.9h0m0.5-44.8h0m-0.1 6.2h0m-0.7 35.3h0m0 9.9h0m-0.1-17.1h0m-0.3 38h0m0.1-6.3h0m1-73.8h0m-0.3 32.9h0m0.5-22.4h0m31.7 62.3h0m0.4-27.2h0m0.4-13.9h0m-0.2-7.6h0m-1.2 55.6h0m0.6-3.1h0m0.6-36.6h0m-1.3 44h0m1.4-49h0m0 10h0m0.3 5h0m-0.8 28.7h0m0.1-31.3h0m-0.3 31.9h0m1-57.8h0m-0.9 65.7h0m-0.1-22.1h0m0.4-13.6h0m-0.1 5.3h0m-0.2 0.9h0m-0.4 16.6h0m1.1-13.2h0m0.7-34h0m0.4 6.6h0m-1.6 9.4h0m0.5 9.4h0m-0.4 12.7h0m0.3-5.5h0m0.2-38.2h0m0.1 14h0m0-10.3h0m-0.8 33.2h0m-0.2 25.2h0m-0.5 1.8h0m1.2-37.3h0m-0.2-5.9h0m0.9-11.1h0m-0.4-10.3h0m-0.7 61.1h0m-0.2-28.9h0m0.3 17.6h0m0.8-21.1h0m0.4-21.1h0m-0.1-6.4h0m0.1 4.3h0m-1.4 47.8h0m-0.8 10.2h0m0.3-17.1h0m34.5-23.2h0m-0.4 47.4h0m0.8-68h0m0.5-6.9h0m-0.4 8.6h0m-1.1 30.4h0m0-5.1h0m0.3-3.9h0m0.2 17h0m-0.2 6.1h0m0-18.4h0m-0.6 38.4h0m1.4-52.4h0m-0.2 6h0m0.5-31.8h0m-1 57.1h0m-0.4-4.3h0m1.3-43.2h0m-0.5 8.5h0m-0.3 36.7h0m-0.9-8.4h0m0.9-13.5h0m0.4-35.2h0m-0.7 37.9h0m0.4 27.2h0m1.4-71.7h0m-1.4 47.3h0m-0.9 24.1h0m0.5-26.3h0m1.4-43.1h0m-0.3 3.8h0m-1.1 40.4h0m-0.4 27.4h0m0.7-34.7h0m0.5-31h0m-0.5 59h0m-0.2-28h0m0.7-15.6h0m0.2 2.2h0m-0.8 27.9h0m-0.2 26.4h0m1.2-72.6h0m-1 24.9h0m0.3 19.2h0m0.7-52.8h0m-0.9 42.1h0m0.4-30h0m-0.4 36.8h0m-0.6 10.9h0m1-49.2h0m-0.4 67.5h0m-1-8.6h0m1.5-34.3h0m0.1-11.7h0m1.2-17h0m-2.2 28.5h0m1.5-31.2h0m-0.3 24.9h0m-1.2 33.8h0m0-3.3h0m0 26.5h0m-0.5-5h0m2.3-52.8h0m-0.7-13.9h0m-124.1-29.1h0m33 19.2h0m0 119.3h0m101.6-97.6h0m-34.3 14.5h0m-33-21.1h0m-10.6-18.5h0m-44.8 117.4h0m5.2 1.3h0m136.6-35h0m1.9-24.5h0m-1.1 12.3h0m0.1-3.4h0m-0.2 3.4h0m1.8-18h0m-0.1-7.7h0m1.7-41.3h0m-0.6 13.9h0m-3.1 59.5h0m0.6-14.4h0m3.1-59.4h0m-1 26.2h0m-0.9 11.4h0m0.4 4.3h0m0.3-4.2h0m-2.1 35.2h0m2.9-61.4h0m-2.3 39.3h0m1-2h0m-1.2 16.1h0m0.3 7.2h0m0-18.2h0m1-23.6h0m-0.4 10.2h0m0.6-19.4h0m0.3-19.8h0m0.8 9.3h0m-1.8 35h0m0 10.4h0m-0.8 20.2h0m1.6-54.9h0m0.3-3.9h0m-2.9 56.2h0m0.7 12.2h0m1.7-54h0m-1.7 22.7h0m1.5-17.9h0m1-42h0m-2.8 81.9h0m0.6-23h0m1.4-23.5h0m0.5-13.6h0m-2.7 69.6h0m1.4-36.9h0m-0.9 28h0m0.4-4.1h0m1.9-59h0m-2.2 62h0m1.3-46.2h0m-1 36.5h0m-0.6 10.9h0m0.2 6.4h0m0-0.4h0m2.1-68.8h0m0.2-14.8h0m-2.9 88.7h0m2.7-65.5h0m-3 65.8h0m3.9-93.3h0m-0.3 4.8h0m0.5-2.8h0m-1.6 34.1h0m-0.7 10h0m1.8-57.3h0m0.6 5h0m-0.3-2.3h0m0-5.1h0m0 11.5h0m0 2.7h0m-0.1-17h0m0.1 9.8h0m-0.1-0.9h0m34.8 17.3h0m-2.8 57.3h0m1.7-52.7h0m-0.5 8.4h0m-0.2 9.1h0m0.7-11.7h0m-1 64.1h0m0.3-33.7h0m-0.7-2.4h0m0.8-19.8h0m-0.7-0.7h0m-0.3 53.7h0m1.5-68.3h0m-0.8 12.7h0m0 13.5h0m0.2-10.4h0m0-6h0m0.4 28.2h0m-1 6.7h0m1.2-23.6h0m-0.6 15.3h0m0.6-19.9h0m-1.8 54.9h0m1.4-50.2h0m-1.2 25.1h0m1.6-41.7h0m-0.4 27.2h0m-0.1 3.3h0m0.3-17.3h0m-0.7 14h0m0.8-13.1h0m-0.6-23.7h0m-0.4 41.8h0m0.3 16h0m0.1-23.2h0m0.2 4.8h0m1.3-46.4h0m-2.3 44.3h0m1.2-30.7h0m-0.2-15.1h0m0.3 10.9h0m-1 61.8h0m0.5-28.6h0m-0.1-17.5h0m-0.4 57.5h0m0.5-82.3h0m0 22.7h0m-0.1 30.6h0m0.6-23.5h0m-1.2 42h0m0-24.1h0m0.8 12.6h0m-0.4-13.1h0m0.2 39.2h0m0.4-49h0m-0.7 25h0m0.7-37.4h0m-1.3 64.9h0m0.8-48.1h0m-1 47.2h0m1.5-43.3h0m-0.2-16.1h0m-0.2 4.4h0m0.4 7.5h0m33.8-4.4h0m0.7-8.9h0m-2.1 49.3h0m1.9-68.8h0m-1.5 69h0m1.8-61.7h0m-0.4 0.6h0m-0.8 53.2h0m0.5-42.7h0m0.3-12.9h0m-2 58.6h0m2.3-44.7h0m-1.1 4.4h0m0.9-0.9h0m-1.2 43.6h0m0.1-12h0m-0.5 16.6h0m1.3-43.1h0m0.4-19.6h0m-0.7 50.8h0m-0.8-10.3h0m1.6-45.1h0m-1.6 62.4h0m0.5-49.6h0m-0.7 55.2h0m1.2-33.5h0m-0.8 33.7h0m0.1-8.2h0m1.3-34.1h0m-1.1 3.6h0m0-9.1h0m-0.7 21.8h0m0.3-22.5h0m0.6 15.3h0m0.1-35.5h0m0.8-1.9h0m-0.5 35.5h0m0.2-34.4h0m-1 52.7h0m0.1-9.4h0m0.7-21.3h0m-1 29.1h0m0 5.8h0m1.6-60.9h0m0.1 2.7h0m-1 18.5h0m-0.4 40.9h0m-0.6 8.9h0m1.3-61.7h0m-0.7 48.5h0m0.3 13.2h0m-0.5-39.8h0m0.5 30.6h0m0.8-48.4h0m0.4-12.4h0m-1.1 15.9h0m33 57.2h0m0-16.5h0m-0.4 3.8h0m0.1-29.8h0m1.1-12.8h0m-0.3 7.9h0m-1 34h0m0.3 17.5h0m0-32.9h0m0.1-21.7h0m0.4-9.1h0m0.7-5.2h0m-1.6 65.4h0m-0.6 3h0m2.5-76.6h0m-0.9 14.6h0m0 14.7h0m-0.5 19.6h0m0.9-41.9h0m-0.6 18h0m-0.1 7h0m0.2-0.8h0m0.8-28.8h0m0.3-2h0m-1.5 56.3h0m1.3-48.2h0m-1.5 67.4h0m-0.1-36.4h0m1.1-20.8h0m-1.1 21.6h0m0.4-9.9h0m-0.2 8.7h0m0.1 14.9h0m-0.6 16.5h0m1.9-51.2h0m-1.9 4.5h0m1.1 18.2h0m-0.5-14.4h0m-0.5 7.2h0m1.5-20.9h0m-0.7 45.7h0m-0.4-40.4h0m1-21.2h0m-0.3 62.1h0m-1.6 21.3h0m1.4-44.6h0m-0.8 20.7h0m0.2 2.2h0m0.5-32.2h0m1-21.5h0m-1.3 40.9h0m0.8-34h0m-0.3 23.1h0m-1.2 34.3h0m0.4-5.6h0m1.4-53.3h0m32.8 27.3h0m0.2-33.1h0m-0.7 58h0m1.1-43.5h0m-1.5 38.6h0m1-41.3h0m-0.4 50.3h0m0.6-57.8h0m-0.1 62.1h0m0.1-60h0m-0.9 29.2h0m0.6-1.2h0m0.6-5.2h0m-0.5-5.8h0m-0.1-33h0m-0.3 37.8h0m-0.5 33.2h0m1-4.4h0m-0.5 9.5h0m0.7-73.9h0m-1 59.2h0m0.5 3.2h0m-0.3-33.2h0m1.1-20.7h0m-0.2 16.5h0m-1.6 44.6h0m1.2-56.3h0m0.1 13.4h0m0.5-23.6h0m0.2-3.8h0m-0.9 53.6h0m0.2-23.8h0m-0.3 18.2h0m-0.2 16.9h0m-0.2-11.3h0m0.3 8.2h0m0.8-35.4h0m-0.3-26.1h0m-0.1 14.7h0m-1.1 31h0m2-44.5h0m-1 35.3h0m-0.5 40.4h0m-0.8-5.5h0m1.7-46.8h0m-0.6 16.1h0m0.3-36.7h0m-0.9 64.1h0m0.4 7h0m0.6-51.4h0m0.2-24.6h0m-1.5 70.6h0m0.8-57.1h0m-0.6 64.2h0m0.3 1h0m-0.2-0.5h0m11.4-64.4h0m-0.9 14.5h0m0.5-15h0m0.3-6.5h0m-0.6-9.5h0m0.7 10.9h0m0 3.7h0m-0.5-3h0m0.2-0.2h0m-0.2 22h0m-0.4-23.8h0m0.8-10.5h0m-0.7 32.2h0m0.2-17.8h0m-0.1 13.1h0m0.5-24.5h0m-100.5-11h0m-0.2 2.6h0m0.5 0h0m-0.4-0.7h0m-0.6 0.9h0m0.6-2.9h0m33.3 2.1h0m0.5-9.2h0m0.4-0.5h0m-0.4-0.9h0m0.2-0.8h0m-0.7 2.9h0m0.8-1.2h0m0.3 0.8h0m-0.5 9.1h0m-66.9 48.5h0m0.6 2.1h0m-0.8 4.8h0m-0.6 7.3h0m0.6-0.6h0m0.6-19.4h0m-0.6 12.1h0m-0.3 6.5h0m0.6-3.9h0m-1.2-7.6h0m0.5 3.8h0m0.8 7h0m-10.5-80.2h0m66.8 2.7h0m10.5 4.5h0m-33.8 9.2h0m-10 2.6h0m66.8 11.9h0m43-5.3h0m-33 6.6h0m-99.7 29.1h0m68.6 55.4h0m31.6 7.9h0m18.5 24.3h0m-117.4 8.7h0m-524.3 150.4h0m-0.3-12.4h0m0.2 5.9h0m0.6 7.5h0m0.3-7.9h0m-0.4 2.1h0m0.7 18.1h0m-1.8-16.6h0m-0.6-0.1h0m0.6-13.8h0m2.5 17.7h0m-2.7-17.7h0m1.6 20.7h0m-0.6-8.5h0m0.3 0.8h0m-1.7-20.1h0m0.8 25.2h0m0.4-12.4h0m1.3 9.5h0m-2.4-3.3h0m0.7-14h0m-2.1-2h0m2-7.6h0m1.8 31.3h0m-2.6-36.3h0m1 17.5h0m-0.1 8.2h0m0.8-2.3h0m-1-22.4h0m-0.9 15h0m2.3 17.1h0m-4.1-41.4h0m3.2 23.5h0m-2.3 5.6h0m0-25.3h0m1.2 36.8h0m2.6 2.7h0m-1.5 3.3h0m0.1-15.3h0m1.6 5.8h0m-2.2 7.3h0m-1.6-29.6h0m2.1 9.9h0m0 16.6h0m-1.3-30.9h0m-2.2-14.6h0m4.2 33.7h0m-2.2-22.1h0m-1.3 0.5h0m2.8 15.3h0m-1.2 2.5h0m-0.3-7.7h0m0-11.3h0m1.7 41.5h0m-0.1-13.4h0m-0.3-25.5h0m0.6 34h0m-1.2-2.9h0m0.6-22.1h0m-0.7 5.2h0m-0.9-24.9h0m2.7 40h0m-1.5-15.6h0m0.1 3.7h0m2.9 34.8h0m-0.3-0.1h0m-0.9-27.8h0m-0.9 5.3h0m3.1 21.2h0m-4.7-21.5h0m1.7-5h0m-2-15.9h0m1.7 25.8h0m0.5-15.3h0m1.1 26.9h0m-1.3-15.9h0m-0.5-21h0m-0.7-18.5h0m-0.1 22.8h0m-1.3-10.7h0m3.9 35.3h0m-0.9-9.8h0m-0.1-3.6h0m-0.1 0.7h0m-1.2-9.9h0m1.6 14h0m-3.1-19.2h0m3.2 17.2h0m-2.7-17.9h0m2.7 30h0m-0.3-11.6h0m0-11h0m-2.4-4.1h0m1.8 22h0m-0.1-16.5h0m2.1 24.1h0m-4.6-45.6h0m2.6 23.2h0m-0.4-8.3h0m-1.5 6.9h0m2 12.9h0m-2.7-22.6h0m0-15.5h0m1.8 25.6h0m1.4 28.1h0m0.6-0.8h0m-0.1-5.3h0m-1.6-9.8h0m-0.6-11.9h0m-0.3-23.8h0m0.3 32.6h0m1.1 0.1h0m-1.3-5.8h0m-0.7-20.1h0m2.8 38.9h0m-2.9-26.6h0m1.1 13.6h0m1.4 15h0m1.2 9h0m-2.1-39.9h0m-2-13.1h0m1.6 10.7h0m0 4.5h0m-1-19.2h0m2.3 33.1h0m-2.2-25h0m2.8 33.2h0m-1.9-16.7h0m1.6 22.7h0m-2.5-35.6h0m1.7 4.5h0m-0.7 2.1h0m-1.9-10.8h0m2 36.2h0m0.6-12.8h0m-2.1-21.6h0m2.7 37.7h0m-3.7-40.1h0m2.7 25.2h0m0.4-13.2h0m-0.9-5.9h0m1.7 27.6h0m-1.1-14.1h0m0.4-5.9h0m-0.1 22.5h0m0-18.7h0m-0.9-1.2h0m-2.2-10.2h0m3.3 15.6h0m-0.1-12.6h0m-0.5 3.5h0m-1.7-5.1h0m2.3 14h0m0.9 30.3h0m0.1-3.8h0m-2.5-55.4h0m-0.1 18.5h0m0.7 19.3h0m-2.5-29.9h0m3.3 1.9h0m-1.4 18.8h0m0.8 9.9h0m1.4 4.1h0m-2.9-33h0m2.1 26.1h0m-0.9-11.4h0m0-5h0m-2.1-18.4h0m1.4 26h0m-0.3-4.3h0m1.4 15.8h0m0.4-14.2h0m-2.5-29.3h0m3.8 61.3h0m-2.7-54.5h0m0.4 30.9h0m2.7 20.4h0m-1-23.4h0m1.5 15.2h0m-4.5-51.3h0m3.2 58.2h0m-3.5-41.1h0m7 20.7h0m-0.2-7.1h0m-1.6 16.2h0m-0.1-2.3h0m1.9-9.2h0m1-34.9h0m0.2 28.4h0m-2.5-8.7h0m-0.4 22.4h0m2.8-10.8h0m-1.4 1.1h0m-0.2-15.3h0m0.5 7.5h0m-1.3 19.9h0m2.7-41.9h0m-1.8 26.4h0m-0.5 8h0m-0.4-14.1h0m1.7 4.2h0m-0.7-19.5h0m-0.6 25.6h0m-0.4-7.4h0m-0.4 7.5h0m2.5-13.4h0m-1.6 2.4h0m1.2 7.1h0m-0.1-30.8h0m-0.5 19.9h0m0.4 4.7h0m-0.3-5.1h0m1.5-1h0m-1.1-0.4h0m-3.4 31.3h0m3.9-42h0m-0.1 9.3h0m1.4-4.8h0m-2.6 3.1h0m-0.5 13.1h0m-1.4 2.5h0m3-7.2h0m0.1-4h0m0.4-0.8h0m-0.8-8.8h0m-0.6 2h0m-0.6 14.4h0m0 13.6h0m0.9-21.9h0m0.5-13h0m-1 22.3h0m2.7-13h0m-1.5-10h0m-1.9 20.6h0m-0.2 11.1h0m0.7 12.2h0m-0.6-10.2h0m0.4-12.9h0m-1.4 13.4h0m5.6-23.6h0m-2.8 8.7h0m-1-0.7h0m-1.4 24h0m2.5-29.9h0m-0.3 11.7h0m-0.8-8.9h0m1.2-10.6h0m0 3h0m0-3.4h0m-1.8 12.3h0m2.2-10.7h0m0 10.5h0m-1.8 4.6h0m-0.1 4.9h0m-0.6-2h0m2.3-11.1h0m-1.4 12.8h0m-1.4-2.3h0m2.2-1.6h0m-1.5-4.1h0m0.4 23.2h0m0.4-25.2h0m0.7 5.3h0m-0.6-15.2h0m0.1 24.7h0m0.8-17.8h0m-0.5 6.6h0m0.5-4.8h0m-1.5 6.6h0m1 0.5h0m-0.7 6.7h0m0.9-9.1h0m-1.3 2.5h0m-1.5 13.9h0m1.2 6.5h0m0.5-27.7h0m-0.3 9.2h0m1.7-18.3h0m-1.5 14.9h0m0.6-5.5h0m-0.2 10.8h0m-1.1 15.8h0m1.4-32.8h0m0.6 9.4h0m-0.2 1.6h0m-1.4-3.7h0m-1.1 2.9h0m1.1 2.6h0m-1.8 14.1h0m1.5 3.2h0m-0.2-5.8h0m1.5-13.5h0m1.3-4.3h0m-0.9-6.1h0m-0.8 14.7h0m-1 1.4h0m2.9-13.7h0m0.1 4.4h0m-1.4 20.5h0m-1.1-13.7h0m2-12.3h0m-2.6 27.7h0m-0.3-5.7h0m3.1-8.3h0m0-18.5h0m-1.3 8.9h0m0.8-1h0m1.1-18.6h0m-1.6 20.5h0m2.3-14h0m-1.8 13.6h0m-0.4-19.1h0m0.6 28.2h0m-2.1 10.6h0m-0.9-2.3h0m0.8 1.6h0m0.3-4.1h0m1.6-22.1h0m-1.9 18.7h0m0.8 8.2h0m0.3 0.7h0m1.3-24h0m0 2.2h0m0.3-18.7h0m-2.2 32.8h0m0.7-17.8h0m-0.2 16.9h0m1.3-8.6h0m-1.7 6.5h0m1.7-23.5h0m-2.9 14h0m0.8 10.8h0m2.4-12.7h0m-1.1 6.9h0m-0.8-5.9h0m-1.6 27.4h0m3-39h0m-1.6 25.6h0m-1.8 3h0m1.4-7h0m-1.5 11h0m-1.5-5.8h0m3.5 5.4h0m-3.3-8.9h0m4 0.9h0m-2.5 3.3h0m2.3-0.2h0m-1.7-0.3h0m0-9.7h0m-2 11.8h0m2.9 4.6h0m-0.7-9.6h0m-1.2 0.9h0m1.4 5.8h0m-1.3-2.7h0m0.1-2.7h0m0.8-3.9h0m-3 2h0m3.9-6h0m-2.4 15.4h0m0.8-1.6h0m-0.9-12.6h0m-1.1-0.9h0m1.9 12.3h0m-1.1 2.4h0m1.3-11.8h0m-1.4 4.7h0m0.6-3.7h0m0.4-0.8h0m1.8 7.3h0m-1.2-5.5h0m2.7-0.7h0m-3.9 1.2h0m0.3-1h0m1.9 4.7h0m0.1-2h0m-0.6 5.7h0m-1.7-7.8h0m-0.4 6.1h0m1.1 2.4h0m0.6 1.6h0m0.8-7.8h0m-0.3 2.8h0m-1.3-4.2h0m2.2 4.6h0m1.6-8.9h0m-3.9 1.5h0m2.6 9.7h0m-2.7-5.5h0m0.4 1h0m1.6 7h0m2.1-3.1h0m-0.6 1.6h0m-2 2.1h0m1.3-11.4h0m-4.5 3h0m4.9 4.9h0m0.2-6.2h0m-3.9 5.1h0m1.1-10.6h0m2.1 16.4h0m-1.3-4.2h0m2.5-0.6h0m-2.3-12.5h0m-3.4 2h0m2 7.3h0m-0.1-3.3h0m1.3 0.5h0m-2.3 2.2h0m4 12.1h0m-2.7-15.4h0m2.3 1.2h0m-1.5 6.8h0m-2-5.5h0m2.2-1.8h0m-2.6-5.8h0m-0.8-3.4h0m5.5 20.6h0m-0.3-0.8h0m-5.3-17.8h0m6.1 7.6h0m-2.4 0.4h0m0.7 2.1h0m-1.8-0.7h0m4.1 4.4h0m-1.8-2.5h0m0.1 1.5h0m-2.1 0h0m1.1-6.5h0m-0.4 0h0m-2.1-2h0m-0.3-4.5h0m1.7 11.6h0m-1.6-10.1h0m-0.3-2.3h0m3.4 15.7h0m0.1 4.2h0m-1.5-4.4h0m0-5.9h0m0 3.1h0m-1.3-0.5h0m1.9 8.1h0m1.5-8.4h0m-2.8-5h0m-1.4 0h0m3.2 0.2h0m-0.8-0.2h0m-1.1-6.9h0m3.7 12.5h0m-3.5 2.9h0m0.1-5.3h0m2.6 3h0m0.4-1.4h0m-1.5-1.8h0m-1.2-7h0m-0.6 8.1h0m2.4-0.4h0m-3.1-0.3h0m1 2.6h0m1.7-5.9h0m-2.4-4.4h0m1.6 14.3h0m-0.7-7.6h0m0.4 5.1h0m0.5-3.9h0m0.5-4.8h0m-0.2 9.2h0m-1.8-10.3h0m13.4-9h0m-1.3-22.4h0m1.5 8.3h0m-0.2-22.2h0m-1.4 18.2h0m1.5 19.6h0m-0.4-21.6h0m0.1 22.3h0m0.6 20.2h0m-0.8-25.1h0m1.6 7.3h0m-1.1-4.9h0m1.9 2h0m-1.6-32.7h0m-1 5.7h0m-1.3 23.1h0m-1.8-13.1h0m4.2-17.8h0m-1.6 1.7h0m0.8 15.7h0m0-10.7h0m0.3 15.6h0m-0.2-1.6h0m0-20.2h0m0.2 28.2h0m-1.3-32.9h0m2.5 28h0m-0.2-26.1h0m-2.5-9.8h0m-0.8 12.2h0m1.5 5.3h0m-1.5-3h0m0.3-0.3h0m1.2 0.3h0m1.6 3.6h0m-1.4 34.8h0m1.3-18.9h0m0.4-17h0m-2.3 2.5h0m2.4-3.8h0m-3.1 35.9h0m2.2-58.3h0m-1.2 59.1h0m2.1-14.9h0m-1-9.9h0m-1.5-19h0m0.4-7.8h0m0.9 28.4h0m-0.4 2.9h0m-0.4 5.9h0m0-19.2h0m1.4 21.1h0m-0.8-5.3h0m-1.2-8.7h0m0 1.5h0m0.3-8.8h0m0.4-8h0m3.2 46.5h0m-4.6-38.9h0m2.9 43h0m-0.9-24.5h0m0.2-28.6h0m-0.6 33.1h0m0.7-31.3h0m-1.4 12.6h0m1.6 12.8h0m0.8 22.7h0m-0.7-35.9h0m2.4-3.3h0m-3 17.7h0m-1.1-13.8h0m0.5-6.1h0m1.6 15.3h0m0.3 9.3h0m1.2-17.2h0m-2.5-1.5h0m-0.5-11.9h0m1.5 22.5h0m-2-21.3h0m3.5 17.8h0m-2.5 23.1h0m1.4-3.6h0m-0.9-21h0m0.9-2.4h0m-1.3-20.7h0m-1.8-4.1h0m1.2 13.5h0m0.3-9.4h0m1.1 8.3h0m-1.6 14.2h0m1.6 1h0m-1.4-26.8h0m0 44.8h0m-0.9-40.8h0m2.4-13.6h0m0.4 75.8h0m-1.3-52.9h0m0.5-19.4h0m-1.1 56.8h0m-0.9-41.7h0m3.2 42.6h0m-1.3-48.3h0m0.1 25.9h0m-1.2 24.5h0m0.6-41.8h0m1.6 41.5h0m-1.9-9.6h0m1.2-12h0m-0.3-18.3h0m1.8 25.3h0m-3.1 1.4h0m-1.8 17.8h0m4.2-37.7h0m0.1-11.4h0m-1.4 27.4h0m0.4 12.7h0m-2-7.6h0m0.7-0.2h0m0.6-0.9h0m0.4 11.4h0m-0.6-23.4h0m-0.1 4.5h0m0.3-25.1h0m-1.2 29.5h0m0.2 3.4h0m0.1 5h0m0.3-14.5h0m1.7-26.9h0m-1.7 6.3h0m1.4 27.9h0m-1.5 1.1h0m0.7-2.5h0m-1.1-33.8h0m0.5 23.3h0m1.8 8.7h0m-0.5 6.4h0m-0.6-25.4h0m0.1-6.5h0m0.3-1.2h0m-0.8 3.1h0m-0.4 12.4h0m1.7 24.8h0m-1.8-17.3h0m0.8 11.7h0m-1.4-44.2h0m0.7 27.8h0m-1.2 21.4h0m2.1-4.9h0m-2 10h0m0.8-8.1h0m0-36.9h0m1 22.4h0m-0.3-19h0m-2.1 6.2h0m2.3 12.7h0m0.3-13.7h0m-0.3 22.5h0m-0.1 14.5h0m-0.6-55.4h0m1.6 5.2h0m-1.1 0.1h0m-0.5 42.8h0m0.5 19h0m-1.5-50.5h0m3.1-4.7h0m-0.4 14.9h0m-0.7-12h0m2.1 26.6h0m-3.3-2.9h0m1.8-10h0m-1 4h0m0.4-37.3h0m-0.4 51h0m-0.2-40.8h0m-0.6 35.5h0m0.2-3.9h0m-1.2 9.6h0m2.8-26.2h0m0.3-5.6h0m-3.6 12.3h0m3.1 29.6h0m0.1-11.7h0m-0.3 1.6h0m-0.1-40.2h0m-2.2 34.7h0m1.7-15.4h0m-0.2 15.7h0m-1.9-18h0m2.7-17.2h0m-0.8 39.6h0m0-29.8h0m-0.5 22.3h0m0-12h0m1.8 34.7h0m-1.8-20.3h0m2-19.8h0m-1.9 2.1h0m-1.2 3.4h0m2.2-9.7h0m-2.3 7.2h0m0.5 3.1h0m0.9 5.8h0m1.1 0.8h0m-0.1-17.1h0m-0.6-0.9h0m0.3 3.2h0m0.8 21.4h0m-1.4-22.7h0m0 17h0m1.7-25.5h0m-2.1 13.7h0m2 15.8h0m0.2-23.8h0m-2.5 18.5h0m1.9-17.9h0m-1.4 14.5h0m-0.2 17.2h0m0.4-10.9h0m0.2 4h0m1 4.9h0m-2 2.7h0m0.4-20.8h0m2.3-7.9h0m-2-7.1h0m-0.8 27.5h0m1.8-8.8h0m0.5 19.9h0m-0.2-23h0m-1.4-22h0m1 18.7h0m-0.3 33.9h0m0.2-31.5h0m0.7 17.9h0m-0.8-6.9h0m1-13.7h0m1.1 24.4h0m-2-12.4h0m2-6.6h0m-2.1 3.5h0m-1.3 10.7h0m2.9-28.8h0m-3.1 3.2h0m3.1 17.8h0m-0.5 0h0m-1.5-14.5h0m-0.5 16.5h0m-0.2 9.4h0m-1.5-30.1h0m1.4-18.9h0m-0.1 28.3h0m0.5-26h0m1.8 55.6h0m-1.5-10.4h0m1.5 6.7h0m-1.5-6.6h0m-0.2-33.5h0m0.3 26.4h0m-0.4-7h0m-0.2-22.5h0m-1-15.8h0m-0.2 31.2h0m2.3 10.7h0m0.8-18.4h0m0 3.9h0m-0.2 25.9h0m-1.1 1.5h0m-1.2-29.3h0m2.8-6.2h0m-0.1 22.2h0m-0.3-13.6h0m-1.2 17.6h0m-0.6-21.4h0m-1.3 25h0m2.5 2.6h0m1.3 6h0m-2.2-13.6h0m-0.6-14.8h0m0.9 16h0m0.5 0.8h0m-1.6 9.3h0m1.9-1.5h0m-0.9-19.1h0m-0.4 4.8h0m2.8-14.9h0m-3.9 8.7h0m1.7 10.9h0m24.2 13.6h0m-0.5-7.5h0m0.2-0.3h0m2.9 0.7h0m-1.5 0.6h0m0.3-2.4h0m-0.3 16.3h0m-0.6-15h0m0.9 8.4h0m-1.3 2.2h0m1.7-29.7h0m-1.6 3.7h0m0.3 2.4h0m-0.1 22.4h0m-1.9 2h0m0.3-39.8h0m-0.3 25h0m-0.8-9h0m3-5.2h0m-2.9-0.1h0m1.6 37.6h0m1.4-39.1h0m-2.2 3.8h0m0.6 6.2h0m2.4 23.8h0m-0.9-8.2h0m1.2-20.2h0m0.9 23.8h0m-1.9-18.7h0m-1.8-8.4h0m0.7 14.7h0m1.5-1h0m-0.6 20h0m-0.7-6.6h0m0.4-37.9h0m0.6 35.7h0m0.8-13.3h0m-2.9-0.2h0m3.4 25.4h0m-1.5-4.8h0m-0.7-31.5h0m0.9-7.4h0m0.1 12.1h0m-1.4 18.7h0m0.5 0.8h0m-1.7-3.5h0m3.3 1.8h0m-1.1 1.6h0m0.3-1h0m0-10.1h0m-0.8-12.5h0m-0.4 9.2h0m-1.2-4.5h0m-0.1 3.4h0m2.1-1.5h0m-0.9 16.1h0m0.2-34.8h0m0 23.6h0m-0.4 13.3h0m0.6-3h0m1.9 7.7h0m-1.7-17.6h0m-0.4-6.5h0m-0.6 8.8h0m1.4 1.8h0m-0.5-11.3h0m-0.9-7.4h0m1.6 14h0m-0.4-7h0m0.2 10.8h0m0.7 0.1h0m-2.6-0.2h0m3.7 20.3h0m-1.9-19.1h0m-1.1-6.4h0m1.5 17.1h0m-0.6-10.2h0m0.4-26.1h0m1.1 24.9h0m-2.8-12.5h0m2-3.3h0m-1.3 12.5h0m1.4-15.2h0m-1.7 18.2h0m0.6 15h0m-0.1-17.4h0m0.4 10.2h0m-0.9 3.5h0m1.3-5.1h0m0-10.4h0m-0.2-12.3h0m1.7 13.6h0m-2.3-7.1h0m0.9 1.4h0m-0.5 4.5h0m0.1 2h0m0.2-14h0m-0.4 8.8h0m2.3-0.2h0m-1.6-8h0m0.8 27h0m-0.7-21.9h0m-1.5 9.2h0m1-3.9h0m-0.7 11.3h0m-0.9-0.8h0m0.8-24.1h0m0.7 20.9h0m1.5 3.9h0m-0.6-17.1h0m-0.2 3.6h0m-3.3-15.5h0m2.8 28.5h0m-1.7 6.4h0m2.1-20.7h0m-1.6 3.1h0m3.3-5.6h0m-1.9 11h0m1.2-18.1h0m-3.1 14.2h0m0.1-6h0m1.6 6.6h0m1.8-11.7h0m-3 31.8h0m0.6-42.1h0m-0.4 38.9h0m-2.1-27.4h0m1.1-11.7h0m3.5 3.5h0m-2.7 16.8h0m2.4-9h0m-1.9-3.6h0m1.7 15.5h0m-1.8 8.7h0m0-9.3h0m1.2 3.4h0m-1-0.1h0m1-26.1h0m-1.1 28h0m2.4-4.2h0m-3.1 15.2h0m-0.4-31.6h0m2.5 19.2h0m-1-26.2h0m0.1 10h0m0.1 18.1h0m0.4 4.6h0m-0.6-28.9h0m0.3 31h0m-0.4-3.7h0m-1.6 2.7h0m1.3-5.6h0m-2.2-12.1h0m2.8 29.3h0m1.2-13.9h0m-0.9-1.6h0m-0.4-18h0m-0.4 12.5h0m1.6-0.9h0m-1.2-6.2h0m-1.9 10.6h0m2.2 0.9h0m-1.3-27.8h0m1 11h0m0.8 0.6h0m-1.8 13.7h0m0.8 10.9h0m-0.9-9.8h0m1.8-5.1h0m-0.2 10.7h0m-2.2 10.4h0m0.7-21.6h0m2.1-4.5h0m-1.9 3.3h0m-0.2-20.7h0m0.9 13.1h0m-0.3-2.2h0m2.4 16.5h0m-0.8 5.1h0m-1.9-22.9h0m1.1 9.4h0m0.1 8.3h0m1.2 6.8h0m0.3-4.5h0m-0.9 14.7h0m-2.5-22.4h0m1.9 0.7h0m0.5 7h0m-2.8 5.3h0m2.9-23.5h0m-1 9.7h0m0.3-2.6h0m0 12.1h0m0.6 6.2h0m0.8-37.7h0m-1.9 28.4h0m-1 6.4h0m2.1 4.5h0m-1.1 0.3h0m0.9-26.3h0m-0.3 23.6h0m-2-33h0m1.7 22.1h0m-1.3 3.4h0m2 13.9h0m-1.6-31h0m0.8 7.2h0m-1.5-5.5h0m2.4-22.7h0m0.7-4.7h0m-0.9 3.4h0m0.4 1.6h0m0.1 0.6h0m0.3-3h0m-0.5 0.7h0m-0.3 5.2h0m-1.2-4.6h0m1.1 0.5h0m9.8 41.9h0m1.2-3.7h0m-0.2-16.5h0m-1.5 23.1h0m1.2-6.7h0m0.8 17.9h0m-1.7-14.1h0m0.1-2.2h0m1.1-10.9h0m0.2 20.8h0m-1.5-30.3h0m1.4 38.1h0m-0.6-23.9h0m2.1 12.8h0m-3.9-24.6h0m0.8-6.9h0m1.5 4.8h0m0.5 12.9h0m1 3.4h0m-3.8-23.2h0m2 22.6h0m0.3-25.1h0m-1.5 23.6h0m2.6 23.9h0m-0.4-12.8h0m-3-41h0m2.2 43.2h0m1.4 15.5h0m-3.4-51.9h0m2 23.7h0m0.5 9.3h0m-2.1-22.8h0m0.9 0.6h0m-0.1 1.7h0m0.2 6h0m1.3 22.5h0m-2.4-27h0m1.6 35.3h0m-0.7-38.9h0m0.1-10.9h0m1.1 0.1h0m0.1 2.6h0m-1.3 28.3h0m1.4 1.7h0m-1.4 3.2h0m1.3 3.3h0m-2.5-35.5h0m0.5 25.9h0m1-7.8h0m-1.1-25h0m2.2 13.7h0m-1.6 18.8h0m1.8 24.9h0m0.3-34.8h0m0.6 19.5h0m-2-20.4h0m0 4.3h0m0.6 10.5h0m-0.5 13.5h0m-0.4-12.9h0m0-8.1h0m-0.2-22.1h0m0.9 14.2h0m0.8 12.5h0m-0.3 9.4h0m-0.5-4.1h0m0.6-8.8h0m0.8-7.3h0m-1.9 16.3h0m0.5-18.7h0m-1.1 6.6h0m0.2 9.4h0m-0.9-3.3h0m1.9-18.8h0m-0.5 11.9h0m0.9 8.5h0m-1.3-18.6h0m-0.7-15h0m2 32.5h0m-0.9 5.7h0m0.2-29.1h0m-0.5 11.4h0m2.9 27.2h0m-2.9-24.6h0m-1.1-17.2h0m2.5 2.8h0m-2.2 1.9h0m2.1 11.9h0m-3.4-22.5h0m2.2 44.4h0m-0.5-36.6h0m1.6 8.6h0m-1.7-5.5h0m0.5 34.6h0m0.8-20.2h0m1 32.7h0m-0.8-23.5h0m-1.6-23.8h0m0.8 9.6h0m0.4 32.9h0m0.1-38.9h0m1.5 19.1h0m-1 11.4h0m-1-6h0m-0.6-9.2h0m1-4.3h0m0 26.8h0m-0.1-31.6h0m-1.2-17.4h0m0.9 8.7h0m1.4 41.3h0m-1.3-35.1h0m0.7 13.7h0m-0.8 3.5h0m1.1 19.1h0m-0.7-25.7h0m-0.7 1.7h0m0.9-15.7h0m-1.8-1.3h0m0.9 16.9h0m-1-6.4h0m1.9 0.4h0m-2.9 9.1h0m2.4 21.7h0m-0.8-14.2h0m-0.4-42.6h0m1.8 32h0m-1.2 4.2h0m-0.9 7.1h0m2.5-10.9h0m2.1-15.6h0m-1.7 28.7h0m-1.3-18.9h0m0.8-3.1h0m2.4-8.7h0m-1.3 4.6h0m-1.2-8.7h0m2.4 4.9h0m-2.2 9.2h0m1.6-8.2h0m-0.9 11.4h0m0.2 9.9h0m0.4-31.9h0m-0.4 29.8h0m1.1-19.2h0m-2.7 10.2h0m0.4-9.1h0m2.5 6.2h0m-0.7 7.7h0m0.8 10.1h0m0.6-33.4h0m-2.6-5.4h0m0.9 31.4h0m-0.2-8.1h0m0.8 6.1h0m1.7-16.5h0m-3.7 29.3h0m1.6-32.8h0m0.4 6.8h0m-1.1 19.2h0m2.1-34.2h0m-1.3 14.4h0m-2 24.9h0m1.6-30.8h0m0.7 24.9h0m0.1-3h0m-0.5-1.5h0m2-27.9h0m-1.8 29.6h0m-1-9h0m0.8-7.2h0m0.4 24.9h0m1.9-18.8h0m-0.7-5.3h0m0.3 12.9h0m-2.3-14.8h0m-0.6 27.4h0m0.8-36.4h0m-0.1 10.6h0m1.4-23.8h0m-2.2 34.8h0m0.1-27h0m2.3-9h0m-0.8 36.7h0m-1.1 0.5h0m-2 6.1h0m3.6-18.4h0m-0.3-3h0m-0.8 9.9h0m-0.5 5.3h0m0.6-14.6h0m-0.7 4.9h0m2.5 3.9h0m-3.3-4.2h0m1.1 14.3h0m-1.9-5.9h0m3.4-23.9h0m-0.5 26h0m-0.1-4.3h0m0 8.6h0m-0.3-24.7h0m-0.5 27.3h0m1.6-34h0m-1.9 16.9h0m1.1-18.2h0m-0.1 38.5h0m-2.1-9.9h0m2.3-1h0m-1.3 0.6h0m0.2-28.4h0m-0.1-2h0m1.1-7h0m-1.8 47.7h0m-0.2-17.1h0m0.9 2.7h0m1.5-10.7h0m-1.8 1.5h0m-1.7-0.1h0m3-1.8h0m-0.2-11.4h0m1.7 8.7h0m-2 5.5h0m-0.9-2.8h0m-1.2 13.6h0m1-1.4h0m1.2-29.9h0m-0.3 40.5h0m-0.6-20h0m0.9-8.4h0m-0.3-4.3h0m-0.8 27.9h0m1.6-28.3h0m0.2 7.7h0m-1.4 11.1h0m0.6-32.9h0m0.1 17.4h0m-0.4 11.2h0m3.7-19.7h0m-3.1 19.4h0m-1.2 26.5h0m1.1-23.1h0m-3.6 2.9h0m4.4-11.9h0m-1.7-8.3h0m3.3-8.3h0m-3 22.9h0m-0.4 2.5h0m2.2 1.9h0m-1 4h0m-1.3-10.7h0m1.2-19.6h0m-0.4 34.8h0m0.9-10.2h0m-1 6.5h0m-0.2-25.9h0m0.4 15.3h0m-1.6 20.5h0m2.3-17.6h0m-1.2 1.3h0m0.8-10.1h0m1 6.8h0m-1.8 15.6h0m-1-14.6h0m2.5-6.9h0m-0.7 6h0m1-23.7h0m-1.4 24.2h0m-0.6-15.9h0m-1.1 34.2h0m2.2-25.9h0m-2.5 11.6h0m3.4 1.5h0m-2.4 4.5h0m1.6-21.2h0m-0.6 18.4h0m0.8-29.5h0m1.1 21.2h0m-3 16.1h0m2.4-12.5h0m-2-6.7h0m-1.9 30.1h0m1.5-24.2h0m0.5 0.7h0m-0.9 16.7h0m0-1.8h0m2-8.4h0m21.7 10.8h0m-0.6-21.7h0m0 45.1h0m0.4 0.2h0m0.1-24.4h0m0.5-8.6h0m-1.5-8.9h0m1.4 30.1h0m-1.6-13.4h0m1.4 10.7h0m0.1-5.8h0m-0.4 12.6h0m1-5.8h0m-1-20.4h0m-1.6-6.5h0m0.7 17.9h0m0.2-14.9h0m1.3 35.6h0m-0.3-23.9h0m-1.2-12.5h0m0.8 23.7h0m-1-11.8h0m0.9 6.3h0m0.4 2.3h0m0.6-8.3h0m-1.7 4.4h0m0.1-30.1h0m0.7 30.3h0m1.1 13.9h0m-2-15.6h0m0.8 13.2h0m-0.2-19.7h0m0.5 21.4h0m-1.2-46.9h0m1.7 23.3h0m-0.1 1.8h0m-0.5 15.9h0m-0.3-9.6h0m0-28.2h0m0.2 25.9h0m-0.1-8.5h0m-0.2 6.8h0m0.7-15.4h0m-1 9.6h0m1.9 13.2h0m-2-13.8h0m0.8 10.4h0m-0.3 0h0m1 1h0m-0.9 1.1h0m-0.1-5.5h0m0.4 17h0m-0.4 0.2h0m1.4 18.9h0m-1.8-40.5h0m0.9 9.2h0m-1.3 16h0m0.9-9.2h0m-0.2-31.2h0m-1.4 4h0m0.8 44.7h0m0 0.7h0m1.3-18h0m-0.9-16.1h0m1.7 22.1h0m-1.8-33.2h0m0.2 13.7h0m0.7-1.2h0m-1.1 14.6h0m1.3-10h0m0.5 0.3h0m-0.5 31h0m-0.3-22.3h0m0-2.6h0m-1-20.2h0m1.2 26.6h0m-1.2-11.1h0m1.3-16.9h0m-1.3-8h0m0.3 25.9h0m0.3-1h0m0.2 24.7h0m-0.2-37.4h0m0.8 30.2h0m0.2 6.6h0m0.4-16.2h0m-0.9 4.6h0m-0.7 8.9h0m-0.1-20.7h0m-0.8-6.6h0m1.9 19.1h0m-1.2-7.9h0m-0.2-17.4h0m-0.2 17.8h0m0.4-7.3h0m-0.6 1.6h0m1.3-9h0m-1.1 3.3h0m0.1 1.7h0m0-17.8h0m1.3 19.3h0m-0.4-1.5h0m-0.1 32.7h0m0.6-40.9h0m-1.4 7.8h0m1.1 2.6h0m0.1 25.1h0m-1.1-27.5h0m-0.2-15.9h0m0.3-9.3h0m-1.1 8.4h0m1.3 20.8h0m0.2-5.7h0m0.4 18h0m0.1 2.4h0m0-8.8h0m-0.4-15.6h0m1.3 17h0m-1.6 8h0m0.7 8.7h0m-0.7 3.5h0m1.2 3h0m-1.4-53.1h0m0.9 35.7h0m-1.6-30.7h0m1.3 6.1h0m-1.1-0.1h0m1-2.8h0m0.7 49.6h0m-0.4-25.1h0m0.5 4.3h0m-0.6-32.1h0m1.4 23.7h0m-2.3-24.1h0m0.2 8h0m0.3 1.8h0m0.5-10.1h0m0.3 33.7h0m0.7-0.6h0m-1.6-1.4h0m0.2-14.5h0m0.2 1h0m0.5-13.7h0m10.8 33.7h0m-0.5-8.5h0m1 27.8h0m-0.6-12.2h0m1 8.8h0m-2.5-73.6h0m1.8 64.8h0m-3.6-55.1h0m3.6 47.9h0m0.3-14.2h0m-2.7-24.7h0m2.9 49.8h0m-0.8-17.4h0m-0.7-4.1h0m0.6-32.5h0m-0.7 31.8h0m0-2h0m0.3-2.2h0m0.2 2.5h0m-0.4 26.1h0m-1.2-69.4h0m1 42h0m0.8 7.1h0m-2.1-53.1h0m0 17.5h0m1.9 58.3h0m0.3-35.3h0m0 49.8h0m1.1-13.2h0m-2-25.2h0m2.1 37.8h0m-1.5-59.5h0m1.3 67.6h0m-1.8-73.1h0m1.1 28h0m-1.7 0.2h0m-0.8-29.1h0m0.8 12.7h0m-0.6 5h0m1.5 12h0m-0.9-18.8h0m1 33.1h0m-1.6-47.6h0m-0.3-8h0m2.3 67.4h0m1 2.9h0m-1.1 5.2h0m-1.2-38.3h0m2 30.8h0m0-5.9h0m-0.3-23.3h0m-1.9-1.1h0m-0.8-29.7h0m1.3 25.6h0m0.4 13.8h0m0.3-27.4h0m-1.3 6.9h0m0.4-3.9h0m0.6 42h0m-0.7-44.7h0m0.9 50.3h0m0.2-34.2h0m-2-47h0m3.4 83h0m0 5.1h0m-1.3-10.6h0m-0.2-26.6h0m0.2 13.8h0m-0.6-24.9h0m-0.9-31.3h0m0.8 37.8h0m0.4 19.1h0m0.4-18.6h0m-1.7-16.3h0m0.6 50.2h0m0.1-34.9h0m0.8-44.8h0m0.5 50h0m0.3 26.1h0m-0.4-8.7h0m-0.3-14.4h0m-0.3-9.8h0m0.4 2h0m1 50.6h0m-1.1-32h0m-0.2 12.9h0m-1.4-49.2h0m1-25.9h0m-1.7 16.1h0m0.6-3.9h0m0.3 33.1h0m0.2-9.4h0m2.1 28.9h0m-2-59.9h0m1.1 69.7h0m-0.6-5.5h0m-1.2-32.8h0m3.1 3.3h0m-1.9 16h0m2.5 19.4h0m-3.2-20.9h0m-1.3-38.7h0m0.6 35.7h0m1.7 6.6h0m-1.4-53.9h0m0 12.1h0m-0.2-12.5h0m2.9 62.5h0m-0.9-48.9h0m-1.2-2.8h0m-0.1 26.4h0m0.4-39.8h0m3.2 81.1h0m-3.8-76.9h0m-1.3 23h0m3.3 56.6h0m-0.5-16.8h0m0.6 7.7h0m-0.6-57.6h0m0.5 38.9h0m-1.7-31.1h0m1.9 31.6h0m-0.8-25.3h0m-1.5-26.5h0m-0.2 34h0m0.4-5.9h0m0-14.3h0m2.3 59.1h0m-2-53.7h0m0.2 23h0m1.3 19.6h0m-0.7-9.5h0m-0.4-22.7h0m0.5 3.9h0m1.1-0.4h0m-1.5-5h0m-0.7-20.2h0m0.2 32.7h0m0.9 29.8h0m1 8.3h0m0.2-12.8h0m-2.7-55h0m1.2 19.5h0m1.2-9.3h0m-0.6 34.1h0m0.1 7.1h0m-1-51.3h0m1.2 55.2h0m0.6-20.5h0m-3 3.4h0m3.1 4.2h0m-2.8-39h0m1.9 59.8h0m-1.7-36.5h0m1.1 19.8h0m0.1-3.3h0m1.8 20.3h0m-2-32.8h0m1.1-11.3h0m0.2 41.3h0m-2.2-30h0m3 34.4h0m-3.4-85.2h0m1.4 29.8h0m0.6 68.9h0m-1.7-38.9h0m1.7-7.5h0m-1.6-31.9h0m-0.1 46.5h0m1.2-8.4h0m-0.5-1.9h0m-1.5-53.3h0m1.2 74.4h0m2.2 3.1h0m-1.8-32.9h0m-2-28.5h0m3.1 34.9h0m-0.6 22h0m0.2-45.2h0m-0.9 2.2h0m-0.6 14.9h0m0.2 6.5h0m-0.3-26.1h0m1.1-2.9h0m-0.3 25.3h0m0.1-11.1h0m-0.9 20.1h0m3 10.6h0m-3-48.6h0m1.5 50.2h0m0-17.8h0m0-38.5h0m-0.1 22.3h0m0.3 28.6h0m-1.1-29.4h0m-0.7 5.9h0m2.3 7.4h0m-1.2 6.1h0m1.2 8.4h0m-0.9-25.6h0m1 45.9h0m0.2-0.3h0m-0.3-47h0m1.8 61h0m-2-68.3h0m0 62h0m-0.4-20.2h0m-0.7-54.7h0m0.8 52.6h0m0.4-16.5h0m-1.3-8.5h0m-0.4 4.2h0m1.3 12.6h0m0.2-27.4h0m-2.1-28h0m-0.4 4.7h0m1.9 65h0m1-28.6h0m-0.1 33.2h0m0.3-17.4h0m-1.1 9.3h0m0.9-6.6h0m1-0.7h0m-1.8 15.2h0m-1.5-55.2h0m2.8 60.8h0m0.3-13.4h0m-2.4-19.3h0m-0.1-6.3h0m1.6 14h0m-0.4 0.3h0m-2.3-36.9h0m2.9 53.9h0m-0.8-37.5h0m4.3 22.9h0m0.6-20.6h0m1.2-12.6h0m-0.3 12.6h0m-2.8 15.3h0m2.7-11.9h0m0.1-6.1h0m0 13.1h0m-1.8-5.3h0m-0.1 13.5h0m1-23.6h0m-0.3 2.3h0m-0.1 7.1h0m1.4-2.3h0m-1.1-11h0m0.4-0.5h0m-0.1-2.5h0m-2.1 36.5h0m2.8-34.5h0m0.3 4.1h0m-1.6 7.6h0m-0.1-7.2h0m1.3 10.6h0m-0.9-14h0m0 7.6h0m0.9-15.1h0m0.1 8.4h0m-1.6 8.8h0m0.5 17.3h0m-0.7-15.5h0m1.2 8.5h0m0.5-20.3h0m-0.9 16.4h0m-0.3-11h0m0.1 19.7h0m0.8-15.6h0m0-13h0m-0.8 18.7h0m0.7-4h0m-0.2 0.2h0m-2 12.4h0m0.8 3.7h0m0.6-25.2h0m-0.5 5.9h0m2.1-4h0m-0.3-8.3h0m-1.2 26.6h0m0.1 2.4h0m1.4-19.2h0m-0.8 0.1h0m0.1 19.5h0m-0.1-8.1h0m-0.8-5.1h0m0.8-1.6h0m-1.6 7.8h0m1.3-1.8h0m0.8-3.6h0m-0.1-7.8h0m-1.2 5.3h0m0-9h0m0.1-2h0m-1.4 17.9h0m2.9-14.2h0m-0.5 2.8h0m0.1 3.6h0m-1.6 21.3h0m0.1-12.2h0m0-1.6h0m0.1-4.6h0m0.2-5.1h0m-0.7 28.9h0m0.9-30.5h0m0-14.2h0m0.5 17.6h0m0.1 5h0m-0.3-13.5h0m0.7 25.9h0m-1.5-22.3h0m0.2 2.7h0m1.6-20.3h0m-2.2 39.4h0m1-11.3h0m-0.7-18h0m0 9.3h0m1.1-1.7h0m-1.6 30.7h0m0.3-14h0m0.1-27.9h0m1.7-1.3h0m-0.8 19h0m-0.9-0.1h0m1.1 1.6h0m0.2-2.4h0m0.8-15.5h0m-1.1 29.7h0m-0.1-0.8h0m-0.3-17.8h0m-0.4 21.3h0m0.8-15.4h0m-0.7 8.1h0m1.5-7.9h0m-0.6 11.3h0m-0.3-18h0m0-2h0m0.3 7.4h0m-0.1 1.6h0m0.1-3.4h0m-0.4-5.3h0m0.3 3.7h0m-0.4-11.3h0m2.2 18.1h0m-2.9-17.4h0m1.9 17.7h0m-2.5 19.2h0m0.4-38.2h0m1.7 25.9h0m-0.5-19.6h0m-0.1 12.5h0m-1.6 3.5h0m1.2-7.4h0m0.1 3.5h0m-1.9 14.9h0m1.5-1h0m1.2-15.9h0m-1.6 3.8h0m-0.1 0.3h0m2.1-2.2h0m0.6-10.9h0m0.7-3.2h0m-2.2 14h0m-0.8 1.2h0m0.8 3.1h0m-0.1-0.8h0m-0.9 1.6h0m-0.9 13.4h0m1.5-7.6h0m-0.3-5.3h0m0.8-16.1h0m-0.5 8.3h0m1 4.8h0m-0.8 5h0m-0.1-9.8h0m-0.3 0.2h0m0.2 10.8h0m0.5-11.5h0m-1 4.5h0m2.7-28.5h0m-2.2 13.7h0m0.5 8.2h0m0.2 13.6h0m-0.7-14.3h0m1-11.7h0m0.4-5.6h0m-1.2 26.1h0m-0.7 2.1h0m0.3-11.8h0m-1.2 35h0m-1.5-12.4h0m-1.3-6.4h0m1 9h0m5.7 6.2h0m-4.5-16.9h0m-1-3.5h0m0.6 22.8h0m-0.4-1.6h0m0.4 3.6h0m-1.6-20.8h0m2.1 7.9h0m-0.6-7.7h0m-2.1-5.1h0m1.2 12.1h0m1.4 3.3h0m0.9-10.6h0m1.5-1.6h0m-1.2 16.4h0m-2.3-8.4h0m2.7 5.2h0m-3.9-14.4h0m4.3 16.1h0m-1.9-13h0m0.6 19.1h0m-1.7-14.7h0m0.2 6.8h0m-0.2-4.2h0m-1.1-7.8h0m3.2 8h0m0.3 1h0m-0.5 3.1h0m-0.3 2.3h0m-2-4.9h0m-0.2-7.4h0m-0.1 11h0m-2-1.1h0m0.9-2.2h0m4.3 0.7h0m-1.1 6.5h0m0.9-14.3h0m-0.7 9.6h0m-1.8 1.7h0m2.8 3.4h0m-1.6-4.1h0m1.1 4.4h0m0.8-3.4h0m-4.2-7.3h0m1.6 13.8h0m2-11.2h0m-0.6-1.5h0m-0.7-5.7h0m-1.9 10.8h0m-1.7-5.9h0m3.7 0h0m-0.8 8.9h0m0.9 1.7h0m0.1-4.1h0m-1.3 3.7h0m0.3-18.6h0m1.2-3.6h0m0.4 29.2h0m0.6-8.2h0m-2.5-19.3h0m-0.4 12.6h0m-0.3-4.2h0m0.7 2.7h0m1.4-3.9h0m-0.9 5.1h0m0.4-2.3h0m0.2 7.7h0m0.6-3.7h0m-1.6-4.8h0m-0.2 3.4h0m1.6 0.5h0m-2.8-4.9h0m1.1 16.3h0m2.1-21.5h0m-1.6 3.7h0m-0.6 8.3h0m0.3 6.1h0m0.2-16.1h0m0.3 7.3h0m-3.3 7h0m3.8-10.6h0m-0.1 3.4h0m-0.1 0.4h0m0.5 1.4h0m-1.3-1.3h0m0.5-4.9h0m-0.5 14.3h0m2.4-4.7h0m-2.1-21.2h0m0.6 24.8h0m2.1-7.8h0m-1.3 0.8h0m-2 9h0m1.9-11.8h0m-3.1-3.7h0m0.4-6.1h0m1.8 10h0m-0.4 1h0m-0.5-8.6h0m-1.4 6.4h0m37 1.3h0m-0.5-37.4h0m-0.9 14.1h0m2.9 11.1h0m-2.9-30.4h0m2.6 52.1h0m-1.6-43.2h0m-0.8 11.8h0m0.3 6.2h0m-0.1-24.3h0m0.3 34.8h0m-0.4-9.9h0m1.2-5.6h0m0-7.4h0m-0.2-12.4h0m-1.8-2.3h0m2.2 42.4h0m-1.9-51h0m1.5 27.5h0m0.5 16.8h0m-0.5 4.9h0m0.2-28h0m-2.4 14.9h0m2 1.4h0m1 8.9h0m-0.2-16.1h0m-3.4-32.5h0m3.1 22.2h0m-0.5 31.3h0m-0.4-31.5h0m-0.1 4.8h0m1.9 27.6h0m-2.7-40.3h0m-1 8.7h0m2.8 2h0m0.5 23.8h0m-0.7-6.3h0m-0.4-26.9h0m-0.3 12.3h0m1.9 18h0m0.8 15.4h0m-3-38.7h0m-1.1-17.2h0m0.6 26.6h0m0.8-7.7h0m0 0.7h0m1.4 26.9h0m-4-32.5h0m3.3-2.6h0m-0.6 5.2h0m-0.9 0.1h0m2 3.7h0m-1.8-25.3h0m-0.2-0.8h0m1.7 29.7h0m-1.5-19.9h0m-1.1 9.8h0m0.3-11.3h0m0.5 6.1h0m2.4 20.9h0m-1.6-16.9h0m0.5-2.9h0m-0.3 17.9h0m1.7 8.4h0m-1.2 4.8h0m0.9 3.9h0m-1.7-20h0m-1.8-13.1h0m2.4 11.3h0m0.1 6.1h0m-0.6-1.6h0m-1.5-19.8h0m1.9 16.7h0m-1.2 6.9h0m0.8-6.7h0m1.9 26.3h0m-1.1-38.1h0m0.9 23.2h0m-0.7-13.6h0m-1.9-7.2h0m-0.3-12.1h0m1.3 30.7h0m-1.3-13.8h0m0.2-11.8h0m-0.7 2.5h0m4.3 31.2h0m-0.2 14h0m-1.7-31.1h0m-1.9-7h0m2.9 20.3h0m-0.6 3.3h0m-0.3-18.5h0m0.4 20h0m-1.2-37.8h0m-1.2 33.4h0m2.4 5.3h0m-1-4.9h0m-1.1-7.8h0m-0.4 3.6h0m1.6 1.9h0m0.5-4.8h0m-1-22h0m1.7 8.8h0m-0.7 1.3h0m-1.1-13.1h0m0.3 8.7h0m1.8 34.2h0m-0.2-19.6h0m-0.5 9.1h0m-2.3-29.2h0m2 23.9h0m-1.9-23.4h0m0.9 18.9h0m-0.9-14.2h0m0.4-1h0m0.4 17.5h0m1 8.2h0m0.5 7.6h0m-1-7.9h0m-0.6-40.5h0m0.5 12.5h0m-0.8 1.1h0m1.1 9.9h0m-2.6-19.2h0m1.7 14.2h0m1.2 10.1h0m-0.5 11.5h0m1-4.4h0m-1.1-10.9h0m1.5 12.5h0m-1.1-19.4h0m0.8 16.9h0m-0.1 0.8h0m-1.4-14.7h0m0.9-0.3h0m-2.5-13.9h0m1.1-2.6h0m2.2 29.5h0m-1.1 13.6h0m-2.6-48.5h0m1.8 34.7h0m0.2 2.4h0m0.1-21.9h0m-0.6 0.4h0m1.6 24.6h0m-1.3-15.4h0m-0.1 13h0m2.5 13.4h0m-0.8-2.6h0m-0.5-26.9h0m0.1 11h0m-1.1-12.9h0m0.4 8h0m0.1-6.4h0m-1.1-10.8h0m3.3 33.2h0m-3.1-16.1h0m1.4 21.6h0m-0.5-9.5h0m1 0.1h0m0.1-13.3h0m-0.5-1.2h0m1.1 20.3h0m-1.2-11.2h0m-0.5-3.7h0m0.4 3.1h0m-1.2-9.8h0m0.2-8.7h0m2.6 38.1h0m-3.9-54.9h0m3 52.2h0m-1.7-35.8h0m1.2 8h0m1.9 27.2h0m-2.6-32.8h0m-0.2 12.4h0m0.7 2.9h0m1.2 23.8h0m-1.9-31.6h0m2-0.7h0m-0.3 5h0m-0.4 16.6h0m3.6-5h0m1.5-31.1h0m0.4-11.5h0m-0.7 18.8h0m-1.8 7.2h0m-0.4 2.1h0m0.9-8.2h0m-0.2 12.2h0m1.7-29.6h0m-1 29.2h0m-0.1-13.1h0m-0.9-0.3h0m1.2-2.1h0m0.7 11h0m-0.7-8.7h0m0.4-18.3h0m-2.3 21.8h0m4.8-28.1h0m-2.5 13.9h0m0-0.5h0m-0.5 20h0m-0.1-1.5h0m0.6-3.7h0m1.5-14.4h0m0.2-9.6h0m-0.2 4.4h0m-4.3 24.9h0m2.8-16.3h0m-1.8 23.8h0m1-8.7h0m1.9-12.3h0m-2.4 7.4h0m1.1 13h0m1.2-27.4h0m-1.6 20.7h0m-1.3 9.8h0m3.5-42.5h0m-3 38.4h0m0.5-6.6h0m-0.1-5.1h0m0.4-0.7h0m1.5-16.2h0m-1.5 1.6h0m-0.7 11.2h0m1.9-10.4h0m-2.1 5.8h0m1.5 3.2h0m0.2 14.6h0m0.2-10.1h0m1.4-15.9h0m-2.4 27.8h0m0-12.3h0m0.2-0.9h0m1 4.6h0m-2.4-14.7h0m2.4 5.9h0m-1.1-4.5h0m-0.9 25.4h0m-0.5-4.2h0m3.1-12.8h0m-0.1-11.5h0m-0.5 10.7h0m-0.2-20.3h0m-1.8 30.1h0m1.2-10.9h0m-0.3 7h0m1.4-17.9h0m-0.5 11.6h0m0.5-11.2h0m-1.7 22.8h0m0.2-7.8h0m0.5 1.3h0m-0.4-3.5h0m0.6-0.2h0m-0.6-0.5h0m1.6-8.7h0m-1.9 1h0m1.1 9.6h0m-1.8 4.2h0m-0.5 8.4h0m1-2.7h0m3.6-38.5h0m-3.1 39h0m0.3-22.6h0m1-1.7h0m-0.2 4.5h0m-0.5-1.3h0m-1.1 13.2h0m-0.5-0.2h0m2.6-20.7h0m-3 33.4h0m3.2-38.1h0m-0.2 10.9h0m-1.6 14.6h0m1.4-18.9h0m-1 11.6h0m-0.7-2.5h0m1.8-15.5h0m-1.4 27.7h0m1.9-24.7h0m-3.5 23.3h0m-0.6-0.7h0m3.5-26.3h0m-1.1 26.2h0m-0.8 1.6h0m1.1-10.3h0m1.3-2.3h0m-2 13.1h0m-0.2-18.1h0m-0.4 9.9h0m2.2-11.9h0m-2.1 29.7h0m0-4.3h0m0.3 0.7h0m1-16.7h0m-1.1 17h0m0.4-12.1h0m0.3-2.3h0m-1.7 2.4h0m2.9 2h0m-1.8 1.4h0m-1.1 14.7h0m1.1-11.4h0m2.2-15.5h0m-2.2 6.7h0m0.5 15.5h0m-0.6-1.4h0m2.1-23.6h0m-0.5 1.7h0m1.1-14h0m-3.1 32.8h0m0.7-6.2h0m1.3-1.3h0m-1.9-4.9h0m0.3 19.3h0m1.2-10.5h0m-0.7-2.7h0m-3.2 15.1h0m4.8-22.1h0m-0.5-9.8h0m-0.8 9.1h0m-0.8 11.2h0m-1.3 8.6h0m3.1-26h0m-1.9 8.6h0m0.7-7.9h0m0.9-3.1h0m-2.2 15.6h0m1.2-1.8h0m-0.7-0.3h0m-0.3-3.3h0m2-9.1h0m-0.3 16.6h0m-2.1 10.5h0m0-8.4h0m0.7 2.1h0m1.8-18.4h0m-0.7 17.9h0m1.5-8.9h0m-1.6 11.8h0m-0.7 9.1h0m-1.3-2.3h0m1.6-11h0m1.5-8.7h0m0.1-6.2h0m-1.6 2.5h0m1.7 0.6h0m-2.5 13.9h0m1.6-5.5h0m1.4-4.1h0m-2-7.5h0m2.5-8.5h0m-1.8 20.2h0m0.7-10.8h0m-2.6 14.3h0m2-17.7h0m-0.6 13.5h0m2.6-31h0m-2.6 6.1h0m-0.6 3.9h0m0.4 19h0m1.6-11.2h0m-3 39h0m-1.5-10.9h0m1.8 0.6h0m-2 7.1h0m1.9-5.7h0m1.7 14.2h0m-4.2-21.4h0m0.7 10.2h0m-0.9-17h0m1 12.3h0m0.5 0.7h0m-0.7 9.1h0m1.9 6.6h0m-2.9-24.5h0m3.6 17.4h0m-0.9-4.8h0m-1.2-3.4h0m1.9 6.2h0m0-14.2h0m-0.2 18.4h0m-0.5-1.4h0m1.6-4.1h0m-1-3h0m-0.1 2.7h0m-1 0.6h0m1.6 13.3h0m-4.5-29.8h0m1.6 17.9h0m1.2-6.7h0m3.3-1.6h0m-4.3-5.5h0m1 3.7h0m-0.6-6.8h0m1.5 17.4h0m-2 5.3h0m1.2 5h0m-2.1-26.9h0m0.1 11h0m2.6 6h0m1.1 0.6h0m-2-13.6h0m0.7 22.2h0m1 0.4h0m-0.3-20.8h0m-1.6 9.7h0m1.5 0.9h0m-2.8-4.5h0m2.2-5.3h0m0.2 17.7h0m-1-3.8h0m0.2-14.3h0m1.2 11.3h0m-1.6-7.3h0m1.3-6.4h0m-2.7 6.1h0m0.1-1.8h0m2.9 0.6h0m0.7 15.7h0m-3.1-11.8h0m1.5 3.1h0m-1.1 2h0m2.4 2.6h0m-1.7-8.4h0m-0.7-9.2h0m1.5 7.8h0m0.2-11h0m-0.1 4.8h0m0.1 6.9h0m0.8-9.9h0m-1 20h0m-0.1-2.8h0m-2.8-20.7h0m4.9 18.3h0m-4-1.8h0m1.6-4.4h0m0-1.3h0m0.1 16.9h0m-0.7-4.4h0m2-3.7h0m0.1-12.4h0m-2.5-0.1h0m2.7 19.6h0m-1.3-17.4h0m-1.6 11.4h0m0.5-7.6h0m3.2 1.9h0m-1.2-6h0m-1.1 2.2h0m-2.5-6h0m3.9 14.1h0m-1.6-13h0m2.9 17.3h0m-1.4-7.9h0m-1.9-9.5h0m-2.1-2.2h0m1.4 15.7h0m-0.3-24.7h0m2.2 22.5h0m-4.2-8.5h0m3.3-2.7h0m0.4-1.4h0m-1.9 5.2h0m2.6 6.5h0m-1.8-4h0m36.1 5.1h0m-1.4-50.4h0m-1.3 14.5h0m0.5-16.1h0m2.3 51.5h0m-2.2-28.6h0m0.3 13.1h0m1.9 1.8h0m-3.7-38.3h0m2.1 34.1h0m-0.2-11h0m0.5 8.3h0m-0.5-16.2h0m0 25.5h0m1.8 5.5h0m-3-19.3h0m1.1-11h0m0.6 14.5h0m0 0h0m1.4 16.8h0m-2.1-12.5h0m1.7 28.1h0m-0.5-47.5h0m-1.5 3.5h0m0.4 1.6h0m-0.2-0.2h0m1.8 28.2h0m-1.1-37.4h0m-0.8 26.1h0m0.1-4.4h0m1.4 19.9h0m-1.7-36h0m2.3 38.6h0m-1.9-35.6h0m0.4 13.3h0m0.7 9.7h0m-0.3-15.1h0m0.2-8.6h0m0.3 14.9h0m0 9.5h0m0.1 4.6h0m-0.5-25.1h0m0.9 20h0m-2.2-48.6h0m0.8 22.3h0m0 0.2h0m2.2 7.1h0m-2.1 11.1h0m-1.4-36.4h0m0.8 35.7h0m1.9 12.3h0m0.5-20.9h0m-0.1 16.3h0m-1.1-23.8h0m-1.8-4.4h0m3.1 38.5h0m0.9 4h0m-2.4-29.9h0m1.7 35.4h0m0.5-15.7h0m-3.1-25.6h0m2.8 27.2h0m-1.4-12.7h0m-1.6-3.8h0m-1.4-26.3h0m1.3-2.1h0m3.1 53.3h0m-2.5-44.8h0m0.3 14.3h0m-0.6-8h0m0.5 3.9h0m-0.2 10.4h0m3 12.8h0m-1.9-12.5h0m-2.6-6.2h0m2.6 23.6h0m-1.8-33.1h0m0.9 11.9h0m-1-9.7h0m1.7 24.3h0m0-17.9h0m-2.6-27.9h0m2.6 4.2h0m0.5 37.4h0m-3.8-40.1h0m1.6 3.8h0m1 4.6h0m1.6 56.2h0m-2.3-35.7h0m-1.3-19.2h0m3.2 36.5h0m-1.8-32.1h0m0.8 12.3h0m1 13.8h0m-1.3-10.3h0m1.9 24.7h0m1.4 11h0m-2.9-30.6h0m-0.3-10h0m0.1-0.2h0m1.3 18.9h0m-1.6-11.5h0m1.2 3.4h0m0.6-4.5h0m-0.7 11.4h0m-0.7-7.8h0m-2.1-25h0m2.6 37h0m0-16.7h0m-0.4-3.2h0m-0.8-13.2h0m0.5-3.7h0m0.5 12.6h0m-0.4 2.1h0m-0.5 2h0m-0.2-1.2h0m1.4 8.4h0m-1-5.7h0m1.7 17.7h0m0.2-12.3h0m-1.2-1.8h0m1.3 29.5h0m-1.3-27.9h0m-1.9-39.2h0m2.9 29.6h0m-3.1-13.3h0m-0.6-14h0m1.7 26.1h0m0.2 7.3h0m2 11.2h0m-2.4-27.7h0m3.4 37.9h0m-3.6-32.7h0m1.8 20.3h0m-2.1-26.8h0m3 40.2h0m-2.4-22.8h0m1.8-6.1h0m0.9 37.3h0m-1.9-27.8h0m-0.7-12h0m0.4-0.7h0m1 26h0m-3.4-45.3h0m-0.3 6.6h0m0.8-2.2h0m3.2 39.5h0m-1.3-28.7h0m1.1 11.7h0m-1.6-15.9h0m1.5 37.7h0m0.5 3.6h0m-0.7-18.5h0m-0.4 12.8h0m-1.4-43.1h0m0.1 24.1h0m0.8 8.7h0m0.5-10.7h0m1 10.7h0m-2-27.1h0m2.2 34.6h0m-2.2-47.8h0m-2.3 13.8h0m4.5 29.6h0m-1.3 7.9h0m3.6 9.5h0m-2.3-19.4h0m-1.1-4.8h0m1.4 27.1h0m-3.8-55.7h0m3.3 35.8h0m-2.5-19.1h0m0.6 16.5h0m-0.8-18.8h0m-1.2-9.8h0m3.2 39.8h0m-0.4-40.2h0m1 34.3h0m-1.1-3h0m-1.1-35.1h0m-0.2 7.3h0m0.9 8h0m-0.9-1.1h0m0.9-4.2h0m-0.2 16.7h0m-1.8-31.7h0m1.3 12.6h0m2.2 28.3h0m0.2-7.6h0m-1.5-11.6h0m0.9 11.9h0m-1.2-22.5h0m-0.8-5.5h0m3.3 41.1h0m-2-4h0m0.5-27.8h0m-1.7-2.3h0m4.3 40.2h0m-2.2-20.8h0m-3.3-30.4h0m3.8 47.2h0m-2.3-29.7h0m2.1 21.2h0m-1.6-38.6h0m-1-11h0m-0.2 27.2h0m3.6 39.4h0m-1-22.9h0m7 16.7h0m-0.8-47h0m-0.9-2.8h0m3.3 17h0m-1.7 33.1h0m-0.3-42.3h0m1 8.4h0m-0.2 10.5h0m-1.1 18.6h0m1.4-39.6h0m-0.9 6h0m0.4-6.8h0m0.1 18.7h0m0.1 12.5h0m-0.2 23.5h0m0.2-8.2h0m-0.8-13h0m-1-9.2h0m0.8-32.9h0m0.3 21.2h0m0.2 29.3h0m0.3 6.7h0m-0.3-10.9h0m0.5-40.2h0m0.2 18.8h0m-0.3 3.1h0m-0.4-7.7h0m0.4-15.8h0m-1.1 24.5h0m2.5 33.2h0m-2.8-26.1h0m-1.1 23.7h0m1.7-24.5h0m1.9-37h0m-1.1 51.7h0m0.6-29.4h0m-1.4 13.4h0m0.1 5.4h0m0.3-16.2h0m-0.5 1.6h0m-0.5-16.7h0m2 36.2h0m-0.2-27.7h0m-1.5 26.5h0m1.6-42.8h0m-0.6 44.1h0m0.6-14.3h0m-0.8-0.7h0m-1.4-5.1h0m1.1 33h0m0.3-12.7h0m-0.2-9.7h0m-0.4 2h0m0.9 13.9h0m1.2-9h0m-2.1-27.6h0m0.4 18.3h0m0.8 10h0m0.9-34.2h0m-2.5 34.3h0m1.4-37.9h0m1.5 38.3h0m-2.3 13.1h0m0.7-28h0m0.2 0.9h0m0.3-11.6h0m-0.3 13.1h0m-0.2 0.8h0m-0.8 5.4h0m2-35h0m-0.6 31.8h0m0.2 9.8h0m-1.9-10.1h0m0.6-33h0m-0.2 37.7h0m1.2-4.9h0m-0.3-10.2h0m-0.9 21.7h0m1.4-7.2h0m-1.9 28.6h0m1.9 1.4h0m-1.1-55.6h0m0.5 34.5h0m-0.6-0.9h0m1.1 10h0m0.2-20.6h0m-0.2-0.9h0m0-14.9h0m0.2 41.9h0m-1.2-53.1h0m-0.4-8.1h0m0.7 48.5h0m-1-2.9h0m0.8-20.3h0m-0.5 16.2h0m1.1 0h0m0 5.5h0m-1.8 1.6h0m2.4-18h0m-1.6-11.7h0m0.4-14.8h0m-0.8 16.9h0m0.7 5.3h0m-1.1 2.4h0m1.4-14.2h0m-0.2-4.6h0m0.5 18.6h0m-0.6-0.3h0m1 3.1h0m-2.5 17h0m2.2-32.4h0m-0.3-3.6h0m-1.6 31.2h0m2-23.2h0m1 16.5h0m-1.6-12.5h0m0.7 26.9h0m-1-22.2h0m0.1 22.8h0m1-33.2h0m-1.2 29.7h0m0.7-32.2h0m-1.6-0.3h0m1.7 36.4h0m-0.2-1.6h0m1.5 13h0m-1.7-8h0m0.8-33h0m-1.5 26.4h0m0-25.4h0m-0.7 7.9h0m0.8 6h0m0.8-13h0m0.7 37.6h0m-1.3-33.8h0m0.4-25.4h0m-1 10.4h0m0.9 0.5h0m-0.1 1h0m2 25.1h0m-2.5 4.1h0m0.7-10.7h0m-1.9-7.5h0m0.1-25h0m2.8 55.6h0m-0.8-7.4h0m-0.7-48.1h0m1.2 26.7h0m-1.9 26.9h0m1.5-24.4h0m-1.4-5.1h0m-0.4 1.5h0m1.8-12.1h0m0.2 14.7h0m-1.7 24.6h0m1.8-7.3h0m0-27.1h0m-1.1 12.2h0m0.6 2.6h0m0.2 19.6h0m0.2-17.4h0m-0.5 10.3h0m1.2-17.7h0m-0.8-14.4h0m-2.2 31.8h0m1.9-42h0m-0.4 24.8h0m0.8 34.7h0m-0.8-5.7h0m1-14.9h0m-1.6-14.2h0m0.5 31.9h0m0-32.2h0m1.9-0.3h0m-3.2 39.6h0m2.3-35.4h0m-1.3 9.4h0m0.4-9.9h0m0.2-15.3h0m0.4-9.6h0m0.3 9.4h0m0.4 19.1h0m-3.4 12.9h0m-0.4-1.7h0m-1.5 7.7h0m-1.3-0.2h0m-0.2-5.6h0m1.9 1.1h0m-1.8-4h0m3.5 8.4h0m0.4-9.7h0m-0.5 6.3h0m-3.8 0.8h0m1.7-3.4h0m1 7.8h0m-0.3-4.8h0m-1.5-3.6h0m-1.1 9.9h0m0.3-21.8h0m1.1 18.8h0m2.1-4.2h0m-1.4 7.6h0m-1.7-9.1h0m1.9 1.1h0m1.3 12.4h0m-0.5-11.6h0m-0.7-6.9h0m1.6 15h0m-0.6-11.8h0m-1.5-3.9h0m3.3 4.7h0m-3.2 2.7h0m-0.7-10.2h0m-0.1 19.6h0m0.2-16.5h0m0 3.9h0m-0.3-9.7h0m1.4 9.9h0m1.1-5.7h0m-0.4 2h0m0 19h0m-2.2-11.7h0m1-3.2h0m-1.1 8.8h0m3.4-16.4h0m-4.6 5.5h0m6 8.8h0m-3.4-13.3h0m-0.7 11h0m0.1-10.2h0m-0.9 4.7h0m3 11.2h0m-3-2.1h0m2.3-1.6h0m-2.2-8.4h0m1.6 19.2h0m0.4 1.3h0m-0.2-23.6h0m2.2 4.5h0m-1.7 12h0m-0.7-12.7h0m0-6.7h0m0.9 14.2h0m0.7 6.7h0m-1-1.1h0m-1-18.3h0m-2.3 22.1h0m-0.2-17.3h0m2.7 7.7h0m-2.5-16.3h0m5.1 13.9h0m-0.5-3.4h0m-0.4-1.9h0m-4.9 0.7h0m-0.1-2.6h0m1.2 4.6h0m2.5-2.9h0m1.2 11.8h0m-1.2 6.4h0m0.3-14h0m0.2 13.8h0m-2.9-18.4h0m1.2 9.2h0m0 5h0m2-5.2h0m-2.9-7.9h0m2.2 10.9h0m-1.1 4.3h0m2.3-2h0m-0.9 3.4h0m-1.4-10.7h0m1.1 10.8h0m2.1-3.6h0m-2.2-4.6h0m-3-9.2h0m3.2 2.3h0m-1.3-13.2h0m-2.7 19.2h0m2.8-5.8h0m2.7-1.2h0m-4.8-3.5h0m3.1 9.1h0m-1-7.1h0m1.7 6.1h0m0.5 10.2h0m-1.4-22.9h0m-149.3-65.8h0m-8.4 10.6h0m7.9 80.4h0m69.6-70.7h0m-10 83.9h0m83.4 21.7h0m-116.1-32.2h0m7.1 1.3h0m72 10.5h0m36.5-81.8h0m41.1 63.6h0m2.8 21.7h0m-4.1-68.9h0m3.9 66.7h0m-3.5-26.8h0m1.9 2.4h0m0.7 24.3h0m-3-35.3h0m1.3 10.9h0m0.9-5.1h0m-0.6 25.5h0m2.1 9.3h0m-4.8-67h0m3.4 66.2h0m-2-35.8h0m4.1 44.2h0m-1.7-22.2h0m-0.3-12.8h0m0.7 10.7h0m-3.8-49.7h0m1.8 18.1h0m-0.8-26.8h0m3.5 62.1h0m-5.2-58.8h0m4.2 50.7h0m2.2 30.1h0m0.5-5.7h0m-3.4-27.4h0m2.8 41.3h0m-1.1-28.6h0m-4.4-36.6h0m1.4 13.9h0m-0.7-9.1h0m1.7 17.7h0m-0.4-22.3h0m1.2 40.5h0m-2.3-52.1h0m3.3 54.3h0m-1.2 0.2h0m0.3-13.1h0m0.4 14.6h0m-3.4-30.1h0m0.5-13.8h0m2.8 50.5h0m0.2-5.2h0m-0.8-16.5h0m-0.4-6.4h0m-1-7.9h0m0.7 20h0m1.1 17.1h0m-2.8-41.7h0m-0.8-17.2h0m3.4 35.4h0m0.8 8.8h0m-1-4.5h0m0.5-8.9h0m-2.2-11.1h0m0.7 14.9h0m0.2-7.3h0m1.9 36.2h0m-2-35.6h0m-1.7-36.7h0m2.1 42.1h0m0.9-14.6h0m-1.9-8h0m0.1-2.9h0m-1.8-35.3h0m1.5 44.4h0m0.1 3.3h0m-0.3-2.2h0m0.7-13.5h0m1.2 34.8h0m-1.9-28.6h0m-0.4 9.5h0m0.5-10.6h0m-1.7-17h0m2.1 31.5h0m1.2 3.6h0m1.2 18.8h0m-3.7-46.7h0m3.4 57.5h0m0-11.4h0m-0.2 16.2h0m-1.5-41.5h0m2.5 15.3h0m-3.4-27.3h0m1.9 21.9h0m-1.3-7.3h0m-0.1-9.4h0m-2.2-22.6h0m3.7 38.5h0m0.9 33.3h0m-3.6-80.2h0m0 5.7h0m2.7 32.8h0m-2-14.5h0m1.6 25.6h0m1.4 33h0m-0.5-4.9h0m-3.1-45.1h0m1.4 5.8h0m-2.1-22.9h0m3.2 43.8h0m-2.1-48.2h0m1.5 38.1h0m-2.4-51.1h0m1.8 31.9h0m0.3 7.2h0m-2.7-41.9h0m3.6 44.5h0m0.2 21h0m-1.6-33h0m1.3 17.2h0m1.5 10.2h0m-1.4 16.4h0m0.4-11.4h0m0.1-9.5h0m0.9 19.6h0m-4.5-59.2h0m-1.4-10.6h0m5.9 86.9h0m-4.4-80.4h0m0.8 24.7h0m0.5 0h0m3.5 33.8h0m-5.2-53.9h0m2.2 21.2h0m2.6 25h0m-1.3-11.6h0m-1.6-0.9h0m-0.2 4h0m0.6-10.1h0m-1.4-42h0m2.8 54.2h0m-0.6-5.4h0m-0.4-1.7h0m1.2 25.3h0m-2.8-45.5h0m0.5-18.1h0m1.5 32.7h0m-2.8-36h0m1.9 18.3h0m-3.5-33.3h0m4.2 54.4h0m-1.1 0.6h0m-2.7-32.9h0m1.9 17.1h0m2.4 15.3h0m-2.8-39.6h0m-0.1 20.4h0m-1.2-21.1h0m2.6 32.2h0m-1.4-9.4h0m2.4 33.6h0m0.8 7.4h0m-0.7-30.8h0m0.5 37.1h0m2.3 8.2h0m-1.3-11.8h0m-0.7-8.2h0m-0.8-11.3h0m-1.5-44.7h0m-1 25.9h0m2.7 11.8h0m-1-4.3h0m1.5 3.4h0m-0.5-4.3h0m-1.6-11.2h0m1.7 29.5h0m-1.7-26.7h0m0.3 17.8h0m1.3 0.3h0m-3.9-33.2h0m4 34.4h0m-2.8-30.3h0m1.4 4.9h0m1.7 47.1h0m-2.4-37.4h0m2.6 23.8h0m-2.9-32.7h0m2.4 21.8h0m-1.9-28.7h0m-1.9-28.5h0m2.2 39h0m-1.8-8.6h0m2.6 6.6h0m1.3 11.2h0m-1.7-9.2h0m-0.2 13.4h0m-1.1-12.2h0m1.7 39.2h0m-3.6-58.6h0m-0.3-15.4h0m1.6 7.2h0m0.9 25.1h0m-2.5-29.1h0m4.6 51.5h0m-5.1-53h0m8 86.4h0m-1.4-8.4h0m-3-41.1h0m1.9 4.1h0m-1.4 29.3h0m2.5-17.2h0m-2.2 4.4h0m0.5-7h0m-3.9-33.1h0m1.2 24h0m2.9 30.9h0m-2.8-58.6h0m2.8 40h0m0.2 4.5h0m-1.7-27.5h0m0.2 13.4h0m-2.9-27.9h0m2.3 10.5h0m1.1 13.8h0m-1.2-4.5h0m5.6 61.2h0m-3.6-35.9h0m-0.3-22.6h0m-1.1-4.3h0m4 52.1h0m-4.3-58.7h0m1.5 32.1h0m0.2-14.6h0m0.2 20.6h0m-1.1-20h0m-0.5-14.1h0m0.5 6.6h0m-0.6 6h0m2 20.9h0m0.3-13h0m-2.3 1.7h0m0.6-4.2h0m-1.2-11.5h0m-0.1-10.4h0m-1.3-13.8h0m0.2 12.4h0m1.4 11.5h0m1 2.4h0m0.8 25.1h0m0.9 8.5h0m-0.5-16.7h0m-0.2-10.3h0m-2.6-24.8h0m2.9 43.9h0m-2.3-30.4h0m2.8 46.2h0m0.5-7.8h0m-4.8-50.1h0m2.8 0.4h0m0.1 54.5h0m-1.9-41.3h0m2.9 19.6h0m-0.4-9h0m-2.2-8.3h0m-1.7-18.5h0m2.8 9h0m-2.5-11.6h0m0.1-41.3h0m0 10.7h0m0.1-7.6h0m0 4.9h0m-0.2-10h0m0.1 9.7h0m0.4-9.9h0m-1.2 7.4h0m0.1-5.9h0m0 3.6h0m9.1 35.4h0m0.2 14.4h0m-0.5 14.8h0m-0.6 6.1h0m1.1-16.4h0m-0.6-11.8h0m1.1-5.7h0m0.2-5.8h0m-1 22h0m-0.5 9h0m0.8-20.2h0m0.8-4.7h0m-1.7 13.9h0m2.6-26.1h0m-1.4 26.8h0m-0.1-23.8h0m0.5 9.5h0m-1.5 8.6h0m-0.1-2.7h0m1.6-5.1h0m0.4 18.6h0m-2-10.3h0m0-0.2h0m-0.1-1.9h0m1.4 5.3h0m-0.6 8.6h0m-1.3 0.9h0m2.4-20.3h0m-0.5-15.1h0m-1 25.4h0m1.1-12.8h0m1.1 32.5h0m-2.2-22h0m0.3-9.1h0m0.2 7.9h0m-0.8 7.4h0m-0.9 5.5h0m2.7-20.8h0m-0.7 5.8h0m1.4-22.1h0m0.2-1.8h0m-1.7 4.5h0m-0.7 28.2h0m-0.7 9.8h0m3.1-28.9h0m-2.2 5.3h0m0.6-0.4h0m0.4 1.8h0m-0.2-21.1h0m-1.6 32h0m0.1 17.4h0m1.2-38.7h0m0.5 29h0m-0.3-17.2h0m-0.5 0.4h0m0.5 14h0m0.3 2.6h0m0-27.9h0m-0.3 33.4h0m0.6-7.9h0m-0.4-17.3h0m-1.8 7.3h0m1.3-25.2h0m0.5 29.7h0m0 11h0m-0.5-21.3h0m0.4-10.1h0m-0.7 10.5h0m-0.4 20.1h0m0.6-19.8h0m1-15.3h0m-1.1 35.6h0m0.8-26.7h0m-1 9.4h0m0.6 4.8h0m-1.2 23.7h0m1.3-23h0m-0.1-4.4h0m-0.9 12.6h0m1.2-24.2h0m0.2 11.9h0m-1.4 0.6h0m2.6-26.7h0m-2.1 28.4h0m1.2-9.3h0m-1.9 18.4h0m1-28.8h0m-0.8 19.6h0m1.2-1.6h0m-0.4-8.6h0m0.8-3.6h0m-0.1 10.9h0m0.2-11.4h0m-1.7 44.5h0m1-31.3h0m0.2-14h0m-1.5 18.5h0m2.3-19.2h0m-1.4 26.2h0m1.1-26.3h0m-0.7 37h0m0-22.6h0m-0.8 5.6h0m0.2 12.9h0m-0.6-13h0m0.3-7.2h0m0.3 13h0m0.3-11.9h0m-0.2-0.5h0m0.1 2.3h0m-0.3-5.3h0m1.1-13.7h0m-1 47h0m0.7-26h0m-0.9 15.3h0m1-7.2h0m-0.3-18.6h0m-0.4 32.4h0m0.2-26.9h0m-0.4 23.3h0m1.2-43.8h0m-1 20.7h0m1.3-22.7h0m-0.2 19.4h0m-0.2-9.4h0m-1.3 17.6h0m0.6-5.3h0m-0.4 17.6h0m0.3-17.7h0m-0.2 1.9h0m-0.9 22.8h0m-0.1 2h0m-2.8-7.4h0m-2.2-9.1h0m2.7 6.8h0m-1 8.5h0m2.8-4.9h0m-3.7-10.7h0m-0.8-3.9h0m3.4 9.5h0m0.1 17.6h0m-3.3-24.8h0m-0.8 8.1h0m3.9-2.9h0m0.1 6.5h0m0.6 4.1h0m-1.5-7.8h0m0.3 6.6h0m-3.2-18.9h0m0.7-0.3h0m1.8 20.6h0m2.7 6.3h0m-0.5-19.4h0m-1.6 15.5h0m-1.4-18.5h0m-0.8 7.3h0m3.9 13.6h0m-1.6-12.9h0m3.2 7.3h0m-6.5-17.7h0m3.6 17.4h0m-0.3-7.2h0m0.9 2.6h0m-1.4-7.8h0m0.2 11.7h0m0.3-14.5h0m-1.3-0.8h0m-1.4 6.2h0m3.5 11.2h0m-3-9.1h0m-0.2-1.8h0m4.8 20.7h0m-2.3-9.6h0m-1.8-13.1h0m3.8 14.2h0m-3.2-1h0m1.3 0.8h0m-1.5-4.3h0m4.1 7h0m-1.6-4.6h0m1.1 1.3h0m-4.7-8.7h0m3.3 1.2h0m0.4-1.4h0m0.3 15.3h0m-2.3-10.8h0m1.6 2.8h0m3.2 4.5h0m-3.1-7.3h0m-5.4-15.1h0m2.4 4.2h0m3.6 2.2h0m-1.1-1.6h0m-0.8 6h0m-2.4-6.6h0m3.7 14h0m-3.3-19.5h0m0.7 16.7h0m6 2h0m-6.3-0.7h0m3.4-6h0m-1.3 9h0m-2.6-13h0m1.1 6.7h0m1.2 7.1h0m2.6 2.2h0m-4.3-12.2h0m2.3 2.5h0m-1.1-4.6h0m-1.5-0.1h0m-1.8-6.6h0m3.1 15.6h0m1.8-11h0m-1 4.4h0m-2.7-7.4h0m1.9 10.4h0m0.9-1.3h0m-3.4-2.8h0m5.4 2.8h0m0 11.8h0m-1-3h0m-0.5-4.3h0m1.6 4.6h0m-3-7.6h0m-0.9 5.1h0m3.2-3.9h0m-3.2-5.6h0m2.8 6.1h0m-1.3-6.9h0m1.9 12.2h0m-2.2-8.2h0m-0.2-4h0m1.4 6.8h0m0.1 9.3h0m-0.9-11h0m-1.3 9h0m1.3-12.4h0m-3.5-4.2h0m1.7 4.9h0m0.7-4.4h0m-0.1-2.7h0m-0.7 4.7h0m1.6 8.9h0m-2.5-8.8h0m4.3 13h0m-2.2-5h0m-1.3 0.3h0m1-17.5h0m2.3 13.8h0m1.4 3h0m-4.1-4.8h0m3.6 9.6h0m-0.2 2.9h0m-4.7-16.3h0m4.2 21.1h0m-0.9-9.7h0m-0.1 0.7h0m0.4 3.7h0m-2.1-24.6h0m1 8.5h0m34.5 12h0m1.5 5.1h0m-2.1-11.7h0m0.2 10.9h0m-0.2-24.9h0m0.8 17h0m-1.3-33.7h0m1.8 35.8h0m-0.9-13.8h0m0 10.4h0m1-12h0m-1.1-5.3h0m0 31.9h0m0.6 2.8h0m0.6-2.8h0m1.4 2.5h0m-4.4-43.6h0m3 44.4h0m-2.2-21.8h0m2.9 30h0m0-19.2h0m-0.8-4.6h0m-0.7-13.9h0m-3-10.6h0m4.7 45.2h0m-0.5-18.4h0m-1.1-6.5h0m-1.8-11.3h0m2.7 39.6h0m0.7-27.6h0m-0.5 0.8h0m0.3 27.8h0m0.1-10.1h0m-1.3-21.2h0m0.7 20.1h0m-1.5-15.4h0m1.2 13.5h0m0.8-24.9h0m-1.2 23.3h0m-1.4-28.5h0m3.7 41.9h0m-3.3-49.6h0m2.1 23.7h0m-2.3 5.9h0m2.6-1.7h0m0.8 14.3h0m-0.6 8.1h0m-2.6-30.5h0m2.7 4.8h0m-3.9-14.3h0m2.2 2.1h0m-1-13.4h0m-0.1 6.8h0m4.4 47.4h0m-3.7-27.2h0m-1.5-27h0m2.8 50.1h0m-1.6-44.6h0m0.6 18.9h0m-1.6-12.1h0m0.7 3.7h0m0.8 4.6h0m2.4 21.2h0m-0.4 15.2h0m-2.5-42.1h0m1.4 15h0m-1.2 10.1h0m2 9h0m-1-2.2h0m-0.3-11h0m-3.2-44.9h0m2.9 38.6h0m1.3 20.3h0m-1.8-25.6h0m1.8 29.3h0m-0.6-27.7h0m-1.6-17.6h0m1.8 20.1h0m-0.8 8h0m0.4 4.7h0m-0.7-20h0m-0.2-5.5h0m0.7 14.9h0m2.4 8.4h0m-1.6-18.9h0m-2.6-20.6h0m0 11.5h0m1.5 4.7h0m1.2 22.9h0m0.1 12h0m-1.6-24.5h0m0.4-10.5h0m-1.4-25h0m0.8 21.9h0m2.1 25h0m-1.2 13.3h0m0.8-14.4h0m-0.6-12.5h0m0.7 0.4h0m-1.2 20.9h0m0.6-23.8h0m-2.5-15.7h0m0.3-12.3h0m0.4 19.2h0m1 9.6h0m1.7 30.6h0m-2-31.7h0m1.8 15.4h0m-2.3-16.8h0m2.1 9.6h0m-1.9-15.8h0m0 10.1h0m0.7-13.8h0m2.5 18.4h0m-1.3-1.9h0m-2.1-14.3h0m2.5 44.7h0m0.9-24.3h0m-2.8-14.3h0m2.7 14.7h0m-0.8 2.3h0m0.5 1.7h0m-3.5-35.8h0m1.5 31.3h0m-0.3 7h0m-0.9-31.5h0m2.2 39.6h0m-1 3.9h0m-0.3-46.2h0m-0.1 5.3h0m0.9 21.8h0m1.5 13.2h0m-2.7-26.9h0m2.4-2.3h0m-0.5 14.5h0m-2.5-18.2h0m2.3 30h0m-1.1-13.3h0m0.7 7.1h0m-1.3-32h0m1 42.4h0m1.3-12.4h0m-2.4-27.1h0m2.1 34.3h0m-4.4-45.3h0m4.7 53.7h0m-1-32.9h0m0 25.2h0m0.4-10.6h0m0.4 18.7h0m-1.4-26.8h0m0.1-0.8h0m-0.6 7.6h0m2.5 2.8h0m-0.5 13.1h0m-4.2-39.5h0m2.3 12.6h0m1.8 24.2h0m-1.4-17.9h0m0.6 23.7h0m-1.7-14.6h0m0.3-16h0m1.3 30.3h0m0.2-28.9h0m-1.3 7.3h0m1.6 9.6h0m0.2 16.2h0m-1.7-34.2h0m1.3 28.6h0m-0.7-51.7h0m-0.9 31.6h0m-1.5-24h0m2 17h0m-0.3-15.5h0m1 21.6h0m0.5 11.5h0m-0.1-32.7h0m0.2 30.2h0m-1.6-29.2h0m1.1 9.2h0m-0.4 9.3h0m0.2-3.5h0m3.9-12.1h0m1.4-10.6h0m-1.2 8.8h0m-0.8-12.2h0m0.9-16.8h0m0 45.3h0m-0.1-36.3h0m-0.2 25.5h0m0.9-19h0m1.2-0.4h0m-0.6-11.6h0m0 3.9h0m-1.1 3.9h0m0.4 19.2h0m-0.1-4h0m0.2-0.1h0m-0.3-8.6h0m1.4-4h0m-1.9 14.8h0m0.3 14.1h0m-0.1-16.1h0m0.1 0.8h0m2-22.9h0m-2 10.8h0m0.9-2.8h0m0.8-4.7h0m-1.2 4.3h0m-0.8 5.9h0m0.6 28h0m0.7-38.7h0m-0.7 17.3h0m0.7-17.3h0m-0.8 8.8h0m-2 31.6h0m2.3-35.6h0m0.7-5h0m-0.9 14.2h0m0.4 4.9h0m0.5-20.5h0m-2.2 30.9h0m1.7-31h0m-0.4 11.7h0m0.3-19.9h0m-2.2 39.5h0m1.1 5.2h0m1.8-24.9h0m-1.4 21.9h0m1.1-26.6h0m-1.6 20.6h0m0.2-12.4h0m2.1-16.1h0m-1.3 17.4h0m0 7h0m-1.7 8.1h0m1.7-30.2h0m-1.4 24.6h0m1.8-25.7h0m-0.6 16.8h0m0.4 4h0m-0.6-4.8h0m-0.8 22.1h0m2-42.7h0m-0.2 18.4h0m0.7-15.4h0m-2.2 17.3h0m1.1-5.2h0m-0.7 3.4h0m0.1 2.6h0m-1.5 16.6h0m1.3-23h0m-0.4 8.3h0m-0.2 8.4h0m0.4-18.6h0m0.7 11.8h0m0.4 10.3h0m-0.9 11.8h0m1.6-29h0m-1.4 21h0m0-29.1h0m-0.4 12.4h0m1-6.7h0m-1.6 3.8h0m0.8-3.8h0m0.8-4.2h0m0.8-14.5h0m-1.5 27.2h0m2.4-19h0m-3.2 18.9h0m1 18.7h0m-0.6-6.9h0m0.8-13.7h0m0.3-1.7h0m-0.2-18.9h0m-0.5 19.5h0m0.1-15.9h0m0.1 22.5h0m0.8-29.2h0m-0.6 26.8h0m1.1 4.4h0m-2.6-2.8h0m2.9-25.8h0m-1.3 4.1h0m-0.2 14.5h0m1.6-14.5h0m-2.6 20.2h0m0.7-7h0m1.1-19.1h0m-1.5 38.3h0m2.1-18.2h0m-2.6 31.5h0m1.3-39.7h0m1.3-10.9h0m-1.9 12h0m1.6-2h0m-1.1-6.2h0m0.2 27.6h0m0.6-35.8h0m-1.9 36.4h0m-0.2-9.5h0m2 3.6h0m-1.4 7.8h0m1.9-8.8h0m-1.6 15.2h0m0.1 5.2h0m1.2-43.7h0m-1.4 32.6h0m1.8-29.7h0m-1.1 9.1h0m-0.3-2.1h0m-0.2 12.4h0m-4.4 19.3h0m4.5 5h0m-4-6.5h0m1.2 5.4h0m-0.1-2.7h0m-0.4 0.3h0m3.9 5.1h0m-2.8-4.8h0m-1.1-3.3h0m0.8-0.4h0m-0.8 5.9h0m3.4 6.8h0m-2.5-16.6h0m-0.1 11.2h0m1.9 4.8h0m-0.6-13.4h0m-1.8-3.7h0m0.5 2h0m0.4 9.8h0m-0.4 3.3h0m0.3-0.3h0m-0.3-4.9h0m-0.4-13.2h0m0.2-0.4h0m1.3 22.3h0m-1.5-9.4h0m1.1-1.4h0m1.4-0.5h0m-3.7-3h0m1.6-3.2h0m1.7 7.8h0m-3.5-5.4h0m1.2 11.9h0m2.6-3.7h0m-1-2.6h0m-1.4-3.2h0m0.8 4h0m-0.5-7h0m1.7 11.2h0m-2.2-7.1h0m1.6 1.7h0m3.4 8.9h0m-3.9-12.4h0m-3.6 0.9h0m1.4 2.2h0m0.9-12h0m1 13.8h0m0.3-2h0m-0.2-9h0m-0.4 4.8h0m0.9 0.4h0m-2.2-0.6h0m2.5 8.7h0m-2.4-5.6h0m0.5-7.6h0m-1.6-3.6h0m5.2 5.7h0m-1.1 13.3h0m-2.5-5.7h0m2-1.5h0m-1.2-3.7h0m0-5.9h0m2.3 15.9h0m-2.4-13.9h0m1.8 9.4h0m0.1-14.1h0m-1.6 14.7h0m-2.5-4.1h0m3.2 1.9h0m-0.8 0.7h0m-0.5-0.1h0m-0.3 1.8h0m1-9.8h0m-1.2 2.8h0m2.6 7h0m0.5-1.6h0m-3.3-2.4h0m-1.4-7.2h0m15.6-23.8h0m-0.2 15h0m1.2-29.6h0m-1.4 16h0m0.4 3.8h0m-0.6-33.3h0m1.8 32.6h0m-2.2-7h0m1.2 25.4h0m-1.2-27h0m0.5 37.5h0m1.5-37.3h0m-0.6 35.1h0m-0.9-15.8h0m0.7-17.8h0m-1 19.6h0m0.9 1.2h0m1.4 5.1h0m-2.4-18.8h0m1.1-0.5h0m1.1-9.5h0m-1 18.7h0m-0.2-13.9h0m-1-18.5h0m0.9 52.2h0m-0.4-30.2h0m-0.1-21.1h0m2.5 28.5h0m-2-25.8h0m0.6 5.5h0m-1.1 21.7h0m-0.6-8.2h0m1.2 21h0m-0.2-26.7h0m-0.6-9.4h0m0.7 22.4h0m-0.6-36.4h0m0.3 24.1h0m0.8 41.9h0m0.1-42.5h0m0.4-14.5h0m0 0.5h0m-1.8-18.6h0m0.6 26.3h0m2.2 31h0m-3.1-16.5h0m0.8-32.8h0m-0.4 39.6h0m0.1-2.8h0m1 5.2h0m0.4-0.4h0m-0.8-42.5h0m0 48.6h0m-0.6-53.1h0m0.9 25.6h0m-0.8 35.2h0m0.2-27.6h0m0-1.5h0m0.1 1h0m-0.1-6.9h0m0.4 3.1h0m1.6-9h0m0.1-22.2h0m-2.2 68.5h0m2.3-29.1h0m-1.7 1.4h0m0-19.7h0m0 41h0m0-31.2h0m-1.7 6.5h0m2.7 8.3h0m0.7-8.8h0m-2.6 29.3h0m1.9-37.4h0m-0.9-4.8h0m1 0h0m-0.2 28h0m-1.4-54h0m0.7 28.4h0m0.9-27.8h0m-1.1 20.5h0m-1.2 10.7h0m1.1 15.9h0m-0.6-2.4h0m1.1 3.7h0m0.1-22.7h0m-0.5-11h0m-0.2 13.6h0m-0.5 29.2h0m1.1-54.1h0m-1.6 45.4h0m1.9-11.7h0m-0.2 1.9h0m-1.9 8.4h0m3.1 11.4h0m-2.8-12.5h0m1.1 7.5h0m0.3 0.1h0m-0.4-37.6h0m-1.7-0.5h0m2.8-6.9h0m0.1 35.8h0m-2-30.2h0m1.6 49.9h0m0.8-16.8h0m-1-22.8h0m-2.1 17.4h0m0.3-25.7h0m0.6 11.4h0m1.7 18.4h0m-2.2-22.1h0m1 23.5h0m0-18.8h0m-0.9 21.1h0m-0.1 0.5h0m1.3 17.1h0m-0.7-53.1h0m0.8 26.9h0m-1.2-8.4h0m0.2 25.3h0m0.9-61.9h0m0 0.9h0m-0.2 61.6h0m0.6-28.6h0m-1.8 3.8h0m1-32.4h0m0.4 50.9h0m-1.4-15.3h0m0.6 7.5h0m-0.5-14.5h0m2.6 24.7h0m0.5-9.6h0m-1.5-38.9h0m-1.4 20.5h0m1.6 20.5h0m-0.1-12.1h0m-0.7-17.9h0m0.7 37.9h0m-1.6-26.8h0m0.8 3.9h0m0.1 13.6h0m0.4-20.3h0m0.3-8.8h0m-0.9-2.7h0m0.9 8h0m-0.7 12.2h0m-0.7-21.5h0m1.3-12.6h0m-0.6 32.9h0m-0.4-2.1h0m2.1 9h0m-1.5-8.1h0m-0.5 10.3h0m0.7-38.3h0m-0.5 31.8h0m2.2 2.3h0m-1.6-10.2h0m0 35.9h0m-0.1-23.3h0m0.3 7.9h0m-0.5-9.8h0m-0.3 4h0m1-10.9h0m-0.3-24h0m-0.1 34.7h0m-0.3-2.8h0m0.4-7.4h0m-0.1 40.6h0m-0.3-14h0m-0.9-51.6h0m-0.7-4.2h0m2.3 7.1h0m-0.8-4.1h0m0.8 26h0m-0.2-4.9h0m-0.9 9.9h0m0.4 16.9h0m-0.5 11.7h0m0.9-36.4h0m0.4-8.8h0m-0.1-10.2h0m0 30.9h0m-1.9 20.3h0m0.7-14.2h0m0.3-20.3h0m0.1 12.2h0m-1.1-43.3h0m2.5 22h0m-1.6 47.1h0m-1.7-17.5h0m0.8 12.6h0m-0.7-29.8h0m3-26.6h0m-0.2-8.1h0m-1.4 27.5h0m0.6 11.3h0m-1.2 16h0m-0.6-24h0m3.1 35.2h0m-0.6-54.1h0m-0.7 46.2h0m-0.7 15.6h0m0.9-39.9h0m0.9 0h0m-1-17.6h0m1.6 17.6h0m-2.8 14.2h0m-0.3-28.1h0m1.6 46.3h0m-0.7-49.6h0m0.3 46.1h0m-1-31.1h0m0.2-11.6h0m1.1 7.3h0m0.4-4.5h0m-1.9 35h0m1.6-31.2h0m1.5 4.4h0m-1.6 13.9h0m0.7-10.4h0m-1.7-14.6h0m2.2 14h0m-1.9 14.2h0m-0.1-38.7h0m0.6 7.8h0m-0.5 43.6h0m-0.8-5.5h0m0.3-33.6h0m3.3 6.3h0m-3.2 45.1h0m0.6-29.2h0m-1.1-20.3h0m1.7 17.4h0m-1.5 22.1h0m0-35.4h0m1.1 38.3h0m0.5-39.1h0m0.1-3h0m-0.5 0.4h0m-0.3 36.2h0m-0.2-27.8h0m-1.5-29.7h0m2.3 47.7h0m0.6 32.3h0m-0.6-18.8h0m2.3 14.2h0m-2.8-28.5h0m0.4 4.7h0m-0.2-15.4h0m-1.7-10.1h0m1.3 35.9h0m-0.3-13.3h0m-0.7-21.4h0m0.4 5.7h0m-0.6 46.1h0m2.2-49.2h0m-0.2 13.3h0m-0.2 8.2h0m0.6-10.1h0m0.5-26.4h0m20.3 15.1h0m2.1 32.4h0m-0.7-18.6h0m0.9 5.5h0m-0.6-19.4h0m-0.6 26.3h0m-0.3-38.1h0m0.3 14.9h0m-2.2 15.2h0m1.9 26.2h0m-2.2-21.7h0m1.9-28.1h0m-2.7 1.5h0m2.3 13.1h0m0.1 3.3h0m0.2-0.4h0m0.6-16.2h0m-0.2 20.7h0m1.2 5.5h0m-1.2-7.4h0m-0.4 6.4h0m0.8 14.3h0m0.4 11.9h0m0.5-29.4h0m-2 23.3h0m1.6-34.1h0m-1.4 37.6h0m1.9-26.8h0m-1.5-5.8h0m-1.9 16.9h0m1.5-11.3h0m0.1-12.2h0m1.4 40.6h0m-1.2-26.4h0m-0.4-12.2h0m0.8-6.8h0m-0.4 21h0m-3-56.7h0m4 78.3h0m-1.2-28h0m0.7 20.8h0m-1.9-37.6h0m1.7-23.4h0m-0.7 37.3h0m-0.1-20.5h0m0.6 66.6h0m0.4-70.6h0m-0.4 25.4h0m0.4 14.1h0m0.2-20.9h0m-0.8 0.4h0m-0.7 11.2h0m0.9 15.6h0m0.5-59.2h0m-1.1 47.8h0m0.2-34.6h0m1.1 34.1h0m-2.3-32.4h0m4.4 53.6h0m-2.9-54.3h0m0.2 21.3h0m1.6 9.7h0m-2.4-56.9h0m-0.7 18.5h0m1.3 29.4h0m1.6 5.6h0m-3 3.8h0m0.8 19.9h0m1.1-66.4h0m-0.7 33.9h0m-1.1-27.6h0m1.7 64.9h0m1.1-26.8h0m-0.9 23.4h0m-0.4-18h0m0.3-20h0m-0.6 38.9h0m2.4-27.8h0m-1.7 14.1h0m-0.7-29.1h0m-0.2-2.4h0m-0.2-7.4h0m3.4 53.7h0m-3.6-29h0m-0.5-33.2h0m0.3 52.3h0m1.5-43.9h0m0.6 51.3h0m-2.8-52.1h0m1.3 29.6h0m1.6-8.3h0m-1.5 8.4h0m0.5-41.5h0m1.2 29.5h0m-1.8-2.1h0m0.8-2.5h0m-0.4 18.8h0m-0.8-18h0m-0.7 10h0m0.6 22.8h0m0.2-2.4h0m0.4-56h0m1.1 36.6h0m-1-15.8h0m0.6 4.3h0m1-29.6h0m0.6 34.9h0m-0.4 23.7h0m-0.8 4.2h0m0.8-24.3h0m-3.6-2.9h0m1 9.8h0m2.2 39.5h0m-1.2-19.7h0m1.5-14h0m-0.5-17h0m-3-8.5h0m0.9 11.4h0m-0.3 6h0m1.6-24.1h0m-0.7 38.4h0m0.3-25.3h0m1.2-23.8h0m-0.3 69.4h0m-3.5-79.8h0m3.5 20.6h0m-0.4 27.5h0m-0.7-41.8h0m1.1 5.6h0m-1.8 5.6h0m1.1 16.2h0m-0.2 1.7h0m-0.6-21.5h0m0.4 23.5h0m-1-19.6h0m2.2 66.2h0m-1.8-49h0m2.8 4.2h0m-1.8-5.3h0m-0.3 4.5h0m1.6 16.9h0m-1.4-4.9h0m-1.1-46.5h0m-0.2 46.8h0m0.7-11.6h0m-0.1 13.6h0m2.7-14.2h0m-1.4 29.8h0m-0.3-16h0m-1-37.1h0m1.4 51.8h0m0.7-9.5h0m-1.6-1.9h0m-2.9-46.5h0m2.6-1.5h0m0.8 63.5h0m1.4-52.5h0m-0.4 33.6h0m-0.5 11.1h0m-1.1-5.1h0m0.5 17.8h0m0.2-51.4h0m-1.3-28h0m-1.4 40.2h0m1.3-7.6h0m1.9-23.7h0m0.8 71h0m-2.9-44.5h0m2.4 1.5h0m-0.8 27h0m-0.2 0.1h0m-1-24.6h0m1.7-11.1h0m-0.9 1.3h0m1.6 17.3h0m-2.2-17.1h0m0.6 13.5h0m-0.9-9.2h0m-0.1 27h0m1.4 13.2h0m-0.6-32.7h0m0.2 44.2h0m0.1-69.7h0m-0.5 38.6h0m0.8-10.9h0m1.1-26h0m-2.7 32.9h0m2.8-15.9h0m0.6 18.7h0m-1.1-27.3h0m0.5 54.3h0m-1-25.8h0m-3.2-30.5h0m3.2 37.2h0m-1.4 26h0m1.6-60h0m0.3 38.8h0m-0.9-33.2h0m1 12.7h0m-0.8-5.8h0m-0.5-20.8h0m1.1 27.4h0m0.4 14.5h0m0.1-1.4h0m-2.3 22.3h0m1.2-33.1h0m0.2 8.6h0m-1.4-6.8h0m2.7-16.4h0m-2-5h0m1.6-7.9h0m-1.5 14h0m0.1-18.5h0m1.1 66.9h0m-1.9-76.1h0m0.9 43.5h0m-0.9 3.9h0m-0.2-9.1h0m0.7 4h0m1 14.6h0m-1.5-39.3h0m1.4 40.8h0m-0.6-55.3h0m1 12.5h0m-0.3 31.5h0m-0.8 4h0m0.7-36.5h0m-1.5-5.4h0m0.2 37.4h0m1.8-5.5h0m0 3h0m1.5 3.2h0m0.3-10.7h0m-3.5 7.3h0m1.3-24.3h0m-1.6 12.4h0m-1.2-37.8h0m1.7 4.3h0m1.4 54.6h0m-0.8-16.1h0m-0.1-14.8h0m0.1 32.4h0m-2.3-55.1h0m2.5 51.4h0m-0.9-43.5h0m-2.5-4.8h0m3.7 57.9h0m0.2-20.5h0m1.3 17.6h0m-3.3-22.5h0m1.1-10.4h0m-0.4 28h0m-0.1-20.4h0m1.2-14.8h0m-0.5-9.5h0m0.4 34.5h0m-2.3 9.5h0m0.5-2.8h0m2.7-15h0m-0.3 19.9h0m-2.2-25.6h0m1.4 1.9h0m-0.3-36.7h0m0.2 67.5h0m-1.7-31.6h0m1.1 24.5h0m0.3-39.7h0m1.8 27.9h0m-1.3-21.7h0m-1.2 38.2h0m3.6 22.7h0m-3.4-33.8h0m0.4-28.5h0m0.6 19.7h0m-0.2 22.9h0m0.1 12.2h0m-0.7-55.2h0m-1.1 11.9h0m2 5.9h0m-2-36.2h0m0.9 15.7h0m2.8 7.1h0m-2.7 11.6h0m-2.1-32.6h0m4.1 58.4h0m-2.7-17.9h0m14.3 11.9h0m1-22h0m0.7 5.3h0m0.7 10.3h0m-2.6-28.1h0m0.2 49.6h0m1-25.9h0m-0.8-7.9h0m1.8-0.9h0m-4.1 8.8h0m3.7 5.4h0m0.5-49.3h0m-1.9 27.2h0m1.6 45.5h0m-0.9-24.5h0m0.6 10.8h0m0.8-16.9h0m-1.7 12.4h0m-0.7-37h0m0-8.1h0m0.9 40h0m1.8-29.4h0m-1.2 13.6h0m0.4 1.4h0m-0.2 48.8h0m-3.1-70.1h0m0.8 29h0m-0.2 0.2h0m3.9 8.6h0m-3.6 0.1h0m0.3-16h0m0.3-16.4h0m2.3 33.4h0m-0.2 1.9h0m-2.5-11.8h0m2.9 23.9h0m-1.6-36.1h0m2.3 37.6h0m-2-24.6h0m0.6 4h0m0.9-10h0m-3.5 28.3h0m1.3-9.2h0m-0.5-33.1h0m0.1 1.7h0m1 39.6h0m0.6-9.8h0m-2.3-41.7h0m1.9 60.2h0m0.4-47.5h0m-1.2-5.2h0m-0.6 16.5h0m0.1-10.5h0m2.5 16.7h0m-0.7 29.9h0m-2.1-28.9h0m-1.4-7.6h0m3.1-13.4h0m-1.3 38.2h0m1.2-13.6h0m-0.9-26.2h0m-1.5 7.8h0m1.7 11.7h0m-1.1-6.1h0m1.6-3.5h0m0.4 6.7h0m0 21.5h0m-2.4-35.2h0m2 4.9h0m-0.6-0.9h0m-0.6-0.9h0m0.7-10.2h0m0.7 40.6h0m0.9-1h0m0.2 3.3h0m-0.5-49.2h0m-1.4 21.1h0m0.5-5.2h0m0.3 3.9h0m0.4 47.2h0m-1.3-49.9h0m-0.1-0.1h0m1.4 9.7h0m-0.2 15.2h0m0.2-15.6h0m-1-2.3h0m-1.4 12.9h0m1.4-1.9h0m-1.2 0.3h0m1.2 20.5h0m-0.6-48.2h0m0.5-9.8h0m0.3 23.9h0m-2-18.7h0m2.4 63.4h0m-0.2-40.4h0m1.8-19.1h0m-1.4 24.7h0m-2.2 15h0m2.1-10h0m-2-14h0m0.8 3.8h0m0.3-19.8h0m0.6 16.7h0m-0.1-17.6h0m-0.1 36.7h0m0-9.7h0m-0.5-1.8h0m1.2-10.5h0m-0.3 3.4h0m-1.1-18.1h0m-0.1 34.1h0m3.2 21.7h0m-3.5-46.1h0m-0.8-8.4h0m2 34.6h0m-0.6 1.3h0m-0.3-56.2h0m1.4 24h0m-1.6-2.2h0m0.5 15.9h0m0.3 16.2h0m-0.5-42.3h0m-0.6 27.5h0m3.9 31.5h0m-0.4-6h0m-2.9-29.5h0m-0.2 38h0m0.5 8.3h0m0.6-21.7h0m0.9-11.5h0m0-2.7h0m-2.7-22.2h0m2.1 28.7h0m-1.9-19.5h0m1.5 8.8h0m0.3-31.5h0m-0.6 23.4h0m-0.1-18.9h0m0.6 47.1h0m-0.1 5.5h0m-3.3-30.8h0m1.5-15.2h0m0.2 0.7h0m0.2 39.8h0m-0.2-58h0m0.7 62.7h0m-2.3-21.2h0m2.1-15.7h0m1.3 26.1h0m0.5 1.9h0m-1.2-20.3h0m-0.3-2.3h0m-1.1 21.2h0m2.4 3.4h0m0.1-22.8h0m-0.6 20.7h0m0 7.6h0m0.8-2.7h0m0.2-12.3h0m-2.3-1.1h0m-0.2-2.5h0m-0.3 18h0m0.8-25.2h0m0.1 5.6h0m1.5 16.1h0m-3.1-20.9h0m2.6-28.2h0m0.4 29.3h0m-1.7-10h0m2.4 22.3h0m0.4 26.6h0m-1.9-38.6h0m1.7 1.2h0m0.3 20.3h0m-1.9-14.5h0m0.1 18.4h0m0.5-6.9h0m1.7 21.8h0m-3.2-33.9h0m1.1-7.1h0m-0.1 26.8h0m-2-55.7h0m1.7 37.5h0m0.1 5.4h0m0.6 12.4h0m0.8-28.9h0m-2.3-36.6h0m4.5 65.3h0m-2.9-22.6h0m0.5-19.2h0m-0.1-8.7h0m-0.4 32.4h0m-4.2-40.9h0m2.7 50.4h0m3.6-0.4h0m-3.4-36.8h0m1.1 40.7h0m-0.5 2.8h0m0.7-25.7h0m0.6-0.7h0m-1.2 0.6h0m-0.9 23.4h0m-0.6-17h0m0.3-42.2h0m1.6 30.1h0m-1.5 33.4h0m0.7-51.2h0m-1.3 10.8h0m2.6 42.1h0m-2.8-53.5h0m1.1-6.7h0m-1 10.6h0m1.2 23.2h0m-0.3-38h0m0.9 39.8h0m2.3 26h0m-0.5-12.3h0m-2.1-30.2h0m0.9 9h0m-0.6 16.9h0m-1.2-19.4h0m2.4 10.6h0m-2.6-7.2h0m1.8-30.6h0m-2 35.9h0m2.8 1.5h0m-4.7-36.8h0m2.9 9.4h0m0.4 20.5h0m3.5 18.2h0m-2.8-10.7h0m-0.8-36.6h0m2 51.5h0m-2-12.7h0m-2.3 13.8h0m2.2-26.2h0m-0.5-0.9h0m-0.7-14.6h0m0.3 18.9h0m2.6 19.2h0m1.1 0h0m-3.1-41.7h0m0.3 13.8h0m3.5-27.8h0m-3 38.8h0m-1.5-19.6h0m2.2 4.5h0m0.7 14.3h0m-1.7 36.9h0m-0.3-19.7h0m1-29h0m-0.1-10.2h0m-0.2 20.4h0m0 32.3h0m-1.9-66h0m1 18.8h0m-1.3 16.6h0m0.8-14.9h0m-0.1 15.4h0m1.3 6h0m0.4-24.2h0m0.4 44.1h0m-2.2-54.4h0m2.3 3h0m-2.6 14.7h0m1.3 24.9h0m0.1-33.7h0m-0.3 50.9h0m0.4-32.2h0m0.1 8.2h0m0.7 2.4h0m-1.2-12.2h0m-0.3 11.6h0m-1.2 6.5h0m1.7-27.8h0m0.6 20.4h0m-1-5.4h0m1.1-12.7h0m-1.6 17h0m2.2-0.7h0m-1.1-38h0m-0.2 29.2h0m0-17.7h0m0.7 26.6h0m-0.1-4.1h0m0.8 13h0m-2-39.2h0m1.2 22.2h0m-0.9 6.8h0m2.3-15.8h0m-1.9-9.5h0m0.3 24.2h0m0.2-31.2h0m-1.6 5.4h0m0.1 35.9h0m3.4-4.2h0m-0.7-10.2h0m-0.7 39.7h0m-0.1-68.5h0m-1.4 14.6h0m2.1 29.9h0m-1.6 0.7h0m0.4-16h0m2.3-27.1h0m-1.6 21.7h0m-1.5-19.9h0m1.5 47.6h0m-1.7-26.7h0m0.8 12.9h0m1.3-30.3h0m-2.5 22.5h0m24.2 6.3h0m-0.5 0.7h0m1.4 28h0m-1.7 16.5h0m-1.1-57.4h0m2.2 31.5h0m1.2-18h0m-1.6 31.7h0m0.5-32.2h0m-1.9 3.5h0m0.5 36.1h0m0.2-13.7h0m0.3-34.1h0m0.3 49.3h0m0.5-10.1h0m-1-6.5h0m0.2-7.9h0m0.8 4.7h0m0.2-4.1h0m-0.5 5.7h0m0-35.2h0m-0.1-0.6h0m-0.9 20h0m0.9 9h0m-1.2 18.5h0m1.3-3.7h0m-0.2-14.2h0m-0.3-16.5h0m-0.6 2.8h0m1.1 25.6h0m-0.3-32.3h0m-0.2 20.9h0m0-12.1h0m1.2-3.6h0m-0.8-13.3h0m-0.5 38.2h0m0.4-18.1h0m-1.6 28.6h0m2.2 7h0m-1.6-37.7h0m0.9 0.7h0m-0.9 18.3h0m-0.2-20.3h0m1.5 14.7h0m-0.9-22.3h0m0.3 25.3h0m0.8-18.5h0m-0.4 1.4h0m-0.7 18h0m-1.1-18.6h0m1.7-0.8h0m-0.4 36h0m0.4-19.9h0m-0.2 13.1h0m0.4-23.1h0m-0.3-36.9h0m-0.1 45.6h0m-0.4 1.8h0m0.4 8.7h0m-0.6-45.4h0m0.6 36.4h0m0.8 11.8h0m-1.3-12.4h0m-0.1-30.6h0m0.9 36.1h0m-1.8-13.7h0m2.1 1.4h0m-0.6-6.5h0m0.4-9.7h0m0.9 6.1h0m-1.4 9.8h0m0.3-33.6h0m-0.4 9.2h0m0.7 0.6h0m-1 17.6h0m1.1-15.9h0m-0.2 19.9h0m-0.2 17h0m-0.3-17h0m0.2-0.1h0m-0.4 9h0m0.9 28.3h0m-0.7-17.4h0m-1.1-6.7h0m1.8 17.2h0m-0.6-15.9h0m0-44.8h0m1 18.7h0m0.1 20.4h0m-0.9-31.5h0m-0.2 23.3h0m-0.8 13.3h0m0.8 20.4h0m-1.1-21.6h0m0.7 3.5h0m-0.8-28.3h0m0.7 10.4h0m0.5-27.1h0m0 32.7h0m-1.2 3h0m0.8-23.1h0m0.5 4.7h0m-0.2 16.1h0m-0.9-1.2h0m0.2-4h0m0.7-25.3h0m0.3 18.7h0m0.2 28.7h0m-1.1-26.5h0m0.8-9.1h0m-0.7-0.5h0m0.3 15.1h0m-0.5-28.3h0m0.6 47.6h0m-0.4-30.9h0m0.1-1.2h0m-0.6 24.9h0m14.3 31.2h0m-2.9-69.2h0m1.6 34.5h0m-0.8-29.3h0m-1.1-4.7h0m1.6 11.6h0m0.2 41.8h0m-0.1-10h0m1.1 26.2h0m-3.7-88.5h0m3 85.7h0m-2.3-85.3h0m2.6 52.1h0m0.9 15.8h0m-4.1-68.6h0m-0.1-8.9h0m4 66.3h0m-1.7 15.5h0m0.2-0.5h0m1 20.5h0m0-39.7h0m-3.3-50.3h0m1.5 41.2h0m-1.6-16.5h0m3.7 35.4h0m-1.8-10.2h0m-0.8-9.8h0m2.1 3.5h0m-1.8-13.2h0m-3.4-36.5h0m6.6 102h0m-3.4-57.7h0m-0.6-27.4h0m2.6 44.8h0m-2.2-32.4h0m1.2 38.8h0m0.6-13.6h0m0.7 25.6h0m-1.2-16.7h0m0.4 19.5h0m0.4-18.3h0m-2.5-45h0m0.6 34.7h0m0.7 5.7h0m0.5 10.7h0m-2-65.6h0m0.7 44.1h0m0.5 16.6h0m0.8-12.1h0m-0.3 11.5h0m-1.7-36.4h0m0.3-0.6h0m1 43.9h0m-1.8-43.2h0m0.9-10h0m0.8 29.1h0m0 15.2h0m0.4-25.9h0m-1.2 8.4h0m1-18.2h0m-0.7 12.8h0m2.2 67.6h0m-1.1-46.2h0m0.8-8.7h0m-2.5-17.1h0m0.9 14h0m2.2 8.9h0m-1 39.4h0m-1.5-76.3h0m2.9 30.5h0m-3.8-31.9h0m1.6 6.9h0m-1.1 25.9h0m1.1 22.8h0m1.9 7.5h0m0.3 8.8h0m-3-60.4h0m2.1 27h0m-2-28.2h0m1 45.3h0m-2.2-53.6h0m2.9 14.6h0m-2.1-28.5h0m1.2 29h0m0.6 22.3h0m-2-24.3h0m1.9 11.8h0m-1.4-16.2h0m1.7 47.8h0m-1.2-14.8h0m0.3-4.6h0m2.8 5.6h0m-1.5 16.6h0m-1.6-10.7h0m-0.3-32.5h0m-0.8-17.5h0m2.1 31.7h0m0 16.9h0m-0.1-12.2h0m-2.4-41.5h0m2.2 24.3h0m0.5 32.1h0m-0.3 18.4h0m-1.7-40.7h0m2.2 25.2h0m-2.9-49.5h0m0.3 7.3h0m0.5-10h0m1.5 61.7h0m1.1-24.6h0m-4.8-49.1h0m2.5 26.2h0m2.3 44.3h0m-1.6-39.6h0m0.6 8.5h0m0.7 2.7h0m-2.7-29.8h0m0.8 15h0m1.4-5.1h0m-0.3 9.3h0m-1.5 16.6h0m1.2-2h0m-0.1-32.7h0m-0.2 44.1h0m1.3-19.3h0m-3.2-51.8h0m0.7 17.6h0m0.6 32.1h0m0.7-4.7h0m-1.3-16.9h0m3.4 59.2h0m-2.3-19h0m0.6-0.9h0m-1.9-20.5h0m0.4-42.6h0m2.3 58h0m-0.5-27.6h0m-0.4 34.7h0m1.6 12.7h0m-0.9-37.6h0m-0.5 6h0m-1-25.2h0m-0.8 14.5h0m2.8 44.8h0m-0.1-12.8h0m-1.3-48.3h0m0.2 52.9h0m1.6 12.1h0m-0.7-28.4h0m-2.7-5.1h0m0.1-43.9h0m0 17h0m1.7 47.2h0m-0.6-17.8h0m0.9-3.1h0m-0.9 1.5h0m0.8 9.9h0m0.6-10.5h0m-1.2-3.2h0m-0.1-2.4h0m-1.5-27.1h0m0.9 12.2h0m1.8 10.5h0m-2.1-20.9h0m-1-9.7h0m-0.4 20.5h0m2.5 38.2h0m1.3 7.9h0m-2.2-37.9h0m2 39.8h0m-0.7-26.4h0m-0.1-33.4h0m0.5 32.2h0m-1.9-10.1h0m-0.4-17.2h0m4.4 60.2h0m-5.4-72.9h0m2.2 26h0m1.5 23.2h0m0 9.7h0m-2.5-51.8h0m1 21.4h0m-1.1-12.4h0m1 15.4h0m0.6 29.1h0m-1.2-42.8h0m0.8-0.8h0m1.3 19.8h0m-1.3-11.8h0m-0.1-17.7h0m3.3 61.1h0m-2.3-17.9h0m-0.9-10h0m2 36.6h0m-0.6-2.9h0m0-6.9h0m0.5 13.9h0m-0.5-15.8h0m-0.5-13.1h0m0.3 11.2h0m1.1-5h0m-2.5-7h0m-0.7-60.7h0m0.7 36.5h0m0.6 12.4h0m0.2-3.8h0m0.9 25.7h0m0 16.9h0m0.2-1.2h0m-2.3-36.8h0m-0.2-8.9h0m1.5 10.6h0m1.7 24.3h0m-2.7-30.3h0m1.1 22.1h0m1.9 15.8h0m-4.3-77.9h0m2.2 66h0m1.6-2.3h0m-4.3-55.5h0m1.6 56.5h0m2.2 10.3h0m-2.2-29.1h0m1.2 18.8h0m-0.4-34.4h0m0.9 10.4h0m-2.1-35.2h0m0.2 32.1h0m0.4 6.5h0m2.8 16.9h0m-3.8-18.4h0m1.3-13.4h0m1.4 13.9h0m-0.3 14.4h0m1.5 0.3h0m2.6-13.6h0m-0.9-5.2h0m1.2-8.3h0m-0.6-12.9h0m-2.6 32.6h0m4.2-46.2h0m-1.5 26.9h0m-1.4-4.9h0m-0.9 8.1h0m3.1-2.2h0m-0.3-22.3h0m-0.8 5.9h0m-0.4 1h0m1.4-3.6h0m-0.6 28.6h0m1-10.2h0m-1.7-9.1h0m0.3 0.9h0m1.8-10.3h0m-1.9 24.4h0m0.8-22.9h0m-1.3 25.8h0m-0.4 6.6h0m0.9-10.6h0m0.8-10.3h0m-0.4-14.8h0m-0.7 17.6h0m-0.2 2.2h0m2-9.7h0m-2 10.4h0m0.4-19.8h0m-0.6 22.6h0m0.8-17.8h0m-0.4 15.1h0m-1.1 14.6h0m2.4-15.9h0m-0.8-6.1h0m0.7 7.1h0m-1.6 7h0m0.4 10.4h0m0.7-34.7h0m-2.5 37.1h0m2.9-36.9h0m0.2 6.5h0m-0.8-15h0m-0.2 46.8h0m-0.3-18.2h0m-0.2-19.4h0m1 14.1h0m0.5 2.8h0m-1.4 6.1h0m1.8 3.7h0m-2.2 9.2h0m0.7-28.5h0m1 22.2h0m-2.7-1.6h0m1.1-37.7h0m1.6-0.2h0m-0.4 24.3h0m-1.6 15.4h0m0.6-21.1h0m0.2-3.3h0m-1.1 16.3h0m-0.2 3.6h0m2.3-14h0m2.8-24.1h0m-3.7 4h0m0.6 31.1h0m-0.5-5.9h0m1.2-25.6h0m-1 38.1h0m-1.5 2.7h0m1.9-8.5h0m-1.4-3.5h0m1.9-8.2h0m-1.9 25.5h0m0.2-12.6h0m1.3-11.6h0m-1.1 17.5h0m-0.3 2.5h0m-1.3-20.1h0m2.3 0.2h0m1.1-17.4h0m0.8-7.7h0m-2.3 15.5h0m-0.3-1.9h0m0.4 27.7h0m-0.3-3.6h0m1.2-8.8h0m0.8-9.4h0m-2 0h0m1.5 0.1h0m-1 10.2h0m0.5-15.7h0m1-5.2h0m-3.4 33.1h0m2.2-22.3h0m0.8-11.7h0m-1.3 17.2h0m-1.2-7.9h0m0.6 16.2h0m1.8-29.6h0m-1.3 47.4h0m1.2-43h0m-0.7 10h0m0.2 3.4h0m-0.3-2.8h0m0.2 4.3h0m-0.4 14.2h0m1.2-29h0m-0.5 8.2h0m-0.6 14.3h0m0.9-1.4h0m-1.2 22.7h0m0-26.5h0m1-15.3h0m-0.5 1.8h0m0.5 19.9h0m1.1-22.9h0m-0.3 9h0m-1.9 0h0m1.9-3.8h0m-2.1 26.4h0m-1.5 1.8h0m0.7 13h0m2.2-27h0m-1.9-8.1h0m1.6-5.7h0m0.1 7.4h0m-2.8 29.8h0m0.9 2.8h0m-0.1 14.6h0m-3.7-23h0m3.1-4.7h0m0.2 14.7h0m-0.3-13h0m0.5 13.8h0m-0.9-8.3h0m-0.9-1.4h0m1.3 6h0m0.3 2.2h0m0.5-7h0m0.1 13.5h0m1.1-11.4h0m-3.4-0.8h0m-0.9-0.2h0m1.4 5.5h0m-0.1-13.1h0m0.7 9.1h0m1.4-4.8h0m-1.2 5.7h0m-1.5 7.1h0m2.2 1h0m1.9 4.3h0m-1.1-3.9h0m-1.8-5.2h0m-0.6-7.3h0m-2-10h0m3.8 14.5h0m1.3 2h0m-1.3 10.1h0m-2.1-14.6h0m1.1 7.8h0m-1-7.8h0m2-3.3h0m1.7 12.4h0m-4.6-17h0m2.5 15.8h0m-1.6-0.6h0m2.2 2.9h0m-2.3-16.7h0m3.2 20.2h0m-2.6-21h0m1.8 18.2h0m-3.1-13.4h0m2.5 13.1h0m-1.7 6.7h0m0.3-15h0m-0.7-3.8h0m2.7 12.8h0m-2.5-7.6h0m1.8-11.2h0m-1.4 5h0m3.2 14.2h0m-2.3-4.6h0m-2-11.9h0m2.2 6.6h0m0.2 0.1h0m0 2.4h0m-0.2 4.7h0m2.1-2h0m-0.5 7.4h0m-3.3-13.9h0m2.1 5.2h0m0-21.3h0m-0.1 28.4h0m0-3.8h0m0.1-14.9h0m-1.4 3.6h0m1.5 4.9h0m-0.2-6.9h0m-1.9 7.2h0m0.8 1.9h0m2.4 16.7h0m-2.1-19.1h0m0.7-13.7h0m1.4 24.9h0m-2.4-7.2h0m1.4-5.2h0m-2.2-3.7h0m3.5 11h0m-4.5-6.7h0m3.6-6.4h0m-2.2 5.8h0m2.8 1.6h0m0.6 15.2h0m0.2-9h0m-2.2-4.1h0m-2.5-7h0m0.7 10.6h0m-50.3-95.3h0m-19.2 2.6h0m36.9 97.6h0m-13.2 4h0m33.8 9.2h0m-142.5-88.4h0m191.2 48.1h0m0 5.1h0m-0.7-35h0m0.5 3.9h0m-2 28.3h0m2.4 9.9h0m-0.7-9.2h0m-2.9-45.6h0m1.8 4.2h0m0.6 31.3h0m2.7 14.1h0m-4.3-26.8h0m1.6 28.9h0m1.8 19.6h0m-3.5-43.8h0m1.8 5.2h0m-0.6-18.7h0m3.5 63.8h0m-2.7-43.9h0m-2.6-29.9h0m2.5 25.9h0m-0.5-9.6h0m-1.1 21.7h0m-1.2-31.7h0m0.9 3.3h0m2.4 7.8h0m-1.3 11.6h0m0.9-2.4h0m-0.3 3.5h0m1.5-13.5h0m-2.4 7.5h0m3 31.6h0m-1.3-24.9h0m-4.1-31.7h0m2.7 44.1h0m-0.6-10.6h0m0.6 2.3h0m-1.5-34.1h0m1.6 23.4h0m-0.2-10.8h0m2.5 25.5h0m-4.7-25.1h0m1.8-10.9h0m2.5 42.3h0m-3.5-24.5h0m2.6 1.7h0m0.7 24.2h0m0 6.8h0m0.3 8.4h0m0.2-17.2h0m-0.3-0.7h0m0.2-17.4h0m0.2 25.3h0m-1.8-5.2h0m0.3-22.7h0m0 23h0m-0.7-13.2h0m2.1 27.3h0m-1-25.4h0m0.2-9.6h0m-0.3 25.3h0m-4.3-53.6h0m4.2 59.6h0m-0.4-7.9h0m1.1-11.8h0m-1.9 8.5h0m1.5-22.1h0m1.4 34.9h0m-1.1-21.8h0m-3.4-45.9h0m-0.3 15.6h0m2.1 17.1h0m2 21.4h0m-0.2-15.4h0m-0.4 15.8h0m-2.2-19.2h0m1.6-4.1h0m0.3 9.5h0m0.5 8.2h0m-3.8-36.4h0m2.9 47.8h0m-1.3-21.1h0m1.8-4.4h0m0.5 10.2h0m-0.3 11.5h0m-3.7-54.7h0m3.6 38h0m-2.3-9.4h0m1.6 35h0m0.9-5.4h0m-1.2-32.9h0m1.4 12.1h0m-0.2 24.5h0m-2-33h0m-0.1-7.4h0m0.9 10.9h0m-2.7-17.9h0m4.5 37.3h0m-1.8-5.4h0m-0.3-25.6h0m1.9 19.4h0m-1.9-19.9h0m0.1 16.1h0m0.5 2.5h0m0.2-10h0m-1.4-12.2h0m1 44.2h0m2.1 11.4h0m-3.4-45.9h0m0.7-8.1h0m1.3 27.9h0m-2.1-46.7h0m2.8 48.5h0m-1.2-19h0m-1.3 1.4h0m1.7 15.6h0m-1.8-42.5h0m2.7 42.3h0m-1.9-3.4h0m0.6 13.1h0m-0.5-40.5h0m1.4 33.5h0m-2.1-21.5h0m0.2-6.3h0m2.4 52h0m-1.1-4.6h0m-0.2-25h0m-0.2 4.6h0m1.7 25h0m-1.5-41.5h0m-0.6-0.5h0m1.4 22.3h0m-0.6-6.8h0m-0.2-22.7h0m1.6 27.2h0m-1.6-25.6h0m-1.8 1.9h0m0.9 6.8h0m0.5 16.6h0m2.4 25h0m-1.8-26.3h0m3 17.9h0m-4.1-38h0m0.9 10.9h0m0.8 5.6h0m-0.9-1.7h0m-0.2-0.8h0m2.3 28h0m-2.8-36.2h0m-1.5-14.3h0m1.9 8.9h0m-0.6 3.2h0m1.8-8.7h0m-2.3-3.7h0m0.1 15.1h0m-0.1-0.4h0m0.8-8.7h0m-0.6 4.1h0m0.7-4.7h0m0.8 18.4h0m-0.2 14.1h0m-0.8-14.9h0m0.2-2.9h0m-1.8-22.8h0m3.7 34.2h0m-1.1-11.7h0m-1.5-30.6h0m1.2 19.8h0m1.2 5.6h0m-1.5-7.9h0m1 22.4h0m0.2-7.1h0m1.2 6.1h0m-2.2-5.3h0m2.1 29.9h0m-4.1-73.1h0m0.9 16.4h0m2.1 45.5h0m-0.1-17.5h0m-0.5-7.4h0m0-3.5h0m1.9 28h0m-2.6-25h0m0.7 3.1h0m1.9 30.5h0m-2-3.9h0m0-1h0m0.2-38h0m-0.5 8.9h0m-1-13h0m-0.4 7.7h0m1-3.2h0m0.9 30.1h0m-0.6-31.4h0m-0.4-2.9h0m-0.7-8.6h0m2.4 22.8h0m-0.1-8.8h0m-0.7 1.1h0m-0.5 5.1h0m0.5 28.3h0m0.8-8.1h0m-2.3-10.7h0m0.9-17.4h0m0.1 3.6h0m-0.7-12.5h0m0.7-8.1h0m0.9 38.8h0m4.3 10.8h0m1.6-13.8h0m0.2-18.9h0m-0.1 23h0m0.1-10.7h0m0.1-2.6h0m-1.5 1.6h0m-0.9 1.7h0m2.9-22.1h0m0.4-10.3h0m-1.5 40.5h0m0.5-19.1h0m-0.7 28.3h0m2-43.9h0m-1.3 36.7h0m-0.1 1.4h0m-0.8-6.6h0m3-25.9h0m-2.5 18.9h0m-0.2 15.6h0m0.7-13.1h0m-1 8h0m0.7-20.1h0m0.3-4.7h0m0.3-20.3h0m1.4 3.8h0m-1.2 10.7h0m-0.9 38.2h0m1.1-22h0m-0.3-19.3h0m-1.3 23.4h0m1.3-11.2h0m-0.8 12.4h0m0.1-10.7h0m-1.3 20.1h0m2.3-29.8h0m-0.3-10.3h0m-2.1 15.3h0m0.7 34.7h0m0.8-23.1h0m0 11.5h0m-1.5 22.5h0m0.8-35.3h0m-0.6 10.7h0m0.1-4.3h0m1.3-27.7h0m-1.7 42.6h0m1.7-58.5h0m0.3 43.1h0m0.9-5.6h0m-3.1 19.6h0m1.8-3h0m0.7-29.8h0m-0.2 14.6h0m0.1-19h0m-1.3 30.3h0m0.2-3.5h0m1.3-5.2h0m-1-15h0m-0.4 42h0m0.9-32.6h0m-0.3 19.6h0m-0.5-18.9h0m-1.4 33.9h0m-0.1-38.9h0m0.9 33.9h0m0.8-9.2h0m-1.7 12.6h0m2-60.7h0m-0.4 28.8h0m-0.4 1.7h0m2.3-31.6h0m1.1 0.8h0m-2.8 19.7h0m-0.5 43.6h0m-0.4-21.6h0m0.5-15.7h0m-0.4 38.7h0m2.2-66.9h0m-2.5 64.3h0m0-30.6h0m2-17.4h0m-0.9 5.9h0m-0.2 26.5h0m0-24h0m-0.4 32.3h0m2.6-22.7h0m-1.6 12.5h0m0.2-35h0m-0.7 42.4h0m-0.1-2.8h0m1.8-56.7h0m-0.2 68.7h0m0.1-58.8h0m-1 32.1h0m-0.7 8.7h0m0.7-24.4h0m-0.5 27h0m-1.5-25.2h0m0.3 51.7h0m3-80.1h0m-1.8 30.8h0m-1.2 8.4h0m1.3 24.4h0m0.3-25.5h0m1.7-22.7h0m-0.7-8h0m0 11.5h0m-1 9.4h0m-1.3 18.8h0m1.3-8.6h0m2.5-23.8h0m-2.9 57.9h0m1.1-47.9h0m-0.7 36.3h0m-1.5-29.3h0m1.6 11.3h0m-0.1 6.1h0m0-31.7h0m-1.7 45.7h0m1.3-26.6h0m1.8-30.5h0m-2.6 59.6h0m0.9-26.9h0m0.1-6.8h0m-2.2 37.3h0m1.2-24.5h0m2.9-43.6h0m-2.9 27.6h0m-0.4 30h0m2-19.8h0m-0.5-7.7h0m-0.2-9.3h0m-0.6 36.9h0m0.5-5.4h0m-0.6-26.2h0m-1 53.4h0m2.5-65.8h0m-0.4 24.4h0m-0.2-7.3h0m-1 17.4h0m-0.1 18.9h0m0.3-11.1h0m-0.2 16.1h0m0.2-37h0m0.9-13.9h0m1-13.8h0m-2.3 30.8h0m0.1-8.5h0m1.9-26.3h0m-2.1 50.8h0m0.2 15.2h0m1.1-53.6h0m-1.1 53.1h0m0.3-30.8h0m-0.7 42.2h0m2.1-38h0m-0.2-28.2h0m0.3 9.6h0m0-20.2h0m-1.7 56.8h0m-0.1-17.4h0m0.9 10.7h0m-0.6-8.4h0m0.1 3.7h0m0 8.3h0m-1.1-9.8h0m0.8-7.3h0m1.7-2.4h0m-0.3-4.8h0m-0.4 32.5h0m-0.9-30.1h0m1.5-6.4h0m0.5 1.7h0m-2.4 17.9h0m1.4-7.2h0m0.6-4.3h0m-1.5 0.2h0m0.9-3.9h0m2.2-25.6h0m-3.1 13.9h0m2.3 6h0m-7.3 24.7h0m2.3-1.7h0m-1.8 1.7h0m1.8 1.8h0m-1.5-3.7h0m4.9 20.3h0m-2.1-3.8h0m0.6-3.8h0m-3.8 5.7h0m2.5-25.6h0m0 15.4h0m-0.1-1.3h0m-0.5 0.6h0m-1.8 3.6h0m2.5 6.1h0m-0.7-11.2h0m-2.5-8.2h0m2.8 16.5h0m-1.7 2.1h0m-0.1-15.7h0m4.5 14h0m-4.3-15.6h0m2.7 11.4h0m-2.2-5.1h0m3.7 19.5h0m-4.3-17.4h0m0.4 2.5h0m0.1 0h0m-1.9-16.3h0m3.8 25.8h0m-2.2-17h0m-0.4 12.5h0m2-16.7h0m-4.1 6.6h0m5.2 2.6h0m-3.1-6.8h0m2.7 8.3h0m-1.1 4.6h0m0.8 1.1h0m-2.2-18.7h0m1.6 14.9h0m-1.6-3.5h0m3.5 1h0m-0.9 11.2h0m0.2 1.9h0m-1.7-13.4h0m0.1 5h0m1 7.5h0m-0.7-16.3h0m2.5 12.9h0m-4.1-12.9h0m1.5 7.5h0m0.5-6.7h0m-3-6.7h0m3.6 21h0m-1.1 0.2h0m-1.3-20.7h0m2.1 16.4h0m-1.1-15h0m0.1-5.6h0m1.6 9.3h0m-0.9 20.3h0m0-16.7h0m-1.6-7.3h0m1.2 17.7h0m-1.1-16.2h0m-0.2-1.3h0m0 24.8h0m4.8-7.4h0m-1.3-8.2h0m0.6 3.8h0m-2.9 2.6h0m-2.6-4.9h0m4.9 1.2h0m-4-14.7h0m2.1 19.7h0m-0.7-9.9h0m-1.9-15.7h0m0 31h0m0.1-10.2h0m1.2-10h0m0.8 3.5h0m-3.2-7.8h0m-0.2-0.6h0m5.5 19.1h0m-2.9-10.4h0m1 5.6h0m0-5h0m-1.4 6.7h0m1-8.9h0m-0.6 9.4h0m0.3-15.7h0m-0.5 17.6h0m1.4-4.8h0m2.8-2.1h0m-0.3 17.8h0m-1.5-13h0m-1.9-3.8h0m0.1 10.2h0m2.7 1.2h0m-1.6-16.5h0m-3.2 0.3h0m0.4-11.9h0m3 24.7h0m32.9-37.6h0m0.6 0.2h0m3.9 20.7h0m-3.6-14h0m3.1 13h0m-3.2-9h0m2.4 5.8h0m-0.8 0h0m1.7 14.5h0m-0.7-17.8h0m-4.6-17.6h0m0.6-12.9h0m4.2 52.5h0m-2.9-26.3h0m2.7 15.4h0m-0.8-14.9h0m-3-0.4h0m5 28.2h0m-1.7-30.8h0m-3 4.6h0m2.7 9.7h0m-3.9-29.4h0m6.2 47.4h0m-3-25.5h0m-0.5-18.5h0m-2.9 0h0m0.9-1.7h0m1.6 17.4h0m1-5.1h0m4.6 33.2h0m-6.1-45.1h0m-0.6-0.3h0m0.6 14h0m4.1 30.1h0m-2.2-8.8h0m-2.9-25.1h0m5.5 34.6h0m-2.9-24.7h0m-2.6-17.3h0m3.4 26.1h0m-4.3-36.6h0m0.8 12h0m1.7 0h0m-3-1.1h0m0.2-11.9h0m0.7 7.1h0m5.2 46.6h0m-5.9-49.4h0m2 14.3h0m2 26.9h0m-1.4-23.1h0m-0.9-8.1h0m1.9 26.3h0m-0.5-5h0m-0.2-17.7h0m2.4 17.2h0m1.3 10.4h0m-7.4-54.8h0m5.5 43.6h0m0.3 24.6h0m-1-27.4h0m0.8 8.8h0m3.1 20.3h0m-3.1-6.3h0m-3.3-37.8h0m-0.3-5.3h0m-0.7 2.5h0m4.7 34.1h0m-2.1-3.8h0m0.2-17.3h0m-0.5 4.8h0m3.7 12.5h0m-7.5-45.5h0m2.5 10.5h0m1.5 15.1h0m-2.2-21h0m1.5 31.4h0m-0.3-17.5h0m-2.1-15.3h0m1.4 9.7h0m0.8-10.4h0m0.3 22.9h0m0-3.2h0m0.6 5.4h0m0.9 8.1h0m-0.3-21.4h0m0 17h0m-0.2 6h0m-0.6-12.7h0m0.1 5.1h0m-2.5-30.9h0m2.3 28.7h0m-2.2-17.6h0m3.2 18.2h0m0.3 4.5h0m2.3 22.5h0m0-5.5h0m-4.4-28.5h0m0.5 18.2h0m0.2-3.4h0m1.2 8h0m-4.4-45.7h0m4.7 40.1h0m-2.5-25.4h0m2.1 19.2h0m-1.2-8.9h0m1.6-6h0m0.5 25.2h0m-2.2-16.5h0m1.4 24.5h0m0.2-28.5h0m-0.6 7h0m-0.8-13.9h0m2.4 23.1h0m-2.2-23.6h0m0.3 9h0m3.2 17.6h0m-6.8-48.7h0m2.3 27.2h0m4 27.7h0m-2-9.5h0m0.9 14.6h0m-3.8-50.8h0m1.6 14h0m-1.9-11.7h0m0.8 0.1h0m0.2-9.5h0m-1.9 24.7h0m4.6 21.9h0m-0.5-25.9h0m-1.6 22.3h0m-2.2-32.5h0m-1.1-6.1h0m1.7-1.6h0m2 25.1h0m-0.9-23.4h0m2.2 28.2h0m-1.4 7.1h0m-2-27.6h0m0.3-10h0m5.2 38.1h0m-7.6-37.7h0m6.9 43h0m-3.3-11.3h0m3.9 2h0m-5.9-13.5h0m1.6 3h0m1.6 16.5h0m0.7-9.2h0m-2.2-6.6h0m-0.1-2.3h0m3.3 32.2h0m-2.2-20.8h0m-0.4-4.2h0m3.2 16.1h0m-2.3-26h0m-1.6-7.9h0m2.1 27.9h0m1.6-2.5h0m-1 10.4h0m-0.8-6.5h0m-1.7-32.9h0m-0.9 1.1h0m3.8 49.1h0m-4.2-31h0m0.6-9.8h0m4.5 40.6h0m-0.1 3.1h0m-2.1-33.2h0m-1.6-6.1h0m0.9 6.6h0m0.3 4.2h0m0.3-6.1h0m-3.5-22.3h0m4.5 42.7h0m0.8-9h0m0.5 8.7h0m-1.4-14.8h0m-2.2-16.4h0m-1.5-8.2h0m5.2 47.1h0m-4-42.9h0m7.4 35.7h0m0.3-23.1h0m1.9-6.1h0m-1.4 12.7h0m-2.6 28.2h0m2-32.4h0m0.7 3.9h0m-0.4 16.1h0m0.3 1.3h0m0.7 2.4h0m-0.9-22.6h0m-0.5 29.6h0m-0.8-6h0m0.2-24h0m1.2 15.9h0m-0.5-6h0m-1 12.8h0m2.7-28.1h0m-2.6 31h0m1.7-24.1h0m-0.2-3.1h0m-1.4 10.7h0m1-4.8h0m-0.3 10.1h0m-0.2 11.6h0m1.7-20.5h0m-2.2 26.3h0m1.3-12.6h0m0.3 1h0m-1.1-2.8h0m0.3 2.6h0m-1.5-0.3h0m0.6 4.6h0m2.5-29.2h0m-2.4 23.1h0m0.5 2.8h0m0.7 0.5h0m-0.3-8.1h0m0.4 5h0m-0.2-6.5h0m0.1 14.6h0m-0.7-10h0m-0.5 2h0m1.6-8.6h0m-2.2 7.4h0m1.3-1.1h0m0.1-16.3h0m-0.3 9.1h0m-0.9 17.4h0m2.2-21.5h0m-1.6 12.1h0m0.6-11.5h0m-1.1 11.6h0m-0.5-11.5h0m0.2 11.9h0m2.7-10.9h0m-1.1-5.9h0m0.5 12.4h0m0.6-10.8h0m-0.6-2.3h0m-0.3 10.1h0m0.2 1h0m0.1 22.3h0m-1.2-25.2h0m-0.2 24.8h0m0.5-0.8h0m0.7-19.3h0m-0.7 1.7h0m-0.3-11.1h0m2.1 3.8h0m-2.2 6.9h0m0.7-13.9h0m-0.2 7.8h0m-1.1 19.3h0m0-23h0m0.9-10.1h0m-0.4 34.8h0m0.5-7.9h0m-0.5-11.7h0m-0.1 5.6h0m-0.3-5.7h0m1.5-8.7h0m-1 7.3h0m-1.1 22.2h0m1.1-10.1h0m0.4-4.8h0m-0.1 2.5h0m0-6.2h0m1.1-3.2h0m-3.3 19.5h0m3.8-27.7h0m0.3 25.6h0m-2.2 2.4h0m1.5-35h0m-0.8 29.9h0m0.9-24.7h0m-0.4 9.4h0m-1.4 20.3h0m0.8-9.5h0m-1-6h0m0.4 3.1h0m1.2 7.5h0m-2 4h0m1.7-7.3h0m-1.6 6.6h0m1.4-12.2h0m-1.8 20.4h0m1.1-27.4h0m-0.6 16.3h0m1.8-8.4h0m0.1-21.1h0m-2.1 33.6h0m-0.1-7h0m2-8.7h0m0.3-19.6h0m-1.9 22.2h0m1.1-6.1h0m-0.5 5.8h0m0.4 2.5h0m0.2-0.4h0m0.5-6.9h0m-1.3-9h0m-0.1 8.9h0m0.7 7.5h0m-0.6 2h0m0 3.8h0m0.1-10.5h0m-1 17.2h0m2.6-10.1h0m-0.4 4.1h0m0.4-8.2h0m-0.9-8h0m-1.4-18.4h0m2 31.9h0m-0.3-3.7h0m-1 12h0m-0.6-25.2h0m0 13.1h0m2.4-1.3h0m0.6-4.4h0m-1-4.6h0m-1.8 15.5h0m1.6-9.5h0m-1.3-7h0m0.9 11.1h0m0.3-13.1h0m-0.1 4.2h0m0.8 2h0m-0.8-2.5h0m0.4-20.1h0m1.3-0.4h0m-2.7 35.5h0m-0.2 13.9h0m-0.2-2h0m1-15.9h0m0.4-10.3h0m-4.9 14h0m-1.6-20.2h0m1 7.1h0m1.3 5h0m-1.2 0.2h0m1.3-6.8h0m0 15.5h0m2.1-9.4h0m0.2 14.5h0m-4-26h0m3.6 28h0m-4.5-32.9h0m4.3 12.4h0m-5.6-7.5h0m-0.4-4.4h0m5.5 29.1h0m-2.3-27.4h0m0.9 18.8h0m1 4.5h0m0-14.8h0m-0.5 2.1h0m-2.4-5.9h0m2.6-5h0m2.6 24.2h0m-2.8-12.7h0m-2-3.9h0m1.6 3.6h0m-2-8.2h0m2 19.9h0m-1.4-17.2h0m0.1-11.8h0m-0.6 14.8h0m2.7 0.5h0m2.5 22h0m-4.6-18.6h0m6.2 20.1h0m-4.6-18.9h0m-0.2 17.8h0m-0.4-9.6h0m2.8 4.4h0m-1.7-19h0m-4.4 8.3h0m3.4 0.7h0m-1.3-2.9h0m4.1 13h0m-6.1-24.9h0m4.7 7.5h0m3.1 17.5h0m-5.8-18.3h0m0.3-7.5h0m0.1 11.8h0m0.3-8.9h0m-0.9 12.4h0m-0.7-4.1h0m3.1 5.7h0m1.3-2.7h0m-1.3 10.4h0m0.3 4.6h0m-1.3-16.6h0m0.3-4.5h0m1 5.4h0m-2.4-6.3h0m2-3.4h0m2.6 20.4h0m-3.1-9.9h0m-0.2 0.6h0m1.5 1h0m0.1 13.7h0m-2.3-6h0m0 6.3h0m-1.3-35.2h0m4.2 33.5h0m-3.6-8.6h0m0.8-16h0m2 9.5h0m-2.7-18.8h0m-1.6 10h0m6.3 25.2h0m-4.7-7.1h0m1.4-12.6h0m1.2 15.9h0m-1.2-6.7h0m2.2 4.8h0m-4.4-10.9h0m2.9 10.6h0m-1.2-22.1h0m0.3 9h0m-0.8-3h0m0.8 21.2h0m1.5-8.7h0m-0.5-2.5h0m-1-5.1h0m1.9-1.1h0m-4-6.5h0m1.6 20.8h0m0.2-2.1h0m-5.2-28.7h0m3.6 10.1h0m2-0.8h0m1.4 5h0m-1.3 9.8h0m-3-4h0m3.6 1.9h0m-0.3 7.9h0m36.7 26.7h0m-3.9-61.7h0m0.6-1.2h0m2.9 47.1h0m-3.5-62.4h0m2 31.8h0m-0.4 1.9h0m-0.9 3.7h0m2.3 38.8h0m-1-43.3h0m0.6 39.5h0m-2-41.6h0m3.2 34.7h0m0 1.7h0m-2.7-49.5h0m0.2 30.5h0m-0.3-1h0m-0.3-27h0m0.2 1.5h0m2.5 49.8h0m-1.5-31.8h0m1.3 39.5h0m-0.9-30.8h0m-0.6 14.8h0m1-10.6h0m-2.1-7.8h0m-0.9-44.2h0m1.7 48.8h0m1.7 17.1h0m-2.4-45.3h0m0.5-12.6h0m-1.3 1.6h0m4.8 62.5h0m-5.7-62.7h0m0-8.5h0m3.3 61.5h0m-1.2-30.6h0m-0.6-24.5h0m-0.7 1.2h0m1.4 45.2h0m2 8.2h0m-0.9-8h0m0.7-6.4h0m-1.6-5.2h0m-0.8-30.9h0m0.1 25.8h0m-0.5-22.4h0m0.2 14.5h0m-0.5-29.3h0m3.1 73.9h0m-0.5-34.5h0m0.7 18.3h0m-0.3-11.1h0m-1.6-20.6h0m1.1 28.3h0m1.7 21.2h0m-2.1-32.7h0m-0.8-9h0m2.3 34.6h0m0-22.4h0m-3.2-1.3h0m1.5 8h0m2.3 36.6h0m-2.3-42.7h0m2.2 6.3h0m-4.1-20.2h0m3.3 37.2h0m-1.3-28.3h0m-2.4-23h0m3.1 45.7h0m-4.5-62.3h0m4.4 25.1h0m-0.1 29.4h0m-2.7-45.7h0m3.9 41.8h0m-1.6-13.1h0m1.8 44.8h0m-0.2-22.8h0m0.2-15.3h0m-1.8-7.2h0m-0.8-1.1h0m0.7-4.8h0m1.1 14.9h0m-2.9-24.3h0m-0.1-16.1h0m-0.1 11.4h0m1.1 5.5h0m1.3 54h0m-2.7-58.6h0m2.4 30.6h0m-1.2-9.3h0m0.7-3.3h0m0.6-1.1h0m-2.2-17h0m-0.1 30.8h0m-0.4-38.7h0m3.5 17.4h0m-0.3 5.7h0m-0.7 32.7h0m-0.6-44.1h0m0.9 46.2h0m-0.5-32.2h0m0.2 9.2h0m-2.2-33h0m1.3 32.4h0m4 42.9h0m-4.3-57.5h0m2.7 44.2h0m-3.9-67.1h0m5.1 77.4h0m-3.9-51.5h0m2.8 19.1h0m-0.5 25.9h0m-1.8-45.3h0m0.4 9.5h0m-0.6-6.9h0m2.2-4.8h0m-0.3 38.2h0m0.2-22.7h0m-1.4-15.2h0m-1.5-18.1h0m0.9 19.2h0m2 29.5h0m-1.2-30.8h0m1.1 52.2h0m-2.6-58.6h0m3.9 58.1h0m-2.8-40.1h0m2 27.1h0m1.4 21.2h0m-3.8-66.9h0m-0.4-9.1h0m2.2 45.4h0m-1.7-18.4h0m2 17.1h0m-2.1-26.1h0m2.2 38.8h0m-0.4-13.3h0m-2.6-43.6h0m4.1 64.8h0m-2.1-11.6h0m1.6 1.1h0m0.3-12.6h0m-3.2-24.2h0m3.5 56.2h0m0.4 7.3h0m-3.9-63.8h0m-0.6-10.8h0m2 37.5h0m-1.2 15.3h0m-0.4-38.2h0m0.3 6.7h0m0-22.2h0m-0.9 13.6h0m3.5 25.2h0m1.7 23.7h0m-5.6-81.2h0m0.6 31.1h0m0.5 9.7h0m3.7 49.3h0m-2.1-28.2h0m-1.3-11.9h0m2.9 41h0m-3.3-61.6h0m0.1 18.2h0m0.4-20h0m0.3-5h0m0.2 13.5h0m-0.7-0.5h0m-0.4 8.1h0m1.7 7.5h0m-1-39.8h0m-0.4 5.4h0m1.3 45.5h0m1.3 8.4h0m-1.3-6.1h0m-0.4-25.6h0m1.5-1.8h0m-2.5-8.8h0m-0.2-26h0m3 48.4h0m-4-45.8h0m4.2 68.1h0m-3.6-37.8h0m3.7 33.5h0m-0.6-5.8h0m-1.3 8.1h0m2-23.7h0m-4.6-37.9h0m-1-1.7h0m3.5 15.4h0m0.9 46.1h0m0-20.6h0m-2.1-24.6h0m2.6 23.5h0m-3.5-56.2h0m0.1 35.4h0m2.8 38.9h0m0.9 21.4h0m-2.6-65.2h0m1.8 56.6h0m0-33.7h0m-1-0.4h0m-0.9-17.5h0m0.3 4.6h0m1.3-5.5h0m-0.2 29.1h0m1.2 7.7h0m-1.1 8.1h0m0.9-4.8h0m-4.9-68.9h0m4.8 76.6h0m-1.5-14.5h0m1.1 9.9h0m-2.6-44.1h0m1.2-21.5h0m-0.7 41.2h0m2.4 14.7h0m-3.2-28.7h0m2.6 57.2h0m-0.8-14.9h0m-1.5-42.4h0m0.8 1.3h0m0.9 34.6h0m-0.6-21.2h0m1.3 1.5h0m0.5 18.7h0m-0.4-32.4h0m-2.7-15.8h0m1.2 35.3h0m1.4-4.8h0m-1.8-29.2h0m0.6 10.3h0m2.1 30.9h0m-2.7-38.1h0m4.1 61.2h0m-1.1-9.3h0m-1.5-31.5h0m-2.1-35.5h0m-0.1 18.5h0m3.2 40.4h0m-0.8-2h0m-1-19.5h0m-1.6-29.6h0m0.8 13.6h0m2.5 1.7h0m-0.9 45.8h0m0.2 5.8h0m-1.5-46.2h0m0.7-15.7h0m0.2 16.8h0m1.1 9.4h0m-0.9-11.7h0m-0.1 41.5h0m-0.5-47.5h0m3 54.7h0m-2.8-47.6h0m1.2 15.7h0m-1.3-11.2h0m-1.7-44h0m2 50.4h0m2.4 31.1h0m-2.5-34.2h0m-2.1-30.6h0m1.9 2.3h0m-0.1 31.7h0m-0.3-23.7h0m1 20.1h0m-0.1 4.8h0m1.1 44.6h0m-1.9-63.8h0m0 2h0m-3.1-30.3h0m4.4 53.7h0m-1-33.4h0m1.7 48.7h0m-2.6-21h0m1 7.4h0m1-6.7h0m-1-10.3h0m0.6 15.1h0m0.6-7.8h0m1.2 25.5h0m-1.6-4.1h0m1.3 12.2h0m-2.4-29.9h0m5.4-35.9h0m1.4 23.7h0m-0.7-10.9h0m0.1 0h0m0.6-16.5h0m-0.1-2.8h0m-0.7 12.4h0m1.4-11.7h0m-3.3 28.8h0m3-22.3h0m-1.2 31.8h0m1.8-45.4h0m-0.8 10.5h0m-1 15.8h0m1.3-13.1h0m-1.9 15.9h0m0.7-9.3h0m0.6-12.3h0m-0.8 11.5h0m2-14.5h0m-1.3 26.5h0m-0.7 4.6h0m1-3h0m0.4-20.5h0m0 10.4h0m-2.4 9.2h0m1.1 4.4h0m0-12h0m0.5 8.8h0m0.7-12.6h0m-1 3.9h0m-0.1 2.8h0m-1.5 20.1h0m1.7-20.8h0m0.6-6.9h0m-1.5 22.9h0m0.4 3.3h0m1.1-43.4h0m-1.5 28.3h0m2.5-19.9h0m-0.8 26.7h0m-1.2-7.2h0m0.7-2.7h0m-0.1-4h0m0-8.4h0m-1.6 20.8h0m1-9.9h0m-0.2-11.2h0m1.5 6.9h0m0.1 14.6h0m0.4-30.3h0m-1.9 35.5h0m0.3-20.3h0m1.1 3.2h0m-0.9 5.6h0m-0.9 2.6h0m0.4 0.8h0m1.2-28.6h0m-0.1 9.9h0m-0.5 13.2h0m-1.2 7.9h0m0.3-10.3h0m2.2-15.6h0m-2 14h0m0.7-8.6h0m0.7-9.9h0m-0.5 3.1h0m-1.6 12.4h0m0.8 16.5h0m-0.8 0.4h0m1.9-20.1h0m-0.2 10.2h0m-0.6-2.9h0m0.5-16.3h0m-1.6 30.2h0m1.5-12.4h0m-0.3-2.3h0m-0.5 8.7h0m0.1-0.6h0m0.6 10.7h0m-0.4-17.5h0m2.2-21.1h0m-1.2 25h0m0.6 3.4h0m-1.9-5.1h0m0.7-18.5h0m1 3.3h0m-2.5 37h0m3.1-43.3h0m-2.5 17.6h0m1.1 5.6h0m-2.2 2.7h0m3.4-12h0m-1-1.1h0m-1.5 16.3h0m-0.3-11.8h0m1.3 2.4h0m0.4-2h0m-0.3-7.4h0m2.2-9.5h0m-1.7 9.3h0m-0.3 15.1h0m-1 0.6h0m2.1-12.7h0m-0.9 7.4h0m-1.7 2.9h0m0.9-4.6h0m0.2 2.1h0m1.4-13.2h0m0.5-13.9h0m-1.9 20.9h0m0 17.7h0m-0.5-21h0m0.2 11.6h0m1.1-2.7h0m-1.1 3.4h0m0.4-1.9h0m-0.2-5.4h0m1-1.1h0m-1.5 2.5h0m0.6 13.4h0m-0.6-6.9h0m-0.2-2.6h0m1.5-17.3h0m-1 19.6h0m1-21.1h0m-0.1 3.1h0m-2.4 25.7h0m1.3-7.8h0m-0.4-10.7h0m-5.9 11.4h0m3.9 9.7h0m-2.6-19.2h0m1.6 3h0m-3.4-6.8h0m1.4 12.2h0m1.1 6.2h0m-2.3-6.8h0m1.9-3.4h0m1.9 0.3h0m-0.7 11.7h0m-2.6-17.5h0m1.6 12.9h0m-0.3 3.5h0m-0.1-15.9h0m0.1 23h0m2.4-6.1h0m-2.8-6.4h0m-0.1-6.2h0m2.5 16.9h0m-1.5-18.7h0m-1.4 6.6h0m0.7 4.3h0m-1.5-11.2h0m0.9 5h0m1.9 3.1h0m0.8-1.2h0m3.6 15.7h0m-5.2-21.5h0m-1.8 2h0m2.4 15.8h0m-2.3-7h0m2.9 3.6h0m1.6-13.4h0m-4.8-9.8h0m1.5 12.7h0m-0.3-0.2h0m-1.5-2.2h0m3.4 12h0m-1.6-6.2h0m1.4 0.6h0m-1.8 10.8h0m-0.3-15.4h0m2.5 12.7h0m1.6-8.9h0m-5-11.2h0m1.3 2.4h0m-1.8 0.8h0m4.7 15.9h0m-3.7-11h0m2.5 13.7h0m0.7-16.3h0m-4.1-7.9h0m2.5 8.7h0m-1.3-2.9h0m2.9 12.6h0m-0.7-6h0m-1-3.9h0m-0.5-7.4h0m-1.3 0.9h0m1.3 4h0m0.4 12.3h0m1.3-7.5h0m-2.4-12.3h0m2.3 13.7h0m-1.8 1.9h0m-0.5-2h0m1.9 2.1h0m0.7 10.7h0m0.4-18h0m-2.2 2.7h0m-0.5 0.2h0m0.9-0.2h0m0.7 17.4h0m0.8-21.7h0m-2.3 22.9h0m1.1-6.9h0m0.8-11.7h0m33.8-12.8h0m0.4-8.9h0m0.1 3.3h0m0.3-21.7h0m0.6 18.5h0m2.8 60.5h0m-2-1.8h0m0.6-13.1h0m-1.1-30.6h0m-1.7-18.7h0m2.9 25.5h0m-1-4.7h0m-0.7 12.1h0m0 17.2h0m2.3-26h0m-3-17.5h0m1.6 28.9h0m-1.4-29.8h0m2 42h0m-2.3-32.3h0m2.4 14.6h0m0-2.4h0m-0.5 15.3h0m-1.3 6h0m2.4 3.4h0m-2.6-61.6h0m2.3 68.5h0m-1.8-62.9h0m3.3 54h0m-2.4-29.7h0m-0.3 7.5h0m-1.2-25.5h0m1.4 38.4h0m0.5-12.8h0m1.1 1.8h0m-2.6 8.1h0m2.1 0.9h0m-2.8-50.1h0m2.4 29.2h0m-0.6-3.4h0m-1.8 7.6h0m-0.5-35.1h0m3 44h0m-1.7-0.6h0m1.3-16.6h0m1 37.1h0m-0.5-13.7h0m-1.9-19.1h0m2.1 50.8h0m-1.1-49.7h0m-0.1 14.5h0m-1.3-24.3h0m2.2 28.9h0m-1.6 16.1h0m2.5-11.7h0m-0.5 27.4h0m-2.2-65.1h0m-0.6 9.7h0m0.4 7.8h0m2.1 35.3h0m-1.3-14.3h0m0.3-11.9h0m-0.6-7.3h0m0.4 15.9h0m1 15.7h0m-0.6-13.9h0m1 5.9h0m-1.4-5.7h0m0.4-12.6h0m2 14.9h0m-0.6 19h0m-1-5.8h0m-1.7-66.7h0m1 53.6h0m-1.2-7.7h0m2.3 3.3h0m-1.5-18.7h0m-1-16h0m-0.6-22.5h0m0.9 38.5h0m0.3 23.4h0m2-8.8h0m-2.8-37.4h0m1.7 21.9h0m0.4 4h0m1 22.5h0m-3.6-51.1h0m-0.3 6.7h0m3.3 13.4h0m-1 25.1h0m0.6-15.4h0m-1.3-17.2h0m1.1 8.5h0m0.6 8.5h0m0.1 20.2h0m-0.3-19.5h0m1.5 20.4h0m-1.8-28h0m0.1 16.3h0m-0.1-4.1h0m1 29.3h0m-2.9-60.1h0m2.3 7.2h0m-1 15.9h0m0-16.8h0m-0.3 1.8h0m0.5-5.1h0m-0.6 14.7h0m-1.4-1.7h0m0-31.7h0m1.9 69h0m2.5-9.8h0m-4.2-42.4h0m1.8 19.1h0m1.2 9.3h0m-1.6 1.9h0m-1.1-2.1h0m2.5 3.3h0m-1.8-31.5h0m-0.3-0.7h0m0.9 15.5h0m0.2 12.5h0m0.2 22.1h0m-1.4-42.4h0m1.2 0h0m-2.1 14h0m1.9-32.7h0m-1.5 21.7h0m2.7 28.1h0m-0.5 18.5h0m0.7-38.2h0m-1.7-0.1h0m-0.5 26.1h0m2.6 1.3h0m-0.7 9.7h0m-1-20.2h0m1 10.7h0m-0.9-8h0m0.4 17.8h0m-0.6-34.8h0m-1.1-35.4h0m2.6 66.9h0m-1.2-30.1h0m0.1-12.5h0m0.6 23.2h0m1.5 20.7h0m-1.8-22.2h0m1.5 10.3h0m-1.7-22.2h0m-3.7-20.3h0m4.9 53.6h0m-0.8 0.1h0m-0.6-38.4h0m-1.4 0.3h0m1 20.8h0m0.8 12.6h0m-0.2-10.4h0m1.2 12.8h0m-1.7-42.2h0m-1.1 10.2h0m1.7 5h0m0 6.3h0m-0.5-14.4h0m0.5 30h0m-0.3-19.3h0m-0.4-11.2h0m3.6 56.2h0m-3.7-34.5h0m2 10.4h0m-1.5-42.1h0m-0.3 12.3h0m-2.1 0.3h0m3.6 27.5h0m-3.1-49.5h0m2.5 57.6h0m-1.5-60.1h0m0.9 34h0m-1.9-26.1h0m2.1 36.2h0m-1.1-17.2h0m0.5 23.8h0m-0.6-53.6h0m1.7 52.4h0m-1.8-26h0m2.6 40.1h0m0-14.9h0m-2.5-33.3h0m3 52.4h0m-2-26.1h0m-0.5-2h0m0.4-6.4h0m0 1.7h0m-0.1 9.3h0m1-17.8h0m-0.4 11.2h0m-0.5-5h0m0.4 4h0m0.5 25.9h0m-1.7-37.6h0m1 22.9h0m-0.6-19.5h0m0.7-1.2h0m1.5 22.4h0m-4.3-58.5h0m0.7 28.9h0m3 34.4h0m-0.5 9.9h0m-2.7-64h0m5.3 37.4h0m0.7-18.5h0m-0.7 14.6h0m1.7-11.7h0m-1.7 20.1h0m-0.2 5.8h0m0.9-40.6h0m0.6 21.5h0m-0.3-6.3h0m0 1.1h0m-2 16.8h0m3.2-25.3h0m-1.9 12.2h0m1.1-8.6h0m-1.6 11.4h0m0.5 7h0m0.2-26.5h0m-1.5 37h0m2.1-21.8h0m-0.8-5h0m-0.9 7.6h0m0.6 7.4h0m0.9-31.6h0m0 3.3h0m0.1 2.9h0m-0.7 29.7h0m0.4-27.1h0m0.4 5.5h0m-1.8 9.4h0m1.6 8.6h0m-0.7-9h0m-0.1 8.7h0m0 12.1h0m0.2-32.7h0m-1.1 15.6h0m-0.4 6.1h0m2.1 12h0m0.1-35h0m0.2 16.3h0m0.5-17.6h0m-0.5-8.1h0m-1.3 21.2h0m0.4-10.4h0m2.2-4.4h0m-1.4 2.4h0m1 11.8h0m-2-0.1h0m-0.3 3.1h0m2.1-10.8h0m-2.6 27.3h0m1.2-2.3h0m-1.5-9.1h0m0.4-3.8h0m2.2-13.8h0m-0.3 2.9h0m-2.2 11.5h0m1.7 4.6h0m1-21.1h0m-1.4 28.1h0m0.1-14.2h0m0-10.9h0m-1 3.9h0m1.2 4.4h0m-1.3 12h0m1.2-2h0m-1.5-5.4h0m1.8-5.2h0m0.8 0.7h0m0.1-21.4h0m-2.2 30h0m1.4-17h0m-0.9 7h0m0.9 2h0m-1.1-16h0m0 23.5h0m-0.4 6.4h0m1-9.8h0m-0.5-7.3h0m0.3-0.6h0m0.1 14.9h0m0.3-16.1h0m-0.3 17.2h0m1.3-18.5h0m-1.4-12.7h0m0.6 27.5h0m0.3-4.6h0m0.5-11.1h0m-0.7 3.3h0m0.1-1.8h0m-1.5 16.7h0m0.4-11.4h0m-0.9-6.3h0m2.6 1.4h0m-0.8 2.9h0m0.5-2.4h0m-1.1 11.2h0m0.5-3.4h0m-0.6-0.7h0m1.1-17.7h0m-1.5 8.2h0m0.6-1h0m-0.8 21.8h0m0.9-12.5h0m0.3 7.1h0m-0.5-4.3h0m0.3-7.8h0m-0.3-15.8h0m1.3 6.2h0m-1.6 19.4h0m1.7 4.6h0m-1-9.8h0m0.5-3.7h0m2.1-24.2h0m-2.5 28.7h0m-0.9 0.5h0m0.1-6.1h0m1.1-3.7h0m-2.6 23h0m2-14.2h0m0.1-1.2h0m0.8-2.4h0m-0.6 1.4h0m-0.4 2.2h0m1-11.8h0m-1.2 26.9h0m0.4-26.3h0m0.6-5h0m-0.8 18.3h0m1.2-16h0m-1 24h0m-0.3 25h0m-2.5-19.8h0m1.7 12.2h0m1.6 16.7h0m-3.6-22.3h0m0.5 3.3h0m-1-10.7h0m1.9-1.4h0m-1.4 21.6h0m2.1-10.2h0m0.6 20.4h0m-1-4.9h0m-0.2-10.8h0m-3-4.7h0m3.3 14.7h0m-4.5-22.9h0m5.7 9.8h0m-2.9 0.9h0m2.3-2h0m-3-1.1h0m-1.2-12.4h0m0.7-2.2h0m0.8 1.9h0m0-4h0m-0.5 10.9h0m2.1 22h0m1.7-17.5h0m-2.1-8.8h0m-3.2 10.9h0m2.8-6.8h0m-1.6 16.1h0m5.1-14.8h0m-5.5-0.5h0m1.6-0.8h0m-0.5-3.7h0m1.5 16.5h0m-0.3-4.3h0m-1.2 5.6h0m0.8-5.9h0m1.6-11h0m-1.3 8.9h0m2 5.5h0m-0.1 1.5h0m-1-13h0m-0.4 2.4h0m-2.3-15.9h0m1.7 18h0m1.4 0h0m-2.6 5h0m2.6 8.2h0m-3.1-16.2h0m0.9 10h0m1 10h0m-0.5-15.9h0m-0.2 3.1h0m-0.4-2.5h0m-1.6-5.6h0m2.9-16.6h0m1.9 32.1h0m2-4.2h0m-7.4-22.8h0m1.6 11.6h0m2.1 1.3h0m-0.1 11.5h0m1.4 6.1h0m-1.6-3.9h0m-1.5-14.7h0m4 17.9h0m-2.6-8.2h0m-1.7-12.2h0m1.3 17.4h0m-0.9-27.8h0m1.7 9.9h0m-1.9-4.2h0m2.3-1.1h0m-1.5-3.6h0m-1.5 6.8h0m3.5-1.6h0m0.4 0.3h0m-2.5 7.3h0m-0.4-6h0m0.9 3.2h0m-0.6-2h0m1.9 1.9h0m-1.4-6.6h0m-0.2-1.4h0m0.6 23.2h0m-1.1-21.5h0m1.3 14.5h0m0.3 6h0m-3.2-19.2h0m1.3 19.7h0m-0.2-6.9h0m2.6-5h0m-0.3 14.4h0m-2.5-22.7h0m-0.3 26.6h0m0.6-20.1h0m0.2 20.6h0m2.9-16.1h0m-1.5 12.8h0m0.2-4.2h0m-2.9-32.2h0m2.5 20.3h0m12.2-40.2h0m0.1-13.6h0m0.2 39.3h0m1.2-9.1h0m-0.1-11h0m-0.6-2h0m-1.5 5.8h0m1.2-24.4h0m0.1 45h0m2.4-17h0m-2.2-19.4h0m1.2 9.2h0m-1.8 0.4h0m1.4-0.6h0m-2.3 6.5h0m1.4-17.8h0m-0.5 23.6h0m1.9-14.9h0m-0.7-27.6h0m-0.9 49.4h0m0.2-8.4h0m0.8-10.2h0m-1.4 5.8h0m-0.4 21.1h0m0.6-6.7h0m0-17.3h0m-1 2.6h0m1.1-7.5h0m-0.2 6.6h0m-1.3-15.6h0m1.9 0.6h0m0.5 6.1h0m-0.1 4.8h0m-0.9 24.4h0m0.4-51.3h0m-0.1 42.8h0m-0.4 16.7h0m0-14.2h0m-1-22.2h0m2.7-16.2h0m-1.3 49.5h0m0.2-14.2h0m-0.6-7.5h0m2-20.9h0m-1.2 34.8h0m0.6-37.9h0m-1.4 4.3h0m0.5 2.8h0m0.6 4.5h0m-0.4-2h0m-0.5 23.8h0m1.7-12.8h0m-1.9-33.4h0m1.3 18.7h0m-0.4 17.7h0m0.7 3.4h0m0.1-42.1h0m-1.7 21.5h0m1.6 3.4h0m-1.5 16.3h0m0.2 12.5h0m1.4-29.2h0m-1.3-14.2h0m-0.1 50.3h0m1-37.7h0m-2 11.8h0m3.1 20.6h0m-1.4-51.4h0m-0.4 4.5h0m-1.4 48.3h0m1.2-26.9h0m-0.4 0.9h0m1.4-24.6h0m1.3 0.2h0m-1.1 18.7h0m0.3 14.6h0m-1.8 4.7h0m1.6-20.1h0m-1.3 35.7h0m0.2-31.2h0m-0.1-30.7h0m0.9 60.5h0m-0.7-14.9h0m-0.4-42.5h0m0.2 32.5h0m1.8 3.1h0m0.2 13.8h0m-1.8-24.7h0m-0.6 2.5h0m1.7-16.3h0m-0.8 0.6h0m-0.8 30.1h0m0.1-26.6h0m-0.4-2.9h0m0.6-13.9h0m0.3 23.9h0m-0.5-4.3h0m-1.3-8h0m0.7 25.9h0m0.2 29.3h0m1.3-54.8h0m-1.4 6.1h0m0.7 35.8h0m0.7-23.7h0m-1.2 21.1h0m-0.1-29.5h0m1 10.1h0m-1.1-19.2h0m1.5 31.3h0m-0.9 0.8h0m-0.8-39.9h0m0.2 56.8h0m0.8-19h0m0.9-11.3h0m0.2 0.2h0m-0.6-22.1h0m0 16.3h0m-1.5-9.3h0m0.7-15.3h0m-0.1 14.3h0m0.9 0.3h0m-1 29.2h0m-0.3-7.7h0m1.7-11.3h0m-0.8 14.6h0m1.1-8.4h0m-0.3-30.4h0m0.7 21.8h0m-3.6 26.5h0m2.8-1.6h0m-0.2 7.1h0m-1.6-37.8h0m-0.1 36.3h0m0.5-5h0m1-32.7h0m1.6-12.9h0m-1.7 12.1h0m0.6 36.9h0m0.5-28.2h0m-1.7 7.6h0m0-14.6h0m-0.1-4.1h0m0.7 44.2h0m1.2-45.8h0m-1.5 32h0m0.6-4.9h0m-1.8-4h0m-1 10.5h0m2.5-32.5h0m0.5 45.3h0m0.1-4.3h0m-0.2-18.2h0m-0.2 6.5h0m-0.8-10.8h0m-0.8-7.1h0m1 2.5h0m0 13.7h0m1.6-20.4h0m-1.5 43.4h0m0.8-52.5h0m-0.8 31.1h0m2.2-33.6h0m-1.9 27.4h0m0.8-17.1h0m-0.6 28.9h0m0.5 4.9h0m-2.5-11.8h0m1.7 15.8h0m-0.8-16.5h0m1.3-8.6h0m-0.9 6.2h0m-0.1 28h0m-0.4-34h0m-0.8-19.5h0m-0.3 11.3h0m1.8 13.9h0m0.1 8.9h0m1.6-13.7h0m0.1 13.2h0m-3.1-22.8h0m-0.1 16.2h0m0.3-25h0m0.8 33.1h0m0.7-10.9h0m-1.8-13h0m0.5-7.5h0m0.6 14.5h0m2.4 32.3h0m-2-36.9h0m-0.7 8h0m1.2-17.2h0m0.2 31.2h0m-2.1-19.3h0m1.3 6.6h0m-0.9-4.1h0m1.3-22.3h0m-0.5 22.2h0m0.8 5.5h0m-1.5-1.4h0m0.2-20.3h0m3.2 16.2h0m-3.3 7h0m1-22.5h0m-0.8 20.2h0m1.7-15.2h0m-1.6 39h0m0.7-53.4h0m0.9 19.7h0m22.1 14.6h0m-0.7-1.1h0m-2.6 12.7h0m2.3 8h0m0.1 19.6h0m0.9-29.6h0m-0.2 10.3h0m-1.8 17.9h0m2.4-24.6h0m-1.1 17.6h0m0.3-17.1h0m0 32h0m0.3-21.4h0m-0.9-2.6h0m2.9-31.4h0m-2.4 47.8h0m-1.1-48.4h0m0.5 28h0m0.6 16.7h0m-0.8-26.9h0m-1.4 4.3h0m2-31.6h0m0.2 10.6h0m-1 3.3h0m0 17.9h0m1.4-12.2h0m-1.4-22.6h0m1.8 49.2h0m-0.6-17.3h0m1.6-18.4h0m-4.3 35.1h0m1 2.1h0m1.9-0.6h0m-2.1-27.5h0m-1.4 38.3h0m7.2-3.6h0m-4.1-27.5h0m-0.3 27.4h0m1.1-10.1h0m-0.6-48.4h0m2.3 45.5h0m-6.9-30.5h0m4.8 14.3h0m0.1 4.2h0m0.6-2.4h0m-1.3 2.2h0m-0.2-9.6h0m-1.7 9.2h0m2.7-19.2h0m-1.5 18.9h0m-1.4-14.5h0m0.6-6.4h0m0 35.7h0m1.7 6.5h0m0.4-34.8h0m-0.7 20.4h0m-0.5 17.7h0m-1.5-23.1h0m0.7 20h0m1.9-0.2h0m-0.8-21.7h0m1.5 0.4h0m1.2-7.6h0m-0.5 44.3h0m-1.7-34.5h0m1.2 9.9h0m-2.6-26.3h0m0.4 18.6h0m1.8-7.4h0m-2.6-8.8h0m1.2 18.8h0m-0.7 31h0m1.2-73.4h0m-0.5 54.5h0m-0.2-21.9h0m1.5 16.2h0m0.9-16.2h0m0.3 33.2h0m-3.1-48.1h0m-0.4 28h0m2.1-38.9h0m-1 49.3h0m0.6-37.4h0m1.2 12.8h0m-4.6 18.1h0m1.9-19.7h0m0.7 5.2h0m-0.9-17.9h0m3.5 26.1h0m-1.3-11.7h0m0.3-2.5h0m-2.6-22h0m2 34h0m-1.2 1.6h0m-2.8 10.4h0m3.2-15.9h0m-1.1-3.2h0m2 14.6h0m-0.9-15.5h0m-1.3-2.2h0m0.2 33.9h0m-0.5-37.5h0m-0.4 35.5h0m0.5-38.9h0m2.4 25.3h0m-0.8-7.2h0m0.2-0.2h0m-1.6-28.3h0m3.1 14.2h0m-0.3 46.4h0m-2.9-41.5h0m2.1 15.5h0m-1.5-42.2h0m0.5 42.2h0m-0.3-10.8h0m-0.6-16.4h0m1.7 17.2h0m-0.7-18.9h0m1.1 31.4h0m-1.4 8.6h0m1.8-31.8h0m-0.4 44.4h0m1.4-64.3h0m-3.1 36.7h0m2.4-17.8h0m-1.9-18.4h0m-2.5 29.1h0m1.7-14.8h0m-1.3 4.4h0m4.1 22.2h0m-1.4-11.9h0m0.5-13.6h0m-1.2-12.3h0m-0.1 62.6h0m-0.4-44.4h0m0.8 11.1h0m-3.5-14.3h0m5 32.6h0m-0.5-10.2h0m1.2-26.4h0m-1.7 35.1h0m-1.9-21.8h0m3.2 5.3h0m-2.1-15h0m-0.6 21.7h0m4.9-15.4h0m-3.1-17.7h0m-1 23.2h0m0.4-17.9h0m2.1 21.7h0m-4.4-23h0m-1.5 21.3h0m3.2-6.1h0m2.2 38.6h0m-1.5-1.4h0m-0.1-34.3h0m-1.7-25.3h0m5.2 44.6h0m-3.5 14.7h0m0.8-34.3h0m0.2 3.4h0m-3.7-16.1h0m4-21.3h0m-0.7 52.4h0m0.7-34.4h0m-3.5 32.2h0m2.1 1.4h0m1.6-17.2h0m-3.1 4.5h0m2.7 22.9h0m-0.4-37.8h0m0.3 15.1h0m-0.5 16.7h0m-3.5-52.7h0m0.9 16.9h0m3.1 16.3h0m-0.9-23.6h0m0.5 29.8h0m-1.4 1.6h0m2.1-15.3h0m-0.9 4.8h0m-0.9 20.3h0m-0.5-50.3h0m2.9 23.5h0m-3.4-10.2h0m4.2 31.7h0m-2.8 14.4h0m-0.3 2.3h0m1.2-64.9h0m0.3 38.1h0m-0.7 9.3h0m-1.2-24.9h0m-0.3-8.5h0m-1.2 6.1h0m1.3 38h0m-0.9-3.4h0m3 12.2h0m1.5-42.4h0m-4.9 23.2h0m2.3 0.4h0m-2.7-30.7h0m1.7 7.5h0m-0.9-10.2h0m1.6 28.2h0m0.1-26.9h0m1.1 9.2h0m-0.6-5.7h0m-1.7 18.6h0m1.6-18.7h0m-1.3-20.8h0m2.8 21.3h0m-2.4-20.2h0m1.7 36.7h0m-1.2 18.2h0m0-22.7h0m-0.1 22.7h0m-0.9-48.6h0m0.8 43.2h0m-0.8 7.5h0m1.6-7.1h0m0.5 18.1h0m0.7-40h0m-2.3 29.6h0m0.8-29.8h0m-1.3 28.1h0m-0.3-58.3h0m2.1 27.5h0m-3.3 13.8h0m0.5 3.6h0m2.2-12h0m1 7.1h0m0.5-20.7h0m-1.3 17.7h0m0.9-31.4h0m-2.5 15.3h0m2.1 21.3h0m-2.8 19.2h0m3.4-5.4h0m-1-15h0m0.1 7.1h0m-2.1-20.8h0m1.9-7.5h0m-2.7 7.1h0m3.5 23.1h0m0.1-40h0m-1 17.6h0m0.6 26.5h0m-2.4-0.5h0m0.7-41.3h0m1.1-2.6h0m-0.9 59.2h0m2.6-40.5h0m-2.9-1.3h0m0.9 1.8h0m1.2 9.1h0m-1.8 23.9h0m1.4-5.6h0m1.1-47.3h0m-0.9 55.6h0m-3-48.4h0m1.3-36.4h0m0 4.1h0m0 4h0m-0.7-4.1h0m1.1 1.5h0m-0.7-1.4h0m0.7-1.9h0m-0.4 5h0m0.5-7.1h0m-1.6-0.4h0m-75.4 3.5h0m-26.4 114h0m-38.2-106.4h0m103.6 4.8h0m-104.7 88.4h0m27.4-6.6h0m115.7-50.9h0m-1.4 14h0m3.3-0.4h0m1.5 5.2h0m-1-56.1h0m-0.7 66.5h0m0.7-14.7h0m-0.7-1.1h0m0.5 8.7h0m0.3-17.5h0m-0.3-5.2h0m0.9 17.3h0m-2.7 14.1h0m2.4 8.6h0m-2.1-19.4h0m-0.3 5h0m1.4 20.6h0m-0.1-38.7h0m0-6.3h0m0.5-30.1h0m-1 25.3h0m-1.5-6.5h0m0.3-1.7h0m0.9 28h0m-1.4-34.9h0m1.3 6.6h0m0 28.7h0m1.8 11.2h0m0.8-32.7h0m-1-25.2h0m-1.3 61h0m0-37.5h0m0.9 15.4h0m1.6 12.5h0m-1.7-32.7h0m-0.6 26.8h0m1-6.7h0m0.7-16.2h0m-2.8 16h0m0.9-38.2h0m-0.3 56.1h0m1.5-5.5h0m1.5-2h0m-2.6 1.4h0m1.6-42.4h0m-0.5 21.4h0m-3.1-7.9h0m1 4.8h0m-0.4 23.2h0m2.9-39.4h0m-1.6 26.5h0m0 12.3h0m1.2-23.6h0m-0.9-6.1h0m1.8 48.9h0m-0.7-25.9h0m-0.9-14.7h0m-0.1 34.6h0m0.7-51.7h0m0.1 13.1h0m1.3 20.2h0m-1.4-35.7h0m-2.3 34.1h0m1.3-8h0m-0.5-5.3h0m0.2-12.6h0m0.6 14.3h0m0.2 15.9h0m-0.8-12.6h0m-0.1 6.6h0m1.8-29.5h0m-0.6 39.8h0m0.2-17h0m-1.7 4.2h0m1.5-16.5h0m-0.7 26.6h0m-1.4-13.8h0m1.2-28.9h0m0.7 29.1h0m-0.6-5.7h0m0.7 24.7h0m0-27.7h0m-0.3 21h0m2.2 20.6h0m-2.6-20h0m0.4 25.3h0m-1.4-38.7h0m0.6-0.4h0m1.6-16.3h0m-1.2-11.9h0m0.7 33.1h0m0.2 22.7h0m0.4-54.3h0m-0.4 28.2h0m1.2-1.4h0m-2 37.4h0m1-34.7h0m-1.9-17.4h0m1.1-3.3h0m-0.6 24.2h0m-0.3 9.6h0m2.6-10.4h0m-1.5 9.1h0m-1.8-16.5h0m1.2 47.1h0m0-40h0m0.7 28.4h0m-1.5-51.7h0m2.7 32.8h0m-0.5-7h0m-0.7-7.1h0m-0.9-6.7h0m1.6 6.6h0m-0.9 21.9h0m-0.6-0.4h0m0.6-25.3h0m0.4 0.9h0m-0.5 17.9h0m-0.8-39.1h0m-0.5 36.3h0m0.5-3.9h0m0-40.7h0m2.4 42.8h0m0.1-2.6h0m-2.1 10.7h0m-0.5-19h0m1.6 14.3h0m-1.5-6.1h0m2.3 36.1h0m-1.5-61.4h0m0.6 36.2h0m0.2-18.3h0m0.7 21.5h0m-2.1-16.4h0m-0.3-9.1h0m-0.7 4.4h0m2.2-17.9h0m0.1 29.7h0m-0.6-30.6h0m0.7 50.6h0m0.1-1.7h0m-0.8-44.5h0m0.3-11.6h0m-0.5 31.6h0m1.5 5.8h0m-2.1-28.7h0m1.2 23.3h0m0.6 2.2h0m-0.9 16.3h0m-1.9-8.4h0m1.1-15.8h0m1.8-44.2h0m-0.7 33.6h0m-0.5 40.1h0m0.8 7h0m1.6-67.3h0m-4.8 37.8h0m3-25.9h0m-1.1 10.8h0m2 31.8h0m-0.1-50.2h0m-0.6-9.9h0m-3.1 28.6h0m3 50.9h0m-1.2-30.1h0m1.6-4.4h0m-0.3-15.1h0m-1-16.9h0m1 21.6h0m-0.6 34.2h0m0.4-6.2h0m-1.3-61.5h0m1.3 40h0m-0.3-21.2h0m0.5-17.6h0m-0.7 41.1h0m0.7-26.7h0m-1.1 10.4h0m1.6-10.6h0m-0.9 19.7h0m-1.9-8.4h0m2.7 49.6h0m-0.9-35.2h0m2.6 0.9h0m-3.6-22.7h0m1 14h0m-0.2-3.7h0m2.7-2.2h0m-4 0.9h0m0.8 51.1h0m2.5-2.5h0m-0.9-16.9h0m-2.4-26.2h0m3.1 14.9h0m-2.3 5.8h0m0.2-35.8h0m1.7 40.2h0m-2-34.2h0m1 36.9h0m-0.1-21.1h0m0.9 32h0m-1.3-22.4h0m0.2-23.3h0m0.1 1.7h0m0.3-0.2h0m-0.4-18h0m-0.6 9.7h0m0.7 23.4h0m10.6-4.9h0m-0.2 3.9h0m0.8 7.3h0m-0.6 6.6h0m-1.1-22.4h0m0.9 14.3h0m-0.6-8.5h0m0.8 6.4h0m0.2-5.3h0m-0.6-6.2h0m-1-3.9h0m0.6 7.6h0m-1.1-14.5h0m1.6 24.5h0m-1.2-7.2h0m-0.3-15.2h0m2.3 26.1h0m-0.7-0.3h0m0.1 9.4h0m-1.2-34.9h0m2.5 25.9h0m-0.7 21.4h0m-2-29.3h0m0-4.9h0m1.9 16.3h0m1.7 11.2h0m-1.7-19h0m-1.5-1.2h0m0.5-3.7h0m0.6-5.5h0m-0.6-1.8h0m-0.1 16.3h0m1.5 9.9h0m-4-43.1h0m2.3 24.9h0m0.8 13.1h0m-0.1-4.2h0m-0.3-17.8h0m-1.1-11.2h0m1.4 23h0m0.3-2.8h0m-0.8-7h0m-1-9.1h0m-0.7-5.5h0m2.5 23.8h0m-1.9-27.5h0m1.6 29.1h0m0.4-3h0m-1.5-4.4h0m1.5-10.9h0m0.5 33.4h0m-1.4-18.9h0m-0.5-7.6h0m1.5-4.3h0m-0.8 16.2h0m-1.2-16h0m0.1 8.7h0m1.9 8.2h0m0.1-5.5h0m0.4 31.8h0m-2.2-37.5h0m1.7 16h0m-1.7-20.6h0m2.4 27.4h0m-1.2-29.5h0m0.5 4.4h0m0.1 20h0m-0.3-9.7h0m0.2 27.9h0m-1.2-26.7h0m1.3 7.2h0m0.4 4.2h0m-0.1 5.5h0m0.1-7.9h0m-1.5-14.8h0m-0.4 4.5h0m1.4-6.4h0m-2-12h0m2.5 17.5h0m-0.8 7h0m-0.6-16.5h0m0.2-0.7h0m-1.2-13.2h0m1.6 20.4h0m-0.6-9.2h0m-0.6-1.6h0m1.1 22h0m-0.2-27.9h0m0.5 29.4h0m-1.3-11.1h0m0 6.8h0m2.6 16.9h0m-1.9-25.5h0m0.5 21.2h0m-0.3-17.7h0m0.3 18h0m1.1-9.2h0m-2.2-19.5h0m1.4 16.4h0m-1.5-10.3h0m-0.8-17.4h0m-0.2 2.6h0m3.8 39.3h0m-2.2-27.8h0m1.4 17.1h0m-1.1-9h0m-1.9-19.6h0m1 16.9h0m2.4 13.5h0m-1.1-2.4h0m-0.1-11.6h0m-0.4 13.7h0m1.3 0.5h0m-0.6-5.3h0m-0.6 7.4h0m-0.7-27.9h0m1.1 15.8h0m0.1-2.6h0m-0.6 0.6h0m2.1 24h0m-1.4-13.3h0m0.9 9.1h0m-2.8-34h0m0.8 8.9h0m0.5 12.1h0m-0.5-5.1h0m2.8 22.9h0m-3.6-32h0m1.3 20.7h0m0.1-11.9h0m2.8 9.7h0m0.5-25.7h0m2.1 6.9h0m-1.2 0.3h0m-0.2-2.2h0m-0.4 20.4h0m0.1-18.7h0m0.1-1.4h0m-0.3 10.3h0m-0.5 13.9h0m-1-7.4h0m1.2-10h0m-0.1 0.8h0m-0.6 7.1h0m0.2 12.5h0m0.8-17.6h0m0.9-19.7h0m-0.8 24.8h0m0.7-34.9h0m-0.7 0h0m0.5 17.7h0m0.3 11.7h0m-1-23.9h0m-0.7 40.2h0m1.1 7.1h0m-0.7-10.9h0m0.6-36.6h0m0.5 40.9h0m-0.2-11.1h0m-0.8-16.5h0m0.2 8.5h0m0.2-2.3h0m-0.5-13.7h0m0.1 17.6h0m1 0.9h0m0.2-30.5h0m-1.7 15.5h0m0.6 24.1h0m0.8-5.1h0m-0.7-14.7h0m1.3 8.1h0m-2 14.1h0m2.3-27.8h0m-0.7 1.8h0m-0.3 28.9h0m-1.1-20.8h0m0.8-9.3h0m0.1-13.8h0m0.4-7.3h0m-1.5 29.2h0m2-14.4h0m-0.9 21.8h0m0.8-21.7h0m-1.2 33.9h0m1.3-9h0m-0.7-2.9h0m-1.8 12.5h0m1.4-10.4h0m0.5-17.3h0m-0.7 22.4h0m-0.1-24.7h0m0.4 10.5h0m-0.2 12.5h0m0.1-35.1h0m0.1 38.4h0m-0.6-17h0m0.8 12h0m0.6-25.6h0m-1-8.8h0m-1.1 56.5h0m1.1-39.6h0m0.4-3.3h0m-0.3 29.9h0m-0.2-36.4h0m-0.1 1.6h0m0.6 1.3h0m-1.5 26.8h0m1.9-25.2h0m-0.8 24.8h0m1.2-37.2h0m-0.5 23.8h0m-0.6 16.6h0m-0.8-5.6h0m1.3-0.2h0m-0.3-1.3h0m-0.6 2.5h0m-0.5-5h0m0.4-10.7h0m0.1 9.1h0m0.3 11h0m0.4-19.6h0m-0.8 7.2h0m-0.8 6.1h0m1.2-14.4h0m-0.3 20.8h0m0.5-21.5h0m1.3 1.4h0m-1.7 9.9h0m0.7 3.2h0m-0.9-22.4h0m1.2-12.1h0m-1.3-3.4h0m0 30.8h0m0.1 2.4h0m0 5.7h0m-0.5 7.5h0m1.9-8.1h0m-1.4-12.4h0m-0.7 28.8h0m2-31.7h0m0.3 14h0m-3.3 12.3h0m3-13h0m0.8-15.6h0m-0.7-6.6h0m-1.1 14.1h0m-0.9 23.5h0m1.1-45.9h0m-0.5 61.9h0m1.1-40.7h0m0.4 3.2h0m-0.6 1.2h0m1-15.1h0m-2 16.5h0m0 5.3h0m1.8-9.3h0m-1 9.6h0m0.7-20.5h0m-1.2 17.5h0m0.4 15.6h0m-2.1-7.7h0m0.3 4.4h0m-1.1 2.7h0m-0.1-13h0m0.5 5.9h0m1.5-3.4h0m-1.4 7.3h0m-0.5-10.8h0m1.7 20.3h0m0.6-14.5h0m-0.9 15.1h0m-1.2-15.3h0m-1.1-10.4h0m2.6 16.8h0m-1.8-7.2h0m-0.7 1.3h0m0.7-10.7h0m-0.5 21.5h0m-0.2-19.2h0m1.4 1.5h0m-1.2-10.2h0m0.3 15.5h0m0.9 0.1h0m0.6 17h0m0.3-21.9h0m-1.1 12.9h0m-1.5 0.2h0m1.8-1h0m-1.7-15.5h0m2.1 16.2h0m-1.9-5.7h0m0.9-0.2h0m-0.9-8.5h0m0.4 1.7h0m1.1 7h0m1.6 13.6h0m-2.5-28.9h0m1.3 16.7h0m-0.4-11.9h0m1.6 1.3h0m-0.6 21.5h0m-1.6-8.1h0m-1.8-3.5h0m3.6 6h0m0.7-14.6h0m-1.5 5.2h0m-0.1-8.6h0m-1.1 5.7h0m2.7-2.9h0m-3.1-3.3h0m1.5 8h0m-1.9 22.4h0m3-21.6h0m-3.3-12.3h0m0.8 10.5h0m2.2 9.4h0m-0.1-11.9h0m-1.6 6.7h0m-0.4-3.3h0m-0.7-9.7h0m3.7 25.9h0m-3.9-16h0m2.3 5h0m0.8 4.9h0m-1.9-10.1h0m0.8 3h0m-1.2-2.7h0m1.3 0.3h0m0.5 15.5h0m0.5-12.1h0m0.2-5.9h0m-2.6 5.5h0m1.4 13.8h0m-1-3.8h0m1.1-15.1h0m1.8 14.4h0m-3.2-5.4h0m-0.9-16.6h0m1.9 5.5h0m2.3 5.2h0m-0.3 0.2h0m-2.7-9h0m0.6 8h0m0.4-4.5h0m-1.8-1.9h0m0.3-1.2h0m0.7 15.6h0m1.8-6.4h0m-1.2 4.8h0m-0.3 1.5h0m-0.9 3.4h0m-0.8-11.4h0m2.1 1.3h0m-0.4-4.3h0m1.3 2.9h0m1.9-7.7h0m-2.2 22.7h0m-0.9-9.7h0m0.9-3.3h0m0 7h0m-0.4-7.1h0m1.5 7.7h0m-1.5 7.7h0m0.3-4.9h0m-4.5-69.2h0m-0.1 3.5h0m0.2-2.9h0m0 0.1h0m-0.1 2.1h0m0-2.9h0m0.5 1.7h0m26.2 50.3h0m0.2-2.3h0m0.7 16.2h0m-1.5 2.4h0m0.5-12.9h0m-0.2 7.8h0m0.8 8.6h0m-0.2-1h0m1 3.2h0m-1.1-16.2h0m0.7-3.1h0m-2.1-5h0m1.9 17.4h0m0.8-11.4h0m-1.3-3.5h0m0.5 8.5h0m-1.4-2.6h0m1.2 7.2h0m-0.8-25.3h0m1-0.9h0m-1.1 7.7h0m1.6 20.2h0m-0.5-8.3h0m-0.9-0.1h0m0.9-14.6h0m-0.2 18.1h0m0.6-18.2h0m-1-2.1h0m0.2-7.7h0m-0.3 9.7h0m1.1 6h0m-1.5 22h0m1.2-16.6h0m-0.4-10.1h0m-0.2 22.3h0m1.2-9.9h0m-1.4 12.7h0m0.4-11.4h0m0.2 20.6h0m-0.2-49.5h0m-0.2 21.9h0m0.8 5.6h0m-1.1-8.1h0m1.3-0.3h0m-2.6 28.1h0m2.1-19.2h0m0.1 10.1h0m-0.2-13.2h0m0.1 8.6h0m-0.5-4.3h0m-0.4-3.7h0m0.8 29.1h0m-0.1-28.9h0m0.6-8.2h0m-1.8-7h0m2 40.2h0m-1.7-42h0m2.1 15.6h0m-2.5 19.3h0m1.2-19h0m0.1-3.6h0m-0.2 10.3h0m-0.2-20.7h0m0.4 14.5h0m-1 30.9h0m1-58.2h0m-0.6 16h0m-0.2 25.1h0m-0.2-7.8h0m1.4-28.3h0m-1 39.5h0m0.7-4.6h0m0.2-41.2h0m-0.1 42.9h0m-0.3-35.8h0m-0.4 19.3h0m1.1 1.2h0m-0.8-2.4h0m-0.9 0.2h0m0.9 6.9h0m-0.7-17.2h0m1.9 24.8h0m-1.2-13.1h0m-0.6-12.2h0m1.4 19.1h0m-2.3-0.4h0m0.6-2.2h0m0.5 12.8h0m0.1 15.1h0m0.8 0.1h0m-0.4-45.2h0m0.1-4h0m0.8 3.1h0m-1.1 8.7h0m0.1 26.1h0m-0.2-37h0m0.9 7.6h0m0.1 22.8h0m-0.6 22.4h0m-0.3-29.2h0m0.2 6.6h0m0.6-17h0m-0.7-20.9h0m0.4 33.5h0m-1.4-2.8h0m0.5 2.1h0m0.3-4.5h0m0.4-16.1h0m0.2-6.6h0m-0.5 35.8h0m-0.2-26.1h0m0.7 19.7h0m-0.7 15.7h0m-0.3-2.5h0m0.6 11.3h0m-0.2-33h0m-0.1 4.6h0m11-11.8h0m-0.7 55.9h0m1.6-34.1h0m-1.5-26.9h0m-0.9-10.5h0m3.8 75.5h0m-1.2-37.4h0m0.7 30.2h0m-2.8-46.6h0m1.8 25.7h0m-2-65.7h0m2.2 56.9h0m-1.1-27.3h0m-0.1-4.3h0m-0.4-5.2h0m-0.2-2.2h0m1.7 35.9h0m0.7 16.5h0m-2.4-20.2h0m-0.4-13.9h0m3.7 53.2h0m-4.2-63.4h0m1.9 42.5h0m-0.6-39h0m1 27.9h0m0.1-15.7h0m-1.1 51.5h0m0.3-90.5h0m-0.3 58.7h0m-0.5-0.3h0m0.1-29.2h0m0.2 22.6h0m0.6-1.8h0m0.1 25.7h0m-1-40.6h0m1.3-0.2h0m-3.2-41.1h0m3.6 84.5h0m-2.4-89.5h0m1.4 41.1h0m1.4 31.9h0m-1.6-7.5h0m0.1-28h0m1.9 32.7h0m-0.5 33.5h0m-1.4-49.6h0m2.5 53.2h0m-1.4-42.8h0m-1.6 16h0m3 3.4h0m-3.4-24.9h0m0.8-48.6h0m0.2 46.7h0m0.2-6.5h0m-0.2 17.8h0m-0.4-1.5h0m0.8 2.9h0m-0.3-32.9h0m0.5 21.1h0m-2-20.3h0m3.5 43.7h0m-0.7-21.6h0m-2.6-31.5h0m0.3-16.4h0m0.4 66.4h0m0.5-43.1h0m1.1 55.2h0m-3-80.2h0m3.6 78.8h0m-1.7-14.9h0m0 0.5h0m0.8-29.9h0m0.1-12.6h0m-0.4 7.5h0m-0.1 12.9h0m-0.7-4.8h0m-0.8-28.4h0m0.7 36h0m1 8.1h0m-1-20.4h0m-0.6-21.4h0m0.3 19h0m-0.1-32.4h0m0.4 16.9h0m0.4 55.1h0m1.6-3.3h0m-0.4-12.3h0m-1.6-26.1h0m1.1 7.1h0m-1.6-10.4h0m2.4 70.1h0m-3.5-87.2h0m0.7 42.1h0m1.6-16.1h0m0.7 40.2h0m-0.5-26.1h0m0.2 3.7h0m-1.1-6h0m0.7 6.4h0m-1.2-11.9h0m0.6 21.9h0m1.3-1.8h0m-1.2-34.4h0m0.7 24.5h0m0.5 11.2h0m-1.7-56h0m0.4 44h0m0.9 18.8h0m0.3 5.6h0m-0.7-10.2h0m0.4-26.9h0m-0.8-13.9h0m1.6 33.7h0m-2.8-42h0m1.8 61.6h0m-0.4-28.8h0m-0.4-37.1h0m0.4 20.4h0m0.7 16.1h0m0.1-16.4h0m-0.8 22.3h0m0.5-3.9h0m0.8 33.1h0m-1-33h0m1-1.4h0m-0.8-23.1h0m-0.1 33.4h0m-1.1-1.5h0m2.4 17.5h0m-1.7-5.4h0m0.7-31.3h0m1.5 27.1h0m-0.7-2.4h0m0.3-13.6h0m-1.3 19h0m-0.5-10.9h0m-0.2-12.7h0m-0.4-9.5h0m2.4 30.5h0m-2.7-23.1h0m2.2 21.8h0m-0.9 10.5h0m-2.9-53.4h0m3.4 54.1h0m-0.1-26h0m-0.9-6h0m0.3-24.9h0m-0.3 28.5h0m1.2 29.2h0m-0.5 12.4h0m-0.1-28.9h0m-1.4-5.5h0m0.7-9h0m1.2 36.5h0m-2.5-34.6h0m2.6 9.1h0m-0.1-21.9h0m-0.5 29.6h0m-0.5 3.5h0m-1.7-38.7h0m2.5 31h0m-0.7 7h0m-2.5-62.7h0m3.1 41.2h0m-0.9-9.9h0m0.7 17.5h0m0.1 1.9h0m0.7-14.1h0m0.5 5h0m-1-2.9h0m0.6 15.5h0m0.8 15.1h0m-1.1-4.8h0m-1.5-20.1h0m0.9-5.3h0m-0.7-2.7h0m0.1 21.2h0m1.3-22.9h0m1.9 59.4h0m-3.4-80.1h0m-0.1-2.4h0m-0.8 8.1h0m1.8 50.1h0m0.5-18h0m1.8 39.6h0m-3-58.5h0m2.5 46.5h0m-1.8-36.5h0m-1.5-12.7h0m1.9 0h0m-1 12.2h0m0.2 5.1h0m-1.6-15.8h0m1.6 37.6h0m0.5-19.4h0m-1.9-48h0m2.5 62.6h0m0.5-3.1h0m-3.9-63.8h0m2.1 33.3h0m-0.5-32.9h0m2.6 86.5h0m-1.6-48h0m0.7 61h0m-0.5-33.8h0m-1.4-30.7h0m1.2 17.9h0m0.8 11.2h0m-2.3-53.9h0m0.3 6.2h0m1.6 48.3h0m-2-16.7h0m1.2 16.6h0m-0.5-28.6h0m0.3-0.4h0m-0.5-17.2h0m-0.1-11.9h0m0.4 55h0m1.4-11h0m-0.4 10.6h0m-2.3-7.9h0m2.4-13.1h0m0.1 18.7h0m-0.5-10.6h0m-2.2-49.6h0m3.9 64.8h0m-1.5-8.9h0m-0.3-49h0m-1.2 30h0m-1.9-11.8h0m3.7 37.1h0m0.9 25.7h0m-1.4-63h0m-0.8 40.3h0m6.2-42.9h0m-0.5 19.8h0m0.4 0h0m-0.4 11.3h0m0-22.1h0m-0.1 11.4h0m1.5-22.5h0m-1.2-0.2h0m1-8.6h0m-0.8-9.3h0m0.3 47h0m-1.3-7.5h0m2-0.7h0m0.4-23.4h0m-2.3 16.5h0m1 0.5h0m-1.6 7.5h0m2.2 0.6h0m-1.3-8.6h0m0.7-21.7h0m-0.2 28.8h0m0.4-10h0m0.2 0.2h0m0.3-2.2h0m-0.5-15h0m1-1.7h0m-0.4 4.1h0m-0.3 1.7h0m0.3 0.7h0m-0.5 13.7h0m1.2-17.6h0m-0.5 15.3h0m-0.5-8.5h0m0.4-5.9h0m-1.4 24.3h0m-1.1 9.3h0m1.5-6.8h0m0-12.6h0m0.7-4.8h0m-0.4-5.6h0m-0.2 9.4h0m-0.5 21h0m1.7-39h0m-1.8 20h0m-0.2 3h0m1.1 14.7h0m0-20.5h0m0.3 0.3h0m0.6-18.8h0m-1.5 26h0m-0.2 22.8h0m1.2-20.9h0m-1.3-9.2h0m1.6-4.2h0m-0.9-1.5h0m1-5.1h0m-0.6-5.7h0m-1.2 22.7h0m0.1 7.6h0m0.6 0.7h0m0.5-3.6h0m-1.5 3.7h0m1.2-12.7h0m0.3-17.4h0m-1.5 33h0m2.4-22.9h0m-1.1 5.5h0m1 8.9h0m-2-3.2h0m0.8-13.1h0m-1.3 11.8h0m1.2-3.6h0m0.5-6.3h0m0.2-8.7h0m-1.5 26.2h0m0.7 2.2h0m-0.4-9.2h0m0.2 9.8h0m-0.4-2.7h0m-0.1-26.1h0m1.1 9.2h0m0.9-6.5h0m-1.6 14.3h0m2.2-19h0m-0.9 22.8h0m-1.2-26.7h0m0.3 11.7h0m-0.2-4.2h0m0.6 17.9h0m0.5-22.3h0m0.2-5.8h0m-2.1 37.6h0m1-12.8h0m-0.1 2.6h0m0.3-3.7h0m-0.1 9.7h0m-1.7 24.6h0m2.3-44.7h0m-0.2 5h0m-0.9 16.6h0m-0.2-23.7h0m1.9 2.7h0m-2.4 7.6h0m1.4-8.1h0m0.5 23.2h0m-0.9-18.6h0m0.4-2.2h0m-0.4 21.2h0m0.5-24.6h0m0.6 1.7h0m-0.9 4.2h0m0.3 25.8h0m-0.8-2.6h0m-0.1-6h0m1-24.7h0m-0.5-2.2h0m0.8 4.5h0m-0.3 14.2h0m-1.1-24.5h0m1.2 30.1h0m-0.7-26.4h0m-2.1 43.7h0m2.5-42h0m-1.6 13.9h0m0.1 31.8h0m2-24.6h0m-0.6 13.1h0m0.5-7h0m-1.2-13.5h0m0.9 1.7h0m-3.1 24.3h0m-0.5 2.7h0m0.6-2.5h0m-1.8 1.8h0m1.5 12.7h0m-0.8-19.9h0m2.3 21.9h0m-2.7-12.6h0m1.6 1h0m-1.7 0h0m-0.1-11.1h0m0 0.5h0m0.6-2.7h0m3.4 17.2h0m-3.5-4.2h0m-0.9 0.7h0m2.8 8.6h0m-3-13h0m2.4 3.4h0m-0.9 0h0m0.5-6.6h0m2.2 16h0m-1.4 3.3h0m-1.6-0.9h0m2.1-9.2h0m-1.1-1.5h0m0.7 6.1h0m-2.7-18.6h0m3 11.2h0m-0.6-7.5h0m-1.3 4.4h0m1.5 7.2h0m-2.6-1.7h0m-0.3 2.1h0m1.3-14.5h0m-1.9-7.3h0m-0.1-0.5h0m2.3 23.6h0m-0.3 7h0m0.6-12.4h0m-1.4-3.4h0m2 8.1h0m-1.2-4.5h0m2.5 1.4h0m-0.8 6.5h0m-1.8-11.9h0m0.3 16.4h0m-0.5-10.9h0m2.4-11.2h0m-2.5 4.4h0m1.8 17h0m-1.8-21.1h0m0.6 20.1h0m3.9-4.4h0m-2.4-12.6h0m-1.8-1.3h0m3.1 6.5h0m-3.3 5.4h0m0.4-5.8h0m1.8 0.3h0m-0.4-5.6h0m-0.5-3h0m-3.4-3.7h0m3.8 13.6h0m-1.2-0.9h0m4.3 7.9h0m-3.7 7.1h0m-3.2-26.3h0m2.6 11.6h0m-1.2-11.7h0m1.5 7.6h0m1.8 14.1h0m-0.1-16.5h0m-2.6 4h0m2 14.5h0m-1.7-21h0m-0.7 5.2h0m1.7 21.3h0m1.4-11.7h0m-0.8-2.5h0m-1.9 10.6h0m2-11.6h0m1.6-6.6h0m-2.4-0.3h0m1.2 16.8h0m-0.4-17.6h0m-0.5 17.3h0m-2.4-9.8h0m3.4 6.3h0m-3.7-17.6h0m4.6 16.8h0m-1.3-3.3h0m-2.3-5.1h0m1.9 3.6h0m0.2 8.2h0m-0.8-16.5h0m1.2 5.8h0m-3.7-15.7h0m1.3 20.5h0m3.2-8.5h0m-6 3.8h0m4.4-3.2h0m-1.5 8.6h0m3.4 7.2h0m30.7-40.9h0m1.7 4.3h0m0.6 29.6h0m0.2-11.8h0m-0.6-15.5h0m-1.8 5.3h0m0.9-26.2h0m0 40h0m-0.3-24h0m-1.8-18h0m3.3 16h0m-1.3-8.2h0m-2-1.7h0m3.7 22.7h0m-3-19.4h0m3.1 14.3h0m-3.2-19.9h0m1.8 39.3h0m-0.8-12.5h0m1-1.6h0m-1.1-29.8h0m1.2 22.3h0m2.1 22.7h0m-4.4-32.1h0m0.5 2.8h0m2 31.6h0m-2.8-41.9h0m3.4 37.6h0m-1.4-16.9h0m-0.6-20.5h0m-0.4 15.5h0m1.5 0.9h0m-2.9-23.2h0m1.3 3.5h0m1.4 26.6h0m-2.7-38.4h0m2.8 46.8h0m-3.1-50.3h0m1.7 38.9h0m2.1 4.1h0m-2.5-24.8h0m2.8 41.2h0m-2.7-50.8h0m2.9 41.7h0m-0.1-17.8h0m0.6 40.2h0m-2.6-49.2h0m1 23.5h0m-2-26.5h0m0.5-5.9h0m0.8 27.1h0m0.7 8.6h0m-0.7-19.6h0m1.4 6.8h0m-1.5 5.9h0m-1.4-21.6h0m1.4 13.5h0m-0.4-21.7h0m1.5 34.4h0m-0.3-14.1h0m-2.1-15.8h0m0.4 1.4h0m0.9 12.1h0m1.6 11.4h0m-1.8 1.8h0m-0.3-6.3h0m3.3 13.9h0m-4.7-6h0m1.9-6.8h0m2.3 18.8h0m-3.7-32.6h0m-0.8-12.8h0m2.7 42.2h0m1.6 7.7h0m-4.1-66.4h0m4.7 68.3h0m-0.6-15.7h0m-1.9-7h0m-1.5-27.1h0m2.1 42.2h0m0.4 5.6h0m-1.5-35.5h0m0.4 1.2h0m1.4 23.3h0m-2.2-28.6h0m0.5-4.8h0m0.9 17.3h0m0.5 11.7h0m-2.7-28.3h0m0.7 3.5h0m1.4-12.8h0m1 43.9h0m-1.6-36.5h0m0.1 19.9h0m1.4 24.6h0m-1-16.7h0m-1.1-11.2h0m2.2 5.3h0m-1.3-16.6h0m1.4 40.8h0m-2.3-43.1h0m1.2 22.9h0m0.2-13.2h0m-2-23.3h0m0.9 19.4h0m1 31.2h0m0.4-9h0m-0.6-17.5h0m-1.3-12.3h0m2.8 21.4h0m-0.8 17.3h0m-2.7-40.8h0m-1.2 3.6h0m3.8 19.8h0m-0.2 1h0m0.6 12.1h0m-1.7-29.4h0m1 22h0m0.4-9.4h0m-0.8 4.1h0m-2.6-17.2h0m2.8 10h0m-0.6-5.3h0m1.1 9h0m0.8 5.2h0m-1.6 4.2h0m1.2 16.5h0m0.1 2.4h0m0.3-13.2h0m-1.5-16.4h0m0.9 31.4h0m0.3-11.2h0m-2.2-29.3h0m1.1 35h0m-0.9-26.6h0m-0.7-24h0m2.2 45.4h0m-2.3-22.9h0m0.3-22.3h0m2.7 43.6h0m0.5-4h0m-2.8-42.4h0m0.6 31.9h0m1.7-6h0m-3-13.2h0m0.8-0.6h0m1.3 31.2h0m-0.6-17h0m0.5 11h0m0.3 2.7h0m2.6 23.8h0m-5.3-60.7h0m3.8 60.4h0m-3.4-51.9h0m0.7 2.8h0m1.3 17.8h0m0.2 16.3h0m-2.4-31h0m1.8 28h0m-1-9.9h0m1.9 23.2h0m1.2-2.2h0m-2.7-55.8h0m2 43.8h0m-1-20.2h0m0.3 13.6h0m0.9-3h0m-1.8-5.7h0m-0.4 4.8h0m0.2 16.7h0m0.5-16.3h0m1-4.7h0m-0.7-28.3h0m-1.7 11.8h0m0.8-5.3h0m0.3 9h0m-0.8-1.9h0m1.6 33.9h0m-0.8-19.4h0m1.9 0.7h0m-1.3 1.1h0m-0.5 5.7h0m0.1-18.5h0m0.2 27.3h0m2.7 15.6h0m-2.9-5.5h0m0.6-19h0m-2-35.3h0m-0.1 20.4h0m0.2 8.5h0m4.4 5.6h0m-3.4-9.6h0m-0.2-35.4h0m-2 16.3h0m0.8-14h0m1.1 22.3h0m0.8 25.4h0m-1.7-28.8h0m-0.3-16.9h0m0.6 19h0m-1.1-3.5h0m1-2.4h0m1.9 34.7h0m-0.8-24.8h0m-0.9-7.9h0m0.5 42.7h0m0.7-29h0m-1.8-0.5h0m10.6-6.5h0m-1.1-4.4h0m-0.8 19.2h0m-0.2-33.9h0m0.3 19.3h0m0.9-14.2h0m-1.7 23.1h0m-0.8 17.5h0m3.5-22h0m-1.1-20.2h0m-2.1 29.8h0m2.1-13.1h0m0.5-3.2h0m-0.8-13.5h0m0.8 4.7h0m-0.6-2.5h0m-0.8 22.1h0m0.9-0.2h0m-2.8-3.2h0m3-3.7h0m0.3 6.2h0m-2 3.5h0m0.5-14.8h0m0.7 1.9h0m0.2-13.8h0m-1.2 32h0m0.4-16.2h0m0.6-3.2h0m-1.2 19.8h0m1-21.4h0m-1.4-1.9h0m2.5-8.5h0m-2.8 35h0m3.8-43.4h0m-0.3-5.1h0m-0.2 6.2h0m-2.1 22.4h0m1.3-23h0m1.5 5.3h0m-2.8 20.8h0m0.9 13h0m0.3-20h0m-0.9 15.5h0m1-14.3h0m-0.2-12.1h0m-0.2-2.2h0m0.2 22.1h0m-0.9 2.8h0m0.7-15h0m1.7-20.5h0m-0.3 6.2h0m-4 27.2h0m1.4 10.6h0m1.2-8.6h0m-0.8-6.7h0m2.2 2.5h0m-0.2-28.3h0m0.1 28.2h0m-1.3 0.5h0m-1.4 15h0m-0.1-10.8h0m0.5-0.5h0m-1.2-4h0m1.5-8.2h0m1.9-10h0m-3.1 25.2h0m2.4-15.9h0m0.5 3.1h0m-1.7 10.5h0m1.7-32.3h0m0.3 20.4h0m-1-16.6h0m-0.5 25.4h0m0.8-4.5h0m-0.1-3.9h0m-1.2-14.4h0m0.8 28.4h0m-0.3 5.9h0m1.4-33.9h0m-2.2 22.5h0m0.7-8.1h0m-0.7 10.8h0m-0.1 2.1h0m2.3-5.1h0m-0.7-27.2h0m0.3 8.2h0m-1.6 21.8h0m0.5 7.2h0m-0.4-14.9h0m0.9 17.5h0m0-28.3h0m-0.7 10.5h0m0.9-6.9h0m-1.1 10.4h0m1-5.8h0m-0.4-1.8h0m1.4-16.2h0m-0.6 26.4h0m-1.8 2.9h0m0.6-9.5h0m-0.3 8.6h0m1.8-25.2h0m-0.2 17.7h0m-1.7-21.2h0m-0.2 39.4h0m0-4.7h0m2.4-31.2h0m-1.6 27.6h0m-0.9-1.8h0m1.1-27.3h0m-1.1 37.9h0m1.1-13.2h0m0.1 9.6h0m-0.5-14h0m-2 20h0m1.9-20h0m-1.4 22.7h0m3-24.7h0m-2.4 4.3h0m1.5-13.8h0m-1.2 12.1h0m-0.4 11.3h0m1.5-26h0m-1 12.2h0m1.4-13.3h0m-0.6 21.6h0m-1.5-6.4h0m-0.6 29.5h0m2.3-31.4h0m0.4-22.3h0m-1.6 28.7h0m1.5-10.4h0m0.7 4.6h0m-0.7-4.9h0m-0.2-22.6h0m1.8 8.3h0m-3.1 7.4h0m0.4 17.7h0m-0.1 0.8h0m-0.2 4.8h0m1.7-24.3h0m-1.7 20.5h0m-1 0.3h0m1.5-6.6h0m1.8-19.2h0m-0.7 14.3h0m0.2 6.7h0m-0.8 15h0m-2.7 7.7h0m2.3-20.2h0m1.6-23.3h0m-1 19h0m-0.9 1.7h0m2-15.9h0m-2.7 26.7h0m1.2 4.9h0m0.6-24.7h0m0.1-4.6h0m-2 23.7h0m1.3-32.9h0m0.2-6.9h0m-0.3 16.3h0m-0.3 4.7h0m-0.5 16.1h0m-0.3-4h0m1.6-7.7h0m0.7-2.5h0m0.5 2.5h0m-2 6.2h0m0.5-19.2h0m1.5-7.6h0m-1.7 29.1h0m-1 10.2h0m1.4-7.9h0m0.6-29.3h0m-1.6 17.9h0m2-18.3h0m-1.5 8.7h0m0.7 10.6h0m0.2-16.3h0m-1.1 17.6h0m1.5-16.3h0m-5.6 37.8h0m0.6-2.8h0m-2.3-4.4h0m1.9 2h0m0 1.5h0m3.1 9.8h0m-3.4-5.9h0m-1.3-1.6h0m-0.1-1.2h0m2.6 7.5h0m-0.9-9.5h0m0.3 2.4h0m1.7 9.7h0m-1.6-20.3h0m1.4 18.2h0m-2.1-14.3h0m4.6 16.3h0m-5.9-9.7h0m2.9-6.3h0m2.1-2.8h0m-1.1 2.2h0m-2.9 3.3h0m2.5 15.6h0m-2.1-15.9h0m3.7 25.7h0m-0.3-16.8h0m-3.7-0.1h0m1.9-13.2h0m-1.6 7.1h0m2.5 17h0m-1.5-15.5h0m0.5-6.7h0m1.2 18.4h0m-5.1-24.2h0m3 17.4h0m1.3 11.8h0m0.6-20.2h0m-1.1 19.6h0m-0.9-31.2h0m0.5 25.8h0m-0.2-10.1h0m3-5.2h0m-6.3-5.5h0m3.9 30.5h0m-0.4-18.5h0m1.8 0h0m-3.4-16.1h0m-0.1 15.4h0m0.8-2.9h0m-1.3 2.8h0m3.2 16.6h0m-0.9-30.8h0m1.7 16h0m-0.8 3.7h0m-3.6-14.4h0m2.3 6.4h0m1 18.4h0m-5.1-30h0m2.9 12.9h0m2.4 12.2h0m1.7-4.6h0m-2.4-6.3h0m2.6 16.6h0m-4.1-13.8h0m-1.1-6.6h0m-0.2-13.2h0m2.3 21.1h0m0.5-0.5h0m-1.8-6.3h0m0.2-10.3h0m4.3 11.2h0m-2.9-1.7h0m1 3.6h0m-0.7 8.6h0m-3.4-12.5h0m5 18h0m-3.2-14.4h0m4.4 4.2h0m-4-14.2h0m-0.6 10.1h0m2.5-1.9h0m-1.3-1.8h0m-3.1 6.6h0m2.6 4.8h0m0.4-10.3h0m0.4 3.3h0m-1.8 7h0m1.6-4.4h0m0.3 1.1h0m-2-3.2h0m1.2-10.2h0m1.2 2.7h0m-0.5 7.6h0m0.7 14.3h0m1-17h0m-1.7-8.9h0m-1.1-4.3h0m-0.9 11.5h0m-0.7 7h0m0.8-2.9h0m4.2-0.9h0m-0.8-6.6h0m-3.6 12.9h0m0.6-21h0m-0.8-0.1h0m6.5 31.6h0m-3.4-4.9h0m-5.1-33.6h0m4.1 15.1h0m1.3 6.4h0m-5-12.9h0m3.1-0.8h0m0.1 14.4h0m-1.3-14.4h0m1.3 5.9h0m1.7 15.8h0m-1.7-3.3h0m-1.2-4.4h0m2.7 13.2h0m-1.5-13.8h0m-0.6-19.1h0m1.3 25.6h0m-3.6-25.3h0m1.8 10.9h0m-3-7.7h0m4.7 19.8h0m-2.2-1.7h0m2.4-3.8h0m-1.5 0.1h0m-1.1-14.3h0m36.4 19h0m0.4-29.6h0m-2.2-11.2h0m1.6 11.3h0m-1-3.4h0m0.3 4.2h0m-0.9-9.7h0m2.3 23.2h0m-0.4 9.8h0m-1.6-27.5h0m-0.2 2.5h0m2 32.8h0m0.5-10.1h0m-2.2-25.9h0m1.7 22.4h0m-1.7-35.2h0m-0.4 3.4h0m2.6 35.7h0m-3.1-38.2h0m1 24.2h0m1.7 2.6h0m-0.6-1.2h0m-2.4-29.2h0m2 17.5h0m-0.1 9.3h0m0.3 4.8h0m-1.7-38.4h0m1.3 40h0m-1.9-14h0m2.8-0.8h0m1.6 35h0m-2.7-21.6h0m0.4-10h0m1.3 28.3h0m0.7-5.9h0m-3-18.3h0m2-3.5h0m-1.5-2.5h0m-1.2 0.8h0m1.3-0.7h0m-1.7-3.7h0m1.6 25.7h0m1.5-22.2h0m-3.5-23.8h0m0.1 7.5h0m2.2 16.5h0m-0.5-13.6h0m0.7 9.8h0m-0.7 7.2h0m1.5 6.6h0m-3.2-28.2h0m2.3 12.8h0m0.6 7.3h0m0 13.5h0m-0.4-13.1h0m-3.4-3.9h0m2.1-12.7h0m0.6 11.6h0m0.5 27.2h0m1.5 2h0m-0.1-1.1h0m1.3-14.3h0m-3.4-6.4h0m-0.2-14.1h0m1.8 31.7h0m-1-35.3h0m0.2 2.3h0m0.7 28.3h0m0.5 4.9h0m-0.6-7.4h0m0.6 3.9h0m-2.5-29.9h0m1.2 15.6h0m1.7 16.2h0m-2.7-27.7h0m2.1 25.1h0m-1.7-37.1h0m-0.7 1h0m0.2 7.3h0m1.1 5.8h0m0-6.7h0m0.3 12.7h0m-1.9-1.3h0m0.3-15.9h0m2.8 42.7h0m-3.3-53.7h0m3.5 48h0m-2.2-11.6h0m0.2-27h0m-1.9-3.7h0m4.5 40.6h0m-2.5-14.5h0m0.5 10.2h0m-1.5-19.9h0m2.9 25.8h0m0.2-11.1h0m-3-2.2h0m1.2-8.8h0m-0.6-11.4h0m2.2 40h0m-1.7-23.8h0m-0.3-17.3h0m-0.3 5.3h0m2.4 33.6h0m-1.7-17.6h0m0.9 10.3h0m0.5-13.7h0m-0.3 0.9h0m0.1 5.9h0m0-0.6h0m-0.7-7.1h0m-2.3-30.5h0m1.5 29.8h0m-0.6-13.5h0m-0.9-7.8h0m1.3 23.3h0m-0.5-11.7h0m3 27h0m-1.7-14.4h0m-0.2-27.8h0m-0.2 16.3h0m0.5 5.2h0m1.7 31.6h0m-2.1-23h0m-3.3-36.9h0m4.2 50.5h0m-1.1-13.9h0m-0.3-0.9h0m-1.6-36h0m2.2 29.6h0m0.7-8h0m-3 5.4h0m1.9 7.9h0m-0.2-17.9h0m1.4 31.8h0m-0.5-32.3h0m-1 35.7h0m0.1-9.9h0m0.8-18h0m-0.9 0.5h0m-3.7-10.4h0m5.3 31.3h0m-1.9-22h0m3.4 41.1h0m-3.9-47.7h0m-1.2-4.5h0m1.4 17.4h0m2.8-1.6h0m-2.8-4.4h0m2 2.5h0m0.9 18.8h0m-2-10.7h0m-0.1 8.9h0m0-3h0m-0.4-29.4h0m-0.1 22.7h0m0.6-2.5h0m-1.5 6.3h0m2.3-5.1h0m-0.4-12.3h0m-1.4-22.5h0m-1.4 8.8h0m2.7 36.7h0m-0.2-21.1h0m0 18.8h0m0.8 19.3h0m-2-52.9h0m0.4 25.9h0m0.8-6h0m1.6 21.9h0m-2.1-27.9h0m2.5 32.5h0m-1.4 5.6h0m-3.4-56h0m2 28.9h0m1.3 4.6h0m1.3 0.1h0m-2-11.5h0m-0.3 7.2h0m0.1-15.6h0m1.4 24.6h0m-1.8-28.8h0m8.4 38.6h0m0-1.5h0m0.3-7.8h0m0.7 12.2h0m0-9.5h0m-1 13.8h0m-0.1-27.6h0m0.3 32.4h0m0.1-4.7h0m-0.4 5.5h0m1.4-3h0m-0.8 2h0m0.6-22.5h0m0.1 26.4h0m-0.8-21h0m-1.2 19h0m1.3-14.9h0m-0.9 5.9h0m0.5 15.4h0m1.1-38h0m-1.7 34.6h0m2.1-23.9h0m-2.5 26.4h0m1.7-9.6h0m0.7-24.7h0m-0.6-13.2h0m-0.7 44.3h0m0.3-21.9h0m-0.6 0.5h0m2.8-1.6h0m-1.8 4.1h0m0.7-25.1h0m-1.6 21.4h0m1.8-23.9h0m-0.8 26.3h0m2.2-15.6h0m-1.6 2.7h0m0.3-10.9h0m-0.9 26h0m-0.5-4.4h0m0.5 4.3h0m-0.3-9.4h0m0.8-20h0m-0.5 10h0m-0.5 17.8h0m0.4-29.3h0m-0.9 49.8h0m-0.2-12.7h0m1.4-9.9h0m-0.5 12.9h0m-0.9 11.4h0m1.7-45.7h0m-1.7 12.2h0m-0.6 25.3h0m1.1-14.7h0m-0.4 7.1h0m0.7-3.5h0m0-10.4h0m-1.4 21.6h0m1.9-2h0m-0.1-4h0m-0.7-0.4h0m0.8-11.4h0m-0.9-12.5h0m0.6 25h0m0.9-21.7h0m-1.5 25.9h0m0.3 1.5h0m0.6-15.4h0m-1.8 15.4h0m0.9-12.9h0m0.1 5.2h0m0.1-8.9h0m0.4-7.3h0m-0.3 10.9h0m0.6 7.2h0m-0.4 3.3h0m-1.2-19.7h0m-0.8 3.9h0m3.3 12.5h0m-3.1-11.2h0m0.2-2.8h0m0.9-1.5h0m1.1-4.7h0m0.8-5.9h0m-1.5 5.9h0m1.4 3.9h0m-1.4 13.5h0m1-15.5h0m-0.8-6.4h0m-0.7 11.2h0m1.9 1.5h0m-2.7 1.9h0m1.9-19.9h0m-1 8h0m0.3 9.9h0m0.7-11.8h0m-2.1 9.3h0m2.1 25.8h0m-1.2-10.4h0m2-14.8h0m-1.8 16.2h0m0.4-9.1h0m-1 5.7h0m1.3 10.9h0m-0.1 0.6h0m-0.3-30.5h0m0.8 31.8h0m0.6-3.3h0m-1.6-26.8h0m1.4 21.1h0m-0.8-21.3h0m0.8 11h0m-0.6-14.5h0m-0.1 31.8h0m0.7-47h0m-0.5 14.7h0m-2.1 20.7h0m0.4 5.1h0m0 6.7h0m1.3 2h0m1.3-12.9h0m-1.8 7h0m0.4-22.3h0m1.3 4h0m-2.9 11.2h0m0.9 12h0m1.7-16.1h0m-1-2.5h0m-0.8 10.1h0m0.5-0.4h0m1-29.3h0m-0.3 18.2h0m0.1 1.8h0m-0.3-6.5h0m-0.4 17.1h0m-0.6-1.2h0m-0.4-5.3h0m-0.6 8.6h0m2.3-20h0m0.3 0.8h0m0.5-23.5h0m-1.4 34.2h0m0.5 2.7h0m0-17.9h0m0.9 2.5h0m-1.3-0.5h0m-0.4 25.7h0m1.4-23.7h0m-0.6-9.6h0m0.4 18.1h0m-0.9 2.5h0m0.7-5.4h0m0.2 2.9h0m0.5-15.9h0m-2.1 27.1h0m-4.6-19.8h0m2.2 11h0m-2.6-2.7h0m3.9 6.7h0m-2.8-0.3h0m-1.5-5.6h0m7 21.1h0m-5.7-20.2h0m1.6 10.4h0m2 2.7h0m-5.5-24.9h0m-1.2-3.2h0m2.8 12.8h0m-0.1 2.5h0m3.5 15.4h0m-6-24.3h0m4.8 3.7h0m-2.8 9.9h0m-1-24.9h0m-0.6 4.4h0m4.1 34.1h0m-0.1-10.3h0m3.9 2.4h0m-4.9 0.2h0m-2-27.2h0m-0.4 11.9h0m2.9 14.8h0m0.7 1.8h0m-6.2-28h0m0.7-0.9h0m3.4 9.8h0m-1.4-11.4h0m6.6 27.4h0m-1.7-7.6h0m-6.5-12.1h0m1.8 11.6h0m0.8-14.4h0m-0.8 19h0m1.9-12.4h0m-2.3-8.4h0m5.7 25.6h0m-3.7-11.6h0m4.1-0.3h0m-3.8 1.9h0m1.7-11.5h0m-4.3-1.4h0m0-1.2h0m5.8 29.6h0m-1.2-18h0m-2.4-2.8h0m4.9 14.7h0m-2.8-9h0m-7-20.2h0m8 22.4h0m-5.5-20.3h0m4.2 18.1h0m-1.4 12.7h0m1.9-5.3h0m-4-10.4h0m4.6 10.3h0m-0.1-1.3h0m-2.1-10.7h0m-2.5-9h0m5.3 29.3h0m-5.1-17.8h0m4.6 5.4h0m-1 4.7h0m-0.2 7.8h0m-3.1-27.3h0m2.9 18.7h0m-3.6-27.5h0m-1-1h0m1.6 10h0m4.4 16.4h0m-5.5-20.9h0m2.1 19.9h0m1.3-23.2h0m-2.6 16.5h0m-1.5-13.5h0m3.8 21.2h0m1.8-6.4h0m-2.5-7.9h0m3.1 13.7h0m-3.9-10.1h0m-0.1 3.9h0m2.5 18.6h0m-2.6-8.9h0m3.1-5.4h0m-4.2-15.5h0m-1.4 9h0m3.2-11.9h0m-3.9 5.5h0m5-9.2h0m1.6 27.7h0m-0.5-7.5h0m-3.4-5.5h0m7.6 23.3h0m-5.2-22.7h0m-2.3-10.2h0m1.2 12.1h0m-2.2-1.6h0m3.3-8.1h0m-2.1-4.3h0m-0.2 8.4h0m-0.7-1.9h0m1.6 14.6h0m1.5-4.6h0m-2-0.8h0m4.9 23.9h0m-4.5-29.3h0m1.1-7.4h0m3.5 23.9h0m-5.2-12.7h0m0-3.9h0m-2.6-10.8h0m4.7 15.9h0m-1.7-12h0m2.5 12.1h0m0.7 1.5h0m-2.4-5.4h0m-2.7-11h0m2.8 18.5h0m5 6.2h0m-5.2-19.3h0m2.6 23.6h0m-3.1-22.8h0m2-0.4h0m0.5 6.4h0m0.1 4.8h0m-0.2-0.9h0m2.3 18.3h0m-1.7-16.6h0m-5.7-20.1h0m5 5.4h0m1.1 13.5h0m-2.5 18h0m0.7-16.6h0m-2.5-0.2h0m3.7-11.4h0m-1.7 6.8h0m-2.3-4.4h0m1.2-0.5h0m1 7.5h0m1.4-0.3h0m-2.9-1.9h0m-1.8-15.2h0m4.9 29.7h0m1.3 8.1h0m-2.8-21.5h0m0-3.8h0m0.7 6h0m-0.5 0.4h0m2.5 7.1h0m-7-12.2h0m4.3 20.3h0m-4-23h0m37 19.7h0m0.2-47.3h0m0.7 21.4h0m-0.9-34.7h0m1.5 0.9h0m-0.7 32.8h0m-1.3-19.5h0m1.1 4.3h0m0.3-2.1h0m0 19.6h0m-0.3-19.7h0m-0.1 33.3h0m0-37.4h0m-0.1 18.3h0m-0.8-24.1h0m1.1 34.2h0m-1.1-46.1h0m0.6 47.7h0m1.1-23.5h0m0-4.2h0m-0.4-19.1h0m-0.3 42.5h0m-1.1-30.8h0m0.8 19.7h0m0.1 12.2h0m-0.6-31.1h0m0 8.8h0m1.4 10h0m-0.8-18.4h0m-0.5 13.6h0m0.7-10.7h0m0.6 25.9h0m0.2 4.5h0m-0.8-47.9h0m0.3 45.2h0m-1.4-7.7h0m0.4-11.8h0m-0.1 9.8h0m-0.2-2.9h0m-0.2 7.1h0m0.9 20.4h0m-0.8-15.2h0m1.6 17.6h0m-0.3-22.3h0m0.1-18.1h0m-0.1 13.5h0m0.1-7.7h0m-0.4 23.7h0m-0.8-34.8h0m1.9 19.7h0m-0.6-11.7h0m-0.2 19.4h0m-0.1 2.9h0m0.1-8.1h0m-0.9 9.4h0m0.7-19.5h0m-0.9-15.6h0m1.2 49.8h0m-1.1-38.4h0m0.8 4.3h0m0.2-15.6h0m0.6-2.6h0m-1 31.8h0m0.1 9.7h0m1.1-36.7h0m-0.6 7.2h0m-1.2 8.1h0m0.1-1.3h0m-0.6-5.6h0m1.1 6.8h0m0-14.7h0m-0.3 10h0m0.3 0h0m0 38.5h0m-0.4-54.4h0m0.3 21.5h0m0.1 19.1h0m0.4-45.4h0m0.7 35.2h0m-0.8 18.2h0m0.1-9.1h0m-0.4-9.1h0m0.3-16.3h0m-0.9 10.7h0m1.4-12.9h0m-0.8-1.9h0m-1.1 28.1h0m1.3 7.6h0m0.7 3h0m-1.4-32.8h0m1-0.7h0m-0.3 15.1h0m0.3 0.3h0m0.1-1.6h0m0.3-42.2h0m-1 44.2h0m0.3-29.2h0m0.5 55.1h0m-0.2-47.2h0m-0.1 18.1h0m-0.3 11.5h0m-0.8-13.5h0m1.4-15.6h0m-1.2 0.1h0m-0.3 35.3h0m0.1-43.3h0m0.5 37.4h0m-0.8-39.2h0m1.1 13.5h0m0 35.6h0m-0.8-23.8h0m0.1-33.7h0m1.4 51.8h0m0.6 0.2h0m-1.6-14.1h0m0-13.4h0m-0.4 25.2h0m1.3-39.9h0m-1.1 4.2h0m1.8 3.6h0m-1.6-23.9h0m0.2 9.7h0m0.3 1.2h0m0.4 4.6h0m0.1 19.1h0m-1.1-24.1h0m0.1 26h0m1 32.4h0m-1-54.8h0m-148.1-34h0m5.2 115.3h0m77.1 13.2h0m27.2-130.6h0m-116.1 111.1h0m42.4-86h0" stroke="#0000ff" stroke-width="2.8" stroke-linecap="round" fill="none"/>
<g font-size="25.2" fill="#222222" stroke="#222222" stroke-width="0.45">
<text x="60.3" y="209.30" text-anchor="end">0</text><text x="60.3" y="88.53" text-anchor="end">2</text><text x="60.3" y="28.15" text-anchor="end">3</text><text x="60.3" y="408.00" text-anchor="end">-3</text><text x="60.3" y="357.23" text-anchor="end">-2</text><text x="45.9" y="306.46" text-anchor="end">-</text><text x="60.3" y="255.69" text-anchor="end">0</text><text x="60.3" y="606.80" text-anchor="end">-3</text><text x="60.3" y="562.23" text-anchor="end">-2</text><text x="45.9" y="517.65" text-anchor="end">-</text><text x="60.3" y="473.07" text-anchor="end">0</text><text x="74.80" y="635.6" text-anchor="middle">36</text><text x="142.06" y="635.6" text-anchor="middle">38</text><text x="209.32" y="635.6" text-anchor="middle">40</text><text x="276.58" y="635.6" text-anchor="middle">42</text><text x="343.84" y="635.6" text-anchor="middle">44</text><text x="411.10" y="635.6" text-anchor="middle">46</text><text x="478.36" y="635.6" text-anchor="middle">48</text><text x="545.62" y="635.6" text-anchor="middle">50</text><text x="612.88" y="635.6" text-anchor="middle">52</text><text x="680.14" y="635.6" text-anchor="middle">54</text><text x="747.40" y="635.6" text-anchor="middle">56</text>
</g>
<g fill="#222222"><path transform="translate(0,139.72)" d="M55.25-9.0V8.05H53.05V-5.6Q51.8-4.3 49.0-4.1V-6.3Q52.2-6.6 53.3-9.0Z"/><path transform="translate(0,297.26)" d="M55.25-9.0V8.05H53.05V-5.6Q51.8-4.3 49.0-4.1V-6.3Q52.2-6.6 53.3-9.0Z"/><path transform="translate(0,508.45)" d="M55.25-9.0V8.05H53.05V-5.6Q51.8-4.3 49.0-4.1V-6.3Q52.2-6.6 53.3-9.0Z"/><path transform="translate(0,419.30)" d="M55.25-9.0V8.05H53.05V-5.6Q51.8-4.3 49.0-4.1V-6.3Q52.2-6.6 53.3-9.0Z"/></g>
<text x="88.0" y="52.6" font-size="25.4" letter-spacing="-0.65" fill="#000" stroke="#000" stroke-width="0.45">GMSD</text>
<text x="411.2" y="667.2" font-size="27.2" fill="#222222" stroke="#222222" stroke-width="0.45" text-anchor="middle">DOY</text>
<text transform="translate(27.0,310.8) rotate(-90)" font-size="27" fill="#222222" stroke="#222222" stroke-width="0.45" text-anchor="middle">SIS URE [m]</text>
</svg>
</body></html>
